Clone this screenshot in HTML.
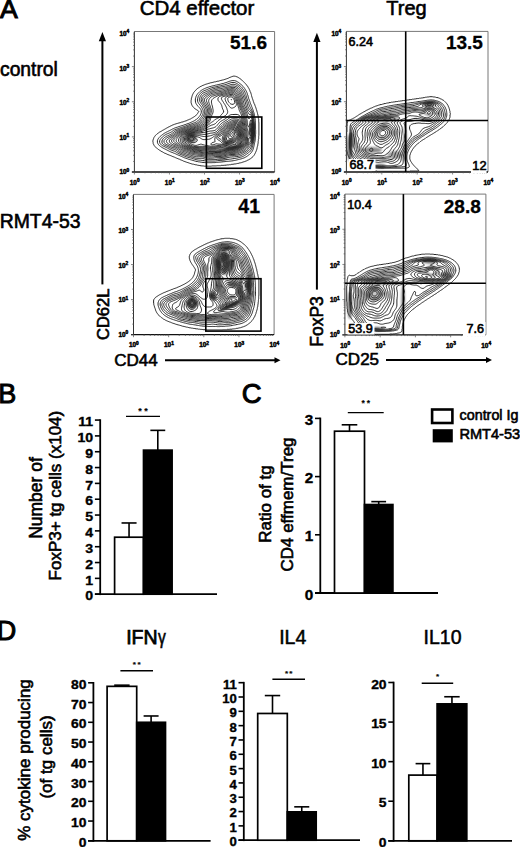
<!DOCTYPE html>
<html><head><meta charset="utf-8"><style>
html,body{margin:0;padding:0;background:#fff;}
svg{display:block;}
text{font-family:"Liberation Sans", sans-serif;fill:#000;stroke:#000;stroke-width:0.6px;}
text[font-weight=bold]{stroke-width:0.3px;}
</style></head><body>
<svg width="520" height="847" viewBox="0 0 520 847">
<rect width="520" height="847" fill="#fff"/>
<text x="0" y="18.1" font-size="26.6" font-weight="normal" text-anchor="start" style="stroke-width:1.0px">A</text>
<text x="197" y="15" font-size="20.5" font-weight="normal" text-anchor="middle" >CD4 effector</text>
<text x="406.5" y="15.4" font-size="20" font-weight="normal" text-anchor="middle" >Treg</text>
<text x="0" y="76.4" font-size="19.3" font-weight="normal" text-anchor="start" >control</text>
<text x="-0.3" y="227.7" font-size="19.4" font-weight="normal" text-anchor="start" >RMT4-53</text>
<defs><filter id="sb" x="-5%" y="-5%" width="110%" height="110%"><feGaussianBlur stdDeviation="0.35"/></filter><filter id="sp" x="-50%" y="-50%" width="200%" height="200%"><feGaussianBlur stdDeviation="1.3"/></filter></defs>
<g filter="url(#sp)"><ellipse cx="191" cy="138" rx="4.5" ry="4" fill="#000" fill-opacity="0.52" transform="rotate(0,191,138)"/><ellipse cx="252" cy="132" rx="2.5" ry="11" fill="#000" fill-opacity="0.83" transform="rotate(0,252,132)"/><ellipse cx="223" cy="158" rx="5" ry="3" fill="#000" fill-opacity="0.3" transform="rotate(0,223,158)"/><ellipse cx="232" cy="146" rx="12" ry="2.2" fill="#000" fill-opacity="0.45" transform="rotate(-12,232,146)"/><ellipse cx="191" cy="138" rx="4.5" ry="4" fill="none" stroke="#000" stroke-width="2" stroke-opacity="0.6"/><ellipse cx="192" cy="303" rx="4" ry="4.5" fill="#000" fill-opacity="0.6" transform="rotate(0,192,303)"/><ellipse cx="213.5" cy="296" rx="3" ry="3" fill="#000" fill-opacity="0.68" transform="rotate(0,213.5,296)"/><ellipse cx="225" cy="262" rx="4" ry="13" fill="#000" fill-opacity="0.6" transform="rotate(0,225,262)"/><ellipse cx="247" cy="285" rx="2.5" ry="5" fill="#000" fill-opacity="0.68" transform="rotate(0,247,285)"/><ellipse cx="229" cy="306" rx="11" ry="2.2" fill="#000" fill-opacity="0.6" transform="rotate(-25,229,306)"/><ellipse cx="233" cy="284" rx="6" ry="3" fill="#000" fill-opacity="0.45" transform="rotate(0,233,284)"/><ellipse cx="192" cy="303.5" rx="4" ry="4.5" fill="none" stroke="#000" stroke-width="2" stroke-opacity="0.6"/><ellipse cx="350" cy="148" rx="2.5" ry="14" fill="#000" fill-opacity="0.6" transform="rotate(0,350,148)"/><ellipse cx="380" cy="119.5" rx="20" ry="2.2" fill="#000" fill-opacity="0.52" transform="rotate(0,380,119.5)"/><ellipse cx="429" cy="105" rx="6" ry="2.2" fill="#000" fill-opacity="0.6" transform="rotate(0,429,105)"/><ellipse cx="372" cy="150" rx="10" ry="3" fill="#000" fill-opacity="0.45" transform="rotate(0,372,150)"/><ellipse cx="380" cy="166" rx="6" ry="1.8" fill="#000" fill-opacity="0.75" transform="rotate(0,380,166)"/><ellipse cx="405" cy="145" rx="2" ry="18" fill="#000" fill-opacity="0.45" transform="rotate(0,405,145)"/><ellipse cx="352" cy="140" rx="3" ry="8" fill="#000" fill-opacity="0.5" transform="rotate(0,352,140)"/><ellipse cx="395" cy="155" rx="8" ry="4" fill="#000" fill-opacity="0.35" transform="rotate(0,395,155)"/><ellipse cx="383" cy="132" rx="7" ry="6" fill="none" stroke="#000" stroke-width="2" stroke-opacity="0.45"/><ellipse cx="429" cy="111" rx="5" ry="4" fill="none" stroke="#000" stroke-width="2" stroke-opacity="0.5"/><ellipse cx="430" cy="261" rx="8" ry="2.5" fill="#000" fill-opacity="0.6" transform="rotate(0,430,261)"/><ellipse cx="446" cy="275" rx="6" ry="3" fill="#000" fill-opacity="0.52" transform="rotate(0,446,275)"/><ellipse cx="380" cy="282.5" rx="20" ry="2.2" fill="#000" fill-opacity="0.52" transform="rotate(0,380,282.5)"/><ellipse cx="350" cy="305" rx="2.5" ry="14" fill="#000" fill-opacity="0.52" transform="rotate(0,350,305)"/><ellipse cx="377" cy="329" rx="6" ry="1.8" fill="#000" fill-opacity="0.75" transform="rotate(0,377,329)"/><ellipse cx="374" cy="293" rx="9" ry="8" fill="#000" fill-opacity="0.22" transform="rotate(0,374,293)"/><ellipse cx="403" cy="300" rx="2" ry="15" fill="#000" fill-opacity="0.38" transform="rotate(0,403,300)"/><ellipse cx="374" cy="293" rx="7" ry="6" fill="none" stroke="#000" stroke-width="2" stroke-opacity="0.45"/><ellipse cx="432" cy="271" rx="6" ry="4" fill="none" stroke="#000" stroke-width="2" stroke-opacity="0.5"/></g>
<g filter="url(#sb)">
<path d="M211.5,166.1 210.5,166.2 209.5,166.2 208.5,166.2 207.5,166.2 206.5,166.2 205.5,166.2 204.5,166.2 203.7,166.0 202.8,165.9 201.8,165.9 201.0,165.7 200.0,165.7 199.2,165.4 198.2,165.3 197.5,165.2 196.8,164.9 195.8,164.8 195.0,164.7 194.2,164.4 193.4,164.2 192.5,164.1 191.8,163.9 191.0,163.7 190.2,163.4 189.5,163.2 188.8,162.9 188.0,162.7 187.2,162.4 186.5,162.2 185.8,161.9 185.0,161.7 184.2,161.3 183.5,161.1 182.9,160.8 182.2,160.4 181.5,160.2 180.8,159.9 180.0,159.6 179.4,159.2 178.7,159.0 178.0,158.7 177.2,158.4 176.5,158.1 175.8,157.8 175.2,157.5 174.5,157.2 173.8,156.9 173.0,156.7 172.2,156.3 171.6,156.0 170.9,155.8 170.2,155.4 169.5,155.2 168.8,154.9 168.0,154.6 167.2,154.3 166.7,154.0 166.0,153.7 165.2,153.3 164.5,153.1 163.9,152.8 163.2,152.3 162.7,152.0 162.0,151.7 161.2,151.3 160.8,150.9 160.0,150.6 159.5,150.2 158.9,149.8 158.2,149.3 157.8,148.9 157.2,148.5 156.5,148.1 156.0,147.6 155.5,147.1 155.0,146.5 154.5,146.0 154.2,145.5 153.8,144.8 153.5,144.0 153.2,143.5 153.1,142.5 152.9,141.8 152.9,140.8 153.1,140.0 153.3,139.2 153.6,138.5 153.8,137.8 154.2,137.2 154.7,136.5 155.0,136.0 155.5,135.4 156.0,134.9 156.5,134.4 157.0,133.9 157.7,133.5 158.2,133.1 158.8,132.7 159.4,132.2 160.0,131.9 160.8,131.6 161.2,131.2 162.0,130.8 162.5,130.4 163.2,130.1 163.8,129.7 164.5,129.3 165.1,129.0 165.8,128.6 166.4,128.2 167.0,127.9 167.7,127.5 168.2,127.2 169.0,126.8 169.7,126.5 170.2,126.2 171.0,125.8 171.7,125.5 172.2,125.2 173.0,124.9 173.8,124.6 174.5,124.3 175.2,124.1 176.0,123.8 176.8,123.6 177.5,123.4 178.2,123.2 179.0,122.9 179.9,122.8 180.7,122.5 181.4,122.2 182.2,122.1 183.0,121.8 183.8,121.6 184.5,121.3 185.2,121.1 186.0,120.8 186.8,120.6 187.4,120.2 188.1,120.0 188.8,119.6 189.5,119.3 190.2,119.1 190.9,118.8 191.5,118.3 192.1,118.0 192.8,117.6 193.4,117.2 194.0,116.9 194.6,116.5 195.1,116.0 195.8,115.5 196.2,115.1 196.8,114.6 197.1,114.0 197.6,113.5 198.0,112.8 198.3,112.2 198.8,111.5 198.5,111.0 198.0,110.7 197.3,110.2 196.8,109.9 196.1,109.5 195.5,109.1 194.9,108.8 194.4,108.2 193.9,107.8 193.4,107.2 193.0,106.8 192.5,106.0 192.1,105.5 191.8,104.8 191.5,104.0 191.3,103.2 191.1,102.5 191.1,101.5 191.1,100.5 191.3,99.8 191.3,98.8 191.6,98.0 191.8,97.2 192.0,96.4 192.2,95.7 192.5,94.9 192.8,94.2 193.2,93.5 193.5,92.9 193.9,92.2 194.3,91.8 194.8,91.2 195.2,90.7 195.8,90.2 196.2,89.7 196.8,89.2 197.2,88.7 197.9,88.2 198.5,87.8 199.0,87.4 199.8,87.1 200.2,86.7 201.0,86.3 201.7,86.0 202.2,85.7 203.0,85.3 203.8,85.1 204.4,84.8 205.2,84.5 205.9,84.2 206.7,84.0 207.4,83.8 208.2,83.5 209.0,83.3 209.8,83.1 210.5,82.8 211.2,82.7 212.2,82.5 213.0,82.3 213.8,82.1 214.5,81.9 215.5,81.8 216.2,81.6 217.0,81.3 217.8,81.2 218.8,81.1 219.5,80.8 220.2,80.6 221.0,80.4 221.9,80.2 222.6,80.0 223.5,79.8 224.2,79.6 225.0,79.3 225.8,79.1 226.5,78.8 227.2,78.6 228.0,78.3 228.7,78.0 229.2,77.7 230.0,77.3 230.8,77.1 231.4,76.8 232.2,76.5 233.0,76.3 233.8,76.1 234.8,76.2 235.5,76.3 236.2,76.6 237.0,76.8 237.8,77.2 238.3,77.5 239.0,77.9 239.6,78.2 240.1,78.8 240.8,79.2 241.2,79.6 241.8,80.0 242.3,80.5 242.8,81.0 243.3,81.5 243.8,82.0 244.3,82.5 244.8,83.0 245.3,83.5 245.8,84.0 246.2,84.7 246.8,85.2 247.1,85.8 247.6,86.2 248.0,86.9 248.3,87.5 248.7,88.2 249.1,88.8 249.4,89.5 249.7,90.2 250.0,90.9 250.2,91.7 250.6,92.2 250.8,93.0 251.1,93.8 251.3,94.5 251.5,95.4 251.7,96.2 251.9,97.0 252.2,97.8 252.4,98.5 252.7,99.2 252.9,100.0 253.2,100.8 253.4,101.5 253.7,102.2 253.9,103.0 254.2,103.7 254.6,104.2 254.8,105.0 255.1,105.8 255.4,106.5 255.7,107.2 255.9,108.0 256.2,108.8 256.4,109.5 256.7,110.2 256.8,111.0 257.1,111.8 257.3,112.5 257.5,113.4 257.7,114.2 257.9,115.0 258.1,115.8 258.2,116.8 258.4,117.5 258.4,118.5 258.7,119.2 258.7,120.2 258.7,121.2 258.8,122.0 258.9,123.0 258.9,124.0 258.9,125.0 258.9,126.0 258.9,127.0 258.9,128.0 258.9,129.0 258.9,130.0 258.9,131.0 258.9,132.0 258.9,133.0 258.9,134.0 258.9,135.0 258.8,135.8 258.7,136.8 258.7,137.8 258.7,138.8 258.4,139.5 258.4,140.5 258.2,141.3 258.2,142.2 258.1,143.2 257.9,144.0 257.8,144.8 257.7,145.8 257.4,146.5 257.2,147.3 257.1,148.2 256.8,149.0 256.7,149.8 256.4,150.5 256.1,151.2 255.8,152.0 255.5,152.6 255.2,153.2 254.8,154.0 254.5,154.6 254.1,155.2 253.7,155.8 253.2,156.3 252.8,156.8 252.2,157.3 251.8,157.8 251.1,158.2 250.5,158.7 250.0,159.1 249.2,159.4 248.6,159.8 248.0,160.1 247.2,160.4 246.6,160.8 246.0,161.1 245.2,161.3 244.5,161.6 243.8,161.8 243.0,162.1 242.2,162.3 241.5,162.6 240.6,162.8 239.8,162.9 239.0,163.2 238.2,163.4 237.3,163.5 236.5,163.7 235.8,163.9 234.8,163.9 234.0,164.2 233.1,164.2 232.2,164.4 231.2,164.4 230.5,164.7 229.5,164.7 228.8,164.9 227.8,164.9 226.8,165.0 226.0,165.2 225.0,165.2 224.2,165.3 223.2,165.4 222.2,165.4 221.2,165.4 220.5,165.7 219.5,165.7 218.5,165.7 217.5,165.7 216.6,165.8 215.8,165.9 214.8,165.9 213.8,165.9 212.8,165.9 211.8,165.9ZM215.8,162.5 214.8,162.6 213.8,162.6 212.8,162.6 211.8,162.7 210.8,162.7 209.8,162.7 208.8,162.7 207.8,162.7 206.8,162.6 205.8,162.6 204.8,162.6 204.0,162.5 203.0,162.4 202.0,162.3 201.2,162.2 200.2,162.0 199.5,161.9 198.5,161.8 197.8,161.6 197.0,161.5 196.0,161.3 195.2,161.1 194.5,160.9 193.8,160.7 193.0,160.4 192.2,160.2 191.5,160.0 190.7,159.8 189.8,159.5 189.0,159.3 188.2,159.1 187.5,158.8 186.8,158.6 186.0,158.3 185.2,158.0 184.5,157.8 183.9,157.5 183.2,157.2 182.5,156.9 181.8,156.5 181.1,156.2 180.5,156.0 179.8,155.7 179.0,155.4 178.2,155.0 177.6,154.8 177.0,154.5 176.2,154.1 175.5,153.8 174.8,153.5 174.2,153.2 173.5,153.0 172.8,152.7 172.0,152.4 171.2,152.1 170.5,151.8 169.9,151.5 169.2,151.2 168.5,150.8 167.9,150.5 167.2,150.2 166.5,149.8 166.0,149.5 165.2,149.1 164.5,148.8 164.0,148.5 163.2,148.1 162.6,147.8 162.0,147.4 161.3,147.0 160.8,146.6 160.2,146.2 159.6,145.8 159.1,145.2 158.7,144.8 158.2,144.2 157.8,143.5 157.5,142.8 157.4,142.0 157.4,141.0 157.5,140.2 157.8,139.5 158.2,138.8 158.6,138.2 159.0,137.8 159.5,137.2 160.0,136.7 160.5,136.2 161.0,135.8 161.6,135.2 162.2,134.8 162.8,134.4 163.3,134.0 164.0,133.6 164.5,133.2 165.2,132.8 165.8,132.5 166.5,132.1 167.2,131.8 167.8,131.5 168.5,131.1 169.2,130.8 169.8,130.5 170.5,130.1 171.2,129.8 171.8,129.4 172.5,129.0 173.1,128.8 173.8,128.5 174.5,128.1 175.2,127.9 176.0,127.6 176.8,127.3 177.5,127.1 178.2,126.8 179.0,126.6 179.8,126.3 180.5,126.1 181.2,125.9 182.0,125.6 182.8,125.4 183.5,125.2 184.2,124.9 185.0,124.6 185.8,124.4 186.5,124.1 187.2,123.8 188.0,123.6 188.8,123.3 189.5,123.0 190.1,122.8 190.8,122.4 191.5,122.1 192.2,121.8 192.8,121.5 193.5,121.2 194.2,120.8 194.8,120.5 195.5,120.0 196.0,119.7 196.5,119.2 197.2,118.8 197.7,118.2 198.2,117.8 198.7,117.2 199.1,116.8 199.5,116.2 200.0,115.6 200.3,115.0 200.7,114.2 201.0,113.5 201.2,112.8 201.3,112.0 201.3,111.0 201.1,110.2 200.8,109.5 200.4,109.0 200.0,108.4 199.5,107.8 199.0,107.3 198.5,106.8 198.0,106.2 197.6,105.8 197.1,105.2 196.8,104.7 196.3,104.0 196.0,103.5 195.7,102.8 195.5,102.0 195.4,101.0 195.3,100.0 195.4,99.0 195.5,98.2 195.8,97.4 196.0,96.6 196.3,96.0 196.7,95.2 197.0,94.7 197.5,94.0 197.9,93.5 198.4,93.0 198.9,92.5 199.4,92.0 199.9,91.5 200.5,91.0 201.0,90.7 201.6,90.2 202.2,89.8 202.8,89.5 203.5,89.1 204.2,88.8 204.8,88.5 205.5,88.2 206.2,87.9 207.0,87.6 207.8,87.3 208.5,87.1 209.2,86.8 210.0,86.6 210.8,86.4 211.5,86.2 212.2,86.0 213.2,85.8 214.0,85.6 214.8,85.4 215.5,85.2 216.5,85.0 217.2,84.8 218.0,84.7 218.8,84.5 219.8,84.3 220.5,84.1 221.2,83.9 222.0,83.7 222.9,83.5 223.8,83.3 224.5,83.0 225.2,82.8 226.0,82.6 226.8,82.3 227.5,82.0 228.2,81.8 229.0,81.5 229.7,81.2 230.4,81.0 231.2,80.8 232.0,80.6 232.8,80.5 233.8,80.5 234.5,80.6 235.2,80.8 236.0,81.0 236.8,81.4 237.4,81.8 238.0,82.1 238.6,82.5 239.2,83.0 239.8,83.4 240.2,83.8 240.8,84.2 241.4,84.8 241.9,85.2 242.4,85.8 242.9,86.2 243.3,86.8 243.8,87.3 244.2,88.0 244.7,88.5 245.0,89.0 245.4,89.8 245.8,90.3 246.1,91.0 246.5,91.8 246.8,92.4 247.0,93.0 247.3,93.8 247.5,94.5 247.8,95.2 248.0,96.0 248.2,96.9 248.5,97.8 248.7,98.5 249.0,99.2 249.2,100.0 249.5,100.7 249.8,101.4 250.0,102.1 250.2,102.8 250.5,103.5 250.8,104.2 251.1,105.0 251.4,105.8 251.7,106.5 252.0,107.2 252.2,107.9 252.5,108.6 252.8,109.3 253.0,110.0 253.3,110.8 253.5,111.6 253.8,112.4 254.0,113.2 254.2,114.0 254.4,114.8 254.5,115.5 254.7,116.5 254.9,117.2 255.0,118.1 255.1,119.0 255.2,120.0 255.3,120.8 255.4,121.8 255.4,122.8 255.5,123.8 255.5,124.8 255.5,125.8 255.5,126.8 255.5,127.8 255.5,128.7 255.5,129.5 255.6,130.5 255.6,131.5 255.6,132.5 255.6,133.5 255.5,134.5 255.5,135.2 255.4,136.2 255.4,137.2 255.3,138.2 255.2,139.0 255.1,140.0 255.0,140.9 254.9,141.8 254.7,142.5 254.5,143.5 254.3,144.2 254.1,145.0 254.0,145.8 253.8,146.8 253.6,147.5 253.4,148.2 253.2,149.0 252.9,149.8 252.6,150.5 252.2,151.1 251.9,151.8 251.5,152.3 251.0,152.9 250.5,153.5 250.0,153.9 249.5,154.3 249.0,154.8 248.4,155.2 247.8,155.7 247.2,156.1 246.7,156.5 246.0,156.9 245.4,157.2 244.8,157.6 244.0,157.9 243.2,158.2 242.5,158.4 241.8,158.7 241.0,158.9 240.2,159.1 239.5,159.3 238.7,159.5 237.8,159.7 237.0,159.9 236.2,160.1 235.5,160.3 234.5,160.5 233.8,160.6 233.0,160.8 232.0,160.9 231.2,161.0 230.2,161.1 229.2,161.2 228.5,161.3 227.5,161.4 226.5,161.5 225.8,161.5 224.8,161.6 223.8,161.7 223.0,161.8 222.0,161.9 221.2,162.0 220.2,162.1 219.2,162.2 218.5,162.3 217.5,162.4 216.5,162.4 215.8,162.5ZM215.5,161.0 214.5,161.1 213.5,161.1 212.5,161.1 211.5,161.1 210.5,161.1 209.5,161.1 208.5,161.1 207.5,161.1 206.5,161.0 205.8,160.9 204.8,160.8 204.0,160.7 203.0,160.5 202.2,160.4 201.2,160.3 200.5,160.2 199.5,160.2 198.5,160.1 197.8,160.0 196.8,159.8 196.0,159.6 195.2,159.4 194.5,159.2 193.8,159.0 193.0,158.7 192.2,158.5 191.5,158.2 190.6,158.0 189.8,157.8 189.0,157.6 188.2,157.4 187.5,157.2 186.8,157.0 186.0,156.7 185.2,156.5 184.5,156.1 183.8,155.8 183.1,155.5 182.5,155.2 181.8,154.9 181.0,154.6 180.2,154.3 179.6,154.0 179.0,153.7 178.2,153.3 177.6,153.0 177.0,152.6 176.4,152.2 175.8,151.8 175.1,151.5 174.5,151.2 173.8,151.0 173.0,150.7 172.2,150.5 171.5,150.2 170.8,149.9 170.0,149.6 169.4,149.2 168.8,148.9 168.1,148.5 167.5,148.1 166.8,147.8 166.2,147.5 165.5,147.2 164.8,146.8 164.0,146.5 163.5,146.2 162.8,145.9 162.1,145.5 161.5,145.1 161.0,144.6 160.5,144.1 160.1,143.5 159.8,142.8 159.6,142.0 159.6,141.0 159.9,140.2 160.2,139.5 160.6,139.0 161.0,138.5 161.5,137.9 162.0,137.4 162.5,136.9 163.0,136.5 163.6,136.0 164.2,135.5 164.8,135.2 165.4,134.8 166.0,134.4 166.8,134.0 167.4,133.8 168.0,133.5 168.8,133.2 169.5,132.9 170.2,132.6 170.9,132.2 171.5,131.9 172.0,131.5 172.7,131.0 173.2,130.6 173.8,130.2 174.5,129.9 175.2,129.6 176.0,129.3 176.8,129.0 177.5,128.8 178.2,128.5 178.9,128.2 179.6,128.0 180.3,127.8 181.1,127.5 181.8,127.2 182.6,127.0 183.3,126.8 184.0,126.5 184.8,126.2 185.5,126.0 186.2,125.7 187.0,125.4 187.8,125.1 188.5,124.9 189.2,124.6 190.0,124.3 190.8,124.1 191.5,123.8 192.2,123.5 193.0,123.3 193.7,123.0 194.4,122.8 195.0,122.5 195.8,122.2 196.5,121.8 197.0,121.4 197.6,121.0 198.1,120.5 198.6,120.0 199.1,119.5 199.5,119.0 200.0,118.4 200.5,117.8 201.0,117.2 201.3,116.8 201.8,116.2 202.1,115.5 202.5,114.8 202.8,114.2 203.0,113.4 203.2,112.5 203.2,111.5 203.1,110.5 202.9,109.8 202.6,109.0 202.2,108.4 201.9,107.8 201.5,107.1 201.1,106.5 200.7,106.0 200.2,105.3 199.8,104.8 199.3,104.2 198.9,103.8 198.5,103.2 198.1,102.5 197.8,101.8 197.6,101.0 197.6,100.0 197.6,99.0 197.8,98.2 198.0,97.2 198.2,96.5 198.5,95.9 198.9,95.2 199.2,94.7 199.8,94.1 200.2,93.5 200.8,93.0 201.2,92.6 201.8,92.1 202.3,91.8 203.0,91.3 203.5,91.0 204.2,90.7 205.0,90.4 205.8,90.1 206.5,89.8 207.1,89.5 207.8,89.2 208.5,88.9 209.2,88.6 210.0,88.3 210.8,88.0 211.5,87.8 212.2,87.6 213.0,87.4 213.8,87.2 214.8,87.0 215.5,86.8 216.2,86.7 217.0,86.5 218.0,86.2 218.8,86.1 219.5,85.9 220.4,85.8 221.2,85.6 222.0,85.4 222.8,85.2 223.7,85.0 224.5,84.8 225.2,84.6 226.0,84.4 226.8,84.2 227.5,83.9 228.2,83.7 229.0,83.4 229.8,83.1 230.5,82.8 231.2,82.6 232.0,82.5 233.0,82.4 234.0,82.4 234.8,82.6 235.5,82.9 236.2,83.2 236.8,83.5 237.5,84.0 238.0,84.3 238.6,84.8 239.2,85.2 239.8,85.6 240.2,86.0 240.8,86.5 241.3,87.0 241.8,87.5 242.2,88.1 242.8,88.7 243.2,89.2 243.5,89.8 244.0,90.5 244.3,91.0 244.6,91.8 245.0,92.5 245.2,93.2 245.5,93.8 245.8,94.5 246.0,95.3 246.2,96.1 246.5,96.9 246.7,97.8 246.9,98.5 247.2,99.2 247.4,100.0 247.7,100.8 248.0,101.4 248.2,102.1 248.5,102.8 248.8,103.6 249.0,104.5 249.2,105.2 249.5,106.0 249.8,106.5 250.1,107.2 250.5,107.8 250.9,108.5 251.2,109.1 251.6,109.8 251.9,110.5 252.2,111.2 252.5,112.0 252.7,112.8 253.0,113.5 253.2,114.2 253.3,115.0 253.5,115.8 253.7,116.8 253.8,117.5 253.9,118.5 254.0,119.2 254.1,120.2 254.2,121.2 254.3,122.0 254.3,123.0 254.4,124.0 254.4,125.0 254.4,126.0 254.4,127.0 254.4,128.0 254.4,129.0 254.4,130.0 254.5,131.0 254.5,132.0 254.5,133.0 254.5,134.0 254.4,135.0 254.3,136.0 254.3,137.0 254.2,137.8 254.1,138.8 254.0,139.8 254.0,140.5 253.8,141.5 253.6,142.2 253.4,143.0 253.2,143.8 253.0,144.5 252.8,145.4 252.5,146.2 252.3,147.0 252.1,147.8 251.9,148.5 251.6,149.2 251.2,149.8 250.8,150.5 250.5,151.0 250.0,151.5 249.5,152.0 248.8,152.5 248.2,152.9 247.8,153.3 247.1,153.8 246.5,154.2 246.0,154.5 245.4,155.0 244.8,155.4 244.2,155.8 243.5,156.1 242.8,156.5 242.1,156.8 241.4,157.0 240.6,157.2 239.8,157.5 239.0,157.6 238.2,157.8 237.4,158.0 236.5,158.2 235.8,158.3 234.8,158.5 234.0,158.6 233.0,158.7 232.2,158.8 231.2,159.0 230.5,159.1 229.5,159.2 228.8,159.3 227.8,159.5 227.0,159.6 226.0,159.7 225.2,159.8 224.2,160.0 223.5,160.1 222.5,160.2 221.8,160.3 220.8,160.4 219.9,160.5 219.0,160.6 218.0,160.7 217.2,160.8 216.2,160.9 215.5,161.0ZM215.2,159.5 214.2,159.6 213.2,159.6 212.2,159.6 211.2,159.7 210.2,159.7 209.2,159.7 208.2,159.7 207.2,159.6 206.5,159.5 205.5,159.3 204.8,159.0 204.0,158.8 203.2,158.6 202.5,158.5 201.5,158.4 200.5,158.4 199.5,158.5 198.5,158.5 197.5,158.4 196.5,158.3 195.8,158.2 195.0,158.0 194.2,157.7 193.5,157.5 192.8,157.2 192.0,157.0 191.2,156.8 190.4,156.5 189.5,156.3 188.8,156.1 188.0,155.9 187.2,155.7 186.5,155.5 185.8,155.2 185.0,154.9 184.2,154.6 183.5,154.3 182.8,154.0 182.2,153.8 181.5,153.5 180.8,153.2 180.0,152.8 179.3,152.5 178.8,152.1 178.2,151.8 177.6,151.2 177.0,150.8 176.5,150.4 175.9,150.0 175.2,149.7 174.5,149.4 173.8,149.2 172.8,149.0 172.0,148.8 171.2,148.6 170.6,148.2 170.0,148.0 169.2,147.5 168.8,147.2 168.0,146.8 167.4,146.5 166.8,146.2 166.0,145.8 165.2,145.5 164.7,145.2 164.0,144.9 163.4,144.5 162.8,144.0 162.4,143.5 162.0,142.8 161.9,142.0 162.0,141.0 162.2,140.2 162.5,139.7 163.0,139.0 163.4,138.5 163.9,138.0 164.5,137.5 165.0,137.2 165.6,136.8 166.2,136.4 167.0,136.0 167.6,135.8 168.2,135.5 169.0,135.1 169.8,134.8 170.4,134.5 171.0,134.2 171.7,133.8 172.2,133.4 172.8,133.0 173.3,132.5 173.9,132.0 174.5,131.5 175.0,131.2 175.8,130.8 176.4,130.5 177.0,130.2 177.8,130.0 178.5,129.7 179.2,129.4 180.0,129.1 180.8,128.9 181.5,128.6 182.2,128.3 183.0,128.1 183.8,127.8 184.5,127.5 185.2,127.3 185.9,127.0 186.6,126.8 187.3,126.5 188.0,126.2 188.8,126.0 189.5,125.7 190.3,125.5 191.1,125.2 191.9,125.0 192.7,124.8 193.5,124.5 194.2,124.3 195.0,124.0 195.8,123.8 196.4,123.5 197.0,123.2 197.8,122.8 198.2,122.4 198.8,122.0 199.3,121.5 199.8,121.0 200.2,120.4 200.8,119.8 201.2,119.3 201.7,118.8 202.1,118.2 202.5,117.7 203.0,117.0 203.3,116.5 203.6,115.8 204.0,115.0 204.2,114.2 204.5,113.5 204.6,112.8 204.8,111.9 204.8,111.0 204.7,110.2 204.5,109.4 204.2,108.7 203.9,108.0 203.5,107.3 203.2,106.8 202.8,106.0 202.5,105.5 202.0,104.8 201.6,104.2 201.2,103.7 200.8,103.1 200.4,102.5 200.0,101.8 199.8,101.1 199.6,100.2 199.6,99.2 199.7,98.2 199.9,97.5 200.1,96.8 200.4,96.0 200.8,95.5 201.2,94.8 201.7,94.2 202.2,93.8 202.8,93.3 203.3,93.0 204.0,92.6 204.8,92.3 205.5,92.0 206.1,91.8 206.8,91.5 207.5,91.1 208.2,90.8 208.8,90.5 209.5,90.2 210.2,89.8 211.0,89.5 211.8,89.3 212.5,89.0 213.2,88.8 214.0,88.6 214.8,88.4 215.5,88.2 216.3,88.0 217.2,87.8 218.0,87.6 218.8,87.5 219.8,87.3 220.5,87.1 221.2,87.0 222.2,86.8 223.0,86.6 223.8,86.4 224.8,86.3 225.5,86.1 226.2,86.0 227.2,85.8 228.0,85.5 228.8,85.3 229.5,85.1 230.2,84.8 231.0,84.6 231.8,84.4 232.8,84.3 233.8,84.3 234.8,84.5 235.5,84.7 236.1,85.0 236.8,85.3 237.5,85.8 238.0,86.1 238.6,86.5 239.2,87.0 239.8,87.5 240.2,88.0 240.7,88.5 241.2,89.0 241.6,89.5 242.0,90.1 242.4,90.8 242.8,91.4 243.0,92.0 243.4,92.8 243.7,93.5 244.0,94.2 244.2,94.8 244.5,95.5 244.8,96.2 245.1,97.0 245.3,97.8 245.5,98.5 245.8,99.3 246.0,100.0 246.3,100.8 246.5,101.5 246.8,102.2 247.0,103.0 247.2,103.8 247.5,104.8 247.6,105.5 247.8,106.2 248.1,107.0 248.5,107.8 248.8,108.2 249.2,108.9 249.8,109.5 250.2,110.0 250.6,110.5 251.0,111.1 251.4,111.8 251.7,112.5 252.0,113.1 252.2,113.8 252.5,114.7 252.7,115.5 252.9,116.2 253.0,117.0 253.2,118.0 253.3,118.8 253.4,119.8 253.5,120.5 253.6,121.5 253.6,122.5 253.7,123.5 253.7,124.5 253.8,125.2 253.8,126.2 253.8,127.2 253.8,128.2 253.8,129.2 253.8,130.2 253.8,131.2 253.9,132.2 253.8,133.2 253.8,134.2 253.7,135.0 253.6,136.0 253.6,137.0 253.5,137.8 253.4,138.8 253.3,139.8 253.2,140.5 253.0,141.5 252.8,142.2 252.6,143.0 252.3,143.8 252.1,144.5 251.8,145.2 251.5,146.0 251.3,146.8 251.0,147.4 250.7,148.0 250.3,148.8 249.9,149.2 249.5,149.8 249.0,150.3 248.5,150.8 248.0,151.2 247.3,151.8 246.8,152.2 246.2,152.5 245.5,153.0 245.0,153.3 244.3,153.8 243.8,154.1 243.1,154.5 242.5,154.8 241.8,155.2 241.1,155.5 240.3,155.8 239.5,156.0 238.8,156.2 238.0,156.3 237.0,156.5 236.2,156.6 235.2,156.7 234.5,156.8 233.5,156.9 232.5,156.9 231.5,157.0 230.8,157.0 229.8,157.2 229.0,157.3 228.2,157.5 227.2,157.7 226.5,157.9 225.8,158.1 225.0,158.3 224.1,158.5 223.2,158.7 222.5,158.8 221.5,158.9 220.8,159.0 219.8,159.1 218.8,159.2 217.8,159.2 217.0,159.3 216.0,159.4 215.2,159.5ZM211.5,158.3 210.5,158.3 209.5,158.4 208.5,158.3 207.6,158.2 206.8,158.1 206.0,157.9 205.2,157.6 204.5,157.4 203.8,157.2 203.0,157.0 202.0,156.8 201.0,156.8 200.0,156.8 199.0,156.9 198.0,156.9 197.0,156.8 196.2,156.8 195.2,156.6 194.5,156.4 193.8,156.2 193.0,155.9 192.2,155.7 191.5,155.5 190.7,155.2 189.8,155.0 189.0,154.8 188.2,154.6 187.5,154.4 186.8,154.1 186.0,153.8 185.2,153.6 184.5,153.3 183.8,153.0 183.0,152.8 182.3,152.5 181.6,152.2 181.0,152.0 180.2,151.6 179.7,151.2 179.1,150.8 178.5,150.3 178.0,149.9 177.5,149.5 176.8,149.0 176.2,148.7 175.5,148.3 174.8,148.0 174.0,147.8 173.2,147.7 172.5,147.5 171.8,147.2 171.0,146.9 170.2,146.6 169.6,146.2 169.0,145.9 168.3,145.5 167.8,145.2 167.0,144.8 166.4,144.5 165.8,144.2 165.1,143.8 164.6,143.2 164.2,142.7 164.0,142.0 164.0,141.2 164.2,140.4 164.7,139.8 165.1,139.2 165.6,138.8 166.2,138.3 166.8,138.0 167.5,137.5 168.0,137.2 168.8,136.9 169.5,136.5 170.0,136.2 170.8,135.8 171.4,135.5 172.0,135.1 172.5,134.8 173.2,134.2 173.8,133.8 174.2,133.4 174.8,133.0 175.3,132.5 176.0,132.1 176.5,131.8 177.2,131.4 178.0,131.0 178.7,130.8 179.3,130.5 180.0,130.2 180.8,130.0 181.5,129.7 182.2,129.4 183.0,129.1 183.8,128.8 184.5,128.5 185.2,128.3 185.9,128.0 186.6,127.8 187.3,127.5 188.0,127.2 188.8,127.0 189.6,126.8 190.5,126.5 191.2,126.3 192.0,126.1 192.8,126.0 193.5,125.8 194.4,125.5 195.2,125.2 195.9,125.0 196.5,124.8 197.2,124.4 198.0,124.0 198.5,123.7 199.2,123.2 199.8,122.8 200.2,122.3 200.8,121.8 201.2,121.3 201.8,120.8 202.2,120.3 202.7,119.8 203.2,119.2 203.6,118.8 204.0,118.0 204.3,117.5 204.6,116.8 204.9,116.0 205.2,115.2 205.4,114.5 205.7,113.8 205.9,113.0 206.1,112.2 206.2,111.2 206.2,110.2 206.0,109.4 205.8,108.7 205.5,108.0 205.1,107.2 204.8,106.7 204.3,106.0 204.0,105.4 203.6,104.8 203.2,104.2 202.8,103.5 202.4,103.0 202.0,102.3 201.7,101.8 201.4,101.0 201.3,100.0 201.2,99.5 201.3,98.5 201.5,97.8 201.8,97.0 202.2,96.2 202.6,95.8 203.1,95.2 203.7,94.8 204.2,94.4 205.0,94.1 205.7,93.8 206.2,93.5 207.0,93.1 207.6,92.8 208.2,92.3 208.8,92.0 209.5,91.7 210.2,91.3 211.0,91.0 211.7,90.8 212.5,90.5 213.2,90.3 214.0,90.0 214.8,89.8 215.5,89.6 216.2,89.4 217.0,89.2 218.0,89.0 218.8,88.9 219.8,88.8 220.5,88.6 221.2,88.5 222.2,88.3 223.0,88.1 223.8,87.9 224.6,87.8 225.5,87.6 226.2,87.4 227.0,87.2 227.9,87.0 228.8,86.8 229.5,86.6 230.2,86.4 231.0,86.2 232.0,86.0 232.8,86.0 233.8,86.0 234.5,86.1 235.2,86.3 236.0,86.6 236.8,87.0 237.2,87.3 237.9,87.8 238.5,88.2 239.0,88.7 239.5,89.2 240.0,89.8 240.4,90.2 240.8,90.8 241.2,91.5 241.5,92.2 241.8,92.8 242.1,93.5 242.5,94.2 242.8,94.8 243.1,95.5 243.4,96.2 243.7,97.0 243.9,97.8 244.1,98.5 244.4,99.2 244.6,100.0 244.8,100.8 245.0,101.5 245.3,102.2 245.5,103.1 245.7,104.0 245.9,104.8 246.1,105.5 246.3,106.2 246.6,107.0 246.9,107.8 247.2,108.4 247.6,109.0 248.0,109.7 248.4,110.2 248.8,110.8 249.2,111.3 249.8,111.8 250.4,112.2 250.8,112.8 251.2,113.5 251.5,114.0 251.8,114.8 252.1,115.5 252.3,116.2 252.5,117.2 252.6,118.0 252.8,118.8 252.9,119.8 253.0,120.5 253.1,121.5 253.2,122.5 253.3,123.2 253.3,124.2 253.3,125.2 253.3,126.2 253.4,127.2 253.4,128.2 253.4,129.2 253.4,130.2 253.4,131.2 253.4,132.2 253.4,133.2 253.3,134.2 253.2,135.1 253.2,136.0 253.1,137.0 253.0,137.8 252.8,138.8 252.7,139.5 252.6,140.5 252.5,141.2 252.2,142.0 252.0,142.8 251.7,143.5 251.3,144.2 251.0,144.8 250.6,145.5 250.2,146.0 249.8,146.7 249.4,147.2 249.0,147.9 248.6,148.5 248.2,149.0 247.8,149.6 247.2,150.1 246.8,150.5 246.1,151.0 245.5,151.5 245.0,151.8 244.2,152.2 243.8,152.5 243.0,152.9 242.3,153.2 241.8,153.6 241.0,153.9 240.2,154.2 239.5,154.5 238.8,154.7 238.0,154.9 237.2,155.1 236.3,155.2 235.5,155.4 234.5,155.5 233.8,155.5 232.8,155.6 231.8,155.6 230.8,155.6 229.8,155.7 229.0,155.9 228.2,156.0 227.2,156.2 226.5,156.4 225.8,156.6 225.0,156.8 224.2,157.0 223.2,157.2 222.5,157.4 221.8,157.5 220.8,157.6 219.8,157.7 218.8,157.7 217.8,157.7 216.8,157.7 216.0,157.8 215.0,157.9 214.2,158.0 213.2,158.1 212.2,158.2 211.5,158.3ZM210.8,157.0 209.8,157.1 208.8,157.1 207.9,157.0 207.0,156.8 206.2,156.6 205.5,156.4 204.8,156.2 204.0,156.0 203.0,155.8 202.2,155.6 201.2,155.5 200.5,155.5 199.5,155.4 198.5,155.4 197.5,155.3 196.5,155.2 195.8,155.1 195.0,155.0 194.0,154.8 193.2,154.6 192.5,154.4 191.7,154.2 190.8,154.0 190.0,153.8 189.2,153.5 188.5,153.3 187.8,153.0 187.1,152.8 186.4,152.5 185.7,152.2 184.9,152.0 184.0,151.8 183.2,151.5 182.5,151.2 181.9,151.0 181.2,150.7 180.5,150.2 180.0,149.9 179.5,149.5 178.8,149.0 178.2,148.6 177.8,148.2 177.0,147.8 176.5,147.5 175.8,147.1 175.0,146.8 174.2,146.5 173.5,146.3 172.8,146.1 172.0,145.8 171.2,145.5 170.7,145.2 170.0,144.8 169.4,144.5 168.8,144.1 168.2,143.7 167.6,143.2 167.0,142.8 166.6,142.2 166.4,141.5 166.5,140.8 167.0,140.0 167.5,139.5 168.0,139.1 168.5,138.7 169.2,138.2 169.8,137.9 170.3,137.5 171.0,137.1 171.5,136.8 172.2,136.3 172.8,135.9 173.3,135.5 174.0,135.0 174.5,134.6 175.0,134.2 175.5,133.8 176.2,133.2 176.8,132.9 177.4,132.5 178.0,132.2 178.8,131.8 179.5,131.5 180.1,131.2 180.8,131.0 181.5,130.7 182.2,130.4 183.0,130.1 183.8,129.8 184.5,129.5 185.2,129.3 186.0,129.0 186.7,128.8 187.4,128.5 188.2,128.2 189.0,128.0 189.8,127.8 190.5,127.6 191.2,127.4 192.0,127.2 192.9,127.0 193.8,126.8 194.5,126.6 195.2,126.4 196.0,126.1 196.8,125.8 197.5,125.5 198.1,125.2 198.8,124.9 199.4,124.5 200.0,124.1 200.5,123.7 201.0,123.2 201.6,122.8 202.2,122.2 202.8,121.8 203.2,121.3 203.8,120.9 204.2,120.3 204.7,119.8 205.0,119.2 205.4,118.5 205.7,117.8 205.9,117.0 206.1,116.2 206.4,115.5 206.6,114.8 206.9,114.0 207.1,113.2 207.3,112.5 207.5,111.7 207.6,110.8 207.5,110.0 207.2,109.0 207.0,108.3 206.7,107.8 206.4,107.0 206.0,106.3 205.7,105.8 205.2,105.0 204.9,104.5 204.5,103.9 204.1,103.2 203.8,102.7 203.4,102.0 203.0,101.2 202.8,100.5 202.7,99.8 202.8,99.0 203.0,98.2 203.3,97.5 203.8,96.9 204.2,96.5 204.9,96.0 205.5,95.7 206.2,95.2 206.8,95.0 207.4,94.5 208.0,94.1 208.5,93.8 209.2,93.3 209.8,93.0 210.5,92.6 211.2,92.3 212.0,92.0 212.8,91.8 213.5,91.6 214.2,91.3 215.0,91.1 215.8,90.9 216.6,90.8 217.5,90.6 218.2,90.5 219.2,90.3 220.0,90.2 221.0,90.0 221.8,89.9 222.5,89.7 223.2,89.5 224.2,89.2 225.0,89.0 225.8,88.8 226.5,88.6 227.2,88.4 228.0,88.2 228.8,88.0 229.8,87.8 230.5,87.6 231.2,87.5 232.2,87.4 233.2,87.4 234.0,87.5 235.0,87.7 235.7,88.0 236.2,88.3 237.0,88.7 237.5,89.1 238.0,89.5 238.5,90.0 239.0,90.6 239.5,91.2 239.8,91.8 240.2,92.5 240.5,93.0 240.9,93.8 241.2,94.5 241.5,95.1 241.8,95.8 242.1,96.5 242.4,97.2 242.6,98.0 242.8,98.8 243.0,99.5 243.2,100.5 243.4,101.2 243.6,102.0 243.8,102.8 244.0,103.6 244.2,104.5 244.5,105.2 244.7,106.0 245.0,106.6 245.3,107.2 245.7,108.0 246.0,108.6 246.3,109.2 246.7,110.0 247.0,110.5 247.4,111.2 247.8,111.9 248.0,112.5 248.4,113.2 248.8,113.8 249.2,114.3 250.0,114.5 250.8,114.8 251.2,115.3 251.5,116.0 251.8,116.8 252.0,117.5 252.2,118.5 252.4,119.2 252.5,120.0 252.6,121.0 252.7,122.0 252.8,122.8 252.9,123.8 253.0,124.8 253.0,125.8 253.0,126.6 253.0,127.5 253.0,128.5 253.0,129.5 253.1,130.5 253.1,131.5 253.0,132.5 253.0,133.5 253.0,134.2 252.8,135.2 252.8,136.0 252.6,137.0 252.5,137.8 252.3,138.8 252.2,139.5 252.0,140.5 251.9,141.2 251.6,142.0 251.3,142.8 250.9,143.2 250.4,143.8 249.9,144.2 249.5,144.8 249.0,145.4 248.6,146.0 248.2,146.6 247.9,147.2 247.5,147.8 247.0,148.5 246.5,149.0 246.0,149.5 245.5,149.9 245.0,150.3 244.3,150.8 243.8,151.1 243.0,151.5 242.4,151.8 241.8,152.1 241.0,152.4 240.2,152.7 239.6,153.0 239.0,153.2 238.2,153.5 237.5,153.8 236.6,154.0 235.8,154.2 235.0,154.3 234.0,154.4 233.0,154.4 232.0,154.4 231.0,154.5 230.2,154.5 229.2,154.6 228.5,154.8 227.5,155.0 226.8,155.1 226.0,155.3 225.1,155.5 224.2,155.7 223.5,155.9 222.8,156.1 221.8,156.2 221.0,156.3 220.0,156.4 219.0,156.4 218.0,156.3 217.0,156.4 216.0,156.4 215.2,156.5 214.2,156.7 213.5,156.8 212.5,156.9 211.5,157.0 210.8,157.0ZM211.2,155.8 210.2,155.9 209.2,155.9 208.2,155.9 207.5,155.7 206.5,155.5 205.8,155.3 205.0,155.1 204.2,154.9 203.4,154.8 202.5,154.6 201.7,154.5 200.8,154.4 199.8,154.3 199.0,154.2 198.0,154.1 197.2,154.0 196.2,153.9 195.3,153.8 194.5,153.6 193.7,153.5 192.8,153.3 192.0,153.1 191.2,153.0 190.5,152.7 189.8,152.5 189.0,152.2 188.2,151.9 187.5,151.6 186.8,151.3 186.0,151.0 185.2,150.8 184.5,150.6 183.8,150.4 183.0,150.1 182.2,149.8 181.6,149.5 181.0,149.1 180.4,148.8 179.8,148.3 179.2,147.9 178.6,147.5 178.0,147.1 177.5,146.8 176.8,146.3 176.1,146.0 175.5,145.8 174.8,145.4 174.0,145.2 173.2,144.9 172.5,144.5 172.0,144.2 171.2,143.8 170.8,143.5 170.2,143.0 169.8,142.5 169.4,141.8 169.3,140.8 169.7,140.0 170.1,139.5 170.5,139.0 171.1,138.5 171.7,138.0 172.2,137.6 172.8,137.2 173.4,136.8 174.0,136.3 174.5,135.9 175.0,135.5 175.6,135.0 176.2,134.5 176.8,134.1 177.3,133.8 178.0,133.3 178.6,133.0 179.2,132.6 180.0,132.3 180.6,132.0 181.2,131.7 182.0,131.4 182.8,131.1 183.5,130.8 184.2,130.5 184.9,130.2 185.6,130.0 186.3,129.8 187.1,129.5 187.9,129.2 188.7,129.0 189.5,128.8 190.2,128.6 191.0,128.4 191.8,128.2 192.6,128.0 193.5,127.8 194.2,127.6 195.0,127.4 195.8,127.2 196.5,127.0 197.2,126.7 198.0,126.5 198.8,126.1 199.4,125.8 200.0,125.4 200.7,125.0 201.2,124.6 201.8,124.2 202.4,123.8 203.0,123.3 203.5,122.9 204.0,122.5 204.6,122.0 205.2,121.5 205.6,121.0 206.0,120.5 206.4,119.8 206.6,119.0 206.9,118.2 207.1,117.5 207.3,116.8 207.5,115.9 207.8,115.2 208.0,114.5 208.3,113.8 208.5,113.0 208.8,112.1 208.8,111.2 208.8,110.2 208.7,109.5 208.4,108.8 208.2,108.0 207.9,107.2 207.5,106.5 207.2,106.0 206.9,105.2 206.5,104.6 206.2,104.0 205.8,103.3 205.4,102.8 205.0,102.1 204.7,101.5 204.5,100.8 204.3,99.8 204.5,99.0 204.9,98.2 205.4,97.8 206.0,97.3 206.5,96.9 207.1,96.5 207.8,96.0 208.2,95.6 208.8,95.2 209.3,94.8 210.0,94.3 210.5,94.0 211.2,93.6 212.0,93.4 212.8,93.1 213.5,92.9 214.3,92.8 215.2,92.5 216.0,92.3 216.8,92.1 217.5,92.0 218.5,91.8 219.2,91.7 220.2,91.5 221.0,91.4 221.8,91.2 222.6,91.0 223.5,90.8 224.2,90.5 225.0,90.3 225.8,90.1 226.5,89.9 227.2,89.6 228.0,89.4 228.8,89.2 229.5,89.0 230.5,88.8 231.2,88.7 232.2,88.6 233.2,88.7 234.0,88.8 234.8,89.1 235.5,89.4 236.1,89.8 236.8,90.2 237.2,90.6 237.8,91.1 238.2,91.7 238.6,92.2 239.0,92.8 239.4,93.5 239.8,94.2 240.0,94.8 240.4,95.5 240.7,96.2 241.0,97.0 241.2,97.7 241.5,98.5 241.7,99.2 241.8,100.0 242.0,101.0 242.2,101.8 242.3,102.5 242.5,103.3 242.8,104.2 243.0,105.0 243.2,105.7 243.5,106.3 243.8,107.0 244.2,107.8 244.5,108.3 244.9,109.0 245.2,109.7 245.6,110.2 245.9,111.0 246.2,111.6 246.5,112.2 246.8,113.0 247.1,113.8 247.3,114.5 247.5,115.2 247.8,116.1 248.0,117.0 248.2,117.8 248.5,118.5 249.0,119.0 249.5,118.5 250.0,117.8 250.5,117.4 251.2,117.6 251.6,118.2 251.9,119.0 252.0,119.8 252.2,120.8 252.3,121.5 252.4,122.5 252.5,123.2 252.6,124.2 252.7,125.2 252.7,126.2 252.7,127.2 252.7,128.2 252.7,129.2 252.7,130.2 252.8,131.0 252.7,131.8 252.7,132.8 252.7,133.8 252.6,134.8 252.4,135.5 252.3,136.5 252.2,137.2 252.0,138.0 251.8,139.0 251.5,139.8 251.2,140.4 251.0,141.0 250.5,141.7 250.1,142.2 249.7,142.8 249.2,143.4 248.8,144.0 248.5,144.5 248.0,145.2 247.6,145.8 247.2,146.3 246.8,147.0 246.3,147.5 245.9,148.0 245.4,148.5 244.8,149.0 244.2,149.4 243.7,149.8 243.0,150.1 242.2,150.5 241.7,150.8 241.0,151.1 240.2,151.4 239.5,151.8 239.0,152.0 238.2,152.3 237.5,152.6 236.8,152.8 236.0,153.0 235.0,153.2 234.2,153.4 233.2,153.4 232.2,153.4 231.2,153.4 230.2,153.5 229.5,153.5 228.5,153.7 227.8,153.9 227.0,154.0 226.0,154.2 225.2,154.4 224.5,154.5 223.5,154.7 222.8,154.9 222.0,155.0 221.0,155.2 220.0,155.2 219.0,155.2 218.0,155.2 217.0,155.2 216.0,155.2 215.2,155.3 214.2,155.4 213.5,155.5 212.5,155.6 211.5,155.7ZM210.0,154.8 209.0,154.8 208.2,154.7 207.2,154.6 206.5,154.4 205.8,154.2 204.8,154.0 204.0,153.9 203.2,153.7 202.2,153.6 201.5,153.5 200.5,153.4 199.8,153.2 198.8,153.1 198.0,153.0 197.0,152.9 196.0,152.8 195.2,152.7 194.2,152.5 193.5,152.4 192.8,152.2 191.8,152.0 191.0,151.8 190.2,151.5 189.6,151.2 189.0,151.0 188.2,150.7 187.5,150.4 186.8,150.1 186.0,149.9 185.2,149.7 184.5,149.4 183.8,149.2 183.0,148.9 182.2,148.6 181.7,148.2 181.0,147.9 180.4,147.5 179.8,147.0 179.2,146.7 178.6,146.2 178.0,145.9 177.4,145.5 176.8,145.1 176.0,144.8 175.5,144.5 174.8,144.1 174.0,143.8 173.5,143.5 172.8,143.0 172.3,142.5 171.9,142.0 171.6,141.2 171.7,140.2 172.0,139.7 172.5,139.1 173.0,138.6 173.5,138.1 174.0,137.7 174.5,137.2 175.1,136.8 175.7,136.2 176.2,135.8 176.8,135.4 177.3,135.0 178.0,134.5 178.5,134.2 179.2,133.8 179.8,133.4 180.5,133.0 181.1,132.8 181.8,132.4 182.5,132.1 183.2,131.8 183.8,131.5 184.5,131.2 185.2,130.9 186.0,130.6 186.8,130.4 187.5,130.2 188.2,129.9 189.0,129.7 189.8,129.5 190.8,129.3 191.5,129.1 192.2,128.9 193.1,128.8 194.0,128.6 194.8,128.4 195.5,128.2 196.4,128.0 197.2,127.8 198.0,127.5 198.7,127.2 199.2,127.0 200.0,126.6 200.7,126.2 201.2,125.9 201.9,125.5 202.5,125.1 203.0,124.8 203.8,124.3 204.2,123.9 204.8,123.5 205.4,123.0 206.0,122.5 206.5,122.0 206.9,121.5 207.2,120.9 207.6,120.2 207.8,119.5 208.0,118.8 208.2,117.8 208.4,117.0 208.7,116.2 208.9,115.5 209.2,114.8 209.5,114.0 209.7,113.2 209.9,112.5 210.1,111.8 210.1,110.8 210.0,110.0 209.8,109.0 209.6,108.2 209.3,107.5 209.0,106.8 208.8,106.2 208.5,105.5 208.1,104.8 207.8,104.0 207.5,103.5 207.2,102.8 206.8,102.0 206.6,101.2 206.4,100.5 206.5,99.8 206.9,99.0 207.3,98.5 207.8,98.0 208.3,97.5 208.8,97.0 209.3,96.5 209.9,96.0 210.5,95.6 211.0,95.2 211.8,94.9 212.5,94.7 213.2,94.4 214.1,94.2 215.0,94.0 215.8,93.8 216.5,93.6 217.2,93.4 218.0,93.2 219.0,93.0 219.8,92.9 220.5,92.7 221.3,92.5 222.2,92.3 223.0,92.1 223.8,91.9 224.5,91.7 225.2,91.4 226.0,91.2 226.8,91.0 227.5,90.7 228.2,90.5 229.0,90.2 229.9,90.0 230.8,89.8 231.7,89.8 232.2,89.8 233.2,89.9 234.0,90.1 234.8,90.4 235.4,90.8 236.0,91.2 236.5,91.6 237.0,92.2 237.5,92.8 237.8,93.2 238.2,93.9 238.6,94.5 239.0,95.2 239.2,95.8 239.6,96.5 239.8,97.2 240.1,98.0 240.3,98.8 240.5,99.5 240.7,100.5 240.9,101.2 241.0,102.0 241.2,103.0 241.5,103.8 241.7,104.5 241.9,105.2 242.2,106.0 242.5,106.8 242.8,107.3 243.1,108.0 243.5,108.8 243.8,109.2 244.2,110.0 244.5,110.6 244.8,111.2 245.1,112.0 245.4,112.8 245.7,113.5 245.9,114.2 246.1,115.0 246.3,115.8 246.5,116.8 246.6,117.5 246.8,118.2 246.9,119.2 247.0,120.0 247.1,121.0 247.2,122.0 247.3,122.8 247.4,123.8 247.5,124.5 247.7,125.5 248.0,126.2 248.3,126.8 249.0,126.5 249.2,125.8 249.4,125.0 249.6,124.2 249.8,123.5 250.0,122.5 250.1,121.8 250.3,121.0 250.7,120.2 251.3,120.2 251.7,121.0 251.9,121.8 252.0,122.5 252.2,123.5 252.3,124.2 252.3,125.2 252.4,126.2 252.4,127.2 252.4,128.2 252.5,129.2 252.5,130.2 252.5,131.2 252.4,132.2 252.4,133.2 252.3,134.2 252.2,135.0 252.0,136.0 251.8,136.8 251.5,137.3 251.0,137.9 250.3,138.0 249.5,137.8 248.8,138.2 248.5,139.0 248.4,139.8 248.5,140.5 248.7,141.5 248.6,142.5 248.3,143.2 248.0,143.8 247.5,144.5 247.2,145.0 246.8,145.5 246.2,146.1 245.8,146.6 245.2,147.1 244.8,147.6 244.2,148.0 243.6,148.5 243.0,148.8 242.3,149.2 241.8,149.5 241.0,149.9 240.3,150.2 239.7,150.5 239.0,150.9 238.2,151.2 237.5,151.5 236.9,151.8 236.1,152.0 235.2,152.2 234.5,152.4 233.5,152.4 232.5,152.5 231.5,152.5 230.5,152.5 229.8,152.5 228.8,152.7 228.0,152.8 227.2,153.0 226.2,153.2 225.5,153.3 224.6,153.5 223.8,153.7 223.0,153.8 222.0,154.0 221.2,154.1 220.2,154.1 219.2,154.2 218.2,154.2 217.2,154.2 216.2,154.2 215.5,154.3 214.5,154.4 213.5,154.5 212.8,154.5 211.8,154.6 210.8,154.7 210.0,154.8ZM213.0,153.5 212.0,153.6 211.0,153.6 210.0,153.7 209.0,153.7 208.0,153.6 207.2,153.5 206.2,153.3 205.5,153.1 204.8,153.0 203.8,152.8 203.0,152.8 202.0,152.6 201.1,152.5 200.2,152.4 199.5,152.2 198.5,152.1 197.8,152.0 196.8,151.9 195.8,151.8 195.0,151.7 194.0,151.5 193.2,151.4 192.5,151.2 191.7,151.0 191.0,150.8 190.2,150.5 189.5,150.2 188.8,149.9 188.0,149.6 187.2,149.3 186.5,149.0 185.8,148.8 185.0,148.6 184.2,148.3 183.5,148.0 182.9,147.8 182.2,147.4 181.5,147.0 181.0,146.7 180.3,146.2 179.8,145.9 179.2,145.5 178.5,145.0 178.0,144.6 177.4,144.2 176.8,143.8 176.2,143.5 175.5,143.0 175.0,142.7 174.5,142.2 174.0,141.6 173.8,140.9 173.8,140.2 174.1,139.5 174.5,139.0 175.0,138.4 175.5,137.9 176.0,137.4 176.5,137.0 177.1,136.5 177.7,136.0 178.2,135.6 178.8,135.2 179.4,134.8 180.0,134.3 180.6,134.0 181.2,133.6 181.9,133.2 182.5,132.9 183.2,132.5 183.8,132.2 184.5,131.9 185.2,131.6 186.0,131.4 186.8,131.1 187.5,130.9 188.2,130.7 189.0,130.5 189.8,130.2 190.8,130.0 191.5,129.8 192.2,129.7 193.2,129.5 194.0,129.4 194.8,129.2 195.8,129.1 196.5,128.9 197.2,128.7 198.0,128.5 198.8,128.2 199.5,127.9 200.2,127.6 201.0,127.3 201.5,127.0 202.2,126.6 202.8,126.2 203.5,125.8 204.0,125.5 204.7,125.0 205.2,124.6 205.8,124.2 206.3,123.8 206.8,123.2 207.3,122.8 207.8,122.2 208.2,121.5 208.5,121.0 208.8,120.2 209.1,119.5 209.3,118.8 209.5,117.8 209.7,117.0 209.9,116.2 210.2,115.5 210.5,114.8 210.8,114.1 211.0,113.4 211.2,112.5 211.3,111.8 211.3,110.8 211.2,110.0 211.1,109.0 210.9,108.2 210.6,107.5 210.4,106.8 210.1,106.0 209.9,105.2 209.6,104.5 209.3,103.8 209.0,103.0 208.8,102.2 208.7,101.5 208.7,100.5 208.9,99.8 209.2,99.1 209.7,98.5 210.0,98.0 210.5,97.5 211.1,97.0 211.8,96.6 212.4,96.2 213.1,96.0 214.0,95.8 214.8,95.5 215.5,95.3 216.2,95.0 217.0,94.8 217.8,94.6 218.5,94.3 219.2,94.1 220.0,93.9 220.8,93.8 221.8,93.5 222.5,93.3 223.2,93.2 224.0,93.0 224.8,92.8 225.6,92.5 226.4,92.2 227.1,92.0 227.8,91.8 228.6,91.5 229.3,91.2 230.2,91.0 231.0,90.9 232.0,90.9 232.9,91.0 233.7,91.2 234.3,91.5 235.0,92.0 235.5,92.3 236.0,92.8 236.5,93.4 237.0,94.0 237.3,94.5 237.7,95.2 238.0,95.8 238.3,96.5 238.6,97.2 238.9,98.0 239.2,98.8 239.4,99.5 239.6,100.2 239.8,101.1 240.0,102.0 240.2,102.8 240.4,103.5 240.6,104.2 240.8,105.0 241.1,105.8 241.3,106.5 241.7,107.2 242.0,108.0 242.2,108.6 242.6,109.2 243.0,110.0 243.2,110.5 243.6,111.2 243.9,112.0 244.2,112.8 244.5,113.5 244.7,114.2 244.9,115.0 245.0,115.8 245.2,116.7 245.4,117.5 245.6,118.2 245.8,119.2 245.9,120.0 246.0,120.8 246.1,121.8 246.2,122.8 246.3,123.5 246.4,124.5 246.5,125.2 246.7,126.2 246.8,127.0 247.0,127.8 247.2,128.7 247.5,129.5 247.7,130.2 247.8,131.0 248.0,131.9 248.1,132.8 248.1,133.8 248.0,134.8 247.9,135.5 247.8,136.5 247.6,137.2 247.5,138.0 247.4,139.0 247.4,140.0 247.5,140.9 247.7,141.8 247.6,142.8 247.3,143.5 247.0,144.1 246.5,144.7 246.0,145.2 245.5,145.8 245.0,146.2 244.5,146.6 244.0,147.0 243.3,147.5 242.8,147.9 242.1,148.2 241.5,148.6 240.8,149.0 240.2,149.2 239.5,149.6 238.8,150.0 238.1,150.2 237.5,150.5 236.8,150.8 236.0,151.1 235.2,151.3 234.2,151.5 233.5,151.5 232.5,151.6 231.5,151.6 230.5,151.6 229.5,151.7 228.8,151.8 227.8,152.0 227.0,152.1 226.2,152.3 225.2,152.5 224.5,152.6 223.5,152.8 222.8,152.9 221.9,153.0 221.0,153.1 220.0,153.2 219.0,153.2 218.2,153.2 217.2,153.3 216.2,153.3 215.2,153.4 214.2,153.4 213.2,153.5ZM251.0,135.8 250.3,135.5 250.0,134.9 249.7,134.2 249.5,133.2 249.4,132.5 249.4,131.5 249.5,130.6 249.6,129.8 249.7,128.8 249.8,128.0 250.0,127.0 250.1,126.2 250.3,125.5 250.5,124.5 250.8,123.8 251.2,123.3 251.6,124.0 251.8,124.8 251.9,125.8 252.0,126.5 252.1,127.5 252.1,128.5 252.1,129.5 252.1,130.5 252.1,131.5 252.0,132.5 251.9,133.2 251.8,134.2 251.5,135.0 251.2,135.5ZM214.8,152.5 213.8,152.5 212.8,152.6 211.8,152.6 210.8,152.6 209.8,152.6 208.8,152.6 208.0,152.5 207.0,152.3 206.2,152.2 205.2,152.1 204.5,152.0 203.5,151.9 202.5,151.8 201.8,151.7 200.8,151.5 200.0,151.4 199.0,151.3 198.2,151.2 197.2,151.1 196.2,151.0 195.5,150.9 194.5,150.8 193.8,150.6 193.0,150.5 192.2,150.2 191.4,150.0 190.7,149.8 190.0,149.5 189.2,149.2 188.5,148.9 187.8,148.6 187.0,148.3 186.2,148.1 185.5,147.8 184.8,147.5 184.1,147.2 183.5,147.0 182.8,146.6 182.0,146.2 181.5,145.9 180.9,145.5 180.2,145.0 179.8,144.7 179.2,144.2 178.7,143.8 178.1,143.2 177.5,142.8 177.0,142.2 176.6,141.8 176.2,141.2 176.1,140.2 176.3,139.5 176.7,138.8 177.1,138.2 177.5,137.8 178.0,137.2 178.5,136.8 179.1,136.2 179.7,135.8 180.2,135.3 180.8,134.9 181.4,134.5 182.0,134.1 182.6,133.8 183.2,133.3 183.9,133.0 184.5,132.7 185.2,132.4 186.0,132.1 186.8,131.8 187.5,131.6 188.2,131.4 189.0,131.2 189.8,131.0 190.6,130.8 191.5,130.5 192.2,130.4 193.2,130.2 194.0,130.1 194.9,130.0 195.8,129.9 196.5,129.8 197.5,129.5 198.2,129.3 199.0,129.1 199.8,128.9 200.5,128.6 201.2,128.3 201.8,128.0 202.5,127.7 203.2,127.2 203.8,126.9 204.4,126.5 205.0,126.1 205.5,125.7 206.1,125.2 206.7,124.8 207.2,124.3 207.8,123.8 208.2,123.3 208.8,122.8 209.1,122.2 209.5,121.7 209.9,121.0 210.2,120.2 210.5,119.5 210.6,118.8 210.8,118.0 211.0,117.2 211.3,116.5 211.6,115.8 211.9,115.0 212.2,114.3 212.5,113.8 212.8,113.0 213.0,112.2 213.1,111.2 213.1,110.2 213.0,109.5 212.8,108.5 212.7,107.8 212.5,106.9 212.3,106.0 212.1,105.2 211.8,104.5 211.7,103.8 211.5,102.9 211.4,102.0 211.5,101.1 211.7,100.2 212.0,99.7 212.5,99.0 213.0,98.5 213.5,98.2 214.2,97.8 214.8,97.4 215.5,97.0 216.0,96.7 216.8,96.3 217.4,96.0 218.0,95.7 218.8,95.5 219.5,95.2 220.2,95.0 221.1,94.8 222.0,94.5 222.8,94.4 223.5,94.2 224.4,94.0 225.2,93.8 226.0,93.5 226.8,93.3 227.5,93.0 228.2,92.8 229.0,92.5 229.8,92.3 230.5,92.1 231.2,92.0 232.0,92.0 233.0,92.2 233.7,92.5 234.2,92.8 234.8,93.2 235.3,93.8 235.8,94.2 236.2,94.9 236.6,95.5 237.0,96.2 237.3,96.8 237.6,97.5 237.9,98.2 238.1,99.0 238.4,99.8 238.6,100.5 238.8,101.2 239.0,102.1 239.2,103.0 239.5,103.8 239.7,104.5 239.9,105.2 240.2,106.0 240.5,106.8 240.8,107.5 241.0,108.1 241.3,108.8 241.6,109.5 242.0,110.2 242.2,110.8 242.6,111.5 242.9,112.2 243.2,113.0 243.4,113.8 243.6,114.5 243.8,115.2 244.0,116.2 244.2,117.0 244.3,117.8 244.5,118.5 244.7,119.5 244.9,120.2 245.0,121.0 245.2,122.0 245.2,122.9 245.3,123.8 245.5,124.8 245.6,125.5 245.7,126.5 245.9,127.2 246.0,128.0 246.2,129.0 246.4,129.8 246.5,130.5 246.7,131.5 246.8,132.2 246.9,133.2 246.9,134.2 246.8,135.2 246.8,136.1 246.6,137.0 246.5,138.0 246.5,138.8 246.4,139.8 246.5,140.5 246.7,141.5 246.8,142.2 246.7,143.0 246.4,143.8 246.0,144.3 245.5,144.9 245.0,145.3 244.5,145.8 243.8,146.2 243.2,146.6 242.7,147.0 242.0,147.4 241.4,147.8 240.8,148.1 240.0,148.5 239.5,148.8 238.8,149.1 238.0,149.4 237.2,149.7 236.6,150.0 235.8,150.2 235.0,150.5 234.2,150.6 233.2,150.7 232.2,150.7 231.5,150.8 230.5,150.8 229.5,150.9 228.8,151.0 227.8,151.2 227.0,151.3 226.2,151.5 225.2,151.7 224.5,151.8 223.5,151.9 222.8,152.0 221.8,152.2 221.0,152.3 220.0,152.4 219.0,152.4 218.0,152.4 217.0,152.5 216.0,152.5 215.0,152.5ZM251.0,132.2 250.8,131.8 250.7,131.5 250.7,131.0 250.6,130.5 250.7,130.0 250.7,129.5 250.7,129.0 250.8,128.8 250.9,128.2 251.0,128.0 251.2,128.1 251.3,128.5 251.4,129.0 251.4,129.5 251.4,130.0 251.4,130.5 251.4,131.0 251.3,131.5 251.2,131.9 251.0,132.2ZM221.0,151.5 220.0,151.6 219.0,151.7 218.0,151.7 217.0,151.7 216.0,151.6 215.0,151.6 214.0,151.6 213.0,151.6 212.0,151.6 211.0,151.6 210.0,151.6 209.0,151.5 208.2,151.4 207.2,151.3 206.5,151.2 205.5,151.1 204.7,151.0 203.8,150.9 202.8,150.8 202.0,150.8 201.0,150.6 200.0,150.5 199.2,150.4 198.2,150.4 197.2,150.3 196.5,150.2 195.5,150.2 194.5,150.0 193.8,149.9 193.0,149.7 192.2,149.4 191.5,149.2 190.8,148.9 190.0,148.6 189.2,148.4 188.5,148.1 187.8,147.8 187.0,147.5 186.3,147.2 185.7,147.0 185.0,146.7 184.2,146.4 183.5,146.0 182.9,145.8 182.2,145.3 181.8,145.0 181.1,144.5 180.6,144.0 180.1,143.5 179.7,143.0 179.2,142.4 178.9,141.8 178.7,141.0 178.6,140.0 178.8,139.0 179.0,138.4 179.4,137.8 179.8,137.2 180.2,136.7 180.8,136.2 181.2,135.7 181.8,135.2 182.4,134.8 183.0,134.4 183.6,134.0 184.2,133.6 184.9,133.2 185.5,133.0 186.2,132.7 187.0,132.4 187.8,132.2 188.5,131.9 189.3,131.8 190.2,131.5 191.0,131.3 191.8,131.2 192.8,131.0 193.5,130.9 194.5,130.8 195.2,130.7 196.2,130.6 197.0,130.5 198.0,130.3 198.8,130.1 199.5,129.9 200.2,129.7 201.0,129.4 201.8,129.1 202.5,128.8 203.1,128.5 203.8,128.2 204.5,127.8 205.0,127.4 205.6,127.0 206.2,126.6 206.8,126.2 207.3,125.8 207.9,125.2 208.5,124.8 209.0,124.3 209.5,123.9 210.0,123.5 210.6,123.0 211.2,122.5 211.8,122.2 212.4,121.8 213.0,121.4 213.5,121.0 214.1,120.5 214.7,120.0 215.2,119.5 215.8,119.2 216.5,118.8 217.1,118.5 217.8,118.2 218.5,117.8 219.0,117.4 219.5,116.9 220.0,116.4 220.5,115.8 220.9,115.2 221.3,114.8 221.8,114.2 222.3,113.8 222.8,113.2 223.2,112.7 223.6,112.0 223.6,111.0 223.3,110.2 223.0,109.6 222.7,109.0 222.4,108.2 222.2,107.5 222.0,106.7 221.8,105.8 221.5,105.1 221.2,104.5 220.8,103.8 220.5,103.2 220.0,102.7 219.5,102.1 219.0,101.5 218.6,101.0 218.2,100.5 218.0,99.8 217.9,98.8 218.1,98.0 218.5,97.4 219.0,96.9 219.6,96.5 220.2,96.2 221.0,95.9 221.8,95.7 222.6,95.5 223.5,95.3 224.2,95.2 225.0,95.0 225.9,94.8 226.6,94.5 227.3,94.2 228.0,94.0 228.8,93.7 229.5,93.5 230.4,93.2 231.2,93.1 232.2,93.2 233.0,93.5 233.5,93.8 234.2,94.2 234.7,94.8 235.2,95.2 235.5,95.8 236.0,96.5 236.2,97.1 236.6,97.8 236.9,98.5 237.1,99.2 237.4,100.0 237.6,100.8 237.9,101.5 238.1,102.2 238.3,103.0 238.5,103.8 238.8,104.6 239.0,105.4 239.2,106.1 239.5,106.8 239.8,107.5 240.0,108.2 240.3,109.0 240.6,109.8 241.0,110.5 241.2,111.2 241.5,111.8 241.8,112.5 242.1,113.2 242.3,114.0 242.5,114.8 242.8,115.6 243.0,116.5 243.2,117.2 243.3,118.0 243.5,118.8 243.8,119.6 243.9,120.5 244.1,121.2 244.2,122.2 244.3,123.0 244.4,124.0 244.5,125.0 244.6,125.8 244.8,126.6 244.9,127.5 245.1,128.2 245.2,129.1 245.4,130.0 245.6,130.8 245.8,131.6 245.9,132.5 245.9,133.5 245.9,134.5 245.9,135.5 245.8,136.5 245.7,137.2 245.6,138.2 245.6,139.2 245.6,140.2 245.8,141.2 245.9,142.0 245.9,143.0 245.6,143.8 245.2,144.2 244.7,144.8 244.1,145.2 243.5,145.7 243.0,146.1 242.3,146.5 241.8,146.8 241.0,147.2 240.5,147.5 239.8,147.9 239.0,148.2 238.5,148.5 237.8,148.8 237.0,149.1 236.2,149.4 235.5,149.6 234.8,149.8 233.8,149.9 233.0,150.0 232.0,150.1 231.0,150.1 230.0,150.2 229.2,150.3 228.2,150.5 227.5,150.6 226.6,150.8 225.8,150.9 225.0,151.0 224.0,151.1 223.2,151.2 222.2,151.4 221.2,151.5ZM221.2,150.8 220.2,150.8 219.2,150.9 218.2,150.9 217.2,150.8 216.3,150.8 215.5,150.7 214.5,150.6 213.5,150.6 212.5,150.6 211.5,150.6 210.5,150.5 209.5,150.5 208.8,150.4 207.8,150.3 206.9,150.2 206.0,150.1 205.0,150.1 204.2,150.0 203.2,149.9 202.2,149.9 201.2,149.8 200.5,149.7 199.5,149.6 198.5,149.6 197.5,149.6 196.5,149.5 195.8,149.4 194.8,149.3 194.0,149.2 193.2,149.0 192.4,148.8 191.7,148.5 191.0,148.2 190.2,148.0 189.5,147.7 188.8,147.4 188.0,147.2 187.2,146.9 186.5,146.5 185.8,146.2 185.2,146.0 184.5,145.6 183.8,145.2 183.2,144.9 182.7,144.5 182.1,144.0 181.6,143.5 181.2,143.0 180.9,142.2 180.7,141.5 180.5,140.5 180.5,139.5 180.7,138.5 180.9,137.8 181.2,137.2 181.7,136.5 182.2,136.0 182.7,135.5 183.2,135.1 183.8,134.7 184.5,134.2 185.0,134.0 185.8,133.6 186.5,133.3 187.2,133.0 188.0,132.8 188.8,132.5 189.5,132.3 190.2,132.2 191.1,132.0 192.0,131.8 192.8,131.7 193.8,131.6 194.8,131.6 195.5,131.5 196.5,131.4 197.5,131.3 198.2,131.1 199.0,131.0 199.9,130.8 200.8,130.5 201.5,130.3 202.2,130.0 202.9,129.8 203.5,129.5 204.2,129.2 205.0,128.8 205.5,128.5 206.2,128.1 206.8,127.8 207.5,127.3 208.1,127.0 208.8,126.6 209.4,126.2 210.0,125.9 210.8,125.5 211.4,125.2 212.0,125.0 212.8,124.8 213.7,124.5 214.3,124.2 215.0,123.9 215.5,123.5 216.0,123.0 216.5,122.5 217.0,121.9 217.5,121.3 218.0,120.8 218.5,120.4 219.0,120.0 219.7,119.5 220.2,119.1 220.8,118.7 221.4,118.2 222.0,117.8 222.5,117.4 223.1,117.0 223.8,116.6 224.4,116.2 225.0,115.9 225.5,115.5 226.0,115.0 226.5,114.5 227.0,113.9 227.4,113.2 227.6,112.5 227.7,111.5 227.5,110.6 227.2,109.8 227.0,109.1 226.8,108.4 226.5,107.7 226.2,107.0 225.8,106.2 225.5,105.7 225.1,105.0 224.8,104.4 224.3,103.8 224.0,103.2 223.5,102.5 223.2,102.0 222.8,101.3 222.4,100.8 222.0,100.1 221.7,99.5 221.4,98.8 221.5,97.8 221.9,97.2 222.5,96.9 223.2,96.7 224.0,96.4 224.8,96.2 225.6,96.0 226.4,95.8 227.1,95.5 227.8,95.2 228.5,95.0 229.2,94.7 230.0,94.5 231.0,94.3 232.0,94.4 232.8,94.7 233.3,95.0 233.9,95.5 234.4,96.0 234.8,96.5 235.2,97.2 235.5,97.9 235.8,98.5 236.1,99.2 236.4,100.0 236.6,100.8 236.9,101.5 237.1,102.2 237.3,103.0 237.5,103.8 237.7,104.8 237.9,105.5 238.1,106.2 238.3,107.0 238.5,107.8 238.8,108.5 239.0,109.4 239.2,110.1 239.5,110.8 239.8,111.5 240.2,112.2 240.5,112.9 240.8,113.5 241.1,114.2 241.4,115.0 241.6,115.8 241.9,116.5 242.1,117.2 242.3,118.0 242.5,118.8 242.8,119.5 243.0,120.5 243.1,121.2 243.2,122.2 243.3,123.0 243.4,124.0 243.5,124.8 243.6,125.8 243.8,126.5 244.0,127.5 244.1,128.2 244.3,129.0 244.5,130.0 244.7,130.8 244.8,131.5 245.0,132.5 245.0,133.2 245.1,134.2 245.0,135.2 245.0,136.0 244.9,137.0 244.8,138.0 244.8,138.8 244.7,139.8 244.7,140.8 244.9,141.5 245.1,142.2 245.0,143.2 244.7,143.8 244.2,144.3 243.8,144.8 243.2,145.2 242.5,145.7 242.0,146.0 241.2,146.5 240.8,146.8 240.0,147.2 239.3,147.5 238.8,147.8 238.0,148.1 237.2,148.4 236.5,148.7 235.8,148.9 235.0,149.1 234.1,149.2 233.2,149.4 232.2,149.5 231.5,149.5 230.5,149.6 229.5,149.7 228.8,149.8 227.8,150.0 227.0,150.1 226.0,150.2 225.2,150.4 224.2,150.5 223.5,150.6 222.5,150.6 221.5,150.7ZM232.5,108.0 231.5,108.1 230.8,107.8 230.2,107.4 229.8,106.9 229.2,106.3 228.8,105.8 228.4,105.2 228.0,104.8 227.5,104.1 227.0,103.5 226.7,103.0 226.3,102.2 226.0,101.7 225.7,101.0 225.4,100.2 225.2,99.5 225.1,98.5 225.4,97.8 226.0,97.3 226.5,97.0 227.2,96.7 228.0,96.3 228.8,96.0 229.5,95.8 230.2,95.6 231.2,95.6 232.1,95.8 232.8,96.1 233.3,96.5 233.8,97.0 234.2,97.7 234.5,98.2 234.9,99.0 235.2,99.8 235.5,100.5 235.8,101.2 236.0,102.0 236.2,102.8 236.3,103.5 236.4,104.5 236.2,105.4 235.9,106.0 235.5,106.5 234.8,107.0 234.2,107.3 233.5,107.7 232.8,108.0ZM221.0,150.0 220.0,150.0 219.0,150.0 218.2,150.0 217.2,149.9 216.4,149.8 215.5,149.6 214.5,149.6 213.5,149.6 212.5,149.6 211.5,149.6 210.5,149.6 209.5,149.5 208.8,149.5 207.8,149.4 206.8,149.3 206.0,149.2 205.0,149.1 204.0,149.1 203.1,149.0 202.2,149.0 201.2,148.9 200.2,148.9 199.2,148.8 198.2,148.8 197.2,148.8 196.2,148.8 195.5,148.7 194.5,148.6 193.8,148.4 193.0,148.2 192.2,148.0 191.5,147.7 190.8,147.5 190.0,147.2 189.2,146.9 188.5,146.6 187.8,146.3 187.0,146.0 186.4,145.8 185.8,145.4 185.0,145.0 184.5,144.7 183.9,144.2 183.4,143.8 183.0,143.2 182.5,142.5 182.3,141.8 182.1,141.0 182.0,140.2 181.9,139.2 182.0,138.5 182.2,137.7 182.6,137.0 183.0,136.4 183.5,135.9 184.0,135.5 184.6,135.0 185.2,134.6 185.9,134.2 186.5,134.0 187.2,133.7 188.0,133.4 188.8,133.2 189.5,133.0 190.5,132.8 191.2,132.6 192.2,132.5 193.0,132.4 194.0,132.4 195.0,132.3 195.8,132.2 196.8,132.2 197.8,132.1 198.5,132.0 199.5,131.8 200.2,131.7 201.0,131.5 202.0,131.3 202.8,131.1 203.5,130.8 204.2,130.6 205.0,130.3 205.8,130.0 206.5,129.8 207.2,129.5 207.9,129.2 208.7,129.0 209.5,128.8 210.2,128.6 211.0,128.4 211.8,128.2 212.7,128.0 213.5,127.8 214.2,127.5 214.9,127.2 215.5,126.9 216.0,126.5 216.5,126.0 217.0,125.5 217.5,124.9 218.0,124.2 218.4,123.8 218.8,123.2 219.2,122.7 219.8,122.2 220.3,121.8 220.9,121.2 221.5,120.9 222.2,120.5 222.8,120.2 223.5,119.8 224.0,119.5 224.8,119.1 225.3,118.8 226.0,118.2 226.5,117.8 227.0,117.4 227.5,116.9 228.0,116.5 228.6,116.0 229.2,115.5 229.8,115.2 230.5,114.8 231.2,114.6 232.2,114.5 233.0,114.5 234.0,114.5 235.0,114.4 236.0,114.4 237.0,114.5 237.8,114.6 238.5,114.9 239.0,115.2 239.6,115.8 240.2,116.2 240.5,116.8 241.0,117.5 241.2,118.0 241.5,118.8 241.8,119.5 242.0,120.3 242.2,121.2 242.3,122.0 242.4,123.0 242.5,124.0 242.6,124.8 242.7,125.8 242.9,126.5 243.0,127.2 243.2,128.2 243.4,129.0 243.6,129.8 243.8,130.6 243.9,131.5 244.1,132.2 244.2,133.2 244.2,134.2 244.2,135.2 244.2,136.2 244.1,137.2 244.0,138.1 243.9,139.0 243.8,140.0 243.7,140.8 243.8,141.5 244.0,142.2 244.0,143.2 243.8,143.8 243.2,144.4 242.8,144.9 242.2,145.3 241.5,145.8 241.0,146.1 240.3,146.5 239.8,146.8 239.0,147.1 238.2,147.5 237.6,147.8 236.9,148.0 236.2,148.2 235.2,148.5 234.5,148.7 233.8,148.8 232.8,148.9 231.9,149.0 231.0,149.1 230.0,149.2 229.2,149.2 228.2,149.4 227.4,149.5 226.5,149.6 225.5,149.7 224.8,149.8 223.8,149.9 222.8,149.9 221.8,150.0 221.0,150.0ZM233.0,104.3 232.0,104.3 231.2,104.1 230.5,103.8 230.0,103.4 229.5,102.9 229.0,102.3 228.6,101.8 228.2,101.0 228.0,100.4 227.8,99.5 227.7,98.8 228.0,98.1 228.5,97.6 229.1,97.2 229.8,97.0 230.8,96.9 231.5,97.0 232.2,97.3 232.8,97.8 233.2,98.3 233.7,99.0 234.0,99.6 234.3,100.2 234.5,101.0 234.7,102.0 234.8,102.8 234.5,103.4 234.0,103.9 233.2,104.2ZM226.8,149.0 225.8,149.1 224.8,149.1 223.8,149.1 222.8,149.1 221.8,149.0 221.0,149.0 220.0,149.0 219.0,148.9 218.0,148.8 217.2,148.7 216.2,148.7 215.2,148.6 214.2,148.6 213.2,148.6 212.2,148.7 211.2,148.7 210.2,148.7 209.2,148.6 208.2,148.5 207.5,148.5 206.5,148.4 205.5,148.3 204.8,148.2 203.8,148.2 202.8,148.1 201.8,148.1 200.8,148.0 199.8,148.0 198.8,148.1 197.8,148.1 196.8,148.1 195.8,148.0 195.0,148.0 194.0,147.8 193.2,147.6 192.5,147.4 191.8,147.1 191.0,146.9 190.2,146.6 189.5,146.3 188.8,146.0 188.1,145.8 187.5,145.5 186.8,145.0 186.2,144.7 185.6,144.2 185.0,143.8 184.5,143.2 184.2,142.8 183.8,142.0 183.5,141.2 183.3,140.5 183.2,139.8 183.2,138.8 183.3,138.0 183.6,137.2 184.0,136.6 184.5,136.1 185.0,135.7 185.6,135.2 186.2,134.9 187.0,134.5 187.6,134.2 188.3,134.0 189.1,133.8 190.0,133.5 190.8,133.4 191.8,133.3 192.5,133.2 193.5,133.1 194.5,133.1 195.5,133.1 196.5,133.0 197.2,133.0 198.2,132.9 199.2,132.9 200.2,132.8 201.0,132.7 202.0,132.6 203.0,132.5 203.8,132.4 204.8,132.3 205.5,132.2 206.2,132.0 207.0,131.8 207.9,131.5 208.8,131.3 209.5,131.2 210.5,131.0 211.2,131.0 212.2,130.9 213.2,130.8 214.0,130.6 214.8,130.4 215.5,130.0 216.0,129.6 216.5,129.2 217.0,128.7 217.5,128.1 218.0,127.5 218.4,127.0 218.8,126.5 219.2,125.9 219.8,125.3 220.2,124.8 220.7,124.2 221.2,123.8 221.7,123.2 222.2,122.8 222.8,122.5 223.5,122.0 224.0,121.7 224.7,121.2 225.2,120.9 226.0,120.5 226.5,120.2 227.1,119.8 227.7,119.2 228.2,118.8 228.8,118.4 229.3,118.0 230.0,117.6 230.7,117.2 231.5,117.0 232.2,116.9 233.2,116.9 234.1,117.0 235.0,117.1 236.0,117.2 236.8,117.3 237.8,117.4 238.5,117.6 239.2,117.9 239.8,118.2 240.3,118.8 240.8,119.5 241.0,120.1 241.2,121.0 241.4,121.8 241.5,122.8 241.6,123.5 241.7,124.5 241.8,125.2 241.9,126.2 242.1,127.0 242.3,127.8 242.5,128.8 242.7,129.5 242.8,130.2 243.0,131.0 243.2,132.0 243.3,132.8 243.4,133.8 243.5,134.8 243.4,135.8 243.4,136.8 243.2,137.6 243.1,138.5 243.0,139.2 242.8,140.2 242.6,141.0 242.8,141.9 243.0,142.8 242.8,143.8 242.5,144.2 242.0,144.8 241.3,145.2 240.8,145.7 240.2,146.0 239.5,146.4 238.8,146.8 238.2,147.0 237.5,147.3 236.8,147.6 236.0,147.8 235.2,148.0 234.2,148.2 233.5,148.4 232.5,148.5 231.8,148.6 230.8,148.6 229.8,148.7 229.0,148.8 228.0,148.9 227.0,149.0ZM231.5,100.1 231.4,100.0 231.2,99.8 231.2,99.8 231.2,99.5 231.2,99.5 231.4,99.5 231.5,99.5 231.7,99.8 231.7,100.0 231.5,100.1ZM229.0,148.3 228.0,148.3 227.0,148.3 226.0,148.3 225.2,148.2 224.2,148.0 223.5,147.8 222.8,147.6 221.8,147.6 220.8,147.6 219.8,147.6 218.8,147.7 217.8,147.7 216.8,147.7 215.8,147.7 214.8,147.7 213.8,147.7 213.0,147.8 212.0,147.9 211.0,147.9 210.0,147.8 209.0,147.8 208.2,147.7 207.2,147.6 206.5,147.5 205.5,147.4 204.5,147.3 203.5,147.3 202.5,147.3 201.8,147.2 200.8,147.2 199.8,147.2 199.0,147.3 198.0,147.3 197.0,147.4 196.0,147.3 195.0,147.3 194.2,147.1 193.5,147.0 192.7,146.8 191.9,146.5 191.2,146.2 190.5,146.0 189.8,145.7 189.0,145.3 188.3,145.0 187.8,144.6 187.2,144.2 186.6,143.8 186.1,143.2 185.7,142.8 185.2,142.0 185.0,141.5 184.7,140.8 184.4,140.0 184.3,139.0 184.5,138.0 184.8,137.3 185.1,136.8 185.6,136.2 186.2,135.8 186.8,135.4 187.5,135.1 188.2,134.8 188.9,134.5 189.8,134.3 190.5,134.1 191.2,134.0 192.2,133.9 193.2,133.9 194.2,133.9 195.2,134.0 196.2,134.0 197.2,134.0 198.2,134.0 199.0,134.0 200.0,134.1 201.0,134.2 201.8,134.2 202.8,134.3 203.8,134.4 204.8,134.4 205.8,134.3 206.5,134.2 207.2,134.0 208.2,133.8 209.0,133.5 209.8,133.4 210.6,133.2 211.5,133.1 212.5,133.0 213.2,132.9 214.0,132.7 214.8,132.5 215.5,132.1 216.1,131.8 216.8,131.3 217.2,130.8 217.8,130.3 218.2,129.8 218.6,129.2 219.0,128.7 219.5,128.0 219.9,127.5 220.3,127.0 220.8,126.5 221.2,126.0 221.8,125.5 222.3,125.0 222.8,124.5 223.5,124.0 224.0,123.6 224.5,123.2 225.2,122.8 225.8,122.5 226.5,122.0 227.0,121.7 227.8,121.3 228.2,120.9 228.9,120.5 229.5,120.1 230.0,119.7 230.8,119.3 231.5,119.0 232.2,118.9 233.2,118.8 234.2,118.8 235.2,118.9 236.2,118.9 237.0,119.0 238.0,119.2 238.8,119.4 239.5,119.8 239.9,120.2 240.2,120.9 240.5,121.8 240.6,122.5 240.7,123.5 240.8,124.2 240.9,125.2 241.1,126.0 241.2,126.8 241.5,127.8 241.6,128.5 241.8,129.2 242.0,130.1 242.2,131.0 242.4,131.8 242.5,132.5 242.7,133.5 242.7,134.5 242.7,135.5 242.6,136.5 242.5,137.5 242.3,138.2 242.2,139.0 241.9,139.8 241.7,140.5 241.5,141.2 241.5,142.0 241.8,143.0 241.8,143.6 241.5,144.2 241.0,144.8 240.5,145.2 239.8,145.7 239.2,146.0 238.5,146.4 237.8,146.8 237.2,147.0 236.5,147.3 235.7,147.5 234.8,147.7 234.0,147.9 233.0,148.0 232.2,148.1 231.2,148.1 230.2,148.2 229.2,148.2ZM233.2,147.5 232.2,147.6 231.2,147.6 230.2,147.6 229.2,147.6 228.2,147.5 227.5,147.4 226.8,147.2 226.0,146.9 225.2,146.6 224.5,146.4 223.6,146.2 222.8,146.2 221.8,146.2 221.0,146.3 220.0,146.5 219.2,146.6 218.2,146.6 217.2,146.7 216.2,146.7 215.5,146.8 214.5,146.8 213.5,146.9 212.8,147.0 211.8,147.1 210.8,147.1 209.9,147.0 209.0,146.9 208.0,146.8 207.2,146.7 206.2,146.6 205.2,146.5 204.5,146.5 203.5,146.4 202.5,146.3 201.5,146.3 200.5,146.3 199.5,146.4 198.5,146.4 197.7,146.5 196.8,146.6 195.8,146.5 195.0,146.5 194.0,146.3 193.2,146.1 192.5,145.9 191.8,145.6 191.0,145.3 190.3,145.0 189.8,144.7 189.0,144.2 188.5,143.9 188.0,143.4 187.5,142.9 187.0,142.3 186.6,141.8 186.2,141.2 185.9,140.5 185.7,139.8 185.6,138.8 185.8,138.0 186.1,137.2 186.5,136.8 187.1,136.2 187.8,135.8 188.3,135.5 189.0,135.2 189.8,135.0 190.8,134.8 191.5,134.7 192.5,134.7 193.5,134.7 194.2,134.8 195.2,135.0 196.0,135.1 197.0,135.2 197.8,135.3 198.8,135.4 199.5,135.6 200.3,135.8 201.2,136.0 202.0,136.2 202.8,136.3 203.8,136.5 204.5,136.5 205.5,136.5 206.2,136.4 207.2,136.3 208.0,136.2 209.0,136.0 209.8,135.9 210.5,135.7 211.2,135.5 212.0,135.2 212.8,135.0 213.5,134.7 214.2,134.4 215.0,134.0 215.6,133.8 216.2,133.4 216.8,133.0 217.5,132.5 218.0,132.1 218.5,131.5 218.9,131.0 219.3,130.5 219.8,129.8 220.2,129.2 220.6,128.8 221.0,128.2 221.5,127.6 222.0,127.1 222.5,126.6 223.0,126.1 223.5,125.7 224.1,125.2 224.7,124.8 225.2,124.4 225.8,124.0 226.5,123.6 227.1,123.2 227.8,122.9 228.4,122.5 229.0,122.1 229.7,121.8 230.2,121.4 231.0,121.0 231.6,120.8 232.4,120.5 233.2,120.3 234.2,120.2 235.0,120.2 236.0,120.2 236.8,120.3 237.8,120.4 238.5,120.7 239.0,121.0 239.5,121.7 239.7,122.5 239.9,123.2 240.0,124.2 240.1,125.0 240.2,125.9 240.4,126.8 240.6,127.5 240.8,128.2 241.0,129.1 241.2,130.0 241.4,130.8 241.6,131.5 241.8,132.2 242.0,133.2 242.0,134.0 242.1,135.0 242.0,136.0 241.9,136.8 241.8,137.5 241.5,138.4 241.2,139.1 241.0,139.8 240.7,140.5 240.4,141.2 240.3,142.2 240.5,143.0 240.5,144.0 240.2,144.6 239.8,145.1 239.2,145.5 238.5,145.9 237.9,146.2 237.2,146.5 236.5,146.8 235.8,147.0 234.9,147.2 234.0,147.4 233.2,147.5ZM233.5,147.0 232.5,147.1 231.5,147.0 230.8,146.9 229.9,146.8 229.2,146.5 228.5,146.1 227.8,145.8 227.0,145.7 226.0,145.5 225.2,145.4 224.2,145.3 223.5,145.2 222.5,145.2 221.6,145.2 220.8,145.3 219.8,145.5 219.0,145.6 218.0,145.7 217.0,145.7 216.2,145.8 215.2,145.9 214.2,146.0 213.5,146.1 212.5,146.2 211.5,146.2 210.5,146.2 209.5,146.0 208.8,145.9 207.9,145.8 207.0,145.6 206.2,145.4 205.2,145.3 204.5,145.1 203.8,144.9 203.0,144.7 202.2,144.5 201.4,144.2 200.5,144.2 199.8,144.4 199.0,144.6 198.2,144.9 197.5,145.1 196.8,145.3 195.8,145.4 194.8,145.3 194.0,145.1 193.2,144.9 192.5,144.6 191.8,144.3 191.1,144.0 190.5,143.7 189.9,143.2 189.2,142.8 188.8,142.3 188.2,141.8 187.8,141.2 187.5,140.8 187.1,140.0 187.0,139.2 187.0,138.5 187.3,137.8 187.8,137.1 188.2,136.6 188.8,136.2 189.5,135.8 190.2,135.6 191.0,135.4 192.0,135.4 192.8,135.5 193.8,135.7 194.5,136.0 195.2,136.2 196.0,136.5 196.8,136.7 197.5,136.8 198.2,137.0 199.0,137.3 199.8,137.7 200.3,138.0 201.0,138.4 201.5,138.8 202.2,139.2 202.9,139.5 203.8,139.6 204.8,139.6 205.8,139.5 206.5,139.5 207.5,139.4 208.5,139.3 209.2,139.2 210.0,138.9 210.8,138.6 211.4,138.2 212.0,137.9 212.5,137.5 213.2,137.0 213.8,136.6 214.2,136.2 214.8,135.8 215.5,135.2 216.0,134.9 216.6,134.5 217.2,134.1 217.8,133.8 218.5,133.2 219.0,132.8 219.5,132.2 219.9,131.8 220.2,131.2 220.7,130.5 221.1,130.0 221.5,129.4 222.0,128.8 222.5,128.2 223.0,127.8 223.5,127.2 224.0,126.8 224.5,126.4 225.0,126.0 225.7,125.5 226.2,125.1 226.8,124.8 227.5,124.3 228.0,124.0 228.8,123.6 229.4,123.2 230.0,122.9 230.8,122.6 231.4,122.2 232.0,122.0 232.8,121.8 233.8,121.6 234.5,121.5 235.5,121.4 236.5,121.4 237.2,121.5 238.0,121.8 238.6,122.2 239.0,123.0 239.1,123.8 239.2,124.5 239.4,125.5 239.6,126.2 239.8,127.1 240.0,128.0 240.2,128.8 240.4,129.5 240.6,130.2 240.8,131.0 241.0,131.8 241.2,132.8 241.4,133.5 241.5,134.5 241.4,135.5 241.3,136.5 241.1,137.2 240.9,138.0 240.6,138.8 240.2,139.4 240.0,140.0 239.6,140.8 239.2,141.5 239.1,142.2 239.2,143.1 239.4,144.0 239.1,144.8 238.6,145.2 238.0,145.6 237.3,146.0 236.7,146.2 236.0,146.5 235.1,146.8 234.2,146.9 233.5,147.0ZM234.8,146.3 233.8,146.4 232.8,146.3 232.0,146.2 231.3,145.8 230.8,145.2 230.2,144.9 229.4,144.8 228.5,144.7 227.5,144.7 226.5,144.7 225.5,144.7 224.5,144.6 223.8,144.5 222.8,144.4 221.8,144.3 221.0,144.2 220.0,144.2 219.0,144.1 218.0,144.1 217.2,143.9 216.2,143.8 215.5,144.0 214.8,144.3 214.0,144.6 213.2,144.8 212.2,144.9 211.3,144.8 210.8,144.2 211.2,143.5 211.7,143.0 212.2,142.7 213.0,142.4 213.8,142.2 214.7,142.0 215.0,141.5 214.9,140.8 214.8,139.8 214.8,138.8 215.0,138.0 215.3,137.2 215.8,136.6 216.2,136.1 216.8,135.6 217.3,135.2 218.0,134.8 218.5,134.5 219.2,134.0 219.8,133.7 220.2,133.2 220.8,132.6 221.1,132.0 221.5,131.4 221.9,130.8 222.2,130.2 222.8,129.5 223.2,129.0 223.7,128.5 224.2,128.0 224.8,127.5 225.2,127.1 225.8,126.7 226.3,126.2 227.0,125.8 227.5,125.5 228.2,125.0 228.8,124.7 229.5,124.3 230.2,124.0 230.8,123.7 231.5,123.4 232.2,123.1 233.0,122.9 233.8,122.7 234.8,122.5 235.5,122.5 236.2,122.5 237.2,122.7 237.8,123.0 238.2,123.7 238.5,124.5 238.6,125.2 238.8,126.0 239.0,127.0 239.1,127.8 239.3,128.5 239.5,129.2 239.8,130.0 240.0,130.8 240.3,131.5 240.5,132.2 240.8,133.2 240.9,134.0 240.9,135.0 240.8,136.0 240.6,136.8 240.4,137.5 240.0,138.2 239.8,138.8 239.4,139.5 239.0,140.1 238.6,140.8 238.2,141.4 238.0,142.0 237.8,143.0 238.0,143.8 238.0,144.5 237.5,145.1 237.0,145.5 236.2,145.8 235.5,146.1 234.8,146.3ZM194.8,142.5 193.8,142.7 192.8,142.6 192.0,142.5 191.2,142.2 190.5,141.9 189.8,141.5 189.3,141.0 188.9,140.5 188.5,139.8 188.3,139.0 188.5,138.0 188.8,137.5 189.3,137.0 190.0,136.5 190.8,136.3 191.5,136.2 192.2,136.3 193.0,136.5 193.8,136.9 194.3,137.2 195.0,137.8 195.5,138.2 196.0,138.5 196.6,139.0 197.0,139.5 197.3,140.2 197.0,141.0 196.6,141.5 196.0,142.0 195.5,142.2 194.8,142.5ZM235.2,144.9 234.2,144.8 233.8,144.4 233.0,144.1 232.2,143.9 231.2,143.8 230.2,143.8 229.2,143.9 228.2,144.0 227.5,144.0 226.5,144.1 225.5,144.0 224.8,144.0 223.8,143.8 223.0,143.5 222.4,143.2 221.8,142.8 221.3,142.2 220.9,141.8 220.4,141.2 219.8,140.8 219.2,140.5 218.5,140.1 217.9,139.8 217.3,139.2 217.0,138.8 216.8,137.8 217.0,137.0 217.5,136.3 218.0,135.9 218.7,135.5 219.2,135.2 220.0,134.8 220.6,134.5 221.2,134.0 221.6,133.5 222.0,132.8 222.3,132.2 222.7,131.5 223.0,131.0 223.5,130.3 223.9,129.8 224.3,129.2 224.8,128.8 225.4,128.2 225.9,127.8 226.5,127.3 227.0,126.9 227.6,126.5 228.2,126.1 228.8,125.8 229.5,125.4 230.2,125.0 230.8,124.8 231.5,124.5 232.2,124.2 233.0,124.0 233.8,123.8 234.8,123.6 235.8,123.5 236.8,123.7 237.3,124.0 237.7,124.8 237.9,125.5 238.0,126.2 238.2,127.2 238.4,128.0 238.7,128.8 238.9,129.5 239.1,130.2 239.4,131.0 239.7,131.8 240.0,132.5 240.2,133.2 240.3,134.0 240.4,135.0 240.2,135.9 240.0,136.8 239.8,137.4 239.4,138.0 239.0,138.7 238.7,139.2 238.2,139.9 237.8,140.5 237.4,141.0 237.0,141.6 236.5,142.2 236.2,142.8 235.8,143.5 235.7,144.2 235.2,144.9ZM192.0,140.8 191.6,140.8 191.2,140.7 190.8,140.5 190.5,140.3 190.2,140.1 190.0,139.9 189.8,139.5 189.7,139.2 189.6,138.8 189.7,138.2 189.8,138.0 190.0,137.8 190.3,137.5 190.7,137.2 191.0,137.2 191.5,137.1 192.0,137.2 192.3,137.2 192.7,137.5 193.0,137.7 193.2,138.0 193.5,138.2 193.6,138.5 193.7,139.0 193.7,139.5 193.5,140.0 193.3,140.2 193.0,140.5 192.8,140.6 192.2,140.7 192.0,140.8ZM227.0,143.5 226.0,143.5 225.2,143.4 224.5,143.2 223.8,142.9 223.2,142.5 222.8,141.9 222.3,141.2 222.0,140.7 221.5,140.0 221.0,139.5 220.5,139.2 219.8,138.9 219.0,138.5 218.6,138.0 218.5,137.4 219.0,136.8 219.5,136.4 220.2,136.1 221.0,135.8 221.5,135.4 222.0,135.0 222.5,134.3 222.8,133.8 223.2,133.0 223.5,132.3 223.8,131.8 224.2,131.0 224.6,130.5 225.0,130.0 225.5,129.4 226.0,128.9 226.5,128.5 227.0,128.0 227.7,127.5 228.2,127.1 228.8,126.8 229.5,126.3 230.2,126.0 230.8,125.7 231.5,125.4 232.2,125.2 233.0,124.9 233.8,124.8 234.8,124.6 235.8,124.6 236.5,124.8 237.0,125.4 237.2,126.2 237.4,127.0 237.6,127.8 237.8,128.5 238.1,129.2 238.3,130.0 238.6,130.8 239.0,131.5 239.2,132.1 239.5,132.8 239.8,133.6 239.9,134.5 239.8,135.5 239.6,136.2 239.3,137.0 239.0,137.5 238.5,138.2 238.2,138.8 237.8,139.3 237.2,139.9 236.8,140.5 236.3,141.0 235.8,141.5 235.2,141.9 234.6,142.2 234.0,142.5 233.0,142.7 232.2,142.8 231.2,142.9 230.4,143.0 229.5,143.1 228.8,143.3 227.8,143.4 227.0,143.5ZM228.2,142.8 227.2,143.0 226.2,143.0 225.2,142.8 224.5,142.5 224.0,142.1 223.6,141.5 223.2,140.9 223.0,140.2 222.7,139.5 222.4,138.8 222.3,137.8 222.5,136.8 222.8,136.2 223.2,135.5 223.5,134.9 223.8,134.2 224.1,133.5 224.5,132.8 224.8,132.2 225.1,131.5 225.5,130.9 226.0,130.3 226.5,129.8 227.0,129.2 227.5,128.8 228.0,128.3 228.5,128.0 229.2,127.5 229.8,127.2 230.5,126.8 231.2,126.5 231.8,126.2 232.6,126.0 233.5,125.8 234.2,125.6 235.2,125.6 236.0,125.8 236.5,126.5 236.7,127.2 236.9,128.0 237.1,128.8 237.4,129.5 237.7,130.2 238.0,130.9 238.3,131.5 238.7,132.2 239.0,132.9 239.2,133.8 239.3,134.5 239.2,135.5 239.0,136.2 238.8,136.8 238.3,137.5 237.9,138.0 237.5,138.5 237.0,139.1 236.5,139.6 236.0,140.2 235.5,140.6 235.0,141.0 234.2,141.4 233.5,141.7 232.8,141.9 232.0,142.0 231.0,142.2 230.2,142.3 229.5,142.5 228.5,142.7ZM228.0,142.3 227.0,142.4 226.0,142.4 225.2,142.2 224.7,141.8 224.2,141.2 223.9,140.5 223.7,139.8 223.6,138.8 223.6,137.8 223.8,137.0 224.1,136.2 224.4,135.5 224.7,134.8 225.0,134.1 225.2,133.5 225.6,132.8 226.0,132.0 226.3,131.5 226.8,130.8 227.2,130.2 227.7,129.8 228.2,129.3 228.8,128.9 229.2,128.5 230.0,128.0 230.5,127.8 231.2,127.4 232.0,127.1 232.8,126.9 233.5,126.7 234.5,126.6 235.5,126.8 235.8,127.2 236.1,128.0 236.4,128.8 236.6,129.5 236.9,130.2 237.2,130.9 237.6,131.5 238.0,132.2 238.3,132.8 238.6,133.5 238.8,134.2 238.8,135.1 238.5,136.0 238.2,136.5 237.8,137.2 237.2,137.7 236.8,138.2 236.3,138.8 235.8,139.2 235.3,139.8 234.8,140.2 234.2,140.5 233.5,140.8 232.8,141.1 232.0,141.3 231.1,141.5 230.2,141.7 229.5,141.9 228.8,142.1 228.0,142.3ZM227.8,141.8 226.8,141.9 226.0,141.8 225.2,141.3 224.9,140.8 224.6,140.0 224.4,139.2 224.4,138.2 224.6,137.5 224.9,136.8 225.2,136.0 225.5,135.4 225.8,134.8 226.1,134.0 226.4,133.2 226.8,132.6 227.1,132.0 227.5,131.4 228.0,130.8 228.5,130.2 229.0,129.8 229.5,129.4 230.0,129.0 230.8,128.6 231.5,128.2 232.1,128.0 232.9,127.8 233.8,127.6 234.8,127.6 235.2,128.0 235.6,128.8 235.8,129.5 236.1,130.2 236.5,131.0 236.8,131.5 237.2,132.2 237.6,132.8 238.0,133.5 238.2,134.2 238.1,135.2 237.8,136.0 237.4,136.5 237.0,137.0 236.5,137.5 235.9,138.0 235.4,138.5 234.9,139.0 234.3,139.5 233.8,139.8 233.0,140.2 232.2,140.5 231.5,140.7 230.8,140.9 230.0,141.1 229.2,141.4 228.5,141.6 227.8,141.8ZM228.2,141.0 227.2,141.2 226.2,141.0 225.8,140.6 225.4,140.0 225.2,139.2 225.3,138.5 225.5,137.6 225.8,137.0 226.1,136.2 226.5,135.5 226.8,135.0 227.1,134.2 227.4,133.5 227.8,132.8 228.1,132.2 228.5,131.6 229.0,131.0 229.5,130.5 230.0,130.1 230.5,129.8 231.2,129.3 231.9,129.0 232.6,128.8 233.5,128.5 234.0,128.5 234.8,129.0 235.0,129.5 235.3,130.2 235.6,131.0 236.0,131.7 236.4,132.2 236.8,132.8 237.2,133.5 237.4,134.2 237.3,135.2 237.0,135.8 236.5,136.4 236.0,136.8 235.5,137.3 235.0,137.8 234.5,138.2 233.9,138.8 233.2,139.2 232.7,139.5 232.0,139.8 231.2,140.0 230.5,140.3 229.8,140.5 229.0,140.8 228.2,141.0ZM228.0,140.3 227.1,140.2 226.5,139.8 226.3,139.0 226.5,138.0 226.8,137.4 227.1,136.8 227.5,136.0 227.8,135.4 228.0,134.8 228.3,134.0 228.7,133.2 229.0,132.7 229.5,132.0 229.9,131.5 230.4,131.0 231.0,130.5 231.5,130.2 232.2,129.8 233.0,129.6 234.0,129.7 234.4,130.2 234.7,131.0 235.0,131.6 235.3,132.2 235.7,133.0 236.0,133.5 236.3,134.2 236.2,135.0 235.8,135.6 235.2,136.2 234.8,136.7 234.2,137.2 233.8,137.7 233.2,138.1 232.7,138.5 232.0,138.9 231.2,139.2 230.5,139.5 229.8,139.8 229.0,140.0 228.2,140.2ZM230.5,138.5 229.5,138.6 228.8,138.3 228.6,137.5 228.8,136.8 229.0,135.8 229.2,135.0 229.5,134.3 229.8,133.7 230.1,133.0 230.5,132.4 231.0,131.9 231.5,131.4 232.2,131.0 232.8,130.7 233.5,130.8 234.0,131.5 234.2,132.2 234.4,133.0 234.6,133.8 234.5,134.8 234.2,135.3 233.8,136.0 233.5,136.5 233.0,137.0 232.5,137.5 231.8,138.0 231.2,138.3 230.5,138.5ZM231.8,136.6 231.2,136.7 230.8,136.5 230.7,136.2 230.6,135.8 230.7,135.2 230.8,135.0 230.9,134.5 231.0,134.2 231.2,133.8 231.3,133.5 231.5,133.2 231.8,132.9 232.0,132.7 232.2,132.5 232.8,132.3 233.0,132.5 233.2,133.0 233.2,133.5 233.2,133.5 233.2,134.0 233.1,134.5 233.0,134.9 232.9,135.2 232.7,135.5 232.5,135.8 232.2,136.2 232.0,136.4 231.8,136.6Z" fill="none" stroke="#262626" stroke-width="1.0"/>
<path d="M222.8,329.8 221.8,329.9 220.8,329.9 219.8,329.9 218.8,329.9 217.8,329.9 216.8,329.9 215.8,329.9 214.8,329.9 213.8,329.9 212.8,329.9 211.8,329.9 210.8,329.9 209.8,329.9 208.8,329.9 207.8,329.9 206.8,329.9 206.0,329.7 205.0,329.7 204.0,329.7 203.0,329.7 202.2,329.4 201.2,329.4 200.2,329.3 199.5,329.2 198.5,329.2 197.8,328.9 196.8,328.9 196.0,328.7 195.0,328.7 194.2,328.4 193.2,328.4 192.5,328.2 191.5,328.1 190.8,327.9 189.9,327.8 189.0,327.7 188.2,327.4 187.4,327.2 186.5,327.1 185.8,326.9 185.0,326.7 184.2,326.5 183.2,326.3 182.5,326.2 181.8,325.9 181.0,325.7 180.2,325.4 179.4,325.2 178.7,325.0 177.9,324.8 177.0,324.6 176.2,324.3 175.5,324.1 174.8,323.8 174.0,323.6 173.2,323.3 172.5,323.1 171.8,322.8 171.2,322.5 170.4,322.2 169.7,322.0 169.0,321.7 168.2,321.4 167.5,321.1 166.8,320.8 166.2,320.5 165.5,320.2 164.9,319.8 164.2,319.4 163.5,319.1 163.0,318.7 162.4,318.2 161.8,317.8 161.2,317.4 160.7,317.0 160.2,316.5 159.5,316.1 159.0,315.6 158.5,315.1 158.2,314.5 157.7,314.0 157.2,313.3 156.8,312.8 156.5,312.1 156.2,311.5 155.8,310.8 155.6,310.0 155.3,309.2 155.1,308.5 154.8,307.8 154.6,307.0 154.3,306.2 154.1,305.5 153.8,304.8 153.8,303.8 153.6,303.0 153.6,302.0 153.6,301.0 153.7,300.0 154.0,299.2 154.4,298.8 154.8,298.2 155.2,297.7 155.8,297.2 156.4,296.8 157.0,296.3 157.7,296.0 158.2,295.6 158.9,295.2 159.5,294.8 160.2,294.5 160.8,294.2 161.5,293.8 162.2,293.5 162.8,293.2 163.5,292.8 164.2,292.6 164.9,292.2 165.7,292.0 166.2,291.7 167.0,291.4 167.8,291.1 168.5,290.8 169.2,290.6 169.9,290.2 170.7,290.0 171.2,289.7 172.0,289.4 172.8,289.2 173.5,288.8 174.2,288.6 175.0,288.3 175.8,288.1 176.5,287.8 177.1,287.5 177.9,287.2 178.5,286.9 179.2,286.6 180.0,286.3 180.6,286.0 181.2,285.7 182.0,285.3 182.6,285.0 183.2,284.7 184.0,284.4 184.6,284.0 185.2,283.6 186.0,283.3 186.5,282.9 187.1,282.5 187.8,282.1 188.4,281.8 188.9,281.2 189.5,280.9 190.0,280.4 190.5,279.9 191.0,279.4 191.5,278.9 192.0,278.4 192.5,277.9 192.9,277.2 193.2,276.6 193.6,276.0 193.9,275.2 194.2,274.6 194.4,273.8 194.6,273.0 194.8,272.2 195.0,271.5 195.3,270.8 195.5,270.0 195.3,269.2 195.0,268.7 194.6,268.0 194.2,267.4 193.8,266.8 193.4,266.2 193.0,265.6 192.5,265.1 192.2,264.5 191.8,263.8 191.3,263.2 191.0,262.6 190.7,262.0 190.3,261.2 190.0,260.6 189.8,259.8 189.6,259.0 189.3,258.2 189.3,257.2 189.3,256.2 189.6,255.5 189.8,254.8 190.2,254.0 190.5,253.5 191.0,252.8 191.5,252.2 192.0,251.8 192.5,251.2 193.0,250.9 193.7,250.5 194.2,250.1 194.8,249.7 195.5,249.3 196.2,249.0 196.8,248.6 197.4,248.2 198.0,247.9 198.7,247.5 199.2,247.2 200.0,246.8 200.7,246.5 201.2,246.2 202.0,245.8 202.7,245.5 203.2,245.2 204.0,244.8 204.7,244.5 205.2,244.2 206.0,243.9 206.8,243.6 207.4,243.2 208.2,243.0 208.8,242.7 209.5,242.4 210.2,242.1 211.0,241.8 211.8,241.6 212.5,241.3 213.2,241.1 214.0,240.8 214.8,240.6 215.5,240.3 216.2,240.1 217.0,239.8 217.8,239.7 218.7,239.5 219.5,239.3 220.2,239.1 221.0,238.8 222.0,238.8 222.8,238.6 223.8,238.6 224.5,238.4 225.5,238.3 226.5,238.3 227.5,238.3 228.5,238.3 229.5,238.3 230.2,238.6 231.2,238.6 232.2,238.7 233.0,238.8 233.8,239.0 234.8,239.2 235.5,239.3 236.2,239.6 237.0,239.8 237.8,240.2 238.3,240.5 239.0,240.8 239.8,241.2 240.3,241.5 241.0,241.9 241.5,242.3 242.1,242.8 242.8,243.2 243.2,243.7 243.8,244.0 244.3,244.5 244.8,245.0 245.3,245.5 245.8,246.0 246.3,246.5 246.8,247.0 247.2,247.7 247.8,248.2 248.1,248.8 248.5,249.4 249.0,249.9 249.3,250.5 249.8,251.2 250.1,251.8 250.5,252.4 250.8,253.0 251.2,253.8 251.5,254.4 251.8,255.0 252.2,255.8 252.5,256.4 252.8,257.2 253.1,257.8 253.3,258.5 253.7,259.2 253.9,260.0 254.2,260.8 254.4,261.5 254.7,262.2 254.9,263.0 255.2,263.8 255.4,264.5 255.6,265.2 255.8,266.2 256.0,266.9 256.2,267.8 256.4,268.5 256.7,269.2 256.8,270.2 256.9,271.0 257.2,271.8 257.3,272.5 257.4,273.5 257.7,274.2 257.9,275.0 258.0,275.9 258.2,276.8 258.4,277.5 258.7,278.2 258.9,279.0 258.9,280.0 258.9,281.0 258.9,282.0 258.9,283.0 258.9,284.0 258.9,285.0 258.9,286.0 258.9,287.0 258.9,288.0 258.9,289.0 258.9,290.0 258.9,291.0 258.9,292.0 258.9,293.0 258.9,294.0 258.9,295.0 258.8,296.0 258.7,296.8 258.7,297.8 258.7,298.8 258.5,299.6 258.4,300.5 258.4,301.5 258.2,302.2 258.2,303.2 258.0,304.1 257.9,305.0 257.8,305.8 257.7,306.8 257.4,307.5 257.3,308.5 257.2,309.2 256.9,310.0 256.7,310.8 256.5,311.6 256.2,312.3 256.1,313.2 255.8,313.8 255.5,314.6 255.2,315.2 254.9,316.0 254.6,316.8 254.2,317.3 253.8,318.0 253.5,318.6 253.1,319.2 252.7,319.8 252.2,320.3 251.8,320.8 251.3,321.5 250.8,322.0 250.3,322.5 249.8,323.0 249.2,323.4 248.8,323.8 248.1,324.2 247.5,324.7 247.0,325.1 246.2,325.4 245.6,325.8 245.0,326.1 244.2,326.4 243.5,326.7 242.8,326.9 242.0,327.2 241.2,327.4 240.5,327.7 239.8,327.8 238.8,328.0 238.0,328.2 237.2,328.4 236.2,328.4 235.5,328.7 234.6,328.8 233.8,328.9 232.8,328.9 232.0,329.2 231.0,329.2 230.0,329.2 229.2,329.4 228.2,329.4 227.2,329.4 226.5,329.7 225.5,329.7 224.5,329.7 223.5,329.7 222.8,329.8ZM221.5,326.5 220.5,326.5 219.5,326.6 218.5,326.6 217.5,326.6 216.5,326.5 215.5,326.5 214.8,326.5 213.8,326.5 212.8,326.4 211.8,326.5 210.8,326.5 209.8,326.5 208.8,326.5 207.8,326.4 206.8,326.3 205.8,326.3 205.0,326.2 204.0,326.1 203.0,326.1 202.0,326.0 201.2,325.9 200.2,325.8 199.5,325.7 198.5,325.5 197.8,325.4 197.0,325.2 196.0,325.1 195.2,324.9 194.2,324.8 193.5,324.7 192.5,324.5 191.8,324.4 190.8,324.3 190.0,324.2 189.1,324.0 188.2,323.8 187.5,323.7 186.8,323.5 185.8,323.2 185.0,323.0 184.2,322.9 183.5,322.7 182.8,322.5 182.0,322.2 181.1,322.0 180.2,321.8 179.5,321.5 178.8,321.3 178.0,321.1 177.2,320.9 176.5,320.6 175.8,320.4 175.0,320.1 174.2,319.9 173.5,319.7 172.8,319.4 172.0,319.1 171.2,318.9 170.5,318.6 169.8,318.3 169.1,318.0 168.5,317.7 167.8,317.3 167.1,317.0 166.5,316.6 165.9,316.2 165.2,315.8 164.8,315.5 164.1,315.0 163.5,314.5 163.0,314.1 162.5,313.6 162.0,313.1 161.5,312.5 161.1,312.0 160.8,311.5 160.3,310.8 160.0,310.2 159.6,309.5 159.3,308.8 159.0,308.1 158.8,307.5 158.5,306.7 158.2,305.8 158.1,305.0 158.0,304.0 158.1,303.0 158.2,302.2 158.5,301.5 158.8,300.8 159.2,300.0 159.7,299.5 160.1,299.0 160.7,298.5 161.2,298.1 161.8,297.8 162.5,297.4 163.2,297.0 163.8,296.7 164.5,296.4 165.2,296.0 165.9,295.8 166.5,295.5 167.2,295.1 168.0,294.8 168.8,294.5 169.4,294.2 170.0,294.0 170.8,293.7 171.5,293.4 172.2,293.0 173.0,292.8 173.6,292.5 174.3,292.2 175.0,292.0 175.8,291.7 176.5,291.5 177.2,291.2 178.0,290.9 178.8,290.6 179.5,290.3 180.2,290.0 180.8,289.8 181.5,289.4 182.2,289.1 182.9,288.8 183.5,288.4 184.2,288.1 184.8,287.8 185.5,287.4 186.2,287.0 186.8,286.7 187.5,286.3 188.0,286.0 188.8,285.5 189.2,285.2 189.9,284.8 190.5,284.3 191.0,283.9 191.5,283.5 192.0,283.0 192.6,282.5 193.1,282.0 193.6,281.5 194.1,281.0 194.5,280.5 195.0,279.9 195.5,279.2 195.8,278.8 196.2,278.0 196.5,277.5 196.9,276.8 197.2,276.0 197.5,275.2 197.7,274.5 198.0,273.8 198.1,273.0 198.3,272.2 198.4,271.2 198.4,270.2 198.3,269.2 198.2,268.5 198.0,267.8 197.7,267.0 197.4,266.2 197.0,265.5 196.7,265.0 196.3,264.2 196.0,263.8 195.5,263.0 195.2,262.5 194.9,261.8 194.5,261.0 194.2,260.3 194.0,259.5 193.9,258.8 193.8,257.8 193.8,256.8 194.0,256.0 194.3,255.2 194.8,254.6 195.2,254.0 195.8,253.6 196.2,253.2 196.9,252.8 197.5,252.4 198.1,252.0 198.8,251.6 199.5,251.2 200.0,250.9 200.8,250.5 201.3,250.2 202.0,249.8 202.6,249.5 203.2,249.1 204.0,248.8 204.5,248.5 205.2,248.1 206.0,247.8 206.5,247.5 207.2,247.1 208.0,246.8 208.7,246.5 209.3,246.2 210.0,246.0 210.8,245.7 211.5,245.4 212.2,245.1 213.0,244.9 213.8,244.6 214.5,244.4 215.2,244.1 216.0,243.9 216.8,243.7 217.5,243.4 218.2,243.2 219.0,242.9 219.8,242.7 220.7,242.5 221.5,242.3 222.2,242.2 223.2,242.1 224.2,242.0 225.0,241.9 226.0,241.9 227.0,241.8 228.0,241.8 229.0,241.9 230.0,242.0 230.8,242.1 231.8,242.2 232.5,242.4 233.2,242.6 234.0,242.8 234.8,243.0 235.5,243.3 236.2,243.6 237.0,244.0 237.6,244.2 238.2,244.6 238.9,245.0 239.5,245.3 240.1,245.8 240.8,246.2 241.2,246.6 241.8,247.0 242.2,247.5 242.8,248.0 243.2,248.6 243.7,249.2 244.1,249.8 244.5,250.3 245.0,251.0 245.4,251.5 245.8,252.0 246.2,252.8 246.6,253.2 247.0,254.0 247.3,254.5 247.7,255.2 248.0,255.8 248.4,256.5 248.8,257.1 249.1,257.8 249.4,258.5 249.7,259.2 250.0,259.9 250.2,260.5 250.5,261.2 250.8,262.0 251.0,262.8 251.3,263.5 251.5,264.2 251.8,265.0 252.0,265.8 252.2,266.7 252.5,267.5 252.7,268.2 252.9,269.0 253.1,269.8 253.3,270.5 253.5,271.4 253.7,272.2 253.9,273.0 254.0,273.8 254.2,274.7 254.4,275.5 254.6,276.2 254.7,277.2 254.8,278.0 255.0,279.0 255.0,279.8 255.1,280.8 255.2,281.8 255.3,282.5 255.4,283.5 255.4,284.5 255.5,285.5 255.5,286.5 255.5,287.2 255.5,288.2 255.5,289.2 255.5,290.2 255.5,291.2 255.5,292.0 255.5,293.0 255.4,294.0 255.4,295.0 255.3,296.0 255.2,296.8 255.2,297.8 255.1,298.8 255.0,299.8 254.9,300.5 254.8,301.5 254.7,302.2 254.6,303.2 254.5,304.0 254.3,305.0 254.2,305.8 254.0,306.6 253.8,307.5 253.6,308.2 253.3,309.0 253.1,309.8 252.9,310.5 252.7,311.2 252.5,312.0 252.2,312.8 252.0,313.5 251.7,314.2 251.3,315.0 251.0,315.7 250.7,316.2 250.2,316.9 249.8,317.5 249.5,318.0 249.0,318.6 248.5,319.2 248.0,319.7 247.5,320.2 247.0,320.6 246.4,321.0 245.8,321.4 245.2,321.8 244.5,322.1 243.8,322.5 243.2,322.8 242.5,323.1 241.8,323.4 241.0,323.6 240.2,323.8 239.5,324.0 238.5,324.2 237.8,324.4 237.0,324.5 236.0,324.7 235.2,324.9 234.5,325.0 233.5,325.2 232.8,325.4 232.0,325.5 231.0,325.7 230.2,325.8 229.2,325.9 228.5,326.0 227.5,326.1 226.5,326.1 225.5,326.2 224.8,326.3 223.8,326.3 222.8,326.4 221.8,326.5ZM221.8,324.8 220.8,324.8 219.8,324.9 218.8,324.8 217.8,324.8 217.0,324.7 216.0,324.5 215.2,324.4 214.2,324.3 213.5,324.2 212.5,324.1 211.5,324.2 210.8,324.3 209.8,324.4 208.8,324.4 207.8,324.4 206.8,324.3 206.0,324.2 205.0,324.2 204.0,324.2 203.0,324.2 202.0,324.1 201.0,324.0 200.2,323.9 199.5,323.8 198.5,323.5 197.8,323.3 197.0,323.2 196.1,323.0 195.2,322.9 194.5,322.7 193.5,322.6 192.7,322.5 191.8,322.4 190.8,322.3 190.0,322.2 189.0,322.1 188.2,322.0 187.2,321.8 186.5,321.6 185.8,321.4 185.0,321.2 184.0,321.0 183.2,320.8 182.5,320.6 181.8,320.5 181.0,320.2 180.1,320.0 179.4,319.8 178.7,319.5 178.0,319.2 177.2,318.9 176.5,318.6 175.8,318.2 175.1,318.0 174.5,317.8 173.7,317.5 172.9,317.2 172.1,317.0 171.4,316.8 170.8,316.5 170.0,316.2 169.2,315.9 168.5,315.5 168.0,315.2 167.2,314.8 166.8,314.5 166.0,314.0 165.5,313.6 165.0,313.2 164.5,312.8 164.0,312.2 163.5,311.7 163.0,311.1 162.6,310.5 162.2,310.0 161.8,309.2 161.5,308.7 161.1,308.0 160.8,307.2 160.5,306.5 160.3,305.8 160.2,305.0 160.1,304.0 160.2,303.1 160.5,302.3 160.8,301.7 161.2,301.0 161.6,300.5 162.1,300.0 162.8,299.5 163.2,299.2 164.0,298.8 164.5,298.5 165.2,298.2 166.0,297.8 166.6,297.5 167.2,297.2 168.0,296.8 168.7,296.5 169.2,296.2 170.0,295.9 170.8,295.5 171.3,295.2 172.0,294.9 172.8,294.6 173.5,294.3 174.2,294.1 175.0,293.8 175.8,293.6 176.5,293.4 177.2,293.2 178.0,293.0 178.8,292.7 179.5,292.4 180.2,292.0 180.8,291.8 181.5,291.4 182.1,291.0 182.8,290.7 183.5,290.2 184.0,289.9 184.8,289.5 185.3,289.2 186.0,288.9 186.7,288.5 187.2,288.2 188.0,287.9 188.7,287.5 189.2,287.2 190.0,286.8 190.5,286.5 191.2,286.0 191.8,285.6 192.2,285.2 192.8,284.7 193.3,284.2 193.8,283.8 194.4,283.2 194.9,282.8 195.5,282.2 196.0,281.8 196.4,281.2 196.8,280.8 197.2,280.2 197.7,279.5 198.0,278.9 198.3,278.2 198.7,277.5 198.9,276.8 199.2,276.0 199.4,275.2 199.5,274.5 199.8,273.7 200.0,272.8 200.2,272.0 200.3,271.2 200.5,270.2 200.5,269.5 200.5,268.8 200.3,267.8 200.1,267.0 199.8,266.2 199.5,265.7 199.1,265.0 198.8,264.4 198.3,263.8 198.0,263.2 197.5,262.5 197.2,262.0 196.8,261.2 196.5,260.7 196.2,260.0 196.0,259.2 195.8,258.3 195.7,257.5 195.8,256.8 196.1,256.0 196.5,255.5 197.0,255.0 197.6,254.5 198.2,254.1 198.8,253.7 199.5,253.3 200.1,253.0 200.8,252.6 201.4,252.2 202.0,251.9 202.8,251.5 203.2,251.2 204.0,250.8 204.6,250.5 205.2,250.2 206.0,249.8 206.7,249.5 207.2,249.2 208.0,248.8 208.6,248.5 209.2,248.2 210.0,247.8 210.8,247.5 211.4,247.2 212.0,247.0 212.8,246.7 213.5,246.4 214.2,246.2 215.0,245.9 215.8,245.7 216.5,245.4 217.2,245.2 218.0,244.8 218.8,244.5 219.4,244.2 220.1,244.0 220.9,243.8 221.8,243.6 222.5,243.5 223.5,243.4 224.5,243.4 225.5,243.3 226.5,243.3 227.5,243.3 228.5,243.3 229.5,243.5 230.2,243.6 231.1,243.8 232.0,244.0 232.8,244.2 233.4,244.5 234.0,244.8 234.8,245.1 235.5,245.4 236.2,245.7 237.0,246.0 237.6,246.2 238.2,246.6 239.0,246.9 239.5,247.2 240.2,247.8 240.8,248.2 241.2,248.8 241.6,249.2 242.0,249.8 242.5,250.5 242.8,251.0 243.2,251.7 243.7,252.2 244.1,252.8 244.5,253.3 245.0,254.0 245.3,254.5 245.8,255.2 246.1,255.8 246.5,256.5 246.8,257.0 247.1,257.8 247.5,258.5 247.8,259.2 248.0,259.8 248.3,260.5 248.5,261.2 248.8,262.0 249.0,262.8 249.3,263.5 249.6,264.2 249.8,265.0 250.1,265.8 250.4,266.5 250.7,267.2 250.9,268.0 251.2,268.8 251.4,269.5 251.6,270.2 251.8,271.0 252.0,271.8 252.2,272.8 252.4,273.5 252.6,274.2 252.8,275.2 252.9,276.0 253.0,277.0 253.1,277.8 253.2,278.8 253.2,279.8 253.3,280.5 253.4,281.5 253.5,282.5 253.5,283.2 253.6,284.2 253.6,285.2 253.7,286.2 253.7,287.2 253.7,288.2 253.7,289.2 253.7,290.2 253.8,291.0 253.8,292.0 253.8,293.0 253.8,293.9 253.7,294.8 253.6,295.8 253.5,296.5 253.4,297.5 253.3,298.5 253.2,299.3 253.2,300.2 253.0,301.2 252.9,302.0 252.8,303.0 252.6,303.8 252.5,304.5 252.2,305.2 252.0,306.1 251.8,306.8 251.5,307.7 251.3,308.5 251.1,309.2 250.9,310.0 250.8,310.8 250.5,311.8 250.3,312.5 250.1,313.2 249.8,314.0 249.5,314.6 249.1,315.2 248.8,315.9 248.3,316.5 248.0,317.0 247.5,317.6 247.0,318.2 246.5,318.7 246.0,319.1 245.5,319.5 244.8,319.9 244.2,320.2 243.5,320.6 242.8,320.9 242.0,321.2 241.2,321.5 240.5,321.7 239.8,321.9 239.0,322.0 238.0,322.2 237.2,322.4 236.5,322.6 235.7,322.8 234.8,323.0 234.0,323.2 233.2,323.4 232.5,323.6 231.7,323.8 230.8,324.0 230.0,324.1 229.0,324.2 228.2,324.4 227.2,324.4 226.2,324.4 225.2,324.5 224.2,324.5 223.5,324.6 222.5,324.7 221.8,324.8ZM221.2,323.0 220.2,323.1 219.2,323.1 218.5,323.0 217.5,322.8 216.8,322.7 215.8,322.5 215.0,322.4 214.0,322.3 213.2,322.2 212.2,322.2 211.2,322.2 210.2,322.2 209.2,322.2 208.2,322.2 207.2,322.2 206.2,322.2 205.2,322.2 204.2,322.2 203.2,322.2 202.2,322.2 201.2,322.2 200.2,322.1 199.5,322.0 198.5,321.8 197.8,321.7 196.8,321.6 196.0,321.5 195.0,321.3 194.2,321.2 193.2,321.1 192.5,321.0 191.5,320.9 190.5,320.8 189.8,320.7 188.8,320.6 188.0,320.4 187.2,320.2 186.2,320.0 185.5,319.8 184.8,319.6 184.0,319.5 183.0,319.3 182.2,319.1 181.5,319.0 180.7,318.8 180.0,318.5 179.2,318.2 178.5,317.8 177.9,317.5 177.2,317.1 176.6,316.8 176.0,316.4 175.2,316.1 174.5,315.8 173.8,315.5 173.1,315.2 172.4,315.0 171.8,314.7 171.0,314.5 170.2,314.1 169.5,313.8 168.8,313.5 168.2,313.2 167.5,312.8 167.0,312.4 166.4,312.0 165.8,311.5 165.3,311.0 164.8,310.5 164.4,310.0 164.0,309.5 163.5,308.8 163.1,308.2 162.8,307.6 162.5,307.0 162.2,306.2 161.9,305.5 161.8,304.5 162.0,303.5 162.2,302.8 162.5,302.2 163.0,301.6 163.5,301.1 164.0,300.7 164.7,300.2 165.2,299.9 165.9,299.5 166.5,299.2 167.2,298.8 167.9,298.5 168.5,298.2 169.2,297.9 170.0,297.5 170.5,297.2 171.2,296.9 172.0,296.5 172.5,296.2 173.2,295.9 174.0,295.7 174.8,295.5 175.8,295.3 176.5,295.1 177.2,294.9 178.0,294.7 178.8,294.4 179.5,294.1 180.1,293.8 180.8,293.4 181.3,293.0 182.0,292.6 182.5,292.2 183.2,291.8 183.8,291.5 184.5,291.0 185.0,290.7 185.8,290.3 186.4,290.0 187.0,289.7 187.8,289.3 188.4,289.0 189.0,288.7 189.8,288.4 190.5,288.1 191.1,287.8 191.8,287.4 192.4,287.0 193.0,286.6 193.5,286.2 194.1,285.8 194.6,285.2 195.2,284.8 195.7,284.2 196.2,283.8 196.8,283.3 197.2,282.8 197.7,282.2 198.1,281.8 198.5,281.2 198.9,280.5 199.2,279.9 199.6,279.2 200.0,278.5 200.2,278.0 200.5,277.2 200.8,276.3 200.9,275.5 201.0,274.8 201.2,273.8 201.4,273.0 201.6,272.2 201.8,271.5 202.0,270.7 202.2,269.8 202.2,268.8 202.2,267.8 202.0,266.9 201.8,266.2 201.4,265.5 201.0,264.8 200.7,264.2 200.2,263.7 199.8,263.0 199.4,262.5 199.0,261.9 198.6,261.2 198.2,260.5 198.0,259.8 197.8,259.0 197.7,258.2 197.8,257.5 198.1,256.8 198.5,256.2 199.0,255.7 199.5,255.2 200.2,254.8 200.8,254.4 201.3,254.0 202.0,253.6 202.6,253.2 203.2,252.9 204.0,252.5 204.5,252.2 205.2,251.9 206.0,251.6 206.8,251.3 207.5,251.1 208.2,250.8 208.9,250.5 209.5,250.2 210.2,249.8 210.8,249.4 211.4,249.0 212.0,248.6 212.7,248.2 213.3,248.0 214.0,247.7 214.8,247.4 215.5,247.1 216.2,246.8 217.0,246.5 217.6,246.2 218.2,245.9 219.0,245.5 219.6,245.2 220.2,245.0 221.0,244.7 222.0,244.5 222.8,244.4 223.8,244.4 224.8,244.4 225.8,244.4 226.8,244.4 227.8,244.4 228.5,244.5 229.5,244.7 230.2,244.8 231.0,245.0 231.8,245.3 232.5,245.6 233.2,245.9 234.0,246.2 234.7,246.5 235.3,246.8 236.0,247.0 236.8,247.3 237.5,247.6 238.2,248.0 238.8,248.3 239.3,248.8 239.9,249.2 240.3,249.8 240.7,250.5 241.0,251.0 241.4,251.8 241.8,252.2 242.2,252.9 242.7,253.5 243.2,254.0 243.6,254.5 244.0,255.0 244.5,255.7 244.8,256.2 245.2,257.0 245.5,257.6 245.8,258.2 246.1,259.0 246.4,259.8 246.7,260.5 246.9,261.2 247.1,262.0 247.4,262.8 247.7,263.5 248.0,264.2 248.2,264.9 248.5,265.5 248.9,266.2 249.2,267.0 249.5,267.8 249.8,268.4 250.0,269.2 250.2,270.0 250.5,270.8 250.7,271.5 250.9,272.2 251.1,273.0 251.2,273.8 251.4,274.8 251.5,275.5 251.7,276.5 251.8,277.5 251.8,278.2 251.9,279.2 252.0,280.0 252.1,281.0 252.2,282.0 252.3,282.8 252.3,283.8 252.3,284.8 252.3,285.8 252.3,286.8 252.2,287.5 252.2,288.5 252.2,289.5 252.2,290.5 252.3,291.2 252.4,292.2 252.4,293.2 252.4,294.2 252.3,295.2 252.2,296.0 252.0,297.0 251.9,297.8 251.8,298.8 251.7,299.5 251.6,300.5 251.5,301.2 251.3,302.2 251.1,303.0 250.9,303.8 250.7,304.5 250.5,305.2 250.2,306.0 250.0,306.8 249.8,307.8 249.6,308.5 249.5,309.2 249.3,310.2 249.1,311.0 248.9,311.8 248.7,312.5 248.4,313.2 248.0,314.0 247.7,314.5 247.2,315.2 246.9,315.8 246.5,316.2 246.0,316.8 245.5,317.3 245.0,317.8 244.4,318.2 243.8,318.7 243.1,319.0 242.5,319.3 241.8,319.6 241.0,319.8 240.2,320.0 239.3,320.2 238.5,320.4 237.8,320.6 237.0,320.9 236.2,321.1 235.5,321.3 234.8,321.5 233.8,321.8 233.0,322.0 232.2,322.1 231.5,322.3 230.5,322.5 229.8,322.6 228.8,322.8 228.0,322.8 227.0,322.8 226.0,322.8 225.2,322.7 224.2,322.7 223.3,322.8 222.5,322.9 221.5,323.0ZM220.8,321.5 219.8,321.5 219.0,321.5 218.0,321.4 217.2,321.2 216.2,321.1 215.5,321.0 214.5,320.9 213.5,320.8 212.5,320.8 211.8,320.7 210.8,320.7 209.8,320.7 208.8,320.7 207.8,320.7 206.8,320.7 205.8,320.7 204.8,320.7 203.8,320.6 202.8,320.6 201.8,320.5 200.8,320.5 200.0,320.5 199.0,320.4 198.0,320.4 197.0,320.3 196.2,320.2 195.2,320.1 194.3,320.0 193.5,319.9 192.5,319.8 191.8,319.7 190.8,319.6 190.0,319.5 189.0,319.3 188.2,319.1 187.5,318.9 186.8,318.7 186.0,318.5 185.2,318.2 184.2,318.0 183.5,317.9 182.8,317.7 181.8,317.5 181.0,317.3 180.2,317.1 179.5,316.8 179.0,316.5 178.2,316.1 177.6,315.8 177.0,315.4 176.2,315.0 175.6,314.8 174.9,314.5 174.2,314.2 173.5,314.0 172.8,313.7 172.0,313.4 171.2,313.1 170.6,312.8 170.0,312.4 169.3,312.0 168.8,311.6 168.2,311.2 167.7,310.8 167.1,310.2 166.7,309.8 166.2,309.2 165.8,308.7 165.2,308.1 164.8,307.5 164.5,307.0 164.1,306.2 163.8,305.5 163.7,304.8 163.8,304.0 164.0,303.2 164.5,302.5 165.0,302.0 165.5,301.5 166.0,301.1 166.5,300.8 167.2,300.3 167.8,300.0 168.5,299.7 169.2,299.3 170.0,299.0 170.6,298.8 171.2,298.5 172.0,298.1 172.8,297.8 173.4,297.5 174.1,297.2 175.0,297.0 175.8,296.8 176.5,296.6 177.2,296.4 178.0,296.1 178.8,295.8 179.4,295.5 180.0,295.2 180.8,294.8 181.2,294.5 182.0,294.0 182.5,293.7 183.1,293.2 183.8,292.8 184.2,292.5 185.0,292.0 185.5,291.7 186.2,291.2 186.8,291.0 187.5,290.6 188.2,290.3 188.9,290.0 189.5,289.8 190.2,289.5 191.0,289.2 191.8,288.9 192.5,288.6 193.1,288.2 193.8,287.9 194.4,287.5 195.0,287.0 195.5,286.6 196.0,286.2 196.5,285.7 197.0,285.2 197.5,284.7 198.0,284.2 198.5,283.6 198.9,283.0 199.2,282.4 199.7,281.8 200.0,281.2 200.4,280.5 200.8,280.0 201.2,279.3 201.6,278.8 202.0,278.0 202.2,277.4 202.5,276.6 202.6,275.8 202.7,274.8 202.8,274.0 202.9,273.0 203.1,272.2 203.2,271.5 203.5,270.5 203.6,269.8 203.7,268.8 203.6,267.8 203.5,267.0 203.2,266.2 203.0,265.5 202.7,264.8 202.2,264.0 201.9,263.5 201.5,263.0 201.0,262.3 200.7,261.8 200.2,261.0 200.0,260.5 199.8,259.6 199.7,258.8 199.8,258.0 200.2,257.2 200.5,256.8 201.0,256.2 201.5,255.7 202.1,255.2 202.8,254.8 203.2,254.4 204.0,254.0 204.5,253.7 205.2,253.4 206.0,253.1 206.8,252.9 207.5,252.7 208.2,252.4 209.0,252.2 209.8,251.9 210.5,251.5 211.0,251.2 211.7,250.8 212.2,250.4 212.8,250.0 213.5,249.5 214.0,249.2 214.8,248.8 215.3,248.5 216.0,248.2 216.8,247.8 217.3,247.5 218.0,247.1 218.5,246.8 219.2,246.3 219.9,246.0 220.5,245.7 221.2,245.5 222.2,245.3 223.0,245.2 224.0,245.2 225.0,245.2 226.0,245.2 226.8,245.3 227.8,245.4 228.6,245.5 229.5,245.7 230.2,245.9 231.0,246.1 231.8,246.3 232.5,246.6 233.2,246.9 234.0,247.2 234.5,247.5 235.2,247.8 236.0,248.2 236.6,248.5 237.2,248.9 237.8,249.2 238.4,249.8 238.8,250.2 239.2,251.0 239.5,251.5 239.9,252.2 240.2,252.8 240.7,253.5 241.1,254.0 241.6,254.5 242.1,255.0 242.5,255.5 243.0,256.1 243.5,256.8 243.8,257.2 244.2,258.0 244.5,258.8 244.8,259.4 245.0,260.1 245.2,260.9 245.5,261.7 245.7,262.5 246.0,263.2 246.2,263.9 246.5,264.5 246.9,265.2 247.2,266.0 247.5,266.5 247.9,267.2 248.2,268.0 248.5,268.7 248.8,269.4 249.0,270.1 249.2,270.8 249.5,271.6 249.8,272.5 250.0,273.2 250.1,274.0 250.3,274.8 250.5,275.8 250.6,276.5 250.7,277.5 250.8,278.2 251.0,279.2 251.1,280.0 251.2,281.0 251.3,281.8 251.4,282.8 251.4,283.8 251.4,284.8 251.4,285.8 251.3,286.8 251.3,287.8 251.2,288.5 251.2,289.5 251.1,290.5 251.2,291.5 251.2,292.5 251.3,293.2 251.3,294.2 251.2,295.0 251.0,296.0 250.9,296.8 250.7,297.5 250.5,298.5 250.4,299.2 250.3,300.2 250.2,301.0 250.0,302.0 249.8,302.8 249.6,303.5 249.3,304.2 249.1,305.0 248.8,305.8 248.6,306.5 248.5,307.2 248.3,308.2 248.2,309.0 248.0,309.8 247.8,310.8 247.6,311.5 247.3,312.2 247.0,312.8 246.6,313.5 246.2,314.1 245.8,314.8 245.4,315.2 245.0,315.8 244.5,316.3 244.0,316.8 243.3,317.2 242.8,317.6 242.0,318.0 241.3,318.2 240.6,318.5 239.8,318.7 239.0,318.9 238.2,319.1 237.5,319.3 236.8,319.5 235.9,319.8 235.0,320.0 234.2,320.2 233.5,320.3 232.7,320.5 231.8,320.7 231.0,320.8 230.0,321.0 229.2,321.1 228.2,321.2 227.5,321.3 226.8,321.2 225.8,321.2 224.8,321.1 223.8,321.2 222.9,321.2 222.0,321.4 221.0,321.5ZM222.0,320.0 221.0,320.1 220.0,320.2 219.0,320.2 218.0,320.1 217.2,320.0 216.2,319.8 215.5,319.7 214.5,319.6 213.5,319.6 212.5,319.6 211.5,319.6 210.5,319.6 209.5,319.6 208.5,319.5 207.5,319.5 206.8,319.5 205.8,319.4 204.8,319.4 203.8,319.3 203.0,319.2 202.0,319.2 201.0,319.1 200.0,319.1 199.0,319.1 198.0,319.1 197.0,319.1 196.0,319.0 195.2,318.9 194.2,318.8 193.5,318.7 192.5,318.6 191.6,318.5 190.8,318.4 189.8,318.2 189.0,318.1 188.2,317.9 187.5,317.7 186.8,317.4 186.0,317.2 185.2,316.9 184.5,316.7 183.5,316.5 182.8,316.4 182.0,316.2 181.2,316.0 180.5,315.7 179.8,315.4 179.0,315.0 178.5,314.8 177.8,314.4 177.0,314.1 176.2,313.8 175.5,313.5 174.8,313.3 174.0,313.0 173.4,312.8 172.8,312.5 172.0,312.1 171.4,311.8 170.8,311.3 170.2,310.9 169.8,310.5 169.2,310.0 168.8,309.4 168.2,308.8 167.8,308.2 167.4,307.8 167.0,307.1 166.6,306.5 166.2,305.8 166.0,305.0 166.0,304.2 166.2,303.5 166.5,302.9 167.0,302.3 167.5,301.9 168.0,301.5 168.8,301.0 169.3,300.8 170.0,300.4 170.8,300.1 171.5,299.8 172.2,299.5 173.0,299.2 173.6,299.0 174.3,298.8 175.1,298.5 175.9,298.2 176.6,298.0 177.3,297.8 178.0,297.4 178.8,297.1 179.5,296.8 180.0,296.5 180.8,296.1 181.3,295.8 182.0,295.3 182.5,295.0 183.2,294.5 183.8,294.2 184.4,293.8 185.0,293.3 185.5,293.0 186.2,292.5 186.8,292.2 187.5,291.8 188.2,291.5 188.8,291.2 189.5,291.0 190.2,290.7 191.0,290.4 191.8,290.2 192.5,289.9 193.2,289.6 194.0,289.3 194.5,289.0 195.2,288.5 195.8,288.2 196.3,287.8 196.9,287.2 197.4,286.8 198.0,286.2 198.5,285.8 198.9,285.2 199.3,284.8 199.8,284.1 200.1,283.5 200.5,282.8 200.8,282.2 201.2,281.5 201.6,281.0 202.0,280.4 202.5,279.8 202.8,279.2 203.2,278.6 203.6,278.0 203.9,277.2 204.2,276.5 204.3,275.8 204.4,274.8 204.4,273.8 204.5,272.8 204.6,272.0 204.7,271.0 204.9,270.2 205.0,269.2 205.0,268.2 204.9,267.2 204.7,266.5 204.5,265.7 204.2,265.0 203.9,264.2 203.5,263.5 203.2,263.0 202.8,262.3 202.4,261.8 202.0,261.1 201.8,260.5 201.5,259.5 201.6,258.5 201.9,257.8 202.2,257.2 202.8,256.6 203.2,256.2 203.8,255.8 204.5,255.3 205.0,255.0 205.8,254.7 206.5,254.4 207.2,254.2 208.0,253.9 208.8,253.7 209.5,253.5 210.2,253.2 211.0,252.8 211.6,252.5 212.2,252.1 212.8,251.8 213.5,251.2 214.0,250.9 214.5,250.5 215.2,250.0 215.8,249.6 216.3,249.2 217.0,248.8 217.5,248.4 218.1,248.0 218.8,247.6 219.3,247.2 220.0,246.8 220.7,246.5 221.5,246.2 222.2,246.1 223.2,246.1 224.2,246.1 225.2,246.1 226.2,246.1 227.2,246.2 228.0,246.3 229.0,246.4 229.8,246.6 230.5,246.8 231.3,247.0 232.0,247.3 232.8,247.6 233.5,247.9 234.2,248.2 234.8,248.5 235.5,249.0 236.0,249.4 236.5,249.8 237.0,250.3 237.5,251.0 237.8,251.5 238.2,252.2 238.5,252.9 238.9,253.5 239.2,254.1 239.8,254.7 240.2,255.2 240.6,255.8 241.1,256.2 241.5,256.8 242.0,257.3 242.5,258.0 242.8,258.5 243.1,259.2 243.4,260.0 243.7,260.8 243.9,261.5 244.1,262.2 244.3,263.0 244.6,263.8 244.9,264.5 245.2,265.2 245.5,265.8 245.9,266.5 246.2,267.2 246.6,267.8 246.9,268.5 247.2,269.2 247.5,269.8 247.8,270.5 248.1,271.2 248.3,272.0 248.6,272.8 248.9,273.5 249.1,274.2 249.3,275.0 249.5,275.9 249.7,276.8 249.9,277.5 250.0,278.2 250.2,279.2 250.4,280.0 250.5,280.8 250.6,281.8 250.7,282.8 250.8,283.5 250.8,284.5 250.7,285.2 250.7,286.2 250.6,287.2 250.6,288.2 250.5,289.0 250.4,290.0 250.4,291.0 250.3,292.0 250.4,293.0 250.4,294.0 250.3,295.0 250.1,295.8 249.9,296.5 249.7,297.2 249.5,298.2 249.4,299.0 249.2,299.8 249.1,300.8 248.9,301.5 248.7,302.2 248.5,303.0 248.2,303.8 247.9,304.5 247.7,305.2 247.4,306.0 247.2,306.8 247.1,307.8 246.9,308.5 246.8,309.5 246.6,310.2 246.4,311.0 246.1,311.8 245.8,312.4 245.4,313.0 245.0,313.7 244.6,314.2 244.1,314.8 243.7,315.2 243.1,315.8 242.5,316.2 242.0,316.5 241.2,316.9 240.5,317.2 239.8,317.5 239.0,317.7 238.2,317.8 237.5,318.0 236.5,318.2 235.8,318.4 235.0,318.5 234.0,318.7 233.2,318.8 232.2,319.0 231.5,319.1 230.8,319.3 229.8,319.5 229.0,319.7 228.2,319.8 227.2,319.8 226.2,319.8 225.2,319.8 224.2,319.8 223.2,319.9 222.2,320.0ZM222.0,318.8 221.0,318.9 220.0,319.0 219.0,318.9 218.0,318.9 217.0,318.8 216.2,318.7 215.2,318.6 214.2,318.5 213.5,318.5 212.5,318.5 211.8,318.5 210.8,318.5 209.8,318.5 209.0,318.5 208.0,318.5 207.0,318.4 206.0,318.3 205.2,318.2 204.2,318.1 203.2,318.0 202.5,318.0 201.5,317.9 200.5,317.9 199.5,317.9 198.5,318.0 197.5,318.0 196.5,317.9 195.5,317.8 194.6,317.8 193.8,317.7 192.8,317.5 192.0,317.4 191.0,317.3 190.2,317.2 189.2,317.0 188.5,316.8 187.8,316.6 187.0,316.4 186.2,316.1 185.5,315.9 184.8,315.6 184.0,315.4 183.2,315.2 182.3,315.0 181.5,314.8 180.8,314.5 180.2,314.2 179.5,313.9 178.8,313.6 178.0,313.3 177.2,313.0 176.5,312.8 175.8,312.5 175.0,312.3 174.3,312.0 173.7,311.8 173.0,311.4 172.4,311.0 171.8,310.5 171.3,310.0 170.9,309.5 170.5,309.0 170.0,308.2 169.7,307.8 169.3,307.0 169.0,306.3 168.8,305.7 168.5,304.8 168.7,303.8 169.0,303.2 169.5,302.7 170.0,302.2 170.8,301.8 171.5,301.5 172.0,301.2 172.8,301.0 173.5,300.7 174.2,300.4 175.0,300.1 175.8,299.8 176.5,299.5 177.1,299.2 177.8,298.9 178.5,298.5 179.0,298.2 179.8,297.8 180.3,297.5 181.0,297.1 181.6,296.8 182.2,296.4 182.9,296.0 183.5,295.6 184.0,295.2 184.7,294.8 185.2,294.4 185.9,294.0 186.5,293.6 187.1,293.2 187.8,292.9 188.5,292.6 189.2,292.3 189.9,292.0 190.6,291.8 191.4,291.5 192.1,291.2 192.8,291.0 193.5,290.8 194.2,290.5 195.0,290.1 195.6,289.8 196.2,289.4 196.8,289.0 197.4,288.5 198.0,288.0 198.5,287.6 199.0,287.2 199.5,286.7 200.0,286.1 200.5,285.5 200.8,285.0 201.2,284.2 201.5,283.7 201.9,283.0 202.2,282.3 202.6,281.8 203.0,281.1 203.5,280.5 203.8,280.0 204.2,279.4 204.7,278.8 205.0,278.2 205.3,277.5 205.6,276.8 205.8,276.0 205.9,275.0 205.9,274.0 205.9,273.0 206.0,272.0 206.1,271.2 206.2,270.2 206.3,269.5 206.3,268.5 206.2,267.8 206.1,266.8 206.0,266.0 205.8,265.1 205.5,264.3 205.2,263.7 204.9,263.0 204.5,262.2 204.2,261.7 203.9,261.0 203.6,260.2 203.5,259.5 203.6,258.8 203.9,258.0 204.3,257.5 204.8,257.0 205.5,256.5 206.0,256.2 206.8,255.9 207.5,255.6 208.2,255.4 209.0,255.1 209.8,254.8 210.4,254.5 211.0,254.2 211.8,253.9 212.5,253.5 213.0,253.2 213.7,252.8 214.2,252.3 214.8,252.0 215.3,251.5 215.9,251.0 216.4,250.5 217.0,250.0 217.5,249.5 218.0,249.1 218.5,248.7 219.1,248.2 219.8,247.8 220.3,247.5 221.0,247.2 221.8,247.0 222.8,246.9 223.8,246.9 224.8,246.8 225.8,246.8 226.8,246.8 227.8,246.9 228.5,247.0 229.5,247.2 230.2,247.4 231.0,247.6 231.8,247.9 232.5,248.2 233.1,248.5 233.8,248.9 234.3,249.2 234.9,249.8 235.4,250.2 235.8,250.8 236.2,251.5 236.5,252.1 236.8,252.8 237.2,253.5 237.5,254.0 238.0,254.7 238.4,255.2 238.8,255.8 239.2,256.3 239.8,256.9 240.2,257.5 240.6,258.0 241.0,258.5 241.5,259.2 241.8,259.8 242.1,260.5 242.4,261.2 242.6,262.0 242.8,262.8 243.0,263.5 243.3,264.2 243.5,265.0 243.8,265.8 244.2,266.5 244.5,267.1 244.8,267.8 245.2,268.5 245.5,269.0 245.9,269.8 246.2,270.5 246.5,271.1 246.8,271.8 247.2,272.5 247.5,273.1 247.8,273.8 248.1,274.5 248.4,275.2 248.6,276.0 248.9,276.8 249.1,277.5 249.3,278.2 249.5,279.0 249.8,279.9 249.9,280.8 250.0,281.5 250.2,282.5 250.2,283.5 250.2,284.5 250.2,285.5 250.2,286.5 250.1,287.5 250.0,288.5 249.9,289.2 249.8,290.2 249.8,291.0 249.7,292.0 249.6,293.0 249.6,294.0 249.5,294.8 249.3,295.8 249.1,296.5 248.9,297.2 248.6,298.0 248.4,298.8 248.2,299.5 248.0,300.5 247.8,301.2 247.6,302.0 247.4,302.8 247.1,303.5 246.8,304.2 246.5,305.0 246.3,305.8 246.1,306.5 245.9,307.2 245.8,308.2 245.6,309.0 245.5,309.8 245.2,310.5 245.0,311.2 244.6,312.0 244.2,312.6 243.8,313.2 243.3,313.8 242.9,314.2 242.3,314.8 241.8,315.2 241.2,315.5 240.5,315.9 239.8,316.2 239.0,316.4 238.2,316.6 237.4,316.8 236.5,316.9 235.6,317.0 234.8,317.1 233.8,317.2 233.0,317.3 232.0,317.4 231.2,317.6 230.5,317.8 229.8,318.0 228.9,318.2 228.0,318.4 227.2,318.5 226.2,318.5 225.2,318.5 224.2,318.5 223.2,318.6 222.2,318.7ZM220.0,317.8 219.0,317.8 218.2,317.7 217.2,317.6 216.2,317.6 215.5,317.5 214.5,317.4 213.5,317.4 212.5,317.4 211.5,317.5 210.8,317.5 209.8,317.5 208.9,317.5 208.0,317.4 207.0,317.4 206.0,317.3 205.2,317.2 204.2,317.0 203.5,316.9 202.5,316.8 201.5,316.8 200.5,316.8 199.5,316.8 198.5,316.9 197.5,316.9 196.5,316.8 195.5,316.8 194.8,316.7 193.8,316.6 193.0,316.5 192.0,316.4 191.0,316.3 190.2,316.2 189.4,316.0 188.5,315.8 187.8,315.5 187.0,315.3 186.2,315.0 185.5,314.8 184.8,314.6 184.0,314.3 183.2,314.1 182.5,313.9 181.8,313.6 181.0,313.3 180.2,313.0 179.6,312.8 179.0,312.5 178.2,312.2 177.5,311.9 176.8,311.7 176.0,311.5 175.2,311.2 174.5,310.9 173.9,310.5 173.3,310.0 172.9,309.5 172.5,308.8 172.3,308.0 172.2,307.2 172.3,306.5 172.5,305.5 172.7,304.8 173.0,304.2 173.5,303.7 174.1,303.2 174.8,302.9 175.5,302.6 176.2,302.2 176.8,301.9 177.3,301.5 177.8,301.0 178.3,300.5 178.8,300.0 179.4,299.5 180.0,299.1 180.5,298.7 181.2,298.2 181.8,297.9 182.4,297.5 183.0,297.1 183.6,296.8 184.2,296.3 184.8,295.9 185.4,295.5 186.0,295.1 186.5,294.8 187.2,294.3 187.9,294.0 188.5,293.7 189.2,293.4 190.0,293.1 190.8,292.8 191.5,292.6 192.2,292.4 193.0,292.2 193.8,291.9 194.5,291.7 195.3,291.5 196.0,291.2 196.8,291.0 197.5,290.7 198.2,290.4 199.0,290.2 199.8,290.2 200.5,290.7 200.9,291.2 201.4,291.8 202.0,292.1 202.8,291.9 203.3,291.5 203.8,290.8 203.9,290.0 203.8,289.0 203.5,288.3 203.2,287.7 203.0,287.0 202.8,286.0 202.9,285.0 203.1,284.2 203.4,283.5 203.7,282.8 204.0,282.2 204.5,281.6 204.9,281.0 205.3,280.5 205.8,279.9 206.2,279.2 206.6,278.8 207.0,278.0 207.2,277.4 207.5,276.6 207.7,275.8 207.7,274.8 207.7,273.8 207.7,272.8 207.7,271.8 207.8,271.0 207.9,270.0 207.9,269.0 207.9,268.0 207.8,267.0 207.8,266.0 207.8,265.0 207.9,264.0 208.1,263.2 208.4,262.5 208.7,261.8 208.9,261.0 208.9,260.0 208.9,259.0 209.0,258.1 209.3,257.5 209.8,256.9 210.2,256.4 210.8,256.0 211.5,255.5 212.0,255.2 212.7,254.8 213.2,254.4 214.0,254.0 214.5,253.6 215.0,253.2 215.7,252.8 216.2,252.2 216.7,251.8 217.1,251.2 217.5,250.8 218.0,250.2 218.5,249.7 219.0,249.2 219.5,248.8 220.2,248.3 220.8,248.0 221.6,247.8 222.5,247.6 223.5,247.5 224.3,247.5 225.2,247.5 226.2,247.4 227.2,247.5 228.0,247.5 229.0,247.7 229.8,247.8 230.5,248.0 231.2,248.3 232.0,248.6 232.7,249.0 233.2,249.4 233.8,249.9 234.2,250.4 234.6,251.0 234.9,251.8 235.2,252.5 235.5,253.0 236.0,253.8 236.3,254.2 236.8,254.9 237.2,255.5 237.5,256.0 238.0,256.7 238.4,257.2 238.8,257.8 239.2,258.4 239.7,259.0 240.1,259.5 240.5,260.2 240.8,260.8 241.1,261.5 241.4,262.2 241.6,263.0 241.8,263.8 242.0,264.5 242.2,265.3 242.5,266.1 242.8,266.8 243.1,267.5 243.4,268.2 243.8,269.0 244.0,269.5 244.4,270.2 244.8,271.0 245.0,271.5 245.5,272.2 245.8,272.8 246.2,273.5 246.5,274.0 247.0,274.7 247.3,275.2 247.7,276.0 248.0,276.5 248.3,277.2 248.6,278.0 248.9,278.8 249.1,279.5 249.3,280.2 249.5,281.2 249.6,282.0 249.7,283.0 249.8,283.8 249.8,284.8 249.8,285.7 249.7,286.5 249.6,287.5 249.5,288.5 249.4,289.2 249.3,290.2 249.2,291.0 249.1,292.0 249.0,292.8 248.9,293.8 248.8,294.6 248.6,295.5 248.4,296.2 248.1,297.0 247.9,297.8 247.6,298.5 247.3,299.2 247.1,300.0 246.9,300.8 246.6,301.5 246.4,302.2 246.1,303.0 245.8,303.8 245.5,304.5 245.3,305.2 245.1,306.0 244.9,306.8 244.7,307.5 244.6,308.5 244.4,309.2 244.2,310.0 243.9,310.8 243.5,311.5 243.2,312.0 242.8,312.5 242.2,313.1 241.8,313.5 241.2,314.0 240.5,314.4 239.8,314.8 239.2,315.0 238.5,315.2 237.5,315.5 236.8,315.6 235.8,315.7 235.0,315.8 234.0,315.8 233.0,315.9 232.2,316.1 231.4,316.2 230.5,316.5 229.8,316.7 229.0,316.9 228.2,317.1 227.2,317.2 226.5,317.3 225.5,317.3 224.5,317.3 223.5,317.4 222.5,317.5 221.8,317.6 220.8,317.7 220.0,317.8ZM220.8,316.5 219.8,316.6 218.8,316.6 217.8,316.6 216.8,316.5 216.0,316.5 215.0,316.4 214.0,316.4 213.0,316.4 212.0,316.5 211.2,316.5 210.2,316.6 209.2,316.5 208.5,316.5 207.5,316.4 206.5,316.3 205.8,316.1 204.9,316.0 204.0,315.9 203.1,315.8 202.2,315.7 201.2,315.7 200.3,315.8 199.5,315.8 198.5,315.8 197.5,315.8 196.5,315.8 195.8,315.7 194.8,315.6 193.8,315.5 193.0,315.5 192.0,315.4 191.0,315.3 190.2,315.2 189.4,315.0 188.5,314.8 187.8,314.5 187.0,314.3 186.2,314.0 185.5,313.8 184.8,313.5 184.0,313.3 183.2,313.0 182.5,312.8 181.9,312.5 181.2,312.2 180.5,311.9 179.8,311.5 179.2,311.2 178.5,310.8 177.8,310.5 177.2,310.2 176.5,309.9 175.9,309.5 175.6,308.8 176.0,308.0 176.5,307.6 177.2,307.3 177.8,307.0 178.5,306.5 179.0,306.0 179.3,305.5 179.7,304.8 179.9,304.0 180.2,303.2 180.4,302.5 180.6,301.8 180.9,301.0 181.2,300.4 181.8,299.8 182.2,299.3 182.8,298.9 183.2,298.5 183.8,298.0 184.4,297.5 185.0,297.0 185.5,296.7 186.1,296.2 186.8,295.8 187.2,295.5 188.0,295.1 188.7,294.8 189.3,294.5 190.0,294.2 190.8,294.0 191.7,293.8 192.5,293.6 193.4,293.5 194.2,293.5 195.0,293.6 195.8,293.8 196.5,294.2 197.0,294.5 197.7,295.0 198.2,295.4 198.8,295.9 199.2,296.3 199.8,296.8 200.3,297.2 200.9,297.8 201.5,298.2 202.0,298.6 202.8,299.0 203.5,299.2 204.5,299.2 205.3,299.0 206.0,298.7 206.7,298.2 207.1,297.8 207.3,297.0 207.4,296.0 207.5,295.0 207.5,294.2 207.7,293.2 207.8,292.5 207.9,291.5 208.0,290.5 207.9,289.5 207.8,288.6 207.6,287.8 207.4,287.0 207.2,286.2 207.1,285.2 207.2,284.2 207.5,283.5 207.8,282.9 208.1,282.2 208.5,281.6 208.8,281.0 209.2,280.3 209.5,279.8 209.9,279.0 210.2,278.2 210.5,277.7 210.8,277.0 211.0,276.1 211.1,275.2 211.2,274.2 211.1,273.2 211.0,272.5 210.8,271.5 210.7,270.8 210.6,269.8 210.5,269.0 210.4,268.0 210.5,267.0 210.6,266.2 210.8,265.5 211.0,264.7 211.2,264.0 211.5,263.0 211.6,262.2 211.7,261.2 211.7,260.2 211.8,259.3 211.8,258.5 212.0,257.7 212.3,257.0 212.8,256.4 213.2,255.9 213.8,255.5 214.4,255.0 215.0,254.6 215.5,254.2 216.1,253.8 216.6,253.2 217.1,252.8 217.5,252.2 218.0,251.5 218.3,251.0 218.8,250.5 219.2,249.9 219.8,249.4 220.3,249.0 221.0,248.6 221.8,248.4 222.5,248.2 223.5,248.2 224.5,248.1 225.5,248.0 226.3,248.0 227.0,248.0 228.0,248.1 229.0,248.2 229.8,248.4 230.5,248.6 231.2,249.0 231.8,249.2 232.5,249.8 232.9,250.2 233.3,250.8 233.6,251.5 233.8,252.2 234.1,253.0 234.5,253.6 235.0,254.2 235.3,254.8 235.8,255.3 236.2,256.0 236.6,256.5 237.0,257.1 237.4,257.8 237.8,258.2 238.2,259.0 238.6,259.5 239.0,260.1 239.4,260.8 239.8,261.4 240.0,262.0 240.3,262.8 240.5,263.5 240.8,264.5 241.0,265.2 241.2,266.0 241.4,266.8 241.7,267.5 241.9,268.2 242.2,268.9 242.5,269.5 242.9,270.2 243.2,271.0 243.5,271.5 243.9,272.2 244.2,273.0 244.5,273.5 244.9,274.2 245.3,274.8 245.8,275.3 246.2,275.8 246.8,276.3 247.2,276.9 247.6,277.5 248.0,278.1 248.3,278.8 248.6,279.5 248.8,280.2 249.0,281.0 249.2,282.0 249.3,282.8 249.3,283.8 249.4,284.8 249.3,285.8 249.3,286.8 249.2,287.5 249.1,288.5 249.0,289.3 248.8,290.2 248.7,291.0 248.5,292.0 248.3,292.8 248.2,293.5 248.0,294.5 247.9,295.2 247.7,296.0 247.4,296.8 247.1,297.5 246.8,298.2 246.5,299.0 246.2,299.6 246.0,300.2 245.7,301.0 245.4,301.8 245.2,302.5 244.9,303.2 244.6,304.0 244.3,304.8 244.1,305.5 243.9,306.2 243.7,307.0 243.5,308.0 243.3,308.8 243.1,309.5 242.8,310.2 242.5,310.8 242.0,311.5 241.6,312.0 241.0,312.5 240.5,312.9 239.9,313.2 239.2,313.6 238.5,313.9 237.8,314.1 237.0,314.3 236.0,314.5 235.2,314.6 234.2,314.7 233.4,314.8 232.5,314.9 231.8,315.0 230.8,315.2 230.0,315.4 229.2,315.6 228.5,315.8 227.5,316.0 226.8,316.1 225.8,316.1 224.8,316.1 223.8,316.2 222.8,316.2 222.0,316.4 221.0,316.5ZM211.8,315.5 210.8,315.6 209.8,315.6 208.8,315.5 208.0,315.4 207.1,315.2 206.2,315.1 205.5,314.9 204.8,314.7 203.8,314.5 202.8,314.5 201.8,314.6 200.8,314.6 199.8,314.7 199.0,314.8 198.0,314.8 197.0,314.8 196.2,314.7 195.2,314.6 194.2,314.6 193.3,314.5 192.5,314.5 191.5,314.4 190.5,314.3 189.8,314.1 189.0,313.9 188.2,313.7 187.5,313.5 186.8,313.2 186.0,312.9 185.2,312.6 184.5,312.3 183.8,312.0 183.2,311.7 182.5,311.2 182.0,310.8 181.7,310.2 181.5,309.4 181.5,308.7 181.6,307.8 181.8,307.0 182.0,306.0 182.1,305.2 182.3,304.5 182.5,303.6 182.7,302.8 183.0,302.0 183.2,301.4 183.6,300.8 184.0,300.1 184.5,299.5 184.9,299.0 185.3,298.5 185.8,298.0 186.4,297.5 187.0,297.0 187.5,296.7 188.2,296.3 188.8,296.0 189.5,295.7 190.2,295.5 191.1,295.2 192.0,295.1 193.0,295.1 193.8,295.2 194.7,295.5 195.3,295.8 196.0,296.1 196.7,296.5 197.2,296.9 197.8,297.3 198.2,297.8 198.8,298.2 199.2,298.8 199.8,299.4 200.2,300.0 200.6,300.5 201.0,301.1 201.3,301.8 201.7,302.5 202.0,303.2 202.3,303.8 202.7,304.5 203.0,305.0 203.5,305.6 204.0,306.0 204.7,306.5 205.3,306.8 206.2,307.0 207.2,307.0 208.2,307.0 209.2,307.0 209.8,307.0 210.8,306.9 211.5,306.7 212.2,306.3 212.7,305.8 213.0,305.0 213.1,304.2 213.0,303.2 212.8,302.5 212.5,302.0 212.0,301.4 211.5,300.8 211.1,300.2 210.7,299.8 210.3,299.0 210.0,298.3 209.8,297.5 209.6,296.8 209.5,295.9 209.5,295.0 209.5,294.2 209.7,293.2 209.9,292.5 210.1,291.8 210.3,291.0 210.5,290.2 210.8,289.4 210.9,288.5 211.1,287.8 211.2,286.8 211.3,286.0 211.4,285.0 211.4,284.0 211.5,283.2 211.7,282.2 211.8,281.5 212.0,280.7 212.2,279.9 212.5,279.1 212.8,278.3 212.9,277.5 213.1,276.8 213.1,275.8 213.1,274.8 213.1,273.8 213.0,272.8 212.9,272.0 212.8,271.0 212.8,270.1 212.7,269.2 212.7,268.2 212.7,267.2 212.8,266.5 212.9,265.5 213.0,264.5 213.0,263.8 213.1,262.8 213.1,261.8 213.1,260.8 213.1,259.8 213.2,258.8 213.4,258.0 213.7,257.2 214.0,256.8 214.5,256.2 215.1,255.8 215.7,255.2 216.2,254.8 216.8,254.4 217.2,253.8 217.7,253.2 218.1,252.8 218.5,252.1 218.9,251.5 219.2,251.0 219.8,250.3 220.2,249.8 220.8,249.5 221.5,249.1 222.2,249.0 223.2,248.8 224.0,248.7 225.0,248.6 226.0,248.6 227.0,248.6 228.0,248.6 228.8,248.8 229.7,249.0 230.4,249.2 231.0,249.6 231.5,250.0 232.0,250.6 232.3,251.2 232.5,252.2 232.8,253.0 233.0,253.5 233.5,254.1 234.0,254.7 234.4,255.2 234.8,255.8 235.2,256.3 235.7,257.0 236.0,257.5 236.5,258.2 236.8,258.8 237.2,259.5 237.5,260.0 237.9,260.8 238.2,261.3 238.6,262.0 238.9,262.8 239.1,263.5 239.3,264.2 239.5,265.0 239.7,266.0 239.9,266.8 240.2,267.5 240.5,268.2 240.8,268.8 241.1,269.5 241.5,270.2 241.8,270.8 242.1,271.5 242.5,272.2 242.8,272.8 243.0,273.5 243.3,274.2 243.7,275.0 244.0,275.7 244.3,276.2 244.9,276.8 245.5,277.1 246.2,277.4 246.8,277.8 247.2,278.3 247.7,279.0 248.0,279.5 248.3,280.2 248.5,281.0 248.8,282.0 248.9,282.8 249.0,283.8 249.0,284.8 249.0,285.8 248.9,286.8 248.8,287.8 248.7,288.5 248.5,289.5 248.4,290.2 248.2,291.0 248.0,291.8 247.7,292.5 247.5,293.2 247.2,294.0 247.0,295.0 246.9,295.8 246.7,296.5 246.4,297.2 246.1,298.0 245.8,298.7 245.5,299.2 245.1,300.0 244.8,300.8 244.5,301.4 244.2,302.0 244.0,302.8 243.7,303.5 243.4,304.2 243.2,305.0 243.0,305.8 242.8,306.6 242.5,307.5 242.3,308.2 242.0,309.0 241.8,309.7 241.4,310.2 241.0,310.8 240.5,311.3 239.9,311.8 239.2,312.2 238.7,312.5 238.0,312.8 237.2,313.0 236.4,313.2 235.5,313.4 234.8,313.5 233.8,313.7 233.0,313.8 232.0,314.0 231.2,314.1 230.5,314.3 229.5,314.5 228.8,314.6 228.0,314.8 227.0,314.9 226.0,315.0 225.1,315.0 224.2,315.0 223.2,315.1 222.2,315.2 221.5,315.3 220.5,315.4 219.5,315.4 218.5,315.5 217.5,315.5 216.5,315.4 215.5,315.4 214.5,315.4 213.5,315.4 212.5,315.5 211.8,315.5ZM211.2,314.5 210.2,314.5 209.5,314.4 208.6,314.2 208.0,314.0 207.5,313.2 207.9,312.5 208.4,312.0 209.0,311.5 209.5,311.2 210.2,310.8 210.9,310.5 211.5,310.2 212.2,309.9 213.0,309.5 213.5,309.2 214.2,308.8 214.8,308.4 215.4,308.0 216.0,307.5 216.5,307.0 216.8,306.5 217.0,305.8 216.8,305.0 216.5,304.4 216.1,303.8 215.8,303.2 215.3,302.5 215.0,302.0 214.4,301.5 213.8,301.0 213.2,300.7 212.7,300.2 212.1,299.8 211.6,299.2 211.2,298.7 210.9,298.0 210.6,297.2 210.4,296.5 210.4,295.5 210.5,294.5 210.6,293.8 210.9,293.0 211.2,292.2 211.5,291.7 211.9,291.0 212.3,290.5 212.7,289.8 213.0,289.2 213.3,288.5 213.5,287.7 213.6,286.8 213.7,285.8 213.7,284.8 213.7,283.8 213.7,282.8 213.7,281.8 213.9,281.0 214.0,280.2 214.2,279.2 214.3,278.5 214.5,277.5 214.5,276.8 214.5,275.8 214.5,275.0 214.4,274.0 214.3,273.0 214.3,272.0 214.2,271.2 214.2,270.2 214.1,269.2 214.1,268.2 214.1,267.2 214.1,266.2 214.2,265.2 214.2,264.2 214.2,263.2 214.1,262.2 214.1,261.2 214.1,260.2 214.2,259.2 214.3,258.5 214.6,257.8 215.0,257.1 215.5,256.6 216.0,256.1 216.5,255.7 217.0,255.2 217.5,254.7 218.0,254.1 218.4,253.5 218.8,253.0 219.2,252.2 219.6,251.8 220.0,251.1 220.5,250.6 221.0,250.2 221.8,249.8 222.5,249.7 223.5,249.5 224.2,249.4 225.2,249.3 226.0,249.2 227.0,249.2 228.0,249.2 228.8,249.4 229.5,249.7 230.1,250.0 230.6,250.5 231.0,251.2 231.0,252.0 231.2,253.0 231.5,253.5 232.0,254.1 232.5,254.6 233.0,255.1 233.5,255.7 234.0,256.2 234.3,256.8 234.8,257.4 235.1,258.0 235.4,258.8 235.7,259.5 236.0,260.2 236.2,260.9 236.5,261.7 236.7,262.5 236.8,263.2 236.9,264.2 237.0,265.2 237.1,266.0 237.3,266.8 237.5,267.5 237.8,268.2 238.2,269.0 238.5,269.5 239.0,270.1 239.5,270.5 240.0,271.0 240.5,271.5 241.0,272.2 241.3,272.8 241.7,273.5 242.0,274.1 242.3,274.8 242.5,275.5 242.8,276.2 243.1,277.0 243.4,277.8 243.9,278.2 244.5,278.5 245.5,278.6 246.3,278.8 247.0,279.2 247.4,279.8 247.8,280.3 248.0,281.0 248.3,281.8 248.5,282.8 248.5,283.5 248.6,284.5 248.6,285.5 248.5,286.5 248.4,287.2 248.3,288.2 248.2,289.0 248.0,289.8 247.8,290.6 247.5,291.2 247.1,292.0 246.8,292.6 246.3,293.2 246.0,294.0 245.9,294.8 245.9,295.8 245.8,296.7 245.5,297.5 245.2,298.1 244.9,298.8 244.5,299.5 244.2,300.0 243.8,300.8 243.5,301.4 243.2,302.0 242.9,302.8 242.6,303.5 242.4,304.2 242.1,305.0 241.9,305.8 241.6,306.5 241.4,307.2 241.1,308.0 240.8,308.8 240.5,309.2 240.0,309.9 239.5,310.4 239.0,310.8 238.3,311.2 237.8,311.5 237.0,311.8 236.2,312.1 235.5,312.3 234.5,312.5 233.8,312.6 233.0,312.8 232.0,312.9 231.2,313.1 230.4,313.2 229.5,313.4 228.8,313.6 227.8,313.7 227.0,313.8 226.0,313.8 225.0,313.8 224.0,313.9 223.0,313.9 222.0,314.0 221.2,314.0 220.2,314.1 219.2,314.2 218.5,314.3 217.5,314.3 216.5,314.3 215.5,314.3 214.5,314.3 213.5,314.4 212.5,314.4 211.5,314.5ZM198.2,313.5 197.2,313.5 196.5,313.5 195.5,313.4 194.5,313.4 193.5,313.4 192.5,313.4 191.5,313.3 190.7,313.2 189.8,313.1 189.0,312.8 188.2,312.5 187.6,312.2 187.0,311.9 186.4,311.5 185.8,311.0 185.3,310.5 184.9,310.0 184.5,309.3 184.3,308.5 184.1,307.8 184.1,306.8 184.2,305.8 184.3,305.0 184.4,304.0 184.6,303.2 184.8,302.5 185.0,301.8 185.4,301.0 185.8,300.4 186.2,299.8 186.6,299.2 187.1,298.8 187.6,298.2 188.2,297.8 188.8,297.5 189.5,297.1 190.2,296.8 191.0,296.7 192.0,296.5 193.0,296.6 194.0,296.8 194.7,297.0 195.2,297.3 196.0,297.7 196.5,298.1 197.0,298.5 197.5,299.0 198.0,299.6 198.5,300.2 198.8,300.8 199.1,301.5 199.4,302.2 199.6,303.0 199.8,303.9 199.9,304.8 200.1,305.5 200.4,306.2 200.7,307.0 201.0,307.7 201.2,308.3 201.5,309.2 201.5,310.0 201.4,310.8 201.2,311.5 200.9,312.2 200.5,312.8 199.8,313.2 199.0,313.4 198.2,313.5ZM217.2,312.5 216.2,312.7 215.2,312.7 214.2,312.6 213.6,312.2 213.8,311.4 214.2,310.8 214.8,310.3 215.2,309.9 215.8,309.4 216.3,309.0 216.9,308.5 217.5,308.0 218.0,307.5 218.4,307.0 218.8,306.5 219.2,305.8 219.3,305.0 219.1,304.2 218.8,303.7 218.3,303.0 217.9,302.5 217.5,301.9 217.0,301.2 216.5,300.8 216.0,300.5 215.2,300.2 214.3,300.0 213.6,299.8 213.0,299.4 212.4,299.0 211.9,298.5 211.5,297.8 211.2,297.2 211.0,296.2 211.0,295.2 211.2,294.2 211.5,293.5 211.8,293.0 212.2,292.2 212.7,291.8 213.2,291.2 213.7,290.8 214.1,290.2 214.5,289.6 214.8,289.0 215.0,288.1 215.2,287.2 215.2,286.3 215.3,285.5 215.3,284.5 215.3,283.5 215.3,282.5 215.4,281.5 215.5,280.5 215.6,279.8 215.6,278.8 215.7,277.8 215.7,276.8 215.7,275.8 215.6,274.8 215.5,273.8 215.4,273.0 215.4,272.0 215.3,271.0 215.2,270.2 215.2,269.2 215.2,268.2 215.1,267.2 215.1,266.2 215.1,265.2 215.1,264.2 215.0,263.2 215.0,262.5 214.9,261.5 214.9,260.5 215.0,259.7 215.2,258.8 215.5,258.0 215.8,257.5 216.2,257.0 216.8,256.5 217.2,256.0 217.8,255.4 218.2,254.8 218.7,254.2 219.0,253.8 219.5,253.1 219.9,252.5 220.3,252.0 220.8,251.5 221.4,251.0 222.0,250.7 223.0,250.5 223.8,250.5 224.8,250.3 225.5,250.1 226.4,250.0 227.2,250.0 228.0,250.1 228.8,250.5 229.2,251.0 229.2,252.0 229.2,253.0 229.6,253.5 230.1,254.0 230.7,254.5 231.2,254.9 231.8,255.3 232.3,255.8 232.8,256.3 233.2,256.9 233.6,257.5 234.0,258.2 234.2,259.0 234.5,259.8 234.6,260.5 234.7,261.5 234.8,262.2 234.8,263.2 234.9,264.2 234.9,265.2 235.0,266.0 235.2,267.0 235.4,267.8 235.6,268.5 235.8,269.2 236.1,270.0 236.4,270.8 236.8,271.3 237.2,271.9 237.8,272.4 238.2,272.8 239.0,273.2 239.6,273.5 240.2,274.0 240.7,274.5 241.0,275.0 241.4,275.8 241.6,276.5 241.9,277.2 242.2,278.0 242.5,278.8 242.8,279.3 243.2,280.0 243.8,280.4 244.7,280.2 245.4,280.0 246.2,279.9 246.8,280.2 247.3,280.8 247.6,281.5 247.9,282.2 248.0,283.0 248.1,284.0 248.2,285.0 248.1,286.0 248.0,287.0 247.9,287.8 247.8,288.7 247.5,289.5 247.2,290.2 246.9,290.8 246.5,291.3 245.9,291.8 245.2,292.2 244.8,292.6 244.5,293.2 244.5,294.2 244.6,295.0 244.8,295.8 244.9,296.8 244.7,297.5 244.5,298.2 244.1,299.0 243.8,299.5 243.3,300.2 243.0,300.8 242.6,301.5 242.2,302.1 241.9,302.8 241.6,303.5 241.3,304.2 241.0,304.9 240.7,305.5 240.4,306.2 240.0,307.0 239.8,307.5 239.2,308.2 238.8,308.8 238.3,309.2 237.8,309.6 237.2,310.0 236.5,310.4 235.8,310.7 235.0,311.0 234.2,311.2 233.5,311.4 232.8,311.5 231.8,311.7 231.0,311.8 230.0,312.0 229.2,312.1 228.2,312.2 227.2,312.2 226.2,312.1 225.4,312.0 224.5,311.8 223.8,311.6 222.8,311.6 221.8,311.6 220.9,311.8 220.0,311.9 219.2,312.1 218.5,312.3 217.5,312.5ZM192.0,311.5 191.0,311.6 190.2,311.4 189.5,311.1 189.0,310.7 188.4,310.2 187.9,309.8 187.5,309.2 187.1,308.5 186.8,307.8 186.5,307.1 186.3,306.2 186.2,305.5 186.1,304.5 186.1,303.5 186.3,302.8 186.5,301.9 186.8,301.2 187.2,300.5 187.6,300.0 188.0,299.5 188.6,299.0 189.2,298.5 189.8,298.2 190.5,298.0 191.3,297.8 192.2,297.7 193.2,297.7 194.0,297.9 194.7,298.2 195.2,298.6 195.8,299.0 196.3,299.5 196.8,300.0 197.2,300.8 197.5,301.3 197.8,302.1 197.9,303.0 198.0,304.0 197.9,305.0 197.8,306.0 197.7,306.8 197.5,307.5 197.2,308.2 196.8,309.0 196.3,309.5 195.8,309.9 195.2,310.2 194.5,310.6 193.8,311.0 193.1,311.2 192.2,311.5ZM220.8,310.3 219.8,310.4 218.8,310.4 218.0,310.2 217.9,309.2 218.3,308.8 218.8,308.2 219.2,307.6 219.7,307.0 220.1,306.5 220.5,305.9 220.8,305.2 221.0,304.2 220.7,303.5 220.2,302.9 219.8,302.2 219.5,301.8 219.0,301.0 218.7,300.5 218.2,299.9 217.8,299.4 217.1,299.0 216.2,299.0 215.5,299.1 214.5,299.1 213.8,299.0 213.0,298.6 212.5,298.2 212.0,297.5 211.8,296.9 211.6,296.0 211.6,295.0 211.8,294.2 212.2,293.5 212.6,293.0 213.1,292.5 213.8,292.0 214.2,291.7 214.9,291.2 215.3,290.8 215.7,290.0 216.0,289.2 216.2,288.5 216.3,287.8 216.4,286.8 216.5,286.0 216.6,285.0 216.6,284.0 216.6,283.0 216.7,282.0 216.7,281.0 216.8,280.2 216.8,279.2 216.8,278.2 216.8,277.2 216.7,276.5 216.7,275.5 216.6,274.5 216.5,273.8 216.4,272.8 216.3,271.8 216.2,271.0 216.1,270.0 216.0,269.0 216.0,268.2 215.9,267.2 215.9,266.2 215.8,265.2 215.8,264.2 215.8,263.3 215.7,262.5 215.7,261.5 215.7,260.5 215.8,259.7 216.0,258.8 216.2,258.2 216.8,257.5 217.2,257.0 217.6,256.5 218.1,256.0 218.5,255.4 219.0,254.8 219.4,254.2 219.8,253.8 220.2,253.2 220.8,252.7 221.5,252.3 222.2,252.1 223.1,252.2 223.8,252.5 224.5,252.9 225.2,253.2 226.0,253.5 226.8,253.7 227.5,254.0 228.1,254.2 228.8,254.6 229.5,255.0 230.0,255.3 230.8,255.7 231.2,256.1 231.8,256.6 232.2,257.1 232.7,257.8 233.0,258.5 233.2,259.2 233.3,260.0 233.5,261.0 233.5,262.0 233.5,262.8 233.5,263.8 233.6,264.8 233.6,265.8 233.7,266.8 233.8,267.5 234.0,268.5 234.2,269.2 234.3,270.0 234.6,270.8 234.8,271.5 235.1,272.2 235.5,273.0 235.9,273.5 236.3,274.0 236.9,274.5 237.5,274.8 238.2,275.2 238.9,275.5 239.5,275.9 240.0,276.3 240.5,276.9 240.8,277.5 241.1,278.2 241.4,279.0 241.7,279.8 242.0,280.5 242.2,281.2 242.5,281.9 242.8,282.6 243.1,283.2 243.5,283.8 244.0,283.5 244.5,282.8 244.8,282.2 245.2,281.7 246.0,281.3 246.8,281.5 247.2,282.2 247.5,283.0 247.6,283.8 247.7,284.8 247.7,285.8 247.6,286.8 247.4,287.5 247.2,288.2 246.9,289.0 246.5,289.7 246.0,290.0 245.0,290.1 244.2,290.4 243.8,291.0 243.5,291.8 243.4,292.5 243.4,293.5 243.5,294.4 243.7,295.2 244.0,296.0 244.1,296.8 244.0,297.6 243.8,298.3 243.4,299.0 243.0,299.6 242.6,300.2 242.2,300.8 241.8,301.5 241.4,302.0 241.0,302.7 240.7,303.2 240.2,303.9 239.9,304.5 239.5,305.1 239.0,305.7 238.5,306.2 238.0,306.7 237.5,307.2 237.0,307.6 236.4,308.0 235.8,308.4 235.2,308.8 234.5,309.0 233.8,309.3 232.8,309.5 232.0,309.6 231.0,309.6 230.0,309.5 229.2,309.4 228.2,309.3 227.2,309.3 226.2,309.4 225.3,309.5 224.5,309.6 223.8,309.8 222.8,309.9 222.0,310.1 221.0,310.2ZM192.2,309.3 191.2,309.4 190.5,309.2 189.8,308.8 189.2,308.3 188.8,307.8 188.5,307.2 188.1,306.5 187.8,305.8 187.6,305.0 187.5,304.2 187.5,303.2 187.6,302.5 187.8,301.8 188.2,301.0 188.5,300.5 189.0,300.0 189.6,299.5 190.2,299.1 191.0,298.8 191.8,298.6 192.8,298.7 193.5,298.8 194.2,299.1 194.8,299.5 195.4,300.0 195.8,300.5 196.2,301.2 196.5,302.0 196.6,302.8 196.6,303.8 196.5,304.6 196.2,305.4 196.0,306.1 195.6,306.8 195.2,307.3 194.8,307.9 194.2,308.3 193.6,308.8 193.0,309.1 192.2,309.3ZM223.0,309.0 222.0,309.1 221.0,309.1 220.2,308.9 220.2,308.0 220.5,307.4 221.0,306.8 221.3,306.2 221.8,305.7 222.2,305.0 222.5,304.3 222.5,303.5 222.2,302.9 221.8,302.3 221.3,301.8 220.9,301.2 220.5,300.6 220.1,300.0 219.8,299.5 219.3,298.8 218.9,298.2 218.4,297.8 217.8,297.3 217.2,297.2 216.5,297.5 215.8,297.9 215.0,298.2 214.2,298.3 213.5,298.1 212.9,297.8 212.5,297.2 212.2,296.5 212.1,295.5 212.2,294.7 212.6,294.0 213.1,293.5 213.8,293.0 214.4,292.8 215.2,292.5 215.8,292.2 216.2,291.7 216.6,291.0 216.9,290.2 217.0,289.5 217.2,288.5 217.3,287.8 217.5,286.8 217.6,286.0 217.7,285.0 217.8,284.0 217.8,283.2 217.8,282.2 217.9,281.2 217.9,280.2 217.9,279.2 217.8,278.2 217.8,277.2 217.7,276.5 217.6,275.5 217.5,274.8 217.3,273.8 217.2,273.0 217.1,272.0 217.0,271.2 216.9,270.2 216.8,269.2 216.7,268.5 216.6,267.5 216.5,266.5 216.5,265.6 216.5,264.8 216.4,263.8 216.3,262.8 216.3,261.8 216.3,260.8 216.4,259.8 216.6,259.0 217.0,258.3 217.4,257.8 217.8,257.2 218.2,256.7 218.8,256.0 219.1,255.5 219.5,255.0 220.0,254.5 220.5,254.0 221.2,253.5 222.0,253.4 222.8,253.6 223.5,253.9 224.2,254.2 224.9,254.5 225.8,254.7 226.5,254.9 227.2,255.1 228.0,255.4 228.8,255.7 229.4,256.0 230.0,256.3 230.6,256.8 231.1,257.2 231.6,257.8 232.0,258.5 232.2,259.2 232.4,260.0 232.5,261.0 232.5,262.0 232.5,262.8 232.5,263.8 232.5,264.8 232.6,265.8 232.6,266.8 232.7,267.8 232.7,268.8 232.8,269.5 233.0,270.4 233.2,271.2 233.4,272.0 233.6,272.8 233.9,273.5 234.2,274.2 234.6,274.8 235.0,275.2 235.6,275.8 236.2,276.2 236.8,276.5 237.5,276.9 238.2,277.2 238.8,277.5 239.5,278.0 239.9,278.5 240.3,279.0 240.6,279.8 240.9,280.5 241.2,281.2 241.4,282.0 241.6,282.8 241.8,283.6 241.9,284.5 242.1,285.2 242.3,286.0 242.5,286.8 242.7,287.8 242.8,288.5 242.8,289.5 242.8,290.5 242.6,291.2 242.5,292.2 242.5,293.2 242.7,294.2 242.9,295.0 243.1,295.8 243.3,296.5 243.3,297.5 243.1,298.2 242.8,299.0 242.4,299.5 242.0,300.2 241.6,300.8 241.2,301.2 240.8,301.9 240.3,302.5 239.9,303.0 239.4,303.5 238.9,304.0 238.4,304.5 237.8,305.0 237.2,305.4 236.7,305.8 236.0,306.2 235.4,306.5 234.8,306.8 234.0,307.1 233.2,307.3 232.2,307.5 231.5,307.6 230.5,307.7 229.8,307.8 228.8,308.0 228.0,308.1 227.0,308.2 226.2,308.4 225.5,308.6 224.6,308.8 223.8,308.9 223.0,309.0ZM246.2,287.4 245.8,287.2 245.7,287.0 245.5,286.5 245.5,286.2 245.4,285.8 245.5,285.2 245.5,284.8 245.5,284.5 245.7,284.0 245.8,283.8 246.0,283.4 246.5,283.4 246.8,283.7 246.8,284.0 246.9,284.5 247.0,285.0 246.9,285.5 246.9,286.0 246.8,286.5 246.7,286.8 246.5,287.2 246.2,287.4ZM192.0,307.8 191.2,307.7 190.5,307.4 190.0,307.0 189.5,306.5 189.1,305.8 188.8,305.0 188.6,304.2 188.5,303.2 188.7,302.2 189.0,301.5 189.3,301.0 189.8,300.5 190.4,300.0 191.0,299.7 192.0,299.5 193.0,299.6 193.8,299.9 194.3,300.2 194.8,300.8 195.2,301.5 195.5,302.2 195.6,303.0 195.5,304.0 195.3,304.8 195.0,305.5 194.7,306.0 194.2,306.5 193.8,307.0 193.0,307.5 192.2,307.7ZM224.8,308.0 223.8,308.2 222.8,308.2 221.9,308.0 221.8,307.5 222.0,306.8 222.5,306.0 222.9,305.5 223.3,305.0 223.8,304.3 224.0,303.8 224.1,302.8 223.8,302.2 223.2,301.7 222.8,301.2 222.2,300.7 221.8,300.1 221.3,299.5 221.0,299.0 220.5,298.3 220.1,297.8 219.7,297.2 219.2,296.6 218.8,296.0 218.3,295.5 217.8,295.0 217.5,294.5 217.4,293.5 217.5,292.6 217.7,291.8 217.8,291.0 217.9,290.0 218.1,289.2 218.2,288.2 218.3,287.5 218.5,286.5 218.6,285.8 218.7,284.8 218.8,284.0 218.8,283.0 218.9,282.0 218.9,281.0 218.9,280.0 218.9,279.0 218.8,278.0 218.7,277.2 218.5,276.2 218.4,275.5 218.2,274.6 218.1,273.8 218.0,273.0 217.8,272.0 217.7,271.2 217.5,270.2 217.4,269.5 217.3,268.5 217.2,267.8 217.1,266.8 217.1,265.8 217.0,264.9 216.9,264.0 216.9,263.0 216.8,262.0 216.8,261.0 217.0,260.0 217.2,259.2 217.5,258.6 217.9,258.0 218.3,257.5 218.8,256.9 219.2,256.2 219.6,255.8 220.1,255.2 220.7,254.8 221.2,254.5 222.2,254.4 223.0,254.7 223.7,255.0 224.3,255.2 225.0,255.5 226.0,255.7 226.8,255.9 227.5,256.1 228.2,256.4 229.0,256.8 229.5,257.1 230.1,257.5 230.6,258.0 231.0,258.5 231.3,259.2 231.5,260.1 231.6,261.0 231.6,262.0 231.6,263.0 231.6,264.0 231.6,265.0 231.6,266.0 231.6,267.0 231.6,268.0 231.7,269.0 231.7,270.0 231.8,270.8 232.0,271.8 232.1,272.5 232.3,273.2 232.5,274.1 232.8,274.8 233.2,275.5 233.6,276.0 234.1,276.5 234.7,277.0 235.2,277.4 235.9,277.8 236.5,278.1 237.2,278.5 237.9,278.8 238.5,279.1 239.0,279.5 239.5,280.0 239.9,280.8 240.2,281.5 240.5,282.2 240.6,283.0 240.8,283.8 241.0,284.6 241.2,285.5 241.4,286.2 241.6,287.0 241.8,287.8 241.9,288.8 242.0,289.8 241.9,290.8 241.9,291.8 241.8,292.8 241.9,293.8 242.1,294.5 242.3,295.2 242.5,296.0 242.7,297.0 242.6,298.0 242.3,298.8 242.0,299.2 241.5,300.0 241.1,300.5 240.7,301.0 240.2,301.6 239.8,302.2 239.2,302.7 238.8,303.1 238.2,303.5 237.6,304.0 237.0,304.4 236.4,304.8 235.8,305.1 235.0,305.4 234.3,305.8 233.6,306.0 232.8,306.2 232.0,306.5 231.2,306.7 230.5,306.9 229.8,307.0 228.8,307.2 228.0,307.4 227.2,307.5 226.3,307.8 225.5,307.9 224.8,308.0ZM214.8,297.4 214.2,297.5 213.8,297.4 213.4,297.2 213.1,297.0 212.9,296.8 212.8,296.3 212.7,296.0 212.7,295.5 212.8,295.2 212.9,294.8 213.1,294.5 213.3,294.2 213.7,294.0 214.0,293.8 214.4,293.8 214.8,293.7 215.0,293.8 215.5,293.9 215.8,294.0 216.2,294.2 216.4,294.5 216.5,295.0 216.3,295.5 216.2,295.8 216.0,296.2 215.8,296.5 215.6,296.8 215.3,297.0 215.0,297.2 214.8,297.4ZM192.8,306.3 191.8,306.4 191.0,306.2 190.4,305.8 190.0,305.2 189.7,304.5 189.5,303.8 189.5,303.0 189.8,302.1 190.1,301.5 190.6,301.0 191.2,300.6 192.0,300.4 192.8,300.5 193.5,300.8 194.0,301.3 194.4,302.0 194.6,302.8 194.6,303.8 194.4,304.5 194.0,305.2 193.5,305.8 193.0,306.1ZM225.8,307.3 224.8,307.4 223.8,307.3 223.3,306.8 223.6,306.0 224.0,305.4 224.5,304.8 224.9,304.2 225.2,303.7 225.6,303.0 225.5,302.0 225.1,301.5 224.5,301.0 224.0,300.6 223.5,300.1 223.0,299.6 222.5,299.0 222.1,298.5 221.7,298.0 221.2,297.4 220.8,296.8 220.4,296.2 220.0,295.6 219.6,295.0 219.2,294.3 219.0,293.6 218.8,292.8 218.8,291.8 218.8,290.8 218.9,289.8 219.0,289.0 219.2,288.0 219.3,287.2 219.4,286.2 219.5,285.5 219.6,284.5 219.7,283.5 219.8,282.8 219.9,281.8 219.9,280.8 219.9,279.8 219.8,278.8 219.7,278.0 219.5,277.0 219.4,276.2 219.2,275.5 219.0,274.6 218.8,273.8 218.6,273.0 218.5,272.2 218.3,271.2 218.1,270.5 218.0,269.8 217.8,268.8 217.7,268.0 217.6,267.0 217.6,266.0 217.5,265.2 217.4,264.2 217.4,263.2 217.3,262.2 217.3,261.2 217.4,260.2 217.7,259.5 218.0,258.8 218.4,258.2 218.8,257.7 219.2,257.1 219.7,256.5 220.2,256.0 220.8,255.6 221.5,255.3 222.5,255.4 223.2,255.7 224.0,256.0 224.7,256.2 225.5,256.5 226.2,256.7 227.0,256.9 227.8,257.1 228.5,257.5 229.0,257.8 229.7,258.2 230.1,258.8 230.5,259.4 230.7,260.2 230.8,261.0 230.9,262.0 230.9,263.0 230.9,264.0 230.8,265.0 230.8,266.0 230.7,266.8 230.7,267.8 230.7,268.8 230.7,269.8 230.7,270.8 230.7,271.8 230.8,272.5 230.9,273.5 231.0,274.2 231.3,275.0 231.6,275.8 232.0,276.4 232.5,277.0 233.0,277.4 233.5,277.8 234.1,278.2 234.8,278.7 235.4,279.0 236.0,279.3 236.8,279.7 237.3,280.0 238.0,280.4 238.5,280.8 239.0,281.4 239.4,282.0 239.6,282.8 239.8,283.5 240.0,284.2 240.2,285.1 240.5,286.0 240.7,286.8 240.9,287.5 241.1,288.2 241.2,289.2 241.3,290.0 241.2,290.8 241.2,291.8 241.2,292.8 241.3,293.5 241.5,294.5 241.7,295.2 241.9,296.0 242.0,296.9 242.0,297.5 241.8,298.5 241.5,299.0 241.1,299.8 240.7,300.2 240.2,300.8 239.8,301.4 239.2,302.0 238.8,302.4 238.2,302.8 237.6,303.2 237.0,303.6 236.3,304.0 235.8,304.3 235.0,304.7 234.2,305.0 233.6,305.2 232.9,305.5 232.2,305.8 231.4,306.0 230.5,306.2 229.8,306.5 229.0,306.6 228.2,306.8 227.3,307.0 226.5,307.1 225.8,307.3ZM214.5,296.0 214.2,296.2 214.0,296.2 213.8,296.0 213.7,296.0 213.7,295.8 213.7,295.5 213.8,295.4 213.9,295.2 214.0,295.2 214.2,295.1 214.5,295.2 214.5,295.2 214.6,295.5 214.6,295.8 214.5,296.0 214.5,296.0ZM192.5,305.0 192.0,305.1 191.5,305.0 191.2,304.9 191.0,304.6 190.8,304.3 190.6,304.0 190.5,303.5 190.6,303.0 190.7,302.5 190.9,302.2 191.1,302.0 191.4,301.8 191.8,301.6 192.2,301.5 192.8,301.7 193.0,301.8 193.2,302.1 193.5,302.5 193.5,302.8 193.6,303.2 193.5,303.8 193.4,304.0 193.2,304.3 193.0,304.7 192.8,304.9 192.5,305.0ZM227.0,306.5 226.0,306.6 225.2,306.5 224.9,305.8 225.2,305.0 225.6,304.5 226.0,304.0 226.5,303.3 226.8,302.8 226.9,301.8 226.5,301.1 226.0,300.7 225.4,300.2 224.8,299.8 224.2,299.3 223.8,298.8 223.3,298.2 222.9,297.8 222.5,297.2 222.0,296.6 221.5,296.0 221.2,295.5 220.8,294.8 220.5,294.2 220.2,293.5 220.0,292.8 219.9,291.8 219.9,290.8 219.9,289.8 220.0,288.9 220.1,288.0 220.2,287.1 220.4,286.2 220.5,285.3 220.6,284.5 220.7,283.5 220.8,282.8 221.0,281.8 221.1,281.0 221.1,280.0 221.1,279.0 220.9,278.2 220.7,277.5 220.5,276.8 220.2,276.0 220.0,275.2 219.7,274.5 219.5,273.8 219.2,272.9 219.0,272.0 218.8,271.2 218.6,270.5 218.5,269.8 218.3,268.8 218.2,268.0 218.1,267.0 218.0,266.1 217.9,265.2 217.9,264.2 217.8,263.2 217.8,262.2 217.8,261.2 217.9,260.2 218.2,259.5 218.5,259.0 219.0,258.2 219.4,257.8 219.8,257.2 220.2,256.7 221.0,256.2 221.8,256.1 222.7,256.2 223.3,256.5 224.0,256.8 224.8,257.1 225.5,257.3 226.2,257.5 227.0,257.8 227.8,258.0 228.5,258.4 229.0,258.8 229.5,259.3 229.9,260.0 230.1,260.8 230.1,261.8 230.1,262.8 230.1,263.8 230.1,264.8 230.0,265.8 230.0,266.5 229.9,267.5 229.8,268.5 229.7,269.2 229.6,270.2 229.5,271.2 229.4,272.0 229.3,273.0 229.3,274.0 229.4,275.0 229.6,275.8 230.0,276.5 230.3,277.0 230.8,277.5 231.3,278.0 231.9,278.5 232.5,278.9 233.1,279.2 233.8,279.6 234.5,280.0 235.0,280.3 235.8,280.7 236.4,281.0 237.0,281.3 237.7,281.8 238.2,282.2 238.6,282.8 238.9,283.5 239.1,284.2 239.4,285.0 239.6,285.8 239.8,286.5 240.1,287.2 240.3,288.0 240.5,288.9 240.6,289.8 240.6,290.8 240.6,291.8 240.6,292.8 240.7,293.8 240.9,294.5 241.0,295.2 241.2,296.2 241.3,297.0 241.2,297.9 241.0,298.7 240.7,299.2 240.3,300.0 239.9,300.5 239.5,301.0 239.0,301.6 238.5,302.0 237.8,302.5 237.2,302.9 236.6,303.2 236.0,303.6 235.2,304.0 234.7,304.2 234.0,304.5 233.2,304.8 232.5,305.1 231.8,305.4 231.0,305.6 230.2,305.8 229.5,306.0 228.5,306.2 227.8,306.4 227.0,306.5ZM228.5,305.8 227.5,305.8 226.6,305.8 226.3,305.0 226.7,304.2 227.1,303.8 227.5,303.2 227.9,302.5 228.2,301.8 228.2,301.2 227.8,300.6 227.2,300.2 226.5,299.8 226.0,299.4 225.5,299.0 225.0,298.5 224.5,298.0 224.0,297.5 223.5,296.9 223.0,296.3 222.6,295.8 222.2,295.2 221.8,294.5 221.5,293.8 221.2,293.2 221.0,292.2 220.9,291.5 220.9,290.5 220.9,289.5 221.0,288.8 221.2,287.8 221.3,287.0 221.4,286.0 221.6,285.2 221.7,284.2 221.9,283.5 222.1,282.8 222.3,282.0 222.5,281.2 222.8,280.5 223.1,279.8 223.2,278.8 223.0,277.8 222.6,277.2 222.1,276.8 221.7,276.2 221.2,275.6 220.9,275.0 220.5,274.3 220.2,273.7 220.0,273.0 219.7,272.2 219.4,271.5 219.2,270.8 219.0,269.8 218.8,269.0 218.7,268.2 218.5,267.2 218.5,266.5 218.4,265.5 218.3,264.5 218.2,263.8 218.2,262.8 218.2,261.8 218.3,261.0 218.5,260.1 218.8,259.5 219.2,258.8 219.6,258.2 220.0,257.8 220.6,257.2 221.2,256.9 222.2,256.9 223.0,257.2 223.7,257.5 224.3,257.8 225.0,258.0 225.9,258.2 226.7,258.5 227.4,258.8 228.0,259.1 228.6,259.5 229.0,260.0 229.3,260.8 229.4,261.8 229.4,262.8 229.4,263.8 229.3,264.8 229.3,265.8 229.2,266.5 229.1,267.5 229.0,268.2 228.8,269.2 228.6,270.0 228.4,270.8 228.2,271.5 227.9,272.2 227.6,273.0 227.2,273.7 227.0,274.3 226.8,275.1 226.7,276.0 226.9,276.8 227.2,277.3 227.8,277.9 228.2,278.3 229.0,278.8 229.5,279.0 230.2,279.4 230.9,279.8 231.5,280.0 232.2,280.4 233.0,280.7 233.5,281.0 234.2,281.4 235.0,281.7 235.6,282.0 236.2,282.4 236.9,282.8 237.5,283.2 237.9,283.8 238.2,284.5 238.5,285.1 238.8,285.8 239.0,286.5 239.3,287.2 239.6,288.0 239.8,288.8 239.9,289.8 240.0,290.8 239.9,291.8 239.9,292.8 240.0,293.5 240.2,294.5 240.4,295.2 240.5,296.0 240.6,297.0 240.5,297.8 240.3,298.8 240.0,299.4 239.7,300.0 239.2,300.6 238.8,301.2 238.2,301.6 237.8,302.0 237.0,302.5 236.5,302.8 235.8,303.2 235.2,303.5 234.5,303.8 233.8,304.1 233.0,304.4 232.2,304.7 231.5,305.0 230.8,305.2 230.0,305.4 229.2,305.6 228.5,305.8ZM223.2,274.1 222.2,274.2 221.5,273.8 221.0,273.2 220.7,272.8 220.3,272.0 220.0,271.3 219.8,270.7 219.5,269.9 219.3,269.0 219.1,268.2 219.0,267.5 218.9,266.5 218.8,265.5 218.7,264.8 218.6,263.8 218.6,262.8 218.6,261.8 218.8,260.8 219.0,260.1 219.3,259.5 219.8,258.9 220.2,258.3 220.8,257.9 221.5,257.6 222.5,257.8 223.1,258.0 223.8,258.3 224.5,258.6 225.2,258.9 226.0,259.1 226.8,259.4 227.5,259.8 228.0,260.1 228.5,260.8 228.7,261.5 228.7,262.5 228.7,263.5 228.6,264.5 228.5,265.5 228.5,266.2 228.3,267.2 228.2,268.0 228.0,268.8 227.8,269.5 227.4,270.2 227.0,271.0 226.6,271.5 226.2,272.0 225.6,272.5 225.0,273.0 224.5,273.3 223.9,273.8 223.2,274.1ZM229.5,305.0 228.5,305.1 227.8,304.8 227.8,304.2 228.2,303.5 228.6,303.0 229.0,302.5 229.5,301.8 229.8,301.2 229.7,300.5 229.1,300.0 228.5,299.7 227.8,299.3 227.2,299.0 226.5,298.5 226.0,298.1 225.5,297.6 225.0,297.1 224.5,296.5 224.1,296.0 223.7,295.5 223.2,294.8 222.9,294.2 222.6,293.5 222.3,292.8 222.1,292.0 222.0,291.0 222.0,290.2 222.0,289.5 222.1,288.5 222.3,287.8 222.5,286.8 222.7,286.0 222.9,285.2 223.1,284.5 223.3,283.8 223.7,283.0 224.0,282.5 224.5,281.9 225.0,281.4 225.7,281.0 226.3,280.8 227.2,280.6 228.2,280.7 229.0,280.8 229.8,281.0 230.5,281.2 231.3,281.5 232.0,281.8 232.8,282.1 233.5,282.4 234.2,282.8 234.8,283.0 235.5,283.4 236.2,283.8 236.8,284.2 237.2,284.7 237.6,285.2 238.0,286.0 238.2,286.6 238.5,287.2 238.8,288.0 239.1,288.8 239.2,289.6 239.3,290.5 239.3,291.5 239.3,292.5 239.4,293.5 239.5,294.3 239.7,295.2 239.7,296.2 239.7,297.2 239.5,298.2 239.4,299.0 239.1,299.8 238.8,300.4 238.2,301.0 237.8,301.4 237.2,301.8 236.6,302.2 236.0,302.6 235.2,303.0 234.7,303.2 234.0,303.6 233.2,303.9 232.5,304.2 231.8,304.4 231.0,304.7 230.2,304.9 229.5,305.0ZM223.0,272.3 222.0,272.4 221.3,272.0 220.9,271.5 220.5,270.9 220.2,270.2 219.9,269.5 219.7,268.8 219.5,268.0 219.3,267.0 219.2,266.2 219.1,265.2 219.0,264.2 219.0,263.5 219.0,262.5 219.0,261.8 219.2,260.8 219.5,260.1 219.9,259.5 220.4,259.0 221.0,258.6 221.8,258.4 222.5,258.5 223.2,258.9 224.0,259.2 224.6,259.5 225.3,259.8 226.0,260.0 226.8,260.3 227.4,260.8 227.8,261.3 228.0,262.2 228.0,263.0 228.0,263.8 227.9,264.8 227.8,265.6 227.6,266.5 227.5,267.2 227.2,268.1 227.0,268.8 226.6,269.5 226.2,270.0 225.8,270.6 225.2,271.0 224.6,271.5 224.0,271.8 223.2,272.2ZM230.0,304.3 229.2,304.0 229.3,303.5 229.8,302.9 230.2,302.3 230.8,301.8 231.2,301.3 231.8,300.8 232.1,300.2 232.0,299.5 231.2,299.2 230.2,299.0 229.5,298.9 228.8,298.6 228.0,298.3 227.5,298.0 226.8,297.5 226.3,297.0 225.8,296.5 225.4,296.0 225.0,295.5 224.5,294.8 224.2,294.2 223.8,293.5 223.5,292.8 223.3,292.0 223.2,291.2 223.1,290.2 223.2,289.2 223.4,288.5 223.6,287.8 223.8,287.0 224.1,286.2 224.4,285.5 224.8,284.9 225.2,284.2 225.6,283.8 226.1,283.2 226.8,282.9 227.5,282.6 228.2,282.5 229.2,282.5 230.0,282.6 230.8,282.8 231.5,283.0 232.2,283.3 233.0,283.6 233.8,283.9 234.5,284.2 235.0,284.5 235.8,284.9 236.3,285.2 236.8,285.8 237.2,286.5 237.5,287.0 237.9,287.8 238.2,288.5 238.5,289.2 238.6,290.0 238.6,291.0 238.6,292.0 238.6,293.0 238.7,294.0 238.8,294.8 238.8,295.8 238.7,296.5 238.5,297.4 238.4,298.2 238.4,299.2 238.2,300.0 237.8,300.7 237.2,301.2 236.8,301.5 236.0,302.0 235.5,302.3 234.8,302.7 234.1,303.0 233.5,303.3 232.8,303.6 232.0,303.8 231.2,304.0 230.2,304.2ZM222.8,271.0 221.8,271.0 221.2,270.6 220.8,270.0 220.5,269.5 220.2,268.8 220.0,268.0 219.8,267.0 219.6,266.2 219.5,265.2 219.4,264.5 219.4,263.5 219.4,262.5 219.5,261.5 219.7,260.8 220.0,260.2 220.5,259.7 221.2,259.2 222.0,259.2 222.8,259.4 223.4,259.8 224.0,260.1 224.8,260.4 225.5,260.7 226.0,261.0 226.7,261.5 227.0,262.0 227.2,263.0 227.1,264.0 227.0,265.0 226.9,265.8 226.7,266.5 226.5,267.3 226.2,268.0 225.8,268.8 225.4,269.2 224.9,269.8 224.3,270.2 223.8,270.6 223.0,271.0ZM235.8,298.0 235.0,298.0 234.0,297.9 233.0,297.9 232.0,297.9 231.0,297.9 230.0,297.8 229.2,297.6 228.5,297.3 228.0,297.0 227.3,296.5 226.8,296.0 226.4,295.5 226.0,295.0 225.5,294.3 225.2,293.8 224.8,293.0 224.6,292.2 224.4,291.5 224.3,290.5 224.4,289.5 224.6,288.8 224.9,288.0 225.2,287.2 225.5,286.8 226.0,286.1 226.5,285.5 227.0,285.0 227.5,284.6 228.2,284.3 229.0,284.1 230.0,284.1 230.9,284.2 231.8,284.5 232.5,284.7 233.2,285.0 233.8,285.2 234.5,285.5 235.2,285.9 235.8,286.2 236.4,286.8 236.8,287.3 237.2,288.0 237.5,288.8 237.7,289.5 237.8,290.2 237.9,291.2 237.8,292.2 237.8,293.2 237.8,294.2 237.8,295.2 237.7,296.0 237.3,296.8 236.9,297.2 236.4,297.8 235.8,298.0ZM232.8,302.8 232.2,302.9 231.8,302.8 231.7,302.5 231.9,302.2 232.2,302.0 232.4,301.8 232.7,301.5 233.0,301.3 233.2,301.1 233.5,300.9 233.8,300.7 234.1,300.5 234.5,300.2 234.8,300.1 235.0,299.9 235.3,299.8 235.8,299.5 236.0,299.4 236.5,299.4 236.8,299.6 236.9,300.0 236.8,300.4 236.5,300.7 236.2,300.9 236.0,301.2 235.8,301.3 235.5,301.5 235.1,301.8 234.8,302.0 234.5,302.1 234.2,302.2 233.8,302.4 233.5,302.5 233.0,302.7 232.8,302.8ZM222.8,269.8 221.9,269.8 221.2,269.3 220.9,268.8 220.5,268.0 220.3,267.2 220.1,266.5 220.0,265.8 219.9,264.8 219.8,263.8 219.8,262.8 219.9,261.8 220.2,261.0 220.6,260.5 221.2,260.0 222.0,260.0 222.8,260.2 223.2,260.5 224.0,261.0 224.5,261.2 225.2,261.7 225.8,262.0 226.2,262.8 226.2,263.8 226.1,264.8 225.9,265.5 225.7,266.2 225.5,267.0 225.1,267.8 224.8,268.3 224.2,268.8 223.7,269.2 223.0,269.7ZM235.0,296.5 234.0,296.6 233.0,296.6 232.0,296.6 231.0,296.6 230.1,296.5 229.3,296.2 228.8,296.0 228.1,295.5 227.6,295.0 227.2,294.5 226.8,293.9 226.4,293.2 226.0,292.5 225.8,291.8 225.6,291.0 225.7,290.0 225.8,289.2 226.2,288.5 226.5,288.0 227.0,287.3 227.5,286.8 228.0,286.4 228.7,286.0 229.4,285.8 230.2,285.7 231.2,285.8 232.0,285.9 232.8,286.2 233.5,286.4 234.2,286.7 235.0,287.0 235.5,287.3 236.0,287.9 236.4,288.5 236.7,289.2 236.9,290.0 237.0,291.0 236.9,292.0 236.8,293.0 236.7,293.8 236.6,294.8 236.4,295.5 236.0,296.1 235.2,296.5ZM223.0,268.3 222.0,268.5 221.4,268.0 221.0,267.4 220.8,266.7 220.5,265.8 220.4,265.0 220.3,264.0 220.2,263.2 220.3,262.5 220.5,261.7 221.0,261.1 221.8,260.8 222.5,261.0 223.2,261.4 223.8,261.8 224.4,262.2 224.8,262.8 225.0,263.5 225.0,264.3 224.8,265.2 224.6,266.0 224.3,266.8 224.0,267.2 223.5,267.8 223.0,268.3ZM233.8,295.0 232.8,295.0 232.0,295.0 231.0,294.9 230.2,294.7 229.5,294.3 229.0,294.0 228.5,293.4 228.0,292.8 227.7,292.2 227.4,291.5 227.3,290.5 227.5,289.7 227.8,289.0 228.2,288.5 228.8,288.0 229.5,287.6 230.2,287.4 231.2,287.4 232.0,287.5 233.0,287.7 233.8,287.9 234.5,288.2 235.0,288.5 235.5,289.1 235.8,289.8 235.9,290.8 235.9,291.8 235.7,292.5 235.5,293.5 235.2,294.2 234.8,294.8 234.0,295.0ZM222.5,266.7 222.0,266.7 221.7,266.5 221.5,266.2 221.3,265.8 221.2,265.5 221.0,265.0 221.0,264.8 220.9,264.2 220.9,263.8 220.9,263.2 220.9,262.8 221.0,262.4 221.2,262.1 221.5,261.9 222.0,261.9 222.4,262.0 222.8,262.2 223.0,262.4 223.2,262.6 223.5,262.9 223.6,263.2 223.7,263.8 223.7,264.2 223.6,264.8 223.5,265.1 223.4,265.5 223.2,265.8 223.0,266.2 222.8,266.5 222.5,266.7Z" fill="none" stroke="#262626" stroke-width="1.0"/>
<path d="M409.5,171.3 408.5,171.3 407.5,171.3 406.5,171.3 405.5,171.3 404.5,171.3 403.5,171.3 402.5,171.3 401.5,171.3 400.5,171.3 399.5,171.3 398.5,171.3 397.5,171.3 396.5,171.3 395.5,171.3 394.5,171.3 393.5,171.3 392.5,171.3 391.5,171.3 390.5,171.3 389.5,171.3 388.5,171.3 387.5,171.3 386.5,171.3 385.5,171.3 384.5,171.3 383.5,171.3 382.5,171.3 381.5,171.3 380.5,171.3 379.5,171.3 378.5,171.3 377.5,171.3 376.8,171.0 375.8,171.0 374.8,171.0 374.0,170.8 373.0,170.8 372.2,170.8 371.2,170.5 370.5,170.5 369.5,170.3 368.8,170.0 368.0,169.8 367.0,169.8 366.2,169.5 365.5,169.3 364.8,169.0 364.0,169.0 363.2,168.8 362.5,168.3 361.8,168.0 361.0,167.8 360.2,167.5 359.5,167.3 359.0,167.0 358.2,166.5 357.5,166.3 357.0,165.8 356.5,165.5 355.8,165.0 355.2,164.5 354.7,164.2 354.0,163.8 353.5,163.5 353.0,162.8 352.5,162.3 352.0,161.8 351.7,161.2 351.2,160.8 350.7,160.2 350.2,159.8 350.0,159.0 349.5,158.3 349.2,157.8 349.0,157.0 348.5,156.3 348.2,155.8 348.0,155.0 347.7,154.2 347.5,153.5 347.5,152.5 347.2,151.8 347.0,151.0 346.8,150.0 346.7,149.2 346.7,148.2 346.7,147.2 346.7,146.2 346.7,145.2 346.7,144.2 346.7,143.2 346.7,142.2 346.7,141.2 346.7,140.2 346.7,139.2 346.7,138.2 346.7,137.2 346.7,136.2 346.7,135.2 346.7,134.2 346.7,133.2 346.7,132.2 347.0,131.5 347.0,130.5 347.0,129.5 347.0,128.5 347.0,127.5 347.0,126.5 347.2,125.8 347.2,124.8 347.2,123.8 347.2,123.0 347.5,122.0 347.7,121.2 348.0,120.7 348.8,120.5 349.5,120.2 350.2,120.0 351.0,119.5 351.5,119.2 352.2,119.0 352.8,118.5 353.5,118.2 354.2,117.8 354.8,117.5 355.5,117.0 356.0,116.7 356.7,116.2 357.2,116.0 357.8,115.5 358.5,115.0 359.0,114.7 359.7,114.2 360.2,114.0 361.0,113.5 361.5,113.2 362.2,112.8 362.8,112.5 363.5,112.0 364.0,111.7 364.8,111.5 365.2,111.0 366.0,110.7 366.7,110.2 367.2,110.0 368.0,109.7 368.7,109.2 369.2,109.0 370.0,108.7 370.7,108.2 371.5,108.0 372.0,107.7 372.8,107.5 373.5,107.0 374.2,106.8 374.8,106.5 375.5,106.2 376.2,106.0 377.0,105.7 377.8,105.5 378.5,105.2 379.2,105.0 380.0,104.7 381.0,104.5 381.8,104.5 382.5,104.2 383.2,104.0 384.0,103.7 385.0,103.5 385.8,103.5 386.5,103.2 387.5,103.0 388.2,103.0 389.0,102.7 390.0,102.5 390.8,102.5 391.5,102.2 392.5,102.2 393.2,102.0 394.2,102.0 395.0,101.7 396.0,101.7 396.8,101.5 397.8,101.5 398.5,101.2 399.5,101.2 400.2,101.0 401.2,101.0 402.0,100.7 403.0,100.7 403.8,100.5 404.8,100.5 405.5,100.2 406.5,100.2 407.2,100.0 408.2,100.0 409.0,99.7 410.0,99.7 410.8,99.5 411.8,99.5 412.5,99.2 413.5,99.2 414.2,99.0 415.2,99.0 416.0,98.7 417.0,98.7 417.8,98.5 418.8,98.5 419.5,98.2 420.5,98.2 421.2,98.0 422.2,98.0 423.0,97.7 424.0,97.7 424.8,97.5 425.7,97.2 426.5,97.2 427.2,97.0 428.2,97.0 429.2,96.8 430.0,96.7 431.0,96.7 432.0,96.7 432.8,96.8 433.8,97.0 434.8,97.0 435.5,97.2 436.2,97.5 437.0,97.5 438.0,97.7 438.8,98.0 439.3,98.2 440.0,98.5 440.8,99.0 441.5,99.2 442.0,99.5 442.8,100.0 443.3,100.2 444.0,100.7 444.5,101.2 445.0,101.7 445.5,102.2 446.0,102.7 446.5,103.2 446.8,103.8 447.3,104.2 447.5,105.0 448.0,105.5 448.3,106.2 448.5,107.0 449.0,107.7 449.2,108.5 449.5,109.2 449.5,110.0 449.8,110.8 450.0,111.5 450.0,112.5 450.3,113.2 450.3,114.2 450.0,115.0 450.0,116.0 450.0,116.8 449.8,117.8 449.5,118.5 449.2,119.0 449.0,119.8 448.5,120.5 448.2,121.0 447.8,121.8 447.3,122.2 447.0,122.8 446.5,123.3 446.0,123.8 445.5,124.3 445.0,125.0 444.5,125.3 444.0,125.8 443.5,126.3 443.0,126.8 442.3,127.2 441.8,127.8 441.2,128.0 440.8,128.5 440.0,129.0 439.5,129.3 439.0,129.8 438.3,130.2 437.8,130.5 437.2,131.0 436.5,131.3 436.0,131.8 435.3,132.2 434.8,132.5 434.0,133.0 433.5,133.3 432.8,133.8 432.2,134.0 431.5,134.5 431.0,134.8 430.3,135.2 429.8,135.5 429.0,136.0 428.5,136.3 427.8,136.8 427.2,137.0 426.5,137.5 426.0,137.8 425.5,138.3 424.8,138.8 424.2,139.0 423.5,139.5 423.0,139.8 422.3,140.2 421.8,140.5 421.2,141.0 420.5,141.5 420.0,141.8 419.5,142.3 419.0,142.8 418.3,143.2 417.8,143.8 417.2,144.0 416.8,144.5 416.2,145.0 415.8,145.5 415.2,146.0 414.8,146.5 414.3,147.2 413.8,147.8 413.3,148.2 413.0,148.8 412.5,149.5 412.2,150.0 411.8,150.8 411.5,151.3 411.0,152.0 410.8,152.8 410.5,153.5 410.3,154.2 410.0,155.0 409.8,155.8 409.8,156.8 409.8,157.8 409.8,158.8 410.0,159.5 410.3,160.2 410.5,161.0 411.0,161.7 411.3,162.2 411.8,162.8 412.2,163.5 412.5,164.0 413.0,164.5 413.5,165.0 414.0,165.7 414.5,166.2 415.0,166.7 415.5,167.2 416.0,167.7 416.5,168.2 417.0,168.7 417.5,169.2 418.0,169.5 418.5,170.0 418.8,170.7 418.0,170.8 417.2,171.0 416.2,171.0 415.2,171.0 414.2,171.0 413.2,171.0 412.2,171.0 411.2,171.0 410.2,171.0 409.5,171.3ZM401.5,168.3 400.5,168.3 399.5,168.3 398.5,168.3 397.5,168.3 396.5,168.3 395.5,168.3 394.5,168.3 393.5,168.3 392.5,168.3 391.5,168.3 390.5,168.3 389.5,168.3 388.5,168.3 387.5,168.3 386.5,168.3 385.5,168.3 384.5,168.3 383.5,168.4 382.5,168.4 381.5,168.4 380.5,168.3 379.5,168.3 378.5,168.3 377.8,168.2 376.8,168.1 375.8,168.1 375.0,167.9 374.0,167.9 373.0,167.8 372.2,167.6 371.3,167.5 370.5,167.3 369.8,167.2 369.0,167.0 368.0,166.8 367.2,166.6 366.5,166.4 365.8,166.2 365.0,166.0 364.2,165.7 363.5,165.4 362.8,165.1 362.0,164.8 361.3,164.5 360.8,164.2 360.0,163.9 359.4,163.5 358.8,163.1 358.2,162.8 357.5,162.3 357.0,161.9 356.5,161.5 355.9,161.0 355.4,160.5 354.9,160.0 354.4,159.5 353.9,159.0 353.5,158.5 353.0,157.9 352.6,157.2 352.2,156.7 351.8,156.0 351.5,155.3 351.2,154.8 350.9,154.0 350.7,153.2 350.4,152.5 350.2,151.6 350.1,150.8 349.9,150.0 349.8,149.2 349.7,148.2 349.6,147.2 349.6,146.2 349.6,145.2 349.6,144.2 349.6,143.2 349.6,142.2 349.6,141.2 349.6,140.2 349.6,139.2 349.6,138.2 349.7,137.2 349.7,136.2 349.7,135.2 349.7,134.2 349.7,133.2 349.8,132.5 349.9,131.5 349.9,130.5 349.9,129.5 350.0,128.5 350.0,127.8 350.1,126.8 350.2,126.0 350.4,125.0 350.7,124.2 351.0,123.7 351.5,123.2 352.1,122.8 352.8,122.3 353.2,122.0 354.0,121.5 354.5,121.1 355.2,120.8 355.8,120.4 356.4,120.0 357.0,119.6 357.6,119.2 358.2,118.8 358.8,118.5 359.5,118.0 360.0,117.7 360.7,117.2 361.2,116.9 362.0,116.5 362.5,116.2 363.2,115.8 363.8,115.5 364.5,115.1 365.0,114.8 365.8,114.4 366.4,114.0 367.0,113.7 367.8,113.3 368.3,113.0 369.0,112.7 369.8,112.3 370.4,112.0 371.0,111.7 371.8,111.4 372.5,111.0 373.1,110.8 373.8,110.5 374.5,110.1 375.2,109.8 375.9,109.5 376.5,109.2 377.2,109.0 378.0,108.7 378.8,108.4 379.5,108.2 380.2,108.0 381.2,107.8 382.0,107.5 382.8,107.4 383.5,107.2 384.2,107.0 385.2,106.8 386.0,106.6 386.8,106.4 387.6,106.2 388.5,106.1 389.2,105.9 390.2,105.8 391.0,105.6 391.8,105.5 392.8,105.3 393.5,105.2 394.5,105.0 395.2,104.9 396.2,104.8 397.0,104.7 398.0,104.5 398.8,104.4 399.8,104.3 400.5,104.2 401.5,104.0 402.2,103.9 403.2,103.8 404.0,103.7 405.0,103.6 405.8,103.5 406.8,103.3 407.5,103.2 408.5,103.1 409.2,103.0 410.2,102.8 411.0,102.7 412.0,102.6 412.8,102.5 413.8,102.3 414.5,102.2 415.5,102.1 416.2,102.0 417.2,101.8 418.0,101.7 419.0,101.5 419.8,101.4 420.8,101.3 421.5,101.2 422.5,101.0 423.2,100.9 424.2,100.8 425.0,100.6 425.8,100.5 426.8,100.3 427.5,100.2 428.5,100.1 429.4,100.0 430.2,99.9 431.2,99.9 432.2,100.0 433.0,100.0 434.0,100.2 434.8,100.3 435.5,100.5 436.5,100.8 437.2,101.0 438.0,101.2 438.7,101.5 439.3,101.8 440.0,102.1 440.7,102.5 441.2,102.9 441.8,103.2 442.4,103.8 442.9,104.2 443.4,104.8 443.8,105.2 444.2,105.8 444.7,106.5 445.0,107.0 445.4,107.8 445.7,108.5 446.0,109.2 446.2,110.0 446.4,110.8 446.6,111.5 446.7,112.5 446.8,113.2 446.8,114.2 446.8,115.2 446.7,116.0 446.5,116.8 446.2,117.6 446.0,118.2 445.6,119.0 445.2,119.6 444.8,120.2 444.4,120.8 444.0,121.2 443.5,121.8 443.0,122.3 442.5,122.8 442.0,123.3 441.5,123.8 440.9,124.2 440.3,124.8 439.8,125.2 439.2,125.6 438.7,126.0 438.0,126.5 437.5,126.9 437.0,127.2 436.3,127.8 435.8,128.1 435.2,128.5 434.5,128.9 434.0,129.2 433.2,129.7 432.8,130.0 432.0,130.5 431.5,130.8 430.8,131.2 430.2,131.5 429.5,132.0 429.0,132.3 428.2,132.7 427.8,133.1 427.0,133.5 426.5,133.8 425.8,134.2 425.2,134.6 424.7,135.0 424.0,135.4 423.5,135.8 422.8,136.2 422.2,136.6 421.6,137.0 421.0,137.4 420.5,137.8 419.8,138.2 419.2,138.6 418.7,139.0 418.0,139.5 417.5,139.9 417.0,140.3 416.4,140.8 415.8,141.2 415.2,141.7 414.8,142.2 414.2,142.6 413.8,143.1 413.2,143.6 412.8,144.2 412.2,144.7 411.8,145.2 411.4,145.8 411.0,146.3 410.5,147.0 410.1,147.5 409.8,148.1 409.3,148.8 409.0,149.3 408.6,150.0 408.3,150.8 408.0,151.4 407.8,152.0 407.5,152.8 407.2,153.6 407.0,154.5 406.9,155.2 406.8,156.2 406.8,157.2 406.8,158.2 406.9,159.2 407.1,160.0 407.2,160.8 407.5,161.6 407.8,162.2 408.1,163.0 408.4,163.8 408.8,164.5 409.0,165.1 409.2,165.8 409.3,166.8 408.9,167.2 408.2,167.6 407.5,167.8 406.7,168.0 405.8,168.1 404.8,168.2 403.8,168.2 402.8,168.2 401.8,168.2ZM391.2,167.5 390.2,167.5 389.2,167.5 388.2,167.6 387.2,167.6 386.2,167.6 385.2,167.6 384.2,167.6 383.2,167.6 382.2,167.6 381.2,167.6 380.2,167.6 379.2,167.6 378.2,167.5 377.5,167.4 376.5,167.4 375.5,167.3 374.8,167.2 373.8,167.1 373.0,167.0 372.0,166.8 371.2,166.7 370.4,166.5 369.5,166.2 368.8,166.0 368.0,165.8 367.2,165.5 366.6,165.2 365.9,165.0 365.2,164.7 364.5,164.4 363.8,164.0 363.2,163.8 362.5,163.4 361.8,163.0 361.2,162.8 360.5,162.4 359.9,162.0 359.2,161.6 358.8,161.2 358.1,160.8 357.5,160.3 357.0,159.9 356.5,159.4 356.0,159.0 355.5,158.5 355.0,158.0 354.5,157.4 354.0,156.8 353.6,156.2 353.2,155.8 352.8,155.1 352.3,154.5 352.0,154.0 351.6,153.2 351.3,152.5 351.1,151.8 350.9,151.0 350.7,150.2 350.5,149.4 350.4,148.5 350.3,147.5 350.3,146.5 350.3,145.5 350.3,144.5 350.3,143.5 350.3,142.5 350.4,141.5 350.4,140.5 350.4,139.5 350.4,138.5 350.4,137.5 350.4,136.5 350.5,135.5 350.5,134.5 350.5,133.8 350.6,132.8 350.7,131.8 350.8,131.0 350.8,130.0 350.9,129.0 351.0,128.2 351.2,127.2 351.4,126.5 351.7,125.8 352.0,125.2 352.6,124.8 353.2,124.2 353.8,123.9 354.2,123.5 354.8,123.0 355.4,122.5 355.9,122.0 356.4,121.5 356.9,121.0 357.5,120.5 358.0,120.1 358.5,119.7 359.1,119.2 359.8,118.8 360.3,118.5 361.0,118.1 361.5,117.8 362.2,117.4 363.0,117.0 363.5,116.7 364.2,116.4 365.0,116.0 365.6,115.8 366.2,115.5 367.0,115.1 367.8,114.8 368.4,114.5 369.0,114.2 369.8,113.9 370.5,113.6 371.2,113.3 371.9,113.0 372.5,112.8 373.2,112.4 374.0,112.1 374.8,111.8 375.3,111.5 376.0,111.1 376.8,110.8 377.3,110.5 378.0,110.2 378.8,109.9 379.5,109.6 380.2,109.4 381.0,109.2 381.8,109.0 382.8,108.8 383.5,108.7 384.3,108.5 385.2,108.3 386.0,108.1 386.8,108.0 387.7,107.8 388.5,107.6 389.2,107.4 390.2,107.3 391.0,107.1 391.9,107.0 392.8,106.9 393.5,106.8 394.5,106.6 395.2,106.4 396.2,106.2 397.0,106.1 397.8,106.0 398.8,105.8 399.5,105.7 400.5,105.6 401.2,105.5 402.2,105.3 403.0,105.2 404.0,105.1 405.0,105.0 405.8,104.9 406.8,104.9 407.8,104.8 408.5,104.7 409.5,104.6 410.2,104.5 411.2,104.4 412.1,104.2 413.0,104.1 413.8,104.0 414.8,103.8 415.5,103.6 416.2,103.4 417.0,103.2 418.0,103.0 418.8,102.9 419.5,102.7 420.5,102.5 421.2,102.4 422.1,102.2 423.0,102.1 423.8,102.0 424.8,101.8 425.5,101.6 426.5,101.5 427.2,101.4 428.1,101.2 429.0,101.1 430.0,101.1 431.0,101.0 432.0,101.1 433.0,101.2 433.8,101.3 434.7,101.5 435.5,101.7 436.2,101.9 437.0,102.2 437.8,102.5 438.4,102.8 439.0,103.0 439.8,103.5 440.2,103.8 440.8,104.2 441.4,104.8 441.8,105.2 442.2,105.8 442.7,106.5 443.1,107.0 443.5,107.8 443.8,108.4 444.0,109.0 444.3,109.8 444.5,110.5 444.8,111.5 444.9,112.2 445.1,113.0 445.2,114.0 445.2,115.0 445.1,116.0 445.0,116.8 444.7,117.5 444.4,118.2 444.0,118.9 443.6,119.5 443.2,120.0 442.7,120.5 442.2,121.0 441.6,121.5 441.1,122.0 440.5,122.5 440.0,122.9 439.5,123.3 438.9,123.8 438.2,124.2 437.8,124.6 437.2,125.0 436.6,125.5 436.0,126.0 435.5,126.4 435.0,126.8 434.3,127.2 433.8,127.6 433.2,128.0 432.5,128.5 432.0,128.8 431.2,129.2 430.8,129.5 430.0,129.9 429.4,130.2 428.8,130.6 428.1,131.0 427.5,131.3 426.8,131.8 426.2,132.1 425.6,132.5 425.0,133.0 424.5,133.3 423.9,133.8 423.3,134.2 422.8,134.6 422.2,135.0 421.5,135.5 421.0,135.8 420.4,136.2 419.8,136.7 419.2,137.0 418.5,137.5 418.0,137.8 417.3,138.2 416.8,138.6 416.1,139.0 415.5,139.4 415.0,139.8 414.3,140.2 413.8,140.7 413.2,141.2 412.8,141.8 412.3,142.2 411.9,142.8 411.5,143.2 411.0,143.8 410.5,144.4 410.0,145.0 409.6,145.5 409.2,146.0 408.8,146.8 408.4,147.2 408.0,147.9 407.7,148.5 407.3,149.2 407.0,149.8 406.7,150.5 406.4,151.2 406.1,152.0 405.9,152.8 405.7,153.5 405.5,154.3 405.3,155.2 405.2,156.0 405.1,157.0 405.0,158.0 405.1,159.0 405.2,160.0 405.3,160.8 405.5,161.8 405.6,162.5 405.8,163.2 406.0,164.2 406.1,165.0 406.0,165.8 405.3,166.2 404.6,166.5 403.8,166.7 403.0,166.8 402.0,166.9 401.2,167.0 400.2,167.1 399.2,167.2 398.5,167.3 397.5,167.3 396.5,167.4 395.5,167.4 394.5,167.4 393.5,167.4 392.5,167.5 391.5,167.5ZM381.2,167.0 380.4,167.0 379.5,167.0 378.5,166.9 377.5,166.8 376.8,166.7 375.8,166.6 375.0,166.5 374.0,166.4 373.2,166.2 372.2,166.0 371.5,165.8 370.8,165.6 370.0,165.3 369.5,165.0 368.8,164.6 368.0,164.2 367.5,164.0 366.8,163.6 366.2,163.2 365.5,162.9 364.8,162.5 364.2,162.2 363.5,161.9 362.8,161.6 362.1,161.2 361.5,160.9 360.8,160.5 360.2,160.2 359.5,159.8 359.0,159.5 358.4,159.0 357.8,158.5 357.2,158.1 356.8,157.6 356.2,157.1 355.8,156.5 355.3,156.0 355.0,155.5 354.6,154.8 354.2,154.1 353.9,153.5 353.5,152.8 353.1,152.2 352.6,151.8 352.2,151.2 351.8,150.5 351.5,149.9 351.2,149.1 351.1,148.2 351.0,147.4 351.0,146.5 351.0,145.5 351.0,144.5 351.0,143.8 351.1,142.8 351.2,141.8 351.2,140.8 351.3,140.0 351.3,139.0 351.3,138.0 351.4,137.0 351.4,136.0 351.4,135.0 351.4,134.0 351.5,133.1 351.7,132.2 351.8,131.5 351.9,130.5 352.1,129.8 352.3,129.0 352.5,128.2 352.9,127.5 353.2,126.9 353.7,126.2 354.2,125.8 354.7,125.2 355.2,124.8 355.8,124.4 356.2,123.9 356.8,123.5 357.3,123.0 357.8,122.5 358.2,121.8 358.6,121.2 359.0,120.7 359.5,120.1 360.0,119.7 360.5,119.2 361.2,118.8 361.8,118.4 362.5,118.1 363.1,117.8 363.8,117.4 364.5,117.1 365.2,116.8 366.0,116.5 366.7,116.2 367.5,116.0 368.1,115.8 368.8,115.5 369.5,115.2 370.2,115.0 371.0,114.7 371.8,114.4 372.5,114.2 373.2,113.9 374.0,113.6 374.8,113.3 375.5,113.0 376.1,112.8 376.8,112.4 377.5,112.1 378.1,111.8 378.8,111.4 379.5,111.1 380.2,110.8 381.0,110.6 381.8,110.4 382.5,110.2 383.5,110.1 384.3,110.0 385.2,109.8 386.0,109.7 386.9,109.5 387.8,109.3 388.5,109.1 389.2,109.0 390.2,108.8 391.0,108.7 392.0,108.5 392.8,108.4 393.8,108.3 394.5,108.1 395.2,108.0 396.2,107.8 397.0,107.6 397.8,107.4 398.8,107.3 399.5,107.1 400.3,107.0 401.2,106.8 402.0,106.7 403.0,106.6 403.8,106.5 404.8,106.4 405.8,106.3 406.5,106.2 407.5,106.2 408.5,106.1 409.5,106.0 410.2,106.0 411.2,105.9 412.2,105.8 413.0,105.7 414.0,105.5 414.8,105.4 415.5,105.1 416.2,104.9 417.0,104.6 417.8,104.3 418.5,104.1 419.2,103.8 420.0,103.6 420.8,103.4 421.5,103.2 422.3,103.0 423.2,102.8 424.0,102.6 424.8,102.5 425.8,102.3 426.5,102.2 427.5,102.0 428.2,101.9 429.2,101.8 430.2,101.8 430.9,101.8 431.8,101.8 432.8,101.9 433.5,102.1 434.3,102.2 435.1,102.5 435.9,102.8 436.5,103.0 437.2,103.3 438.0,103.8 438.5,104.1 439.0,104.5 439.5,105.1 440.0,105.7 440.4,106.2 440.8,106.8 441.2,107.5 441.5,108.0 442.0,108.8 442.2,109.4 442.5,110.1 442.8,110.9 443.0,111.8 443.2,112.5 443.3,113.2 443.5,114.2 443.5,115.0 443.5,115.8 443.3,116.8 443.0,117.5 442.7,118.0 442.2,118.7 441.8,119.2 441.2,119.7 440.8,120.1 440.2,120.5 439.5,121.0 439.0,121.4 438.5,121.8 437.9,122.2 437.3,122.8 436.8,123.2 436.2,123.6 435.7,124.0 435.1,124.5 434.5,125.0 434.0,125.4 433.5,125.8 432.9,126.2 432.2,126.7 431.8,127.0 431.1,127.5 430.5,127.8 429.8,128.2 429.2,128.5 428.5,128.8 427.8,129.2 427.0,129.5 426.3,129.8 425.8,130.0 425.0,130.5 424.5,130.8 424.0,131.3 423.5,131.8 423.0,132.2 422.5,132.8 422.0,133.2 421.4,133.8 420.8,134.2 420.2,134.7 419.8,135.1 419.1,135.5 418.5,135.9 418.0,136.2 417.2,136.7 416.7,137.0 416.0,137.4 415.3,137.8 414.8,138.0 414.0,138.5 413.5,138.9 413.0,139.3 412.5,139.8 412.0,140.3 411.5,140.9 411.1,141.5 410.7,142.0 410.2,142.5 409.8,143.1 409.3,143.8 408.8,144.2 408.4,144.8 408.0,145.4 407.6,146.0 407.2,146.5 406.8,147.2 406.5,147.8 406.1,148.5 405.8,149.2 405.5,149.8 405.2,150.5 404.8,151.2 404.6,152.0 404.3,152.8 404.1,153.5 403.9,154.2 403.7,155.0 403.5,155.8 403.3,156.8 403.2,157.5 403.2,158.5 403.2,159.5 403.2,160.5 403.2,161.5 403.1,162.5 403.0,163.2 402.7,164.0 402.2,164.7 401.8,165.1 401.0,165.5 400.3,165.8 399.5,166.0 398.8,166.1 397.9,166.2 397.0,166.4 396.0,166.4 395.0,166.5 394.2,166.5 393.2,166.6 392.2,166.7 391.2,166.7 390.3,166.8 389.5,166.8 388.5,166.8 387.5,166.8 386.5,166.8 385.5,166.9 384.5,166.9 383.5,166.9 382.5,167.0 381.5,167.0ZM381.8,166.3 380.8,166.3 379.8,166.3 379.0,166.2 378.0,166.0 377.2,165.9 376.2,165.8 375.5,165.6 374.8,165.4 373.9,165.2 373.2,165.0 372.5,164.6 371.8,164.2 371.2,163.9 370.6,163.5 370.0,163.1 369.3,162.8 368.7,162.5 368.0,162.2 367.2,161.9 366.5,161.5 366.0,161.2 365.2,160.8 364.7,160.5 364.0,160.1 363.4,159.8 362.8,159.4 362.0,159.1 361.3,158.8 360.8,158.5 360.0,158.1 359.4,157.8 358.8,157.3 358.2,156.9 357.8,156.4 357.2,155.9 356.8,155.3 356.4,154.8 356.0,154.0 355.8,153.3 355.5,152.5 355.3,151.8 355.1,151.0 354.9,150.2 354.6,149.5 354.4,148.8 354.2,148.0 354.0,147.2 353.9,146.2 354.0,145.4 354.2,144.5 354.3,143.8 354.5,142.8 354.6,142.0 354.6,141.0 354.6,140.0 354.5,139.1 354.3,138.2 354.1,137.5 353.9,136.8 353.6,136.0 353.4,135.2 353.3,134.2 353.2,133.5 353.3,132.8 353.5,131.8 353.6,131.0 353.8,130.2 354.1,129.5 354.3,128.8 354.7,128.0 355.0,127.4 355.4,126.8 355.9,126.2 356.4,125.8 357.0,125.3 357.5,124.9 358.0,124.5 358.7,124.0 359.2,123.5 359.7,123.0 360.0,122.5 360.3,121.8 360.5,121.0 360.9,120.2 361.3,119.8 361.9,119.2 362.5,118.8 363.1,118.5 363.8,118.1 364.5,117.8 365.2,117.5 365.9,117.2 366.6,117.0 367.5,116.8 368.2,116.5 369.0,116.3 369.8,116.0 370.5,115.8 371.2,115.6 372.0,115.4 372.8,115.2 373.5,115.0 374.2,114.7 375.0,114.5 375.8,114.2 376.5,114.0 377.2,113.7 378.0,113.4 378.8,113.1 379.4,112.8 380.0,112.5 380.8,112.1 381.5,111.9 382.2,111.7 383.2,111.6 384.0,111.5 385.0,111.4 386.0,111.3 386.8,111.1 387.5,111.0 388.5,110.8 389.2,110.6 390.0,110.4 391.0,110.3 391.8,110.1 392.7,110.0 393.5,109.9 394.3,109.8 395.2,109.6 396.0,109.4 396.8,109.2 397.8,109.0 398.5,108.9 399.2,108.7 400.2,108.5 401.0,108.3 401.8,108.1 402.5,108.0 403.5,107.8 404.2,107.7 405.2,107.6 406.2,107.6 407.2,107.6 408.2,107.5 409.0,107.5 410.0,107.4 411.0,107.3 411.8,107.2 412.8,107.1 413.8,107.0 414.5,107.0 415.5,106.8 416.2,106.7 417.2,106.5 418.0,106.2 418.5,106.0 419.2,105.5 419.8,105.1 420.2,104.7 421.0,104.3 421.7,104.0 422.3,103.8 423.1,103.5 424.0,103.3 424.8,103.1 425.5,102.9 426.4,102.8 427.2,102.6 428.0,102.5 429.0,102.4 430.0,102.3 431.0,102.3 432.0,102.4 432.8,102.6 433.7,102.8 434.5,103.0 435.1,103.2 435.8,103.5 436.5,104.0 437.0,104.4 437.5,105.0 437.8,105.5 438.2,106.2 438.6,106.8 439.0,107.2 439.5,107.8 440.0,108.5 440.3,109.0 440.7,109.8 441.0,110.5 441.2,111.2 441.4,112.0 441.5,112.8 441.7,113.8 441.7,114.8 441.6,115.8 441.4,116.5 441.0,117.2 440.7,117.8 440.2,118.2 439.8,118.8 439.2,119.2 438.6,119.8 438.1,120.2 437.5,120.7 437.0,121.1 436.5,121.5 435.9,122.0 435.3,122.5 434.8,122.9 434.2,123.2 433.5,123.7 433.0,124.1 432.4,124.5 431.8,124.9 431.2,125.2 430.5,125.7 430.0,126.0 429.2,126.4 428.5,126.7 427.8,126.9 427.0,127.2 426.2,127.3 425.5,127.5 424.8,127.8 424.0,128.1 423.2,128.5 422.8,128.9 422.2,129.3 421.8,129.9 421.3,130.5 421.0,131.0 420.5,131.7 420.1,132.2 419.7,132.8 419.2,133.2 418.7,133.8 418.0,134.2 417.5,134.6 416.9,135.0 416.2,135.3 415.5,135.7 415.0,136.0 414.2,136.4 413.8,136.8 413.1,137.2 412.5,137.7 412.0,138.2 411.5,138.7 411.1,139.2 410.6,139.8 410.2,140.3 409.8,140.9 409.3,141.5 408.9,142.0 408.5,142.5 408.0,143.1 407.5,143.7 407.1,144.2 406.7,144.8 406.3,145.5 406.0,146.0 405.6,146.8 405.2,147.4 404.9,148.0 404.6,148.8 404.2,149.3 403.9,150.0 403.5,150.8 403.2,151.3 403.0,152.0 402.6,152.8 402.4,153.5 402.1,154.2 401.9,155.0 401.7,155.8 401.5,156.6 401.4,157.5 401.3,158.5 401.2,159.2 401.0,160.2 400.8,161.0 400.5,161.7 400.2,162.2 399.8,162.8 399.2,163.3 398.7,163.8 398.1,164.2 397.5,164.6 396.8,164.9 396.0,165.1 395.1,165.2 394.2,165.4 393.4,165.5 392.5,165.6 391.5,165.7 390.8,165.8 389.8,165.8 388.8,165.8 387.8,165.8 386.8,165.8 385.8,165.9 384.8,166.0 384.0,166.1 383.0,166.2 382.0,166.2ZM392.5,163.3 391.5,163.4 390.5,163.3 389.8,163.1 389.0,162.8 388.3,162.5 387.5,162.3 386.8,162.1 386.0,161.9 385.0,161.9 384.0,161.8 383.0,161.9 382.0,161.9 381.2,162.0 380.2,162.1 379.4,162.2 378.5,162.4 377.5,162.3 376.7,162.2 375.8,162.1 375.0,161.9 374.2,161.8 373.2,161.6 372.2,161.6 371.5,161.5 370.5,161.3 369.8,161.2 369.0,160.9 368.2,160.7 367.5,160.3 366.9,160.0 366.2,159.6 365.7,159.2 365.0,158.8 364.5,158.5 363.8,158.0 363.2,157.8 362.5,157.4 361.8,157.1 361.0,156.8 360.5,156.5 359.8,156.1 359.2,155.7 358.8,155.2 358.2,154.7 357.8,154.0 357.5,153.5 357.2,152.8 357.0,152.0 356.8,151.1 356.6,150.2 356.4,149.5 356.2,148.7 356.1,147.8 356.0,146.8 356.0,146.0 356.0,145.2 356.1,144.2 356.2,143.2 356.2,142.3 356.3,141.5 356.3,140.5 356.2,139.6 356.1,138.8 356.0,138.0 355.8,137.2 355.5,136.2 355.3,135.5 355.2,134.8 355.2,133.8 355.2,132.8 355.3,132.0 355.5,131.0 355.7,130.2 355.9,129.5 356.2,128.8 356.5,128.2 357.0,127.5 357.5,127.0 358.0,126.6 358.5,126.2 359.1,125.8 359.8,125.3 360.2,124.9 360.9,124.5 361.5,124.1 362.0,123.7 362.5,123.2 362.9,122.5 362.8,121.6 362.3,121.0 362.3,120.5 362.7,119.8 363.2,119.2 363.8,118.9 364.4,118.5 365.0,118.2 365.8,117.9 366.5,117.6 367.2,117.4 368.0,117.2 368.8,117.0 369.8,116.8 370.5,116.6 371.2,116.4 372.0,116.2 373.0,116.0 373.8,115.8 374.5,115.7 375.2,115.5 376.2,115.2 377.0,115.1 377.8,114.8 378.5,114.6 379.2,114.3 380.0,114.0 380.7,113.8 381.4,113.5 382.2,113.3 383.0,113.1 384.0,113.0 384.8,112.9 385.8,112.8 386.5,112.7 387.5,112.5 388.2,112.3 389.0,112.2 389.8,112.0 390.8,111.8 391.5,111.7 392.5,111.5 393.2,111.4 394.2,111.3 395.0,111.2 396.0,111.1 396.8,110.9 397.5,110.7 398.5,110.5 399.2,110.3 400.0,110.2 400.8,110.0 401.5,109.7 402.4,109.5 403.2,109.3 404.0,109.2 405.0,109.1 406.0,109.0 407.0,109.0 408.0,109.0 408.8,109.0 409.8,108.8 410.5,108.7 411.5,108.5 412.2,108.4 413.2,108.3 414.2,108.3 415.1,108.2 416.0,108.2 417.0,108.1 418.0,108.0 418.8,107.9 419.8,107.8 420.5,107.7 421.5,107.5 422.2,107.3 422.8,107.0 423.1,106.2 422.8,105.7 422.5,104.8 423.2,104.3 423.8,104.0 424.5,103.7 425.3,103.5 426.2,103.3 427.0,103.1 427.8,103.0 428.8,102.9 429.8,102.8 430.8,102.8 431.8,102.9 432.5,103.0 433.3,103.2 434.0,103.5 434.8,103.9 435.2,104.3 435.5,105.0 435.6,106.0 436.0,106.7 436.5,107.2 437.0,107.5 437.6,108.0 438.1,108.5 438.6,109.0 439.0,109.7 439.3,110.2 439.6,111.0 439.8,111.8 439.9,112.8 440.0,113.5 440.0,114.5 439.9,115.2 439.7,116.0 439.3,116.8 439.0,117.3 438.5,117.9 438.0,118.5 437.5,119.0 437.0,119.4 436.5,119.9 436.0,120.3 435.4,120.8 434.8,121.2 434.2,121.6 433.5,122.0 433.0,122.3 432.2,122.7 431.5,123.0 430.8,123.2 430.0,123.4 429.2,123.6 428.2,123.7 427.2,123.6 426.2,123.5 425.5,123.5 424.5,123.4 423.5,123.4 422.5,123.4 421.5,123.4 420.8,123.2 419.8,123.1 418.8,123.0 417.8,123.1 416.8,123.2 416.0,123.3 415.0,123.5 414.2,123.6 413.2,123.7 412.5,124.0 411.8,124.2 411.2,124.6 410.6,125.0 410.1,125.5 409.8,126.2 409.6,127.0 409.5,128.0 409.7,129.0 409.9,129.8 410.2,130.5 410.5,131.2 410.8,131.8 411.0,132.5 411.3,133.2 411.5,134.2 411.3,135.2 411.0,136.0 410.7,136.5 410.2,137.1 409.8,137.8 409.4,138.2 409.0,138.9 408.6,139.5 408.2,140.0 407.8,140.7 407.4,141.2 407.0,141.8 406.5,142.5 406.1,143.0 405.7,143.5 405.2,144.1 404.8,144.8 404.5,145.3 404.2,146.0 403.8,146.8 403.5,147.5 403.2,148.0 402.9,148.8 402.5,149.4 402.1,150.0 401.8,150.7 401.5,151.2 401.1,152.0 400.8,152.8 400.5,153.5 400.3,154.2 400.1,155.0 399.9,155.8 399.7,156.5 399.5,157.3 399.2,158.1 399.0,158.8 398.6,159.5 398.2,160.1 397.8,160.7 397.2,161.1 396.6,161.5 396.0,161.9 395.3,162.2 394.7,162.5 394.0,162.8 393.2,163.1 392.5,163.3ZM392.5,161.3 391.5,161.4 390.5,161.3 389.8,161.1 389.0,160.9 388.2,160.7 387.5,160.5 386.5,160.3 385.8,160.2 384.8,160.1 383.8,160.1 382.8,160.1 381.8,160.1 380.8,160.1 379.8,160.2 379.0,160.3 378.0,160.3 377.0,160.3 376.1,160.2 375.2,160.2 374.2,160.1 373.2,160.0 372.5,160.0 371.5,159.9 370.5,159.8 369.8,159.7 369.0,159.4 368.2,159.1 367.5,158.8 367.0,158.4 366.4,158.0 365.8,157.6 365.2,157.2 364.5,156.8 363.9,156.5 363.2,156.2 362.5,155.8 361.8,155.5 361.2,155.2 360.5,154.8 360.0,154.3 359.5,153.8 359.1,153.2 358.8,152.5 358.5,151.9 358.3,151.0 358.1,150.2 358.0,149.5 357.8,148.5 357.7,147.8 357.6,146.8 357.6,145.8 357.7,144.8 357.8,144.0 357.9,143.0 358.1,142.2 358.3,141.5 358.6,140.8 358.8,140.0 359.0,139.2 359.0,138.5 358.6,137.8 358.2,137.2 357.8,136.6 357.5,136.0 357.2,135.2 357.0,134.2 357.0,133.5 357.1,132.8 357.2,131.8 357.5,131.1 357.8,130.5 358.2,129.9 358.8,129.3 359.2,128.8 359.8,128.3 360.2,127.8 360.6,127.2 361.1,126.8 361.7,126.2 362.2,125.8 362.8,125.4 363.3,125.0 364.0,124.5 364.5,124.1 365.0,123.7 365.5,123.1 365.8,122.5 365.6,121.8 365.2,121.2 364.7,120.8 364.2,120.1 364.3,119.5 364.9,119.0 365.5,118.7 366.2,118.3 367.0,118.1 367.8,117.9 368.5,117.7 369.5,117.5 370.2,117.4 371.0,117.2 371.8,117.0 372.8,116.8 373.5,116.7 374.3,116.5 375.2,116.3 376.0,116.2 376.9,116.0 377.8,115.8 378.5,115.6 379.2,115.5 380.1,115.2 381.0,115.0 381.8,114.9 382.5,114.7 383.5,114.6 384.2,114.5 385.2,114.4 386.2,114.2 387.0,114.1 387.8,113.9 388.5,113.7 389.3,113.5 390.2,113.3 391.0,113.2 392.0,113.1 392.9,113.0 393.8,113.0 394.8,112.9 395.7,112.8 396.5,112.6 397.2,112.4 398.0,112.2 399.0,112.0 399.8,111.8 400.5,111.6 401.2,111.4 402.0,111.1 402.8,111.0 403.8,110.8 404.5,110.7 405.5,110.6 406.5,110.6 407.5,110.5 408.2,110.5 409.2,110.3 410.0,110.2 410.8,110.0 411.6,109.8 412.5,109.6 413.5,109.5 414.2,109.5 415.2,109.5 416.2,109.5 417.2,109.5 418.2,109.4 419.2,109.3 420.1,109.2 421.0,109.2 422.0,109.0 422.8,108.9 423.5,108.7 424.2,108.5 425.0,108.2 425.7,107.8 426.2,107.4 426.6,106.8 426.2,106.2 425.6,105.8 425.0,105.2 424.7,104.8 425.1,104.2 425.8,104.0 426.5,103.7 427.4,103.5 428.2,103.4 429.2,103.3 430.0,103.2 431.0,103.2 431.8,103.4 432.5,103.6 433.2,104.0 433.6,104.5 433.4,105.2 433.0,105.8 432.5,106.5 432.5,107.0 433.0,107.5 433.8,107.9 434.5,108.2 435.2,108.5 435.9,108.8 436.5,109.1 437.0,109.5 437.5,110.1 437.9,110.8 438.2,111.5 438.4,112.2 438.5,113.0 438.5,114.0 438.4,114.8 438.2,115.5 437.9,116.2 437.5,116.9 437.1,117.5 436.6,118.0 436.1,118.5 435.6,119.0 435.0,119.4 434.5,119.8 433.8,120.2 433.2,120.5 432.5,120.9 431.8,121.2 431.0,121.4 430.1,121.5 429.2,121.5 428.2,121.5 427.5,121.5 426.5,121.4 425.6,121.2 424.8,121.2 423.8,121.1 423.0,121.0 422.0,120.9 421.2,120.8 420.2,120.6 419.2,120.5 418.5,120.5 417.5,120.4 416.5,120.4 415.5,120.5 414.8,120.5 413.8,120.7 413.0,120.8 412.2,121.0 411.2,121.2 410.5,121.3 409.5,121.4 408.5,121.5 407.7,121.5 406.8,121.6 405.9,121.8 405.1,122.0 404.5,122.4 404.0,123.0 404.2,124.0 404.5,124.8 404.7,125.5 404.9,126.2 405.1,127.0 405.2,128.0 405.4,128.8 405.5,129.5 405.7,130.5 405.7,131.5 405.6,132.5 405.4,133.2 405.1,134.0 404.9,134.8 404.7,135.5 404.5,136.5 404.6,137.5 404.8,138.3 404.9,139.2 404.8,140.2 404.6,141.0 404.2,141.6 403.8,142.2 403.4,142.8 403.0,143.4 402.7,144.0 402.4,144.8 402.2,145.5 402.0,146.2 401.7,147.0 401.4,147.8 401.0,148.4 400.7,149.0 400.2,149.7 400.0,150.2 399.6,151.0 399.2,151.6 398.9,152.2 398.6,153.0 398.3,153.8 398.0,154.5 397.8,155.2 397.5,156.0 397.3,156.8 397.0,157.4 396.7,158.0 396.2,158.6 395.8,159.2 395.3,159.8 394.8,160.2 394.2,160.6 393.5,160.9 392.8,161.2ZM430.5,105.3 430.0,105.4 429.5,105.5 429.0,105.5 428.5,105.4 428.0,105.2 427.8,105.1 427.5,105.0 427.2,104.8 427.2,104.4 427.5,104.2 427.8,104.0 428.2,103.9 428.8,103.8 429.2,103.8 429.5,103.7 429.8,103.8 430.2,103.8 430.8,103.9 431.0,104.1 431.3,104.2 431.3,104.8 431.1,105.0 430.8,105.2 430.5,105.3ZM392.0,159.3 391.0,159.5 390.0,159.4 389.2,159.2 388.2,159.0 387.5,158.9 386.5,158.8 385.8,158.7 384.8,158.7 383.8,158.7 382.8,158.7 381.8,158.6 380.8,158.6 379.8,158.6 378.8,158.6 377.8,158.6 376.8,158.6 375.8,158.6 374.8,158.6 373.8,158.6 372.8,158.5 371.8,158.5 371.0,158.4 370.0,158.2 369.2,158.0 368.6,157.8 368.0,157.5 367.2,157.0 366.8,156.7 366.0,156.3 365.5,156.0 364.8,155.5 364.2,155.2 363.5,154.9 362.8,154.5 362.2,154.2 361.6,153.8 361.0,153.2 360.6,152.8 360.2,152.2 360.0,151.5 359.7,150.8 359.5,149.9 359.3,149.0 359.2,148.2 359.2,147.2 359.2,146.2 359.4,145.5 359.6,144.8 359.9,144.0 360.2,143.5 360.8,142.8 361.2,142.2 361.6,141.8 362.0,141.1 362.3,140.5 362.6,139.8 362.7,138.8 362.8,138.0 362.8,137.2 362.7,136.2 362.5,135.2 362.4,134.5 362.3,133.5 362.2,132.8 362.3,132.0 362.4,131.0 362.6,130.2 362.8,129.4 363.0,128.6 363.3,128.0 363.8,127.3 364.2,126.8 364.7,126.2 365.2,125.8 365.8,125.4 366.2,125.0 366.9,124.5 367.5,124.0 368.0,123.6 368.5,123.2 369.0,122.5 369.0,121.8 368.5,121.2 368.0,120.8 367.5,120.4 367.0,119.8 367.5,119.1 368.2,118.8 369.0,118.5 369.8,118.3 370.5,118.1 371.2,117.9 372.0,117.7 372.8,117.5 373.8,117.3 374.5,117.2 375.3,117.0 376.2,116.8 377.0,116.7 378.0,116.5 378.8,116.4 379.7,116.2 380.5,116.1 381.2,116.0 382.2,115.9 383.2,115.8 384.0,115.7 385.0,115.6 385.9,115.5 386.8,115.4 387.5,115.2 388.4,115.0 389.2,114.8 390.0,114.7 391.0,114.5 391.8,114.5 392.8,114.5 393.8,114.5 394.8,114.4 395.8,114.3 396.5,114.1 397.2,114.0 398.0,113.8 398.9,113.5 399.7,113.2 400.5,113.0 401.2,112.8 402.0,112.6 402.8,112.4 403.8,112.3 404.5,112.2 405.5,112.1 406.5,112.1 407.5,112.0 408.2,111.9 409.2,111.8 410.0,111.5 410.8,111.3 411.5,111.1 412.2,110.9 413.0,110.8 414.0,110.7 415.0,110.7 416.0,110.7 416.8,110.8 417.8,110.8 418.8,110.8 419.7,110.8 420.5,110.7 421.5,110.6 422.2,110.4 423.1,110.2 423.9,110.0 424.5,109.7 425.2,109.4 426.0,109.0 426.5,108.8 427.2,108.5 428.0,108.2 429.0,108.0 430.0,108.1 430.8,108.2 431.5,108.5 432.2,108.8 433.0,109.1 433.8,109.4 434.4,109.8 435.0,110.0 435.7,110.5 436.2,111.0 436.5,111.5 436.9,112.2 437.0,113.0 437.1,114.0 436.9,114.8 436.6,115.5 436.2,116.2 435.8,116.8 435.4,117.2 434.8,117.8 434.2,118.2 433.8,118.5 433.0,119.0 432.5,119.2 431.8,119.6 431.0,119.8 430.2,120.0 429.2,120.1 428.2,120.2 427.2,120.1 426.3,120.0 425.5,119.9 424.5,119.8 423.8,119.6 423.0,119.5 422.0,119.3 421.2,119.2 420.4,119.0 419.5,118.8 418.8,118.7 417.8,118.5 417.0,118.4 416.0,118.4 415.0,118.4 414.0,118.5 413.2,118.6 412.5,118.8 411.8,119.0 411.0,119.3 410.1,119.5 409.2,119.6 408.4,119.8 407.5,119.9 406.5,120.0 405.8,120.1 404.8,120.2 404.0,120.4 403.2,120.6 402.5,120.8 401.8,121.1 401.0,121.5 400.5,122.0 400.1,122.5 400.2,123.5 400.5,124.2 400.9,124.8 401.2,125.3 401.6,126.0 401.9,126.8 402.1,127.5 402.2,128.5 402.3,129.2 402.3,130.2 402.2,131.0 402.1,132.0 402.0,133.0 401.9,133.8 401.8,134.6 401.6,135.5 401.5,136.5 401.4,137.2 401.4,138.2 401.3,139.2 401.2,140.0 401.0,140.8 400.8,141.5 400.5,142.4 400.3,143.2 400.2,144.0 400.0,144.9 399.8,145.8 399.6,146.5 399.2,147.2 399.0,147.8 398.5,148.5 398.2,149.0 397.8,149.6 397.3,150.2 396.9,150.8 396.5,151.3 396.1,152.0 395.8,152.6 395.5,153.2 395.2,154.0 395.0,154.8 394.8,155.5 394.5,156.3 394.2,157.0 393.9,157.8 393.5,158.3 393.0,158.8 392.2,159.2ZM384.0,157.3 383.0,157.3 382.0,157.3 381.2,157.2 380.2,157.2 379.2,157.1 378.2,157.1 377.2,157.1 376.2,157.1 375.2,157.1 374.2,157.1 373.2,157.2 372.2,157.1 371.2,157.0 370.5,156.9 369.8,156.7 369.0,156.4 368.2,156.1 367.6,155.8 367.0,155.4 366.2,155.0 365.8,154.7 365.0,154.3 364.5,154.0 363.8,153.6 363.2,153.2 362.6,152.8 362.1,152.2 361.8,151.7 361.4,151.0 361.1,150.2 361.0,149.5 360.9,148.5 361.0,147.5 361.1,146.8 361.5,146.0 361.8,145.5 362.2,144.9 362.8,144.3 363.2,143.8 363.6,143.2 364.0,142.7 364.4,142.0 364.7,141.2 365.0,140.5 365.1,139.8 365.2,138.8 365.2,137.8 365.1,136.8 365.0,135.8 365.0,134.8 365.0,133.8 365.1,132.8 365.2,131.8 365.3,131.0 365.4,130.0 365.6,129.2 365.8,128.5 366.2,127.8 366.6,127.2 367.1,126.8 367.7,126.2 368.2,125.8 368.8,125.4 369.3,125.0 370.0,124.6 370.5,124.2 371.2,123.8 371.8,123.3 372.2,122.8 372.4,122.0 372.0,121.3 371.5,120.8 371.0,120.3 370.6,119.8 371.0,119.1 371.6,118.8 372.2,118.5 373.0,118.2 373.9,118.0 374.8,117.8 375.5,117.7 376.3,117.5 377.2,117.3 378.0,117.2 379.0,117.1 379.8,117.0 380.8,116.8 381.7,116.8 382.5,116.7 383.5,116.6 384.5,116.5 385.2,116.5 386.2,116.3 387.0,116.2 388.0,116.1 388.8,116.0 389.8,115.8 390.5,115.7 391.5,115.7 392.5,115.7 393.5,115.7 394.5,115.7 395.5,115.6 396.4,115.5 397.2,115.3 398.0,115.2 398.8,115.0 399.5,114.8 400.4,114.5 401.2,114.3 402.0,114.1 402.8,113.9 403.8,113.8 404.5,113.7 405.5,113.7 406.5,113.7 407.5,113.7 408.5,113.6 409.2,113.4 410.0,113.2 410.8,112.9 411.5,112.6 412.2,112.3 413.0,112.1 414.0,112.0 414.8,112.0 415.5,112.0 416.5,112.1 417.5,112.2 418.2,112.3 419.2,112.3 420.2,112.3 421.0,112.2 422.0,112.1 422.8,111.9 423.5,111.6 424.2,111.3 424.8,111.0 425.5,110.5 426.0,110.2 426.7,109.8 427.2,109.5 428.0,109.2 429.0,109.1 430.0,109.1 430.8,109.3 431.5,109.6 432.2,110.0 432.8,110.3 433.3,110.8 434.0,111.2 434.5,111.8 434.8,112.2 435.2,113.0 435.2,114.0 435.0,114.8 434.5,115.5 434.1,116.0 433.6,116.5 433.0,116.9 432.5,117.3 431.8,117.7 431.2,118.0 430.5,118.4 429.8,118.7 429.0,118.9 428.1,119.0 427.5,119.0 426.5,118.9 425.5,118.8 424.8,118.6 424.0,118.5 423.1,118.2 422.2,118.0 421.5,117.8 420.8,117.5 420.1,117.2 419.4,117.0 418.7,116.8 417.8,116.5 417.0,116.3 416.2,116.2 415.2,116.1 414.4,116.0 413.5,115.9 412.5,115.8 411.5,115.8 410.8,115.7 409.8,115.7 409.0,115.9 408.3,116.2 407.8,116.6 407.2,117.1 406.8,117.5 406.0,118.0 405.5,118.2 404.8,118.5 404.0,118.8 403.2,119.0 402.5,119.2 401.8,119.5 401.0,119.8 400.2,120.2 399.6,120.5 399.0,120.9 398.4,121.2 397.8,121.8 397.4,122.2 397.2,123.0 397.4,123.8 397.8,124.5 398.1,125.0 398.5,125.8 398.8,126.2 399.1,127.0 399.4,127.8 399.6,128.5 399.7,129.5 399.8,130.2 399.8,131.2 399.7,132.0 399.7,133.0 399.6,134.0 399.5,134.9 399.4,135.8 399.3,136.8 399.2,137.5 399.0,138.5 398.8,139.2 398.7,140.0 398.5,140.8 398.3,141.8 398.1,142.5 398.0,143.2 397.8,144.1 397.5,144.9 397.2,145.5 396.8,146.2 396.4,146.8 396.0,147.2 395.5,147.8 395.0,148.2 394.5,148.8 394.0,149.5 393.7,150.0 393.3,150.8 393.0,151.4 392.8,152.0 392.5,152.8 392.2,153.5 392.0,154.4 391.8,155.2 391.5,155.8 391.0,156.4 390.4,156.8 389.5,156.9 388.5,157.0 387.5,157.0 386.8,157.0 385.8,157.1 384.8,157.2 384.0,157.3ZM427.8,117.8 426.8,117.8 426.0,117.8 425.0,117.6 424.2,117.4 423.5,117.1 422.8,116.9 422.0,116.5 421.4,116.2 420.8,115.9 420.0,115.5 419.5,115.1 419.0,114.8 419.2,114.2 420.1,114.0 421.0,113.9 421.8,113.7 422.8,113.6 423.5,113.4 424.2,113.1 424.9,112.8 425.5,112.3 426.0,111.8 426.4,111.2 427.0,110.8 427.5,110.4 428.2,110.1 429.0,110.0 429.8,110.0 430.5,110.3 431.2,110.7 431.8,111.1 432.2,111.8 432.5,112.2 432.8,113.0 432.7,113.8 432.4,114.5 432.0,115.1 431.5,115.6 431.0,116.0 430.3,116.5 429.8,116.9 429.1,117.2 428.5,117.5 427.8,117.8ZM383.8,155.5 382.8,155.7 381.8,155.7 380.8,155.7 379.8,155.6 378.8,155.5 378.0,155.5 377.0,155.5 376.2,155.5 375.2,155.6 374.2,155.7 373.2,155.7 372.2,155.7 371.2,155.6 370.5,155.5 369.7,155.2 369.0,155.0 368.2,154.7 367.5,154.3 366.9,154.0 366.2,153.6 365.6,153.2 365.0,152.9 364.5,152.5 363.9,152.0 363.5,151.5 363.1,150.8 362.8,150.0 362.8,149.0 363.0,148.2 363.3,147.5 363.8,146.8 364.1,146.2 364.5,145.8 365.0,145.2 365.5,144.7 366.0,144.2 366.5,143.5 366.8,143.0 367.2,142.2 367.5,141.5 367.6,140.8 367.7,139.8 367.6,138.8 367.5,138.0 367.3,137.0 367.2,136.2 367.1,135.2 367.1,134.2 367.1,133.2 367.2,132.3 367.4,131.5 367.5,130.8 367.8,130.0 368.0,129.2 368.5,128.5 368.8,128.0 369.3,127.5 369.8,127.0 370.4,126.5 371.0,126.0 371.5,125.7 372.1,125.2 372.7,124.8 373.2,124.3 373.8,123.9 374.2,123.5 374.8,122.9 375.1,122.2 375.0,121.5 374.5,120.9 374.0,120.4 373.6,119.8 374.0,119.1 374.7,118.8 375.4,118.5 376.2,118.3 377.0,118.1 377.8,118.0 378.8,117.8 379.5,117.7 380.5,117.6 381.4,117.5 382.2,117.4 383.2,117.4 384.2,117.3 385.0,117.2 386.0,117.1 387.0,117.0 387.8,116.9 388.8,116.8 389.5,116.7 390.5,116.6 391.5,116.6 392.5,116.7 393.5,116.7 394.3,116.8 395.2,116.8 396.2,116.8 397.2,116.8 398.2,116.9 399.0,117.1 399.5,117.6 399.5,118.3 399.0,119.0 398.5,119.4 398.0,119.8 397.2,120.2 396.7,120.5 396.0,120.9 395.3,121.2 394.8,121.7 394.4,122.2 394.5,123.2 394.8,123.8 395.2,124.4 395.6,125.0 396.0,125.5 396.4,126.2 396.8,126.8 397.1,127.5 397.3,128.2 397.5,129.0 397.7,130.0 397.8,130.8 397.8,131.8 397.8,132.6 397.7,133.5 397.7,134.5 397.6,135.5 397.5,136.3 397.3,137.2 397.2,138.0 397.0,138.8 396.8,139.6 396.5,140.5 396.3,141.2 396.1,142.0 395.9,142.8 395.5,143.5 395.2,144.0 394.8,144.6 394.2,145.1 393.8,145.6 393.2,146.0 392.8,146.5 392.2,147.1 391.8,147.8 391.5,148.3 391.1,149.0 390.8,149.5 390.3,150.2 390.0,150.8 389.5,151.4 389.0,152.0 388.5,152.5 388.0,153.0 387.5,153.4 387.0,153.8 386.4,154.2 385.8,154.7 385.2,155.0 384.5,155.3 383.8,155.5ZM429.2,114.1 428.8,114.2 428.2,114.2 427.8,114.0 427.7,113.8 427.6,113.2 427.6,112.8 427.7,112.2 427.9,112.0 428.1,111.8 428.4,111.5 428.8,111.3 429.2,111.3 429.8,111.5 430.0,111.6 430.2,111.9 430.4,112.2 430.4,112.8 430.2,113.2 430.0,113.5 429.8,113.8 429.5,113.9 429.2,114.1ZM374.2,154.0 373.2,154.2 372.2,154.2 371.2,154.1 370.5,153.9 369.8,153.7 369.0,153.4 368.2,153.1 367.5,152.8 367.0,152.4 366.3,152.0 365.8,151.5 365.4,151.0 365.1,150.2 365.2,149.2 365.4,148.5 365.8,147.9 366.2,147.3 366.7,146.8 367.2,146.2 367.8,145.8 368.2,145.3 368.8,144.9 369.2,144.5 369.8,143.9 370.2,143.2 370.3,142.5 370.4,141.5 370.2,140.6 370.1,139.8 369.9,139.0 369.8,138.2 369.5,137.3 369.3,136.5 369.1,135.8 369.0,135.0 368.9,134.0 369.0,133.0 369.1,132.2 369.3,131.5 369.6,130.8 369.9,130.0 370.2,129.5 370.8,128.8 371.2,128.3 371.8,127.8 372.2,127.4 372.8,126.9 373.2,126.5 373.8,126.0 374.4,125.5 375.0,125.0 375.5,124.6 376.0,124.2 376.6,123.8 377.2,123.3 377.8,122.9 378.2,122.4 378.3,121.5 377.9,121.0 377.3,120.5 376.8,120.0 377.1,119.2 377.8,119.0 378.5,118.7 379.5,118.5 380.2,118.4 381.2,118.3 382.0,118.2 383.0,118.2 384.0,118.1 384.8,118.0 385.8,117.9 386.8,117.8 387.5,117.7 388.5,117.6 389.5,117.5 390.2,117.5 391.2,117.5 392.0,117.6 393.0,117.7 393.8,117.9 394.5,118.2 395.0,118.5 395.0,119.3 394.5,119.8 393.8,120.2 393.2,120.6 392.6,121.0 392.0,121.5 391.5,122.0 391.5,122.7 391.8,123.2 392.2,123.8 392.8,124.4 393.2,124.9 393.8,125.5 394.2,126.0 394.5,126.5 395.0,127.2 395.3,127.8 395.6,128.5 395.8,129.2 396.0,130.2 396.1,131.0 396.1,132.0 396.1,133.0 396.1,134.0 396.0,135.0 395.9,135.8 395.8,136.7 395.5,137.5 395.3,138.2 395.1,139.0 394.8,139.8 394.5,140.5 394.2,141.1 393.9,141.8 393.5,142.4 393.0,143.0 392.5,143.4 392.0,143.9 391.5,144.3 391.0,144.8 390.5,145.3 390.0,145.8 389.5,146.3 389.0,146.8 388.3,147.2 387.8,147.6 387.0,148.0 386.5,148.3 385.9,148.8 385.4,149.2 384.9,149.8 384.5,150.3 384.0,151.0 383.6,151.5 383.2,152.0 382.7,152.5 382.0,152.9 381.2,153.1 380.2,153.1 379.2,153.1 378.2,153.1 377.2,153.2 376.5,153.4 375.8,153.6 375.0,153.8 374.2,154.0ZM388.2,120.8 387.2,120.9 386.2,120.8 385.5,120.7 384.8,120.5 384.0,120.1 383.8,119.7 384.5,119.2 385.2,119.1 386.0,118.9 387.0,118.8 387.8,118.7 388.8,118.6 389.8,118.5 390.8,118.7 391.3,119.0 391.0,119.8 390.5,120.1 389.8,120.4 389.0,120.6 388.2,120.8ZM381.8,147.8 380.8,147.8 380.0,147.6 379.3,147.2 378.8,146.9 378.0,146.5 377.5,146.2 376.8,145.9 376.0,145.5 375.5,145.2 375.0,144.7 374.5,144.0 374.2,143.5 373.8,142.8 373.5,142.2 373.1,141.5 372.8,140.8 372.5,140.1 372.2,139.5 371.9,138.8 371.7,138.0 371.4,137.2 371.1,136.5 370.9,135.8 370.8,134.9 370.7,134.0 370.7,133.0 370.9,132.2 371.2,131.5 371.5,130.9 372.0,130.2 372.4,129.8 372.9,129.2 373.4,128.8 373.9,128.2 374.4,127.8 374.9,127.2 375.5,126.8 376.0,126.3 376.5,125.8 377.0,125.5 377.7,125.0 378.2,124.7 379.0,124.3 379.7,124.0 380.5,123.8 381.2,123.6 382.0,123.5 383.0,123.3 383.9,123.2 384.8,123.2 385.8,123.1 386.8,123.2 387.5,123.3 388.2,123.6 389.0,123.9 389.7,124.2 390.2,124.6 390.8,125.0 391.4,125.5 391.9,126.0 392.4,126.5 392.9,127.0 393.2,127.5 393.7,128.2 394.0,128.9 394.2,129.6 394.5,130.5 394.6,131.2 394.7,132.2 394.7,133.2 394.6,134.2 394.5,135.1 394.3,136.0 394.0,136.8 393.8,137.3 393.4,138.0 393.0,138.8 392.7,139.2 392.2,140.0 391.9,140.5 391.4,141.0 390.9,141.5 390.4,142.0 389.8,142.5 389.2,143.0 388.8,143.4 388.2,143.8 387.5,144.2 386.9,144.5 386.2,144.9 385.6,145.2 385.0,145.7 384.5,146.1 383.9,146.5 383.3,147.0 382.8,147.4 382.0,147.7ZM372.0,151.3 371.5,151.4 371.0,151.4 370.6,151.2 370.2,151.1 370.0,150.9 369.8,150.7 369.5,150.2 369.5,150.0 369.5,149.8 369.7,149.2 369.9,149.0 370.2,148.8 370.5,148.6 370.8,148.4 371.2,148.3 371.5,148.2 372.0,148.2 372.2,148.4 372.5,148.6 372.7,149.0 372.8,149.2 372.8,149.8 372.8,150.1 372.7,150.5 372.5,150.9 372.2,151.2 372.0,151.3ZM382.2,144.3 381.2,144.4 380.2,144.3 379.5,144.0 379.0,143.7 378.2,143.3 377.6,143.0 377.0,142.6 376.5,142.2 375.9,141.8 375.4,141.2 375.0,140.7 374.5,140.0 374.2,139.5 373.8,138.8 373.5,138.2 373.2,137.5 372.9,136.8 372.6,136.0 372.5,135.2 372.4,134.2 372.5,133.2 372.7,132.5 373.0,131.9 373.5,131.2 373.9,130.8 374.3,130.2 374.8,129.8 375.3,129.2 375.8,128.8 376.3,128.2 376.8,127.8 377.4,127.2 378.0,126.8 378.5,126.4 379.2,126.0 379.8,125.7 380.5,125.5 381.2,125.2 382.2,125.1 383.0,125.0 384.0,124.9 385.0,124.9 386.0,125.0 386.8,125.1 387.6,125.2 388.3,125.5 389.0,125.8 389.7,126.2 390.2,126.7 390.8,127.1 391.2,127.6 391.8,128.2 392.1,128.8 392.5,129.4 392.8,130.0 393.0,130.8 393.2,131.8 393.2,132.6 393.2,133.2 393.1,134.2 392.9,135.0 392.6,135.8 392.2,136.4 391.9,137.0 391.5,137.5 391.0,138.2 390.6,138.8 390.1,139.2 389.7,139.8 389.2,140.2 388.6,140.8 388.0,141.2 387.5,141.6 386.8,142.0 386.2,142.2 385.5,142.6 384.8,143.0 384.2,143.2 383.5,143.6 382.8,144.0 382.2,144.3ZM382.2,141.5 381.2,141.7 380.2,141.6 379.5,141.4 378.8,141.2 378.0,140.8 377.5,140.5 376.8,140.0 376.3,139.5 375.8,139.0 375.4,138.5 375.0,137.8 374.7,137.2 374.4,136.5 374.1,135.8 374.0,134.8 374.0,134.2 374.2,133.2 374.5,132.7 374.9,132.0 375.3,131.5 375.8,130.9 376.2,130.4 376.8,129.9 377.2,129.4 377.8,128.9 378.3,128.5 379.0,128.0 379.5,127.7 380.2,127.3 380.9,127.0 381.7,126.8 382.5,126.6 383.2,126.5 384.2,126.4 385.2,126.4 386.0,126.5 387.0,126.7 387.7,127.0 388.2,127.3 389.0,127.8 389.5,128.2 390.0,128.7 390.5,129.2 390.8,129.8 391.2,130.5 391.5,131.2 391.7,132.0 391.7,133.0 391.6,134.0 391.3,134.8 391.0,135.3 390.5,136.0 390.1,136.5 389.7,137.0 389.2,137.5 388.8,138.1 388.2,138.6 387.8,139.1 387.2,139.5 386.5,139.9 385.9,140.2 385.2,140.5 384.5,140.8 383.8,141.1 383.0,141.3 382.2,141.5ZM382.5,139.5 381.5,139.6 380.5,139.6 379.8,139.5 379.0,139.2 378.2,138.9 377.7,138.5 377.1,138.0 376.6,137.5 376.2,137.0 375.9,136.2 375.7,135.5 375.6,134.5 375.8,133.7 376.0,133.0 376.5,132.2 376.8,131.8 377.3,131.2 377.8,130.7 378.3,130.2 378.9,129.8 379.5,129.3 380.0,129.0 380.8,128.6 381.5,128.3 382.2,128.1 383.0,127.9 384.0,127.8 385.0,127.9 385.8,128.0 386.6,128.2 387.2,128.6 387.9,129.0 388.4,129.5 388.8,130.0 389.2,130.6 389.6,131.2 389.8,132.0 389.8,133.0 389.7,133.8 389.3,134.5 389.0,135.0 388.5,135.6 388.0,136.2 387.5,136.8 387.0,137.2 386.5,137.7 386.0,138.1 385.4,138.5 384.8,138.8 384.0,139.1 383.2,139.3 382.5,139.5ZM382.0,137.8 381.0,137.8 380.2,137.6 379.5,137.3 378.9,137.0 378.3,136.5 377.9,136.0 377.5,135.2 377.4,134.5 377.6,133.8 377.8,133.0 378.2,132.3 378.7,131.8 379.1,131.2 379.6,130.8 380.2,130.3 380.8,130.0 381.5,129.6 382.2,129.3 383.0,129.2 384.0,129.1 384.8,129.2 385.6,129.5 386.2,129.9 386.8,130.3 387.2,131.0 387.5,131.6 387.6,132.5 387.5,133.4 387.2,134.0 386.8,134.8 386.4,135.2 386.0,135.8 385.5,136.2 384.8,136.8 384.2,137.1 383.5,137.4 382.8,137.7 382.0,137.8ZM382.8,135.8 381.8,135.8 381.0,135.5 380.5,135.2 380.0,134.6 379.8,133.8 379.8,133.2 380.0,132.5 380.5,131.8 381.0,131.3 381.5,131.0 382.2,130.6 383.0,130.5 383.9,130.5 384.6,130.8 385.2,131.2 385.5,131.8 385.7,132.8 385.5,133.5 385.1,134.2 384.6,134.8 384.0,135.2 383.5,135.5 382.8,135.8Z" fill="none" stroke="#262626" stroke-width="1.0"/>
<path d="M389.2,334.3 388.2,334.3 387.2,334.3 386.2,334.3 385.2,334.3 384.2,334.3 383.2,334.3 382.2,334.3 381.2,334.3 380.2,334.3 379.2,334.3 378.2,334.3 377.2,334.3 376.2,334.3 375.2,334.3 374.5,334.0 373.5,334.0 372.5,334.0 371.5,334.0 370.8,333.8 369.8,333.8 369.0,333.8 368.0,333.5 367.2,333.5 366.2,333.3 365.5,333.0 364.7,333.0 364.0,332.8 363.0,332.5 362.5,332.2 361.8,331.8 361.0,331.5 360.5,331.2 360.0,330.8 359.5,330.0 359.2,329.5 358.8,328.8 358.5,328.2 358.0,327.8 357.7,327.0 357.2,326.5 356.8,325.8 356.5,325.2 356.0,324.8 355.5,324.0 355.2,323.5 354.7,323.0 354.2,322.3 354.0,321.8 353.5,321.2 353.0,320.5 352.7,320.0 352.2,319.5 351.8,318.8 351.2,318.3 351.0,317.8 350.5,317.2 350.0,316.5 349.7,316.0 349.2,315.5 348.8,314.8 348.5,314.2 348.2,313.5 348.0,312.8 347.7,312.0 347.7,311.0 347.5,310.2 347.5,309.2 347.2,308.5 347.2,307.5 347.2,306.5 347.0,305.8 347.0,304.8 347.0,303.8 347.0,302.8 346.8,301.8 346.7,301.0 346.7,300.0 346.7,299.0 346.7,298.0 346.7,297.0 346.7,296.0 346.7,295.0 346.7,294.0 346.7,293.0 346.7,292.0 346.7,291.0 346.7,290.0 346.7,289.0 346.7,288.0 346.7,287.0 346.7,286.0 347.0,285.2 347.0,284.2 347.0,283.2 347.0,282.2 347.2,281.5 347.2,280.5 347.2,279.7 347.5,278.8 347.7,278.0 347.8,277.2 348.0,276.5 348.5,275.8 349.0,275.2 349.5,275.2 350.3,275.5 351.2,275.7 352.2,275.7 353.2,275.7 354.0,275.5 354.8,275.2 355.5,274.8 356.0,274.5 356.5,274.0 357.2,273.5 357.8,273.2 358.5,272.8 359.0,272.5 359.5,272.0 360.2,271.7 360.8,271.2 361.5,270.8 362.0,270.5 362.7,270.0 363.2,269.7 364.0,269.5 364.5,269.0 365.2,268.7 366.0,268.5 366.7,268.0 367.5,267.8 368.0,267.5 368.8,267.2 369.5,267.0 370.2,266.7 371.2,266.5 372.0,266.2 372.8,266.2 373.5,266.0 374.2,265.7 375.2,265.5 376.0,265.5 376.8,265.2 377.7,265.0 378.5,265.0 379.2,264.7 380.2,264.7 381.0,264.5 382.0,264.5 383.0,264.2 383.8,264.2 384.7,264.0 385.5,264.0 386.2,263.7 387.2,263.7 388.0,263.5 389.0,263.5 389.8,263.2 390.7,263.0 391.5,263.0 392.2,262.7 393.2,262.5 394.0,262.5 394.8,262.2 395.5,262.0 396.2,261.7 397.2,261.5 398.0,261.2 398.5,261.0 399.2,260.7 400.0,260.5 400.7,260.0 401.2,259.7 402.0,259.5 402.8,259.2 403.5,259.0 404.2,258.7 405.0,258.2 405.7,258.0 406.5,257.8 407.2,257.7 408.0,257.5 408.8,257.2 409.5,257.0 410.2,256.7 411.0,256.5 411.8,256.2 412.7,256.0 413.5,256.0 414.2,255.7 415.0,255.5 416.0,255.2 416.8,255.2 417.5,255.0 418.5,254.8 419.2,254.7 420.0,254.5 421.0,254.5 421.8,254.2 422.8,254.2 423.8,254.2 424.8,254.2 425.5,254.0 426.5,254.0 427.5,254.0 428.5,254.0 429.5,254.0 430.2,254.2 431.2,254.2 432.2,254.2 433.2,254.2 434.0,254.5 435.0,254.5 436.0,254.5 436.8,254.7 437.8,254.7 438.5,255.0 439.3,255.0 440.2,255.2 441.0,255.5 441.8,255.5 442.8,255.7 443.5,256.0 444.2,256.2 445.0,256.5 445.8,256.5 446.5,256.8 447.3,257.0 448.0,257.2 448.8,257.7 449.5,258.0 450.2,258.2 450.8,258.5 451.5,259.0 452.0,259.2 452.8,259.7 453.3,260.0 454.0,260.5 454.5,261.0 455.0,261.2 455.5,261.8 456.0,262.2 456.5,262.8 457.0,263.5 457.5,264.0 457.8,264.5 458.2,265.2 458.5,265.8 458.8,266.5 459.0,267.2 459.3,268.0 459.3,269.0 459.5,269.8 459.3,270.5 459.3,271.5 459.0,272.2 458.8,273.0 458.5,273.8 458.3,274.5 458.0,275.0 457.5,275.8 457.2,276.3 456.8,276.8 456.3,277.5 455.8,278.0 455.5,278.5 455.0,279.0 454.5,279.5 454.0,280.0 453.5,280.5 453.0,281.0 452.5,281.5 451.8,282.0 451.3,282.5 450.8,283.0 450.2,283.3 449.8,283.8 449.0,284.2 448.5,284.8 448.0,285.0 447.5,285.5 446.8,286.0 446.2,286.3 445.8,286.8 445.0,287.2 444.5,287.8 444.0,288.0 443.5,288.5 442.8,289.0 442.2,289.3 441.8,289.8 441.0,290.2 440.5,290.5 439.8,291.0 439.2,291.3 438.8,291.8 438.0,292.2 437.5,292.5 437.0,293.0 436.3,293.5 435.8,293.8 435.0,294.2 434.5,294.5 434.0,295.0 433.2,295.3 432.8,295.8 432.0,296.2 431.5,296.5 430.8,297.0 430.2,297.3 429.5,297.8 429.0,298.0 428.5,298.5 427.8,298.8 427.2,299.3 426.5,299.8 426.0,300.0 425.3,300.5 424.8,300.8 424.2,301.3 423.5,301.8 423.0,302.0 422.3,302.5 421.8,302.8 421.2,303.3 420.5,303.8 420.0,304.0 419.5,304.5 418.8,305.0 418.2,305.3 417.5,305.8 417.0,306.2 416.5,306.5 416.0,307.0 415.3,307.5 414.8,308.0 414.2,308.3 413.8,308.8 413.0,309.2 412.5,309.8 412.0,310.2 411.5,310.5 411.0,311.0 410.5,311.5 410.0,312.0 409.5,312.5 409.0,313.0 408.5,313.5 408.0,314.0 407.5,314.5 407.0,315.2 406.5,315.8 406.2,316.3 405.8,317.0 405.5,317.5 405.0,318.2 404.8,318.8 404.3,319.5 404.0,320.2 403.8,321.0 403.5,321.8 403.3,322.5 403.0,323.2 403.0,324.0 402.8,325.0 402.5,325.8 402.3,326.5 402.3,327.5 402.3,328.5 402.0,329.2 402.0,330.2 402.0,331.0 401.5,331.8 401.0,332.0 400.3,332.5 399.5,332.8 398.8,333.0 398.0,333.0 397.2,333.3 396.5,333.5 395.5,333.5 394.8,333.8 393.8,333.8 392.8,334.0 392.0,334.0 391.0,334.0 390.0,334.0 389.2,334.3ZM388.2,331.3 387.2,331.3 386.2,331.3 385.2,331.4 384.2,331.4 383.2,331.4 382.2,331.4 381.2,331.4 380.2,331.4 379.2,331.4 378.2,331.4 377.2,331.3 376.2,331.3 375.5,331.2 374.5,331.1 373.5,331.1 372.5,331.1 371.8,330.9 370.8,330.8 369.9,330.8 369.0,330.6 368.2,330.5 367.2,330.3 366.5,330.1 365.8,330.0 365.0,329.7 364.2,329.5 363.5,329.1 363.0,328.8 362.4,328.2 362.0,327.8 361.5,327.1 361.1,326.5 360.7,326.0 360.2,325.3 359.9,324.8 359.5,324.2 359.0,323.5 358.7,323.0 358.2,322.4 357.8,321.8 357.4,321.2 357.0,320.7 356.5,320.0 356.1,319.5 355.8,318.9 355.3,318.2 354.9,317.8 354.5,317.2 354.0,316.5 353.7,316.0 353.2,315.5 352.8,314.8 352.3,314.2 352.0,313.8 351.5,313.0 351.2,312.5 351.0,311.8 350.7,311.0 350.5,310.0 350.4,309.2 350.3,308.2 350.2,307.5 350.1,306.5 350.0,305.5 349.9,304.8 349.9,303.8 349.9,302.8 349.8,301.8 349.7,301.0 349.7,300.0 349.7,299.0 349.6,298.0 349.6,297.0 349.6,296.0 349.6,295.0 349.6,294.0 349.6,293.0 349.7,292.0 349.7,291.0 349.7,290.0 349.7,289.0 349.7,288.0 349.7,287.0 349.8,286.2 349.9,285.2 349.9,284.2 350.0,283.2 350.1,282.5 350.2,281.6 350.4,280.8 350.7,280.0 351.0,279.5 351.8,279.1 352.5,278.9 353.3,278.8 354.2,278.5 355.0,278.2 355.6,278.0 356.2,277.7 357.0,277.3 357.6,277.0 358.2,276.6 358.9,276.2 359.5,275.9 360.1,275.5 360.8,275.1 361.4,274.8 362.0,274.3 362.6,274.0 363.2,273.6 363.8,273.2 364.5,272.8 365.1,272.5 365.8,272.1 366.4,271.8 367.0,271.5 367.8,271.1 368.5,270.8 369.2,270.5 370.0,270.3 370.8,270.0 371.5,269.8 372.2,269.6 373.0,269.4 373.8,269.2 374.5,269.0 375.5,268.8 376.2,268.6 377.0,268.5 378.0,268.3 378.8,268.2 379.8,268.0 380.5,267.9 381.5,267.8 382.2,267.6 383.1,267.5 384.0,267.4 384.8,267.2 385.8,267.1 386.5,267.0 387.5,266.8 388.2,266.7 389.2,266.5 390.0,266.4 390.8,266.2 391.8,266.1 392.5,265.9 393.3,265.8 394.2,265.5 395.0,265.4 395.8,265.2 396.5,265.0 397.4,264.8 398.2,264.5 399.0,264.2 399.7,264.0 400.3,263.8 401.0,263.5 401.8,263.2 402.5,262.8 403.2,262.5 403.8,262.2 404.5,261.9 405.2,261.6 406.0,261.4 406.8,261.1 407.5,260.8 408.2,260.6 409.0,260.3 409.8,260.1 410.5,259.9 411.2,259.7 412.0,259.5 412.8,259.2 413.8,259.0 414.5,258.8 415.2,258.7 416.0,258.5 417.0,258.3 417.8,258.1 418.5,258.0 419.5,257.8 420.2,257.7 421.2,257.6 422.0,257.5 423.0,257.4 424.0,257.3 424.8,257.2 425.8,257.1 426.8,257.1 427.8,257.1 428.8,257.1 429.8,257.2 430.8,257.2 431.6,257.2 432.5,257.3 433.5,257.4 434.3,257.5 435.2,257.6 436.2,257.8 437.0,257.9 437.8,258.0 438.8,258.2 439.5,258.3 440.4,258.5 441.2,258.7 442.0,258.8 442.8,259.0 443.7,259.2 444.5,259.5 445.2,259.7 446.0,260.0 446.8,260.2 447.4,260.5 448.0,260.8 448.8,261.1 449.5,261.5 450.0,261.8 450.8,262.2 451.2,262.6 451.8,263.0 452.4,263.5 453.0,264.0 453.5,264.5 453.9,265.0 454.3,265.5 454.7,266.2 455.0,266.8 455.3,267.5 455.5,268.2 455.7,269.2 455.8,270.0 455.8,271.0 455.6,271.8 455.4,272.5 455.1,273.2 454.8,273.9 454.4,274.5 454.0,275.2 453.6,275.8 453.2,276.2 452.8,276.9 452.2,277.5 451.8,278.0 451.2,278.5 450.8,279.0 450.2,279.3 449.8,279.8 449.2,280.2 448.5,280.7 448.0,281.1 447.5,281.5 446.9,282.0 446.2,282.5 445.8,282.8 445.2,283.2 444.5,283.8 444.0,284.1 443.5,284.5 442.8,285.0 442.2,285.4 441.8,285.8 441.1,286.2 440.5,286.7 440.0,287.0 439.3,287.5 438.8,287.9 438.2,288.3 437.5,288.8 437.0,289.1 436.5,289.5 435.8,290.0 435.2,290.3 434.6,290.8 434.0,291.2 433.5,291.5 432.8,292.0 432.2,292.3 431.5,292.8 431.0,293.1 430.4,293.5 429.8,293.9 429.1,294.2 428.5,294.7 427.9,295.0 427.2,295.4 426.7,295.8 426.0,296.2 425.5,296.5 424.8,297.0 424.2,297.4 423.7,297.8 423.0,298.2 422.5,298.5 421.8,299.0 421.2,299.4 420.7,299.8 420.0,300.2 419.5,300.5 418.8,301.0 418.2,301.4 417.8,301.8 417.1,302.2 416.5,302.7 416.0,303.0 415.4,303.5 414.8,304.0 414.2,304.3 413.7,304.8 413.1,305.2 412.5,305.7 412.0,306.1 411.5,306.5 410.9,307.0 410.3,307.5 409.8,308.0 409.2,308.5 408.8,308.9 408.2,309.4 407.8,309.9 407.2,310.4 406.8,310.9 406.2,311.4 405.8,311.9 405.2,312.5 404.8,313.0 404.4,313.5 404.0,314.1 403.5,314.8 403.2,315.2 402.8,316.0 402.5,316.5 402.1,317.2 401.8,317.9 401.5,318.5 401.2,319.2 400.9,320.0 400.6,320.8 400.4,321.5 400.2,322.2 400.0,323.0 399.8,324.0 399.6,324.8 399.4,325.5 399.2,326.3 399.1,327.2 398.8,328.0 398.6,328.8 398.2,329.3 397.6,329.8 397.0,330.0 396.2,330.2 395.3,330.5 394.5,330.6 393.8,330.8 392.8,330.9 391.9,331.0 391.0,331.1 390.0,331.1 389.0,331.2 388.2,331.3ZM388.2,330.5 387.2,330.6 386.2,330.6 385.2,330.7 384.2,330.7 383.2,330.7 382.2,330.7 381.2,330.7 380.2,330.7 379.2,330.7 378.2,330.7 377.2,330.6 376.2,330.6 375.5,330.5 374.5,330.4 373.5,330.3 372.5,330.3 371.8,330.1 370.8,330.0 370.0,329.9 369.2,329.7 368.2,329.6 367.5,329.4 366.8,329.2 365.9,329.0 365.2,328.7 364.5,328.4 364.0,328.0 363.5,327.5 363.0,326.8 362.6,326.2 362.2,325.7 361.8,325.0 361.5,324.5 361.0,323.8 360.7,323.2 360.2,322.5 359.9,322.0 359.5,321.5 359.0,320.9 358.5,320.3 358.1,319.8 357.7,319.2 357.2,318.6 356.9,318.0 356.5,317.4 356.1,316.8 355.8,316.0 355.4,315.5 355.0,314.8 354.6,314.2 354.2,313.8 353.7,313.2 353.2,312.7 352.7,312.2 352.2,311.7 351.9,311.0 351.6,310.2 351.3,309.5 351.2,308.8 351.0,307.8 350.9,307.0 350.8,306.0 350.7,305.2 350.6,304.2 350.6,303.2 350.5,302.2 350.5,301.5 350.4,300.5 350.3,299.5 350.3,298.5 350.3,297.5 350.3,296.5 350.4,295.5 350.4,294.5 350.4,293.5 350.4,292.5 350.5,291.5 350.5,290.7 350.5,289.8 350.6,288.8 350.6,287.8 350.7,286.8 350.8,286.0 350.9,285.0 350.9,284.0 350.9,283.0 351.0,282.2 351.2,281.2 351.5,280.6 352.0,280.1 352.8,280.0 353.8,279.8 354.5,279.6 355.2,279.3 356.0,279.1 356.8,278.8 357.4,278.5 358.0,278.2 358.8,277.9 359.5,277.5 360.0,277.2 360.8,276.9 361.5,276.5 362.1,276.2 362.8,275.9 363.4,275.5 364.0,275.1 364.6,274.8 365.2,274.3 365.8,273.9 366.4,273.5 367.0,273.1 367.7,272.8 368.2,272.5 369.0,272.2 369.8,271.9 370.5,271.7 371.2,271.4 372.0,271.2 372.9,271.0 373.8,270.8 374.5,270.6 375.2,270.4 376.0,270.2 377.0,270.1 377.8,270.0 378.8,269.9 379.8,269.8 380.5,269.7 381.5,269.6 382.2,269.4 383.2,269.2 384.0,269.1 384.8,268.9 385.5,268.7 386.4,268.5 387.2,268.3 388.0,268.2 389.0,268.0 389.8,267.9 390.6,267.8 391.5,267.6 392.3,267.5 393.2,267.3 394.0,267.2 394.8,267.0 395.8,266.8 396.5,266.6 397.2,266.5 398.2,266.2 399.0,266.1 399.8,265.9 400.5,265.7 401.2,265.5 402.0,265.2 402.8,264.9 403.4,264.5 404.0,264.1 404.7,263.8 405.2,263.4 406.0,263.0 406.5,262.8 407.2,262.4 408.0,262.1 408.8,261.8 409.4,261.5 410.1,261.2 410.8,261.0 411.6,260.8 412.4,260.5 413.2,260.3 414.0,260.1 414.8,259.9 415.5,259.7 416.5,259.5 417.2,259.3 418.0,259.2 419.0,259.1 419.8,259.0 420.8,258.8 421.5,258.7 422.5,258.6 423.5,258.5 424.2,258.4 425.2,258.4 426.2,258.3 427.0,258.2 428.0,258.2 429.0,258.2 429.8,258.3 430.8,258.3 431.8,258.3 432.8,258.4 433.5,258.5 434.5,258.6 435.3,258.8 436.2,258.9 437.0,259.0 438.0,259.2 438.8,259.4 439.5,259.5 440.5,259.7 441.2,259.9 442.0,260.0 443.0,260.2 443.8,260.5 444.5,260.7 445.2,261.0 446.0,261.2 446.6,261.5 447.2,261.8 448.0,262.2 448.5,262.5 449.2,263.0 449.8,263.4 450.2,263.8 450.8,264.3 451.3,264.8 451.8,265.3 452.2,265.9 452.7,266.5 453.0,267.0 453.4,267.8 453.6,268.5 453.8,269.2 454.0,270.2 453.9,271.2 453.7,272.0 453.5,272.8 453.1,273.5 452.8,274.2 452.5,274.9 452.2,275.5 451.9,276.2 451.5,277.0 451.1,277.5 450.6,278.0 450.1,278.5 449.5,278.9 449.0,279.3 448.3,279.8 447.8,280.1 447.1,280.5 446.5,280.9 445.9,281.2 445.2,281.7 444.7,282.0 444.0,282.5 443.5,282.9 443.0,283.3 442.3,283.8 441.8,284.2 441.2,284.5 440.6,285.0 440.0,285.4 439.5,285.8 438.8,286.2 438.2,286.6 437.6,287.0 437.0,287.4 436.5,287.8 435.8,288.2 435.2,288.6 434.7,289.0 434.0,289.4 433.5,289.8 432.8,290.2 432.2,290.6 431.5,291.0 431.0,291.3 430.2,291.7 429.8,292.0 429.0,292.5 428.5,292.8 427.8,293.2 427.2,293.5 426.5,293.9 425.9,294.2 425.2,294.6 424.7,295.0 424.0,295.5 423.5,295.9 423.0,296.2 422.3,296.8 421.8,297.2 421.2,297.5 420.5,298.0 420.0,298.4 419.4,298.8 418.8,299.2 418.2,299.5 417.6,300.0 417.0,300.4 416.5,300.8 415.8,301.2 415.2,301.7 414.8,302.0 414.1,302.5 413.5,303.0 413.0,303.3 412.4,303.8 411.8,304.2 411.2,304.6 410.7,305.0 410.1,305.5 409.5,306.0 409.0,306.5 408.5,306.9 408.0,307.4 407.5,307.9 407.0,308.3 406.5,308.8 405.9,309.2 405.3,309.8 404.8,310.2 404.3,310.8 403.8,311.2 403.4,311.8 403.0,312.3 402.6,313.0 402.2,313.6 401.9,314.2 401.5,315.0 401.2,315.5 400.9,316.2 400.5,317.0 400.2,317.6 400.0,318.3 399.7,319.0 399.5,319.8 399.2,320.5 399.0,321.3 398.8,322.1 398.5,323.0 398.3,323.8 398.1,324.5 398.0,325.2 397.8,326.2 397.7,327.0 397.5,327.9 397.2,328.5 396.6,329.0 396.0,329.3 395.2,329.5 394.3,329.8 393.5,329.9 392.8,330.0 391.8,330.2 391.0,330.3 390.0,330.3 389.0,330.4 388.2,330.5ZM385.2,330.0 384.2,330.0 383.2,330.1 382.2,330.1 381.2,330.1 380.2,330.1 379.2,330.0 378.5,330.0 377.5,329.9 376.5,329.9 375.6,329.8 374.8,329.7 373.8,329.6 372.8,329.5 372.0,329.3 371.2,329.2 370.4,329.0 369.6,328.8 368.8,328.5 368.0,328.3 367.2,328.0 366.5,327.8 365.9,327.5 365.2,327.1 364.8,326.7 364.2,326.1 363.8,325.5 363.5,325.0 363.0,324.2 362.7,323.8 362.2,323.0 361.9,322.5 361.5,321.8 361.2,321.2 360.8,320.6 360.3,320.0 359.9,319.5 359.4,319.0 359.0,318.5 358.5,317.8 358.1,317.2 357.8,316.6 357.4,316.0 357.0,315.3 356.7,314.8 356.2,314.0 355.9,313.5 355.5,312.9 355.0,312.2 354.7,311.8 354.2,311.1 353.9,310.5 353.5,309.9 353.1,309.2 352.8,308.5 352.5,308.0 352.1,307.2 352.0,306.5 351.8,305.6 351.5,304.8 351.5,304.0 351.4,303.0 351.3,302.0 351.2,301.2 351.1,300.2 351.1,299.2 351.1,298.2 351.1,297.2 351.1,296.2 351.1,295.2 351.2,294.2 351.2,293.2 351.3,292.5 351.4,291.5 351.5,290.8 351.6,289.8 351.7,288.8 351.8,288.0 351.9,287.0 352.1,286.2 352.2,285.2 352.1,284.2 352.0,283.5 352.0,282.8 352.2,281.8 352.5,281.0 353.2,280.8 354.0,280.6 354.8,280.4 355.5,280.1 356.2,279.9 357.0,279.6 357.8,279.3 358.5,279.1 359.2,278.8 359.9,278.5 360.5,278.2 361.2,278.0 362.0,277.6 362.8,277.3 363.5,277.0 364.0,276.7 364.8,276.3 365.2,275.9 365.9,275.5 366.5,275.1 367.0,274.7 367.7,274.2 368.2,274.0 369.0,273.6 369.8,273.3 370.5,273.1 371.2,272.9 372.0,272.7 372.8,272.5 373.8,272.3 374.5,272.1 375.2,272.0 376.2,271.8 377.0,271.7 378.0,271.6 378.8,271.5 379.8,271.4 380.7,271.2 381.5,271.1 382.2,271.0 383.2,270.8 384.0,270.6 384.8,270.4 385.5,270.2 386.5,270.0 387.2,269.8 388.0,269.7 389.0,269.5 389.8,269.4 390.8,269.4 391.8,269.3 392.7,269.2 393.5,269.1 394.2,268.8 395.0,268.6 395.8,268.3 396.5,268.1 397.2,267.9 398.0,267.7 399.0,267.5 399.8,267.4 400.6,267.2 401.5,267.1 402.2,266.9 403.0,266.6 403.8,266.3 404.3,266.0 405.0,265.6 405.5,265.2 406.2,264.8 406.8,264.4 407.4,264.0 408.0,263.7 408.7,263.2 409.2,262.9 410.0,262.5 410.5,262.2 411.2,261.9 412.0,261.6 412.8,261.4 413.5,261.1 414.2,260.9 415.0,260.7 415.8,260.5 416.8,260.3 417.5,260.1 418.2,260.0 419.2,259.9 420.0,259.7 421.0,259.6 422.0,259.5 422.8,259.4 423.8,259.3 424.5,259.2 425.5,259.2 426.5,259.1 427.5,259.1 428.5,259.0 429.5,259.1 430.5,259.1 431.5,259.1 432.5,259.2 433.2,259.3 434.2,259.4 435.0,259.5 436.0,259.7 436.8,259.8 437.5,260.0 438.5,260.2 439.2,260.4 440.0,260.5 441.0,260.7 441.8,260.9 442.5,261.1 443.2,261.3 444.0,261.6 444.8,261.9 445.5,262.2 446.0,262.5 446.7,263.0 447.2,263.4 447.8,263.8 448.2,264.3 448.8,264.8 449.3,265.2 449.8,265.8 450.2,266.3 450.8,266.8 451.2,267.5 451.6,268.0 451.9,268.8 452.1,269.5 452.2,270.5 452.0,271.5 451.8,272.2 451.5,272.8 451.1,273.5 450.9,274.2 450.8,275.2 450.7,276.0 450.4,276.8 450.0,277.4 449.5,278.0 449.0,278.4 448.5,278.8 447.8,279.2 447.2,279.5 446.5,280.0 446.0,280.2 445.2,280.6 444.6,281.0 444.0,281.3 443.3,281.8 442.8,282.1 442.2,282.5 441.5,283.0 441.0,283.3 440.4,283.8 439.8,284.2 439.2,284.5 438.5,285.0 438.0,285.3 437.2,285.7 436.7,286.0 436.0,286.4 435.4,286.8 434.8,287.2 434.2,287.5 433.5,287.9 433.0,288.3 432.2,288.7 431.8,289.0 431.0,289.5 430.5,289.8 429.8,290.2 429.2,290.5 428.5,291.0 428.0,291.3 427.2,291.7 426.8,292.0 426.0,292.4 425.5,292.8 424.8,293.2 424.2,293.5 423.5,294.0 423.0,294.4 422.5,294.8 421.9,295.2 421.2,295.7 420.8,296.1 420.2,296.5 419.5,297.0 419.0,297.3 418.2,297.7 417.8,298.0 417.0,298.4 416.5,298.8 415.8,299.2 415.2,299.5 414.6,300.0 414.0,300.4 413.5,300.8 412.8,301.2 412.2,301.7 411.8,302.0 411.2,302.5 410.5,303.0 410.0,303.4 409.5,303.8 408.9,304.2 408.3,304.8 407.8,305.2 407.2,305.7 406.8,306.2 406.2,306.7 405.8,307.1 405.2,307.5 404.6,308.0 404.0,308.5 403.5,308.9 403.0,309.4 402.5,309.9 402.0,310.5 401.7,311.0 401.3,311.8 401.0,312.3 400.7,313.0 400.3,313.8 400.0,314.5 399.7,315.0 399.4,315.8 399.1,316.5 398.8,317.2 398.5,318.0 398.3,318.8 398.1,319.5 397.8,320.2 397.6,321.0 397.3,321.8 397.0,322.5 396.8,323.2 396.6,324.0 396.4,324.8 396.2,325.6 396.2,326.5 396.0,327.5 395.6,328.0 395.0,328.4 394.2,328.7 393.5,329.0 392.8,329.1 392.0,329.3 391.0,329.5 390.2,329.6 389.2,329.6 388.5,329.8 387.5,329.9 386.5,329.9 385.5,330.0ZM385.5,329.3 384.5,329.3 383.5,329.4 382.5,329.4 381.5,329.4 380.5,329.3 379.5,329.3 378.8,329.2 377.8,329.1 376.8,329.0 376.0,328.8 375.2,328.7 374.2,328.5 373.5,328.4 372.7,328.2 372.0,327.9 371.2,327.5 370.7,327.2 370.0,326.8 369.3,326.5 368.6,326.2 367.8,326.0 367.1,325.8 366.5,325.5 365.8,325.0 365.2,324.6 364.8,324.1 364.3,323.5 364.0,323.0 363.6,322.2 363.2,321.7 362.9,321.0 362.5,320.2 362.2,319.8 361.8,319.0 361.3,318.5 360.9,318.0 360.5,317.5 360.0,317.0 359.5,316.4 359.0,315.8 358.6,315.2 358.2,314.7 357.8,314.0 357.5,313.5 357.0,312.8 356.6,312.2 356.2,311.6 355.9,311.0 355.5,310.2 355.3,309.5 355.0,308.8 354.9,308.0 354.7,307.2 354.6,306.2 354.5,305.3 354.4,304.5 354.4,303.5 354.3,302.5 354.3,301.5 354.2,300.8 354.1,299.8 354.0,299.0 353.8,298.0 353.5,297.2 353.4,296.5 353.3,295.5 353.5,294.5 353.7,293.8 353.8,293.0 354.0,292.0 354.0,291.2 354.0,290.2 354.0,289.4 353.9,288.5 353.9,287.5 353.9,286.5 353.9,285.5 353.8,284.7 353.5,283.8 353.3,283.0 353.4,282.0 354.0,281.6 354.8,281.3 355.4,281.0 356.0,280.8 356.8,280.5 357.5,280.2 358.2,279.9 359.0,279.6 359.8,279.4 360.5,279.1 361.2,278.8 362.0,278.6 362.8,278.3 363.5,278.1 364.2,277.8 365.0,277.5 365.5,277.2 366.2,276.8 366.8,276.5 367.5,276.1 368.0,275.8 368.8,275.4 369.5,275.0 370.2,274.8 371.0,274.5 371.8,274.3 372.5,274.1 373.2,273.9 374.2,273.8 375.0,273.6 375.8,273.4 376.8,273.3 377.5,273.2 378.4,273.0 379.2,272.9 380.0,272.7 381.0,272.5 381.8,272.4 382.5,272.2 383.5,272.0 384.2,271.8 385.0,271.7 386.0,271.5 386.8,271.4 387.6,271.2 388.5,271.1 389.5,271.1 390.5,271.1 391.5,271.1 392.5,271.1 393.2,270.9 394.0,270.7 394.8,270.4 395.5,270.1 396.2,269.8 397.0,269.5 397.8,269.3 398.5,269.1 399.2,268.9 400.1,268.8 401.0,268.6 401.8,268.4 402.5,268.2 403.2,267.9 404.0,267.7 404.8,267.4 405.5,267.0 406.0,266.7 406.8,266.3 407.2,266.0 408.0,265.5 408.5,265.2 409.2,264.8 409.8,264.4 410.2,264.0 410.8,263.5 411.5,263.1 412.0,262.8 412.8,262.4 413.5,262.0 414.1,261.8 414.8,261.5 415.6,261.2 416.5,261.0 417.2,260.9 418.0,260.7 419.0,260.6 419.8,260.4 420.8,260.3 421.5,260.2 422.5,260.1 423.2,260.0 424.2,259.9 425.2,259.8 426.2,259.8 427.0,259.7 428.0,259.7 429.0,259.7 430.0,259.7 431.0,259.7 431.8,259.8 432.8,259.8 433.8,260.0 434.5,260.1 435.5,260.2 436.2,260.4 437.0,260.6 437.8,260.8 438.7,261.0 439.5,261.2 440.2,261.4 441.0,261.6 441.8,261.8 442.5,262.1 443.2,262.4 443.9,262.8 444.5,263.1 445.0,263.5 445.6,264.0 446.1,264.5 446.7,265.0 447.2,265.5 447.8,265.9 448.2,266.4 448.8,266.8 449.2,267.4 449.8,268.0 450.1,268.5 450.4,269.2 450.5,270.0 450.5,270.8 450.2,271.5 449.9,272.2 449.5,272.8 449.1,273.5 448.8,274.2 449.0,275.2 449.2,276.0 449.1,277.0 448.8,277.5 448.2,278.0 447.7,278.5 447.0,279.0 446.5,279.3 445.8,279.7 445.1,280.0 444.5,280.3 443.8,280.7 443.2,281.0 442.5,281.3 441.8,281.8 441.2,282.0 440.5,282.5 440.0,282.8 439.2,283.2 438.7,283.5 438.0,283.9 437.2,284.2 436.7,284.5 436.0,284.8 435.2,285.1 434.5,285.4 433.8,285.8 433.2,286.0 432.5,286.5 432.0,286.8 431.2,287.2 430.8,287.5 430.0,288.0 429.5,288.3 428.9,288.8 428.2,289.2 427.8,289.6 427.1,290.0 426.5,290.4 426.0,290.8 425.2,291.2 424.7,291.5 424.0,291.9 423.4,292.2 422.8,292.6 422.2,293.0 421.5,293.5 421.0,293.9 420.5,294.3 419.8,294.8 419.2,295.1 418.5,295.5 417.8,295.7 417.0,295.8 416.2,295.7 415.5,295.2 415.3,294.5 415.5,293.5 415.6,292.8 415.5,292.0 415.0,291.4 414.2,291.5 413.8,292.1 413.4,292.8 413.1,293.5 412.8,294.2 412.5,294.9 412.2,295.5 411.8,296.2 411.5,296.8 411.2,297.5 411.0,298.2 410.7,299.0 410.3,299.8 410.0,300.3 409.5,300.9 409.0,301.4 408.5,301.9 408.0,302.4 407.5,302.8 407.0,303.3 406.5,303.8 406.0,304.3 405.5,304.9 405.0,305.4 404.5,305.9 404.0,306.4 403.5,306.8 403.0,307.3 402.5,307.8 402.0,308.2 401.5,308.8 401.0,309.4 400.5,310.0 400.2,310.5 399.8,311.2 399.4,311.8 399.0,312.5 398.7,313.0 398.3,313.8 398.0,314.3 397.6,315.0 397.3,315.8 397.1,316.5 396.9,317.2 396.7,318.0 396.5,318.9 396.2,319.7 396.0,320.3 395.7,321.0 395.3,321.8 395.0,322.5 394.8,323.1 394.5,323.8 394.2,324.5 393.9,325.2 393.7,326.0 393.6,327.0 393.1,327.5 392.5,327.8 391.8,328.2 391.0,328.5 390.2,328.6 389.2,328.7 388.5,328.9 387.8,329.1 386.8,329.1 385.8,329.2ZM383.5,324.0 382.5,324.2 381.5,324.2 380.5,324.1 379.8,323.9 379.0,323.7 378.2,323.4 377.5,323.1 376.8,322.9 375.8,322.8 375.2,322.8 374.2,322.9 373.5,323.2 372.8,323.5 372.1,323.8 371.3,324.0 370.5,324.1 369.5,324.0 368.8,323.9 368.0,323.7 367.2,323.3 366.7,323.0 366.1,322.5 365.7,322.0 365.2,321.3 365.0,320.8 364.6,320.0 364.2,319.4 363.8,318.8 363.5,318.2 363.0,317.6 362.5,317.1 362.0,316.6 361.5,316.1 361.0,315.7 360.5,315.2 360.0,314.6 359.5,314.0 359.1,313.5 358.7,313.0 358.2,312.3 357.9,311.8 357.5,311.1 357.2,310.5 356.9,309.8 356.6,309.0 356.4,308.2 356.3,307.2 356.2,306.5 356.1,305.5 356.0,304.5 356.0,303.5 356.0,302.6 356.0,301.8 355.9,300.8 355.9,299.8 355.8,298.8 355.6,298.0 355.5,297.0 355.5,296.2 355.4,295.2 355.5,294.2 355.5,293.5 355.6,292.5 355.6,291.5 355.6,290.5 355.5,289.5 355.5,288.8 355.4,287.8 355.4,286.8 355.5,285.8 355.5,284.8 355.3,283.8 355.0,283.0 355.0,282.4 355.5,281.9 356.2,281.5 356.8,281.2 357.5,280.9 358.2,280.6 359.0,280.3 359.8,280.0 360.5,279.8 361.2,279.6 362.0,279.4 362.8,279.2 363.5,279.0 364.3,278.8 365.1,278.5 365.8,278.2 366.5,278.0 367.2,277.7 368.0,277.4 368.8,277.1 369.5,276.9 370.2,276.6 371.0,276.4 371.8,276.1 372.5,275.9 373.2,275.7 374.1,275.5 375.0,275.3 375.8,275.1 376.5,274.9 377.2,274.7 378.2,274.5 379.0,274.3 379.8,274.1 380.5,273.9 381.2,273.7 382.1,273.5 383.0,273.3 383.8,273.2 384.7,273.0 385.5,272.9 386.5,272.8 387.2,272.7 388.2,272.6 389.2,272.6 390.2,272.6 391.2,272.6 392.2,272.6 393.0,272.5 394.0,272.3 394.8,272.0 395.5,271.8 396.2,271.5 396.9,271.2 397.6,271.0 398.5,270.8 399.2,270.5 400.0,270.3 400.8,270.1 401.5,269.9 402.2,269.7 403.0,269.5 403.8,269.2 404.6,269.0 405.3,268.8 406.0,268.5 406.8,268.1 407.4,267.8 408.0,267.4 408.7,267.0 409.2,266.7 410.0,266.2 410.5,266.0 411.2,265.5 411.8,265.2 412.5,264.8 413.0,264.4 413.5,263.8 413.9,263.2 414.3,262.8 415.0,262.4 415.8,262.0 416.5,261.8 417.2,261.6 418.0,261.4 418.8,261.2 419.8,261.0 420.5,260.9 421.4,260.8 422.2,260.6 423.1,260.5 424.0,260.4 425.0,260.4 426.0,260.3 426.8,260.2 427.8,260.2 428.8,260.2 429.8,260.2 430.8,260.2 431.5,260.3 432.5,260.3 433.5,260.5 434.2,260.6 435.1,260.8 436.0,260.9 436.8,261.2 437.5,261.4 438.2,261.6 439.0,261.9 439.8,262.2 440.4,262.5 441.0,263.0 441.5,263.5 442.0,264.0 442.5,264.4 443.1,264.8 443.8,265.1 444.5,265.5 445.0,265.8 445.8,266.2 446.2,266.6 446.8,267.0 447.4,267.5 447.8,268.0 448.2,268.5 448.6,269.2 448.8,270.0 448.7,270.8 448.4,271.5 448.0,272.2 447.7,272.8 447.2,273.5 447.0,274.1 447.0,275.0 447.2,275.5 447.8,276.1 447.9,277.0 447.5,277.7 447.0,278.2 446.5,278.6 445.9,279.0 445.2,279.3 444.5,279.7 443.9,280.0 443.2,280.3 442.5,280.7 441.8,281.0 441.1,281.2 440.4,281.5 439.7,281.8 439.0,282.0 438.2,282.3 437.5,282.5 436.8,282.8 436.0,283.0 435.2,283.3 434.5,283.5 433.8,283.8 433.0,284.1 432.2,284.4 431.5,284.7 430.8,285.0 430.0,285.2 429.2,285.4 428.5,285.5 427.7,285.8 426.9,286.0 426.2,286.3 425.7,286.8 425.1,287.2 424.5,287.8 424.0,288.1 423.2,288.4 422.2,288.4 421.5,288.2 420.8,287.8 420.2,287.5 419.6,287.0 419.0,286.5 418.5,286.2 417.8,285.8 417.2,285.5 416.5,285.2 415.5,285.1 414.5,285.1 413.5,285.0 412.8,284.9 411.9,284.8 411.0,284.5 410.2,284.3 409.5,284.1 408.5,284.1 407.5,284.2 406.8,284.4 406.0,284.7 405.5,285.0 404.9,285.5 404.4,286.0 404.0,286.5 403.6,287.2 403.4,288.0 403.5,288.8 403.8,289.5 404.1,290.2 404.3,291.0 404.3,292.0 404.1,292.8 403.9,293.5 403.7,294.2 403.7,295.2 403.9,296.0 404.0,296.8 404.1,297.8 404.1,298.8 404.0,299.8 403.9,300.5 403.8,301.3 403.5,302.1 403.2,302.8 402.8,303.5 402.5,304.0 402.0,304.7 401.6,305.2 401.2,305.8 400.8,306.4 400.3,307.0 400.0,307.5 399.5,308.2 399.2,308.8 398.8,309.4 398.3,310.0 397.9,310.5 397.5,311.1 397.0,311.7 396.6,312.2 396.2,312.8 395.8,313.5 395.5,314.1 395.2,314.8 395.0,315.5 394.8,316.5 394.7,317.2 394.5,318.0 394.2,318.8 393.8,319.5 393.5,320.0 393.0,320.5 392.5,321.0 391.8,321.5 391.2,321.9 390.7,322.2 390.0,322.6 389.2,322.8 388.5,323.0 387.5,323.2 386.8,323.3 385.8,323.4 385.0,323.6 384.2,323.8 383.5,324.0ZM384.2,328.0 383.8,328.1 383.2,328.1 382.8,328.1 382.2,328.1 381.8,328.0 381.5,328.0 381.1,327.8 381.0,327.5 381.2,327.4 381.8,327.3 382.0,327.2 382.5,327.2 383.0,327.1 383.5,327.1 384.0,327.1 384.5,327.2 384.8,327.2 385.2,327.3 385.8,327.4 385.8,327.6 385.4,327.8 385.0,327.9 384.5,328.0 384.2,328.0ZM380.8,320.8 379.8,320.8 379.0,320.8 378.0,320.6 377.2,320.4 376.2,320.3 375.2,320.3 374.2,320.4 373.2,320.5 372.5,320.5 371.5,320.6 370.5,320.5 369.8,320.4 369.0,320.1 368.2,319.8 367.7,319.5 367.0,319.0 366.5,318.5 366.0,318.1 365.5,317.6 365.0,317.1 364.5,316.6 364.0,316.2 363.5,315.8 362.9,315.2 362.3,314.8 361.8,314.3 361.2,313.8 360.8,313.3 360.3,312.8 359.9,312.2 359.5,311.6 359.1,311.0 358.8,310.4 358.4,309.8 358.1,309.0 357.9,308.2 357.8,307.3 357.7,306.5 357.6,305.5 357.6,304.5 357.6,303.5 357.6,302.5 357.6,301.5 357.5,300.5 357.5,299.8 357.3,298.8 357.2,298.0 357.1,297.0 357.0,296.2 356.9,295.2 357.0,294.2 357.0,293.5 357.1,292.5 357.1,291.5 357.1,290.5 357.0,289.5 357.0,288.8 357.0,287.8 357.1,287.0 357.2,286.1 357.5,285.4 357.7,284.5 357.6,283.5 357.5,282.8 357.8,282.1 358.2,281.6 359.0,281.2 359.5,281.0 360.2,280.7 361.0,280.5 361.8,280.2 362.6,280.0 363.5,279.8 364.2,279.6 365.0,279.4 365.8,279.2 366.5,278.9 367.2,278.7 368.1,278.5 369.0,278.3 369.8,278.1 370.5,277.9 371.3,277.8 372.2,277.5 373.0,277.4 373.8,277.2 374.5,277.0 375.3,276.8 376.2,276.5 377.0,276.3 377.8,276.1 378.5,275.9 379.2,275.7 380.0,275.5 380.8,275.2 381.5,275.0 382.3,274.8 383.2,274.5 384.0,274.4 385.0,274.3 385.8,274.2 386.8,274.1 387.8,274.1 388.8,274.1 389.8,274.0 390.8,274.0 391.5,274.0 392.5,273.9 393.3,273.8 394.2,273.6 395.0,273.4 395.8,273.2 396.6,273.0 397.5,272.8 398.2,272.6 399.0,272.4 399.8,272.2 400.5,272.0 401.2,271.7 402.0,271.4 402.8,271.2 403.5,270.9 404.2,270.7 405.0,270.5 405.9,270.2 406.6,270.0 407.2,269.7 408.0,269.3 408.5,269.0 409.2,268.5 409.8,268.2 410.5,267.8 411.0,267.5 411.8,267.1 412.5,266.8 413.2,266.5 414.0,266.3 414.8,266.0 415.5,265.8 416.2,265.6 417.0,265.4 417.8,265.2 418.4,264.8 418.2,263.8 417.9,263.2 418.2,262.5 418.8,262.2 419.5,261.8 420.2,261.6 421.0,261.4 421.8,261.2 422.8,261.1 423.5,260.9 424.5,260.9 425.5,260.8 426.2,260.7 427.2,260.6 428.2,260.6 429.2,260.7 430.2,260.7 431.2,260.7 432.0,260.8 433.0,260.9 433.8,261.0 434.8,261.2 435.5,261.4 436.2,261.7 436.8,262.1 437.2,262.6 437.4,263.5 437.0,264.2 437.0,264.9 437.5,265.4 438.2,265.7 439.0,265.9 439.8,266.0 440.8,266.2 441.5,266.4 442.2,266.5 443.1,266.8 443.9,267.0 444.5,267.3 445.2,267.7 445.8,268.1 446.2,268.6 446.7,269.2 446.9,270.0 446.8,271.0 446.5,271.8 446.2,272.3 445.8,273.0 445.5,273.5 445.2,274.2 445.3,275.0 445.7,275.8 446.1,276.2 446.5,276.8 446.5,277.7 446.0,278.2 445.5,278.6 444.9,279.0 444.2,279.3 443.5,279.7 442.8,279.9 442.0,280.2 441.2,280.4 440.5,280.7 439.8,280.9 439.0,281.1 438.2,281.2 437.2,281.4 436.5,281.6 435.7,281.8 434.8,282.0 434.0,282.2 433.2,282.4 432.5,282.7 431.8,282.9 431.0,283.1 430.0,283.2 429.0,283.2 428.0,283.2 427.0,283.1 426.0,283.1 425.0,283.1 424.0,283.2 423.2,283.4 422.5,283.5 421.5,283.7 420.5,283.7 419.8,283.5 418.9,283.2 418.1,283.0 417.2,282.8 416.5,282.7 415.5,282.7 414.5,282.7 413.5,282.7 412.5,282.7 411.5,282.6 410.5,282.5 409.8,282.5 408.8,282.5 408.0,282.6 407.1,282.8 406.3,283.0 405.5,283.2 404.8,283.5 404.1,283.8 403.4,284.0 402.5,284.2 401.8,284.5 401.0,284.7 400.2,284.9 399.5,285.1 398.8,285.4 398.0,285.7 397.5,286.0 397.0,286.6 396.7,287.2 396.6,288.2 396.7,289.2 396.9,290.0 397.1,290.8 397.2,291.7 397.4,292.5 397.4,293.5 397.4,294.5 397.4,295.5 397.3,296.5 397.2,297.2 397.1,298.2 397.0,299.0 396.9,300.0 396.9,301.0 396.9,302.0 396.9,303.0 396.9,304.0 396.9,305.0 396.8,306.0 396.7,306.8 396.4,307.5 396.1,308.2 395.8,308.8 395.3,309.5 394.9,310.0 394.5,310.5 394.0,311.2 393.6,311.8 393.2,312.5 393.0,313.0 392.7,313.8 392.4,314.5 392.1,315.2 391.8,315.9 391.4,316.5 391.0,317.0 390.4,317.5 389.8,317.8 389.0,318.1 388.2,318.3 387.2,318.5 386.5,318.5 385.5,318.7 384.8,318.9 384.0,319.2 383.5,319.5 382.8,319.9 382.1,320.2 381.5,320.5 380.8,320.8ZM379.2,318.0 378.2,318.1 377.2,318.1 376.2,318.1 375.2,318.1 374.2,318.1 373.2,318.0 372.5,317.9 371.8,317.7 371.0,317.5 370.2,317.2 369.5,316.9 368.8,316.6 368.0,316.4 367.2,316.0 366.6,315.8 366.0,315.4 365.3,315.0 364.8,314.7 364.1,314.2 363.5,313.8 363.0,313.3 362.5,312.8 362.0,312.3 361.5,311.8 361.2,311.2 360.8,310.7 360.4,310.0 360.0,309.3 359.8,308.7 359.5,307.9 359.3,307.0 359.2,306.2 359.2,305.2 359.2,304.2 359.2,303.2 359.2,302.2 359.2,301.2 359.1,300.2 359.0,299.5 358.8,298.5 358.7,297.8 358.6,296.8 358.5,296.0 358.5,295.0 358.5,294.2 358.6,293.2 358.6,292.2 358.6,291.2 358.6,290.2 358.5,289.2 358.6,288.2 358.8,287.5 359.2,286.8 359.7,286.2 360.2,285.8 360.8,285.4 361.2,284.9 361.6,284.2 361.3,283.5 361.0,283.0 360.9,282.0 361.4,281.5 362.0,281.2 362.8,280.9 363.5,280.6 364.2,280.4 365.0,280.1 365.8,279.9 366.5,279.7 367.3,279.5 368.2,279.3 369.0,279.1 369.8,278.9 370.8,278.8 371.5,278.6 372.2,278.5 373.2,278.3 374.0,278.2 374.9,278.0 375.8,277.8 376.5,277.6 377.2,277.5 378.2,277.3 379.0,277.1 379.8,276.9 380.5,276.7 381.2,276.5 382.1,276.2 383.0,276.0 383.8,275.8 384.5,275.7 385.5,275.6 386.5,275.6 387.5,275.6 388.5,275.6 389.5,275.5 390.2,275.4 391.2,275.3 392.0,275.2 393.0,275.1 393.8,275.0 394.8,274.8 395.5,274.7 396.5,274.5 397.2,274.4 398.2,274.3 399.0,274.1 399.8,273.9 400.5,273.7 401.2,273.5 402.0,273.2 402.8,272.9 403.5,272.6 404.2,272.3 405.0,272.1 405.8,271.9 406.5,271.7 407.2,271.5 408.0,271.1 408.6,270.8 409.2,270.3 409.8,270.0 410.5,269.5 411.0,269.2 411.8,268.8 412.4,268.5 413.1,268.2 413.8,268.0 414.6,267.8 415.5,267.5 416.2,267.4 417.2,267.3 418.0,267.2 419.0,267.0 419.8,266.9 420.5,266.7 421.2,266.5 422.0,266.2 422.8,266.0 423.5,265.8 424.2,265.4 424.2,264.7 423.6,264.2 423.0,263.9 422.5,263.5 422.1,262.8 422.5,262.2 423.2,261.9 424.0,261.7 424.8,261.5 425.8,261.4 426.8,261.3 427.5,261.2 428.5,261.2 429.5,261.2 430.5,261.2 431.2,261.3 432.2,261.4 433.0,261.6 433.8,261.9 434.3,262.2 434.2,263.1 433.6,263.5 433.0,263.8 432.2,264.1 431.5,264.3 430.8,264.7 430.3,265.2 431.0,265.7 431.8,265.9 432.5,266.2 433.2,266.4 434.0,266.6 434.8,266.8 435.5,267.0 436.5,267.2 437.2,267.3 438.2,267.5 439.0,267.6 440.0,267.7 440.8,267.9 441.6,268.0 442.5,268.2 443.2,268.5 443.8,268.8 444.3,269.2 444.8,269.8 444.9,270.8 444.8,271.6 444.4,272.2 444.0,273.0 443.7,273.5 443.5,274.2 443.6,275.0 444.0,275.7 444.5,276.2 444.9,276.8 445.1,277.5 444.8,278.2 444.2,278.6 443.5,279.0 442.9,279.2 442.2,279.5 441.4,279.8 440.6,280.0 439.8,280.2 439.0,280.4 438.1,280.5 437.2,280.6 436.4,280.8 435.5,280.9 434.8,281.0 433.8,281.2 433.0,281.4 432.2,281.6 431.5,281.8 430.5,281.9 429.5,282.0 428.5,282.0 427.5,281.9 426.5,281.8 425.6,281.8 424.8,281.7 423.8,281.7 423.0,281.8 422.0,281.8 421.0,281.9 420.0,281.8 419.2,281.6 418.5,281.5 417.5,281.3 416.8,281.1 415.8,281.0 415.0,281.0 414.0,281.0 413.0,280.9 412.0,280.8 411.2,280.7 410.2,280.7 409.2,280.7 408.5,280.8 407.8,281.0 407.0,281.2 406.2,281.5 405.5,281.8 404.8,282.1 404.0,282.4 403.2,282.6 402.5,282.8 401.7,283.0 400.8,283.2 400.0,283.4 399.2,283.6 398.5,283.8 397.5,284.0 396.8,284.2 396.0,284.5 395.3,284.8 394.8,285.1 394.2,285.6 394.0,286.2 393.9,287.2 394.0,288.0 394.2,289.0 394.3,289.8 394.4,290.8 394.5,291.8 394.5,292.8 394.4,293.8 394.3,294.8 394.2,295.6 394.2,296.5 394.0,297.5 394.0,298.2 393.9,299.2 393.8,300.2 393.8,301.2 393.8,302.2 393.7,303.0 393.5,304.0 393.3,304.8 393.0,305.4 392.7,306.0 392.3,306.8 392.0,307.3 391.6,308.0 391.2,308.7 391.0,309.3 390.7,310.0 390.5,310.8 390.2,311.5 390.0,312.2 389.6,313.0 389.2,313.5 388.8,314.0 388.0,314.5 387.4,314.8 386.5,315.0 385.8,315.2 385.0,315.5 384.5,315.8 383.8,316.1 383.1,316.5 382.5,316.8 381.8,317.2 381.2,317.5 380.5,317.8 379.5,318.0ZM378.0,316.0 377.0,316.0 376.2,316.0 375.2,315.8 374.5,315.7 373.8,315.4 373.0,315.1 372.2,314.8 371.5,314.5 370.8,314.3 370.0,314.2 369.0,314.0 368.2,313.9 367.3,313.8 366.5,313.5 365.9,313.2 365.2,312.9 364.7,312.5 364.2,312.0 363.7,311.5 363.2,310.9 362.8,310.2 362.4,309.8 362.0,309.0 361.7,308.5 361.4,307.8 361.2,307.0 361.0,306.1 360.9,305.2 360.8,304.2 360.8,303.2 360.8,302.2 360.7,301.5 360.7,300.5 360.5,299.5 360.4,298.8 360.2,297.8 360.1,297.0 360.1,296.0 360.0,295.0 360.1,294.0 360.1,293.0 360.1,292.0 360.1,291.0 360.1,290.0 360.2,289.0 360.5,288.2 360.8,287.8 361.3,287.2 361.9,286.8 362.5,286.4 363.0,286.0 363.7,285.5 364.2,285.0 364.5,284.3 364.5,283.8 364.1,283.0 363.8,282.2 364.2,281.5 364.8,281.2 365.5,280.9 366.2,280.6 367.0,280.3 367.8,280.1 368.5,279.9 369.2,279.7 370.2,279.5 371.0,279.4 372.0,279.2 372.8,279.1 373.6,279.0 374.5,278.9 375.2,278.7 376.2,278.6 377.0,278.5 378.0,278.3 378.8,278.2 379.8,278.0 380.5,277.9 381.3,277.8 382.2,277.6 383.0,277.4 384.0,277.2 384.8,277.2 385.8,277.1 386.8,277.0 387.8,277.0 388.5,277.0 389.5,276.9 390.5,276.8 391.2,276.7 392.2,276.5 393.0,276.4 394.0,276.2 394.8,276.1 395.8,276.1 396.5,276.0 397.5,275.9 398.5,275.8 399.2,275.7 400.0,275.5 400.9,275.2 401.7,275.0 402.4,274.8 403.0,274.5 403.8,274.2 404.5,274.0 405.4,273.8 406.2,273.6 407.0,273.4 407.8,273.1 408.4,272.8 409.0,272.4 409.6,272.0 410.2,271.5 410.8,271.2 411.4,270.8 412.0,270.4 412.8,270.1 413.5,269.8 414.1,269.5 414.9,269.2 415.8,269.0 416.5,268.9 417.5,268.8 418.2,268.7 419.2,268.6 420.0,268.5 421.0,268.3 421.8,268.2 422.5,268.0 423.5,267.8 424.2,267.7 425.2,267.5 426.0,267.4 427.0,267.3 427.8,267.2 428.8,267.1 429.8,267.1 430.8,267.2 431.5,267.3 432.5,267.5 433.2,267.7 434.0,267.9 434.8,268.1 435.5,268.3 436.2,268.5 437.1,268.8 438.0,268.9 438.8,269.1 439.5,269.2 440.5,269.5 441.2,269.8 441.8,270.0 442.3,270.5 442.5,271.5 442.2,272.2 441.8,273.0 441.5,273.7 441.4,274.5 441.7,275.2 442.2,275.8 442.8,276.2 443.2,276.8 443.5,277.2 443.4,278.0 442.8,278.5 442.2,278.8 441.5,279.1 440.8,279.3 440.0,279.5 439.0,279.7 438.2,279.8 437.2,280.0 436.5,280.1 435.5,280.2 434.8,280.3 433.8,280.5 433.0,280.6 432.2,280.8 431.2,281.0 430.5,281.1 429.5,281.1 428.5,281.1 427.5,281.1 426.8,281.0 425.8,280.9 424.8,280.8 423.8,280.8 423.0,280.7 422.0,280.7 421.0,280.7 420.0,280.5 419.2,280.4 418.5,280.2 417.5,280.1 416.8,279.9 415.8,279.8 415.0,279.6 414.2,279.5 413.3,279.2 412.5,279.0 411.8,278.8 411.0,278.7 410.1,278.5 409.2,278.4 408.2,278.5 407.5,278.6 406.8,278.8 406.0,279.1 405.2,279.4 404.7,279.8 404.0,280.2 403.5,280.5 402.8,281.0 402.2,281.3 401.5,281.6 400.8,281.9 400.0,282.1 399.2,282.4 398.5,282.6 397.8,282.8 396.8,283.0 396.0,283.2 395.2,283.4 394.5,283.6 393.8,283.9 393.1,284.2 392.5,284.6 392.0,285.1 391.6,285.8 391.4,286.5 391.5,287.2 391.8,288.2 392.0,289.0 392.1,289.8 392.3,290.5 392.3,291.5 392.3,292.5 392.2,293.2 392.1,294.2 392.0,295.1 391.9,296.0 391.9,297.0 391.8,298.0 391.7,298.8 391.5,299.8 391.4,300.5 391.2,301.4 391.0,302.2 390.8,303.0 390.5,303.8 390.2,304.3 389.9,305.0 389.5,305.6 389.1,306.2 388.8,306.8 388.4,307.5 388.0,308.2 387.7,308.8 387.4,309.5 387.0,310.2 386.7,310.8 386.2,311.4 385.8,311.9 385.2,312.4 384.8,312.8 384.2,313.2 383.5,313.8 383.0,314.1 382.5,314.5 381.8,314.9 381.2,315.2 380.5,315.5 379.8,315.8 378.8,315.9 378.0,316.0ZM431.5,280.3 430.5,280.4 429.5,280.5 428.5,280.5 427.5,280.4 426.5,280.3 425.8,280.2 424.8,280.1 423.8,280.0 423.0,279.9 422.0,279.9 421.1,279.8 420.2,279.6 419.5,279.5 418.5,279.3 417.8,279.1 417.0,278.9 416.2,278.7 415.5,278.5 414.8,278.2 414.0,277.8 413.5,277.5 412.8,277.0 412.2,276.5 411.8,276.1 411.2,275.5 410.9,275.0 410.9,274.0 411.2,273.4 411.8,272.8 412.2,272.4 412.8,272.0 413.5,271.6 414.1,271.2 414.8,271.0 415.5,270.7 416.2,270.5 417.2,270.3 418.0,270.2 419.0,270.1 420.0,270.1 421.0,270.0 421.8,269.9 422.6,269.8 423.5,269.6 424.2,269.4 425.0,269.2 425.8,269.0 426.8,268.8 427.5,268.6 428.2,268.4 429.1,268.2 430.0,268.2 431.0,268.2 431.8,268.2 432.8,268.5 433.5,268.7 434.2,269.0 434.8,269.2 435.5,269.6 436.2,269.9 437.0,270.2 437.5,270.5 438.2,270.9 438.8,271.2 439.2,272.0 439.1,273.0 438.9,273.8 439.0,274.8 439.4,275.2 440.0,275.7 440.5,276.1 441.1,276.5 441.6,277.0 441.8,277.7 441.3,278.2 440.8,278.5 440.0,278.8 439.2,279.0 438.2,279.2 437.5,279.3 436.5,279.4 435.8,279.5 434.8,279.7 434.0,279.8 433.0,280.0 432.2,280.1 431.5,280.3ZM379.5,313.8 378.5,314.0 377.5,314.0 376.5,313.8 375.8,313.6 375.0,313.3 374.5,313.0 373.8,312.6 373.0,312.3 372.2,312.1 371.5,311.9 370.5,311.8 369.5,311.8 368.5,311.8 367.8,311.6 367.0,311.4 366.3,311.0 365.8,310.5 365.3,310.0 364.9,309.5 364.5,308.9 364.1,308.2 363.8,307.7 363.4,307.0 363.0,306.2 362.8,305.5 362.6,304.8 362.4,304.0 362.3,303.0 362.3,302.0 362.2,301.2 362.1,300.2 362.0,299.2 361.9,298.5 361.8,297.5 361.7,296.8 361.6,295.8 361.6,294.8 361.6,293.8 361.6,292.8 361.5,291.8 361.6,290.8 361.7,289.8 362.0,289.0 362.3,288.5 362.8,288.0 363.4,287.5 364.0,287.1 364.5,286.7 365.2,286.3 365.8,285.9 366.3,285.5 366.8,285.0 367.0,284.2 366.8,283.5 366.5,283.0 366.3,282.0 366.8,281.5 367.5,281.1 368.2,280.8 369.0,280.5 369.8,280.3 370.5,280.1 371.2,280.0 372.2,279.8 373.0,279.7 374.0,279.6 374.8,279.5 375.8,279.3 376.5,279.2 377.5,279.1 378.5,279.0 379.2,278.9 380.2,278.8 381.0,278.7 382.0,278.6 382.8,278.5 383.8,278.4 384.8,278.3 385.5,278.2 386.5,278.2 387.5,278.2 388.5,278.2 389.5,278.2 390.5,278.1 391.5,278.0 392.2,277.9 393.2,277.8 394.0,277.7 395.0,277.7 395.8,277.8 396.5,278.0 397.2,278.4 397.8,278.9 398.2,279.4 398.5,280.0 398.3,280.8 397.8,281.2 397.2,281.5 396.5,281.8 395.8,282.1 395.0,282.3 394.2,282.6 393.5,282.8 392.8,283.1 392.0,283.4 391.3,283.8 390.8,284.0 390.1,284.5 389.5,285.0 389.2,285.5 388.9,286.2 389.0,287.2 389.2,288.0 389.4,288.8 389.6,289.5 389.9,290.2 390.0,291.0 390.1,292.0 390.1,293.0 390.0,294.0 390.0,295.0 390.0,295.8 390.0,296.8 389.9,297.8 389.8,298.6 389.5,299.5 389.3,300.2 389.0,301.0 388.8,301.7 388.5,302.2 388.1,303.0 387.8,303.7 387.5,304.2 387.0,305.0 386.7,305.5 386.2,306.2 385.9,306.8 385.5,307.4 385.1,308.0 384.8,308.7 384.4,309.2 384.0,309.9 383.6,310.5 383.2,311.0 382.8,311.6 382.2,312.1 381.8,312.6 381.2,313.0 380.5,313.4 379.8,313.7ZM430.5,279.8 429.5,279.9 428.5,279.9 427.5,279.8 426.8,279.7 425.8,279.6 425.0,279.5 424.0,279.4 423.2,279.2 422.2,279.1 421.5,279.0 420.5,278.8 419.8,278.6 419.0,278.3 418.2,278.1 417.5,277.8 416.8,277.5 416.2,277.2 415.7,276.8 415.2,276.2 414.8,275.5 414.5,274.8 414.5,274.0 414.8,273.3 415.2,272.8 415.8,272.4 416.5,272.0 417.2,271.8 418.0,271.6 419.0,271.6 420.0,271.6 421.0,271.6 421.9,271.5 422.8,271.4 423.5,271.2 424.5,271.0 425.2,270.8 426.0,270.6 426.7,270.2 427.3,270.0 428.0,269.7 428.8,269.4 429.5,269.2 430.5,269.0 431.5,269.1 432.5,269.2 433.1,269.5 433.8,269.8 434.4,270.2 435.0,270.7 435.5,271.2 435.8,271.8 436.0,272.5 435.9,273.2 435.7,274.0 435.8,274.8 436.2,275.3 436.9,275.8 437.5,276.1 438.2,276.4 438.9,276.8 439.4,277.2 439.4,277.8 438.8,278.2 438.0,278.4 437.2,278.6 436.2,278.7 435.5,278.9 434.7,279.0 433.8,279.2 433.0,279.3 432.2,279.5 431.2,279.7 430.5,279.8ZM378.5,311.5 377.5,311.6 376.8,311.4 376.0,311.2 375.2,310.8 374.5,310.5 374.0,310.2 373.2,310.0 372.4,309.8 371.5,309.6 370.5,309.5 369.8,309.5 368.8,309.3 368.0,309.0 367.5,308.7 367.0,308.2 366.5,307.6 366.0,307.0 365.7,306.5 365.2,305.9 364.8,305.2 364.5,304.6 364.2,304.0 364.0,303.0 363.9,302.2 363.8,301.3 363.7,300.5 363.6,299.5 363.5,298.6 363.4,297.8 363.3,296.8 363.2,295.8 363.2,295.0 363.1,294.0 363.0,293.0 363.0,292.2 363.0,291.5 363.2,290.5 363.5,289.8 363.8,289.2 364.2,288.7 364.8,288.2 365.5,287.8 366.0,287.5 366.8,287.1 367.5,286.8 368.0,286.5 368.8,286.1 369.2,285.7 369.8,285.0 369.8,284.2 369.5,283.8 369.0,283.1 368.7,282.5 368.8,281.8 369.5,281.3 370.2,281.0 371.0,280.8 371.8,280.6 372.5,280.4 373.5,280.3 374.2,280.2 375.2,280.0 376.0,279.9 377.0,279.8 377.8,279.7 378.8,279.7 379.8,279.6 380.7,279.5 381.5,279.4 382.5,279.3 383.4,279.2 384.2,279.2 385.2,279.1 386.2,279.1 387.2,279.1 388.2,279.1 389.2,279.2 390.0,279.3 390.9,279.5 391.8,279.7 392.5,279.9 393.1,280.2 393.4,281.0 393.0,281.5 392.2,282.0 391.7,282.2 391.0,282.6 390.2,283.0 389.7,283.2 389.0,283.6 388.2,284.0 387.8,284.3 387.1,284.8 386.6,285.2 386.3,286.0 386.3,286.5 386.5,287.5 386.8,288.2 387.0,288.9 387.2,289.6 387.5,290.3 387.8,291.2 387.9,292.0 388.0,293.0 388.0,293.8 388.1,294.8 388.1,295.8 388.1,296.8 388.0,297.6 387.8,298.5 387.6,299.2 387.3,300.0 387.0,300.6 386.6,301.2 386.2,301.8 385.8,302.5 385.4,303.0 385.0,303.5 384.5,304.2 384.2,304.8 383.8,305.4 383.4,306.0 383.0,306.8 382.7,307.2 382.3,308.0 381.9,308.5 381.5,309.1 381.0,309.8 380.6,310.2 380.0,310.8 379.5,311.1 378.8,311.5ZM429.5,279.3 428.5,279.3 427.7,279.2 426.8,279.2 425.8,279.0 425.0,278.9 424.2,278.7 423.3,278.5 422.5,278.3 421.8,278.0 421.0,277.8 420.3,277.5 419.8,277.2 419.0,276.8 418.5,276.4 418.0,275.9 417.5,275.2 417.3,274.5 417.6,273.8 418.2,273.3 419.0,273.1 420.0,273.1 421.0,273.0 421.8,273.0 422.8,272.9 423.8,272.8 424.5,272.7 425.3,272.5 426.2,272.2 426.8,272.0 427.5,271.6 428.0,271.2 428.7,270.8 429.2,270.4 430.0,270.1 430.8,269.9 431.7,270.0 432.5,270.2 433.0,270.6 433.5,271.1 433.8,271.8 433.8,272.8 433.5,273.3 433.0,274.0 432.8,274.8 433.2,275.5 433.8,276.0 434.2,276.3 434.9,276.8 435.4,277.2 435.0,277.8 434.2,278.2 433.5,278.4 432.8,278.6 432.0,278.8 431.2,279.0 430.2,279.2 429.5,279.3ZM377.8,308.3 376.8,308.4 375.9,308.2 375.2,308.0 374.5,307.7 373.8,307.4 373.0,307.2 372.2,306.9 371.4,306.8 370.5,306.5 369.8,306.3 369.0,306.0 368.5,305.7 367.9,305.2 367.3,304.8 366.8,304.2 366.4,303.8 366.0,303.0 365.8,302.5 365.5,301.7 365.3,300.8 365.2,300.0 365.1,299.0 365.0,298.2 364.9,297.2 364.9,296.2 364.8,295.2 364.7,294.5 364.6,293.5 364.5,292.5 364.6,291.5 364.9,290.8 365.2,290.2 365.8,289.6 366.2,289.2 367.0,288.8 367.5,288.5 368.2,288.1 368.9,287.8 369.5,287.4 370.2,287.0 370.8,286.7 371.3,286.2 371.9,285.8 372.3,285.2 372.4,284.2 372.0,283.6 371.5,283.1 371.1,282.5 371.4,281.8 372.0,281.4 372.8,281.2 373.5,281.0 374.5,280.8 375.2,280.7 376.2,280.6 377.0,280.5 378.0,280.4 379.0,280.3 379.9,280.2 380.8,280.2 381.8,280.1 382.8,280.1 383.5,280.0 384.5,279.9 385.5,279.9 386.5,279.9 387.3,280.0 388.2,280.2 388.9,280.5 389.5,281.0 389.5,281.6 389.0,282.2 388.5,282.5 387.8,282.9 387.0,283.2 386.3,283.5 385.6,283.8 384.9,284.0 384.2,284.3 383.5,284.8 383.2,285.2 383.3,286.0 383.6,286.8 384.0,287.3 384.4,288.0 384.8,288.7 385.0,289.2 385.4,290.0 385.7,290.8 385.9,291.5 386.0,292.2 386.2,293.2 386.2,294.2 386.2,295.2 386.1,296.2 386.0,297.2 385.8,298.0 385.5,298.8 385.2,299.3 384.8,300.0 384.3,300.5 383.8,301.0 383.2,301.4 382.8,301.8 382.2,302.3 381.7,302.8 381.2,303.4 380.9,304.0 380.6,304.8 380.2,305.5 380.0,306.0 379.6,306.8 379.2,307.2 378.7,307.8 378.0,308.2ZM429.5,278.5 428.5,278.6 427.5,278.6 426.8,278.5 425.8,278.3 425.0,278.1 424.2,277.9 423.5,277.5 423.0,277.2 422.3,276.8 421.9,276.2 421.6,275.5 422.0,274.8 422.8,274.5 423.5,274.4 424.5,274.3 425.5,274.3 426.5,274.3 427.5,274.4 428.2,274.6 429.0,275.0 429.5,275.3 430.1,275.8 430.8,276.2 431.2,276.5 431.8,277.0 431.6,277.8 431.0,278.1 430.2,278.4 429.5,278.5ZM380.0,283.8 379.0,283.9 378.0,283.9 377.1,283.8 376.4,283.5 375.8,283.2 375.0,282.8 375.0,282.0 375.6,281.8 376.5,281.5 377.2,281.4 378.2,281.2 379.0,281.2 380.0,281.1 381.0,281.1 381.8,281.0 382.8,280.9 383.8,280.9 384.8,280.9 385.8,281.0 386.3,281.2 386.2,282.0 385.5,282.3 384.8,282.6 384.0,282.8 383.2,283.0 382.2,283.2 381.5,283.4 380.8,283.6 380.0,283.8ZM375.8,304.1 374.8,304.2 373.8,304.2 372.8,304.1 371.8,304.0 371.0,303.8 370.2,303.6 369.5,303.3 368.9,303.0 368.3,302.5 367.8,302.0 367.4,301.5 367.0,300.8 366.8,300.0 366.6,299.2 366.5,298.5 366.4,297.5 366.4,296.5 366.4,295.5 366.3,294.5 366.3,293.5 366.3,292.5 366.5,291.8 367.0,291.0 367.4,290.5 368.0,290.0 368.5,289.7 369.1,289.2 369.8,288.9 370.3,288.5 371.0,288.1 371.5,287.8 372.2,287.3 372.8,287.0 373.5,286.6 374.2,286.2 374.8,286.0 375.5,285.7 376.2,285.5 377.2,285.3 378.2,285.3 379.0,285.5 379.8,285.9 380.3,286.2 380.9,286.8 381.4,287.2 381.9,287.8 382.4,288.2 382.8,288.8 383.2,289.4 383.6,290.0 383.9,290.8 384.2,291.5 384.4,292.2 384.5,293.0 384.6,294.0 384.5,294.9 384.4,295.8 384.2,296.5 383.9,297.2 383.5,298.0 383.1,298.5 382.7,299.0 382.1,299.5 381.5,300.0 381.0,300.4 380.4,300.8 379.8,301.2 379.2,301.7 378.8,302.1 378.2,302.5 377.6,303.0 377.0,303.5 376.5,303.8 375.8,304.1ZM427.5,277.3 427.0,277.3 426.5,277.3 426.2,277.2 425.9,277.0 425.6,276.8 425.8,276.4 426.2,276.4 426.8,276.5 427.0,276.6 427.4,276.8 427.7,277.0 427.5,277.3ZM374.5,301.8 373.5,301.9 372.5,301.9 371.8,301.7 370.9,301.5 370.2,301.2 369.5,300.8 369.0,300.3 368.6,299.8 368.2,299.1 368.0,298.2 367.9,297.5 367.9,296.5 367.9,295.5 367.9,294.5 368.0,293.6 368.2,292.8 368.5,292.0 368.8,291.5 369.2,290.9 369.8,290.4 370.3,290.0 371.0,289.5 371.5,289.2 372.2,288.8 372.8,288.4 373.5,288.1 374.2,287.8 375.0,287.5 375.8,287.4 376.8,287.3 377.8,287.4 378.5,287.6 379.2,287.9 379.8,288.2 380.4,288.8 380.9,289.2 381.4,289.8 381.8,290.2 382.2,290.9 382.5,291.5 382.8,292.2 383.0,293.2 382.9,294.2 382.8,295.2 382.5,296.0 382.2,296.5 381.8,297.2 381.4,297.8 380.9,298.2 380.3,298.8 379.8,299.2 379.2,299.5 378.5,300.0 378.0,300.3 377.2,300.7 376.7,301.0 376.0,301.3 375.2,301.6 374.5,301.8ZM374.5,299.8 373.5,299.8 372.8,299.7 371.8,299.5 371.1,299.2 370.5,298.8 370.0,298.3 369.7,297.8 369.5,297.0 369.4,296.0 369.4,295.0 369.4,294.0 369.6,293.2 369.8,292.5 370.2,291.8 370.7,291.2 371.2,290.8 371.8,290.3 372.2,289.9 373.0,289.5 373.6,289.2 374.3,289.0 375.2,288.8 376.2,288.8 377.2,288.9 378.0,289.2 378.5,289.5 379.2,290.0 379.7,290.5 380.2,291.0 380.5,291.5 380.9,292.2 381.1,293.0 381.2,294.0 381.0,295.0 380.8,295.6 380.4,296.2 380.0,296.8 379.5,297.4 379.0,297.8 378.5,298.2 377.8,298.7 377.1,299.0 376.5,299.3 375.8,299.5 374.8,299.7ZM375.5,297.8 374.5,297.9 373.5,297.8 372.8,297.6 372.0,297.2 371.5,296.8 371.1,296.2 370.9,295.5 370.7,294.8 370.8,294.0 371.0,293.0 371.2,292.4 371.7,291.8 372.2,291.2 372.8,290.8 373.3,290.5 374.0,290.2 375.0,290.0 376.0,290.1 376.8,290.3 377.5,290.7 378.0,291.1 378.5,291.8 378.8,292.2 379.1,293.0 379.2,294.0 379.0,294.9 378.7,295.5 378.2,296.2 377.8,296.7 377.2,297.1 376.5,297.5 375.8,297.7ZM375.0,296.0 374.5,296.0 374.0,296.0 373.8,296.0 373.2,295.8 373.0,295.6 372.8,295.4 372.5,295.2 372.3,294.8 372.2,294.5 372.1,294.0 372.2,293.5 372.2,293.2 372.4,292.8 372.6,292.5 372.8,292.2 373.0,292.0 373.4,291.8 373.8,291.5 374.0,291.4 374.5,291.3 375.0,291.3 375.5,291.3 376.0,291.5 376.2,291.6 376.5,291.9 376.8,292.1 377.0,292.5 377.1,292.8 377.2,293.2 377.2,293.8 377.1,294.2 377.0,294.6 376.8,295.0 376.5,295.2 376.2,295.5 376.0,295.7 375.8,295.8 375.2,296.0 375.0,296.0Z" fill="none" stroke="#262626" stroke-width="1.0"/>
</g>
<path d="M134.4,31.5H274.6V172" fill="none" stroke="#777" stroke-width="1"/>
<path d="M134.4,31.5V172" fill="none" stroke="#333" stroke-width="1"/>
<path d="M131.9,172H274.6" fill="none" stroke="#111" stroke-width="1.3"/>
<path d="M131.90,172.00H134.70M134.40,171.70V174.50M133.10,161.43H134.70M144.95,171.70V173.30M133.10,155.24H134.70M151.12,171.70V173.30M133.10,150.85H134.70M155.50,171.70V173.30M133.10,147.45H134.70M158.90,171.70V173.30M133.10,144.67H134.70M161.67,171.70V173.30M133.10,142.32H134.70M164.02,171.70V173.30M133.10,140.28H134.70M166.05,171.70V173.30M133.10,138.48H134.70M167.85,171.70V173.30M131.90,136.88H134.70M169.45,171.70V174.50M133.10,126.30H134.70M180.00,171.70V173.30M133.10,120.12H134.70M186.17,171.70V173.30M133.10,115.73H134.70M190.55,171.70V173.30M133.10,112.32H134.70M193.95,171.70V173.30M133.10,109.54H134.70M196.72,171.70V173.30M133.10,107.19H134.70M199.07,171.70V173.30M133.10,105.15H134.70M201.10,171.70V173.30M133.10,103.36H134.70M202.90,171.70V173.30M131.90,101.75H134.70M204.50,171.70V174.50M133.10,91.18H134.70M215.05,171.70V173.30M133.10,84.99H134.70M221.22,171.70V173.30M133.10,80.60H134.70M225.60,171.70V173.30M133.10,77.20H134.70M229.00,171.70V173.30M133.10,74.42H134.70M231.77,171.70V173.30M133.10,72.07H134.70M234.12,171.70V173.30M133.10,70.03H134.70M236.15,171.70V173.30M133.10,68.23H134.70M237.95,171.70V173.30M131.90,66.62H134.70M239.55,171.70V174.50M133.10,56.05H134.70M250.10,171.70V173.30M133.10,49.87H134.70M256.27,171.70V173.30M133.10,45.48H134.70M260.65,171.70V173.30M133.10,42.07H134.70M264.05,171.70V173.30M133.10,39.29H134.70M266.82,171.70V173.30M133.10,36.94H134.70M269.17,171.70V173.30M133.10,34.90H134.70M271.20,171.70V173.30M133.10,33.11H134.70M273.00,171.70V173.30" stroke="#555" stroke-width="0.7" fill="none"/>
<text x="119.4" y="174.30" font-size="6.4" font-weight="bold" fill="#222" style="stroke-width:0.45px">10<tspan font-size="4.8" dy="-2.7">0</tspan></text>
<text x="129.80" y="184.70" font-size="6.4" font-weight="bold" fill="#222" style="stroke-width:0.45px">10<tspan font-size="4.8" dy="-2.7">0</tspan></text>
<text x="119.4" y="139.70" font-size="6.4" font-weight="bold" fill="#222" style="stroke-width:0.45px">10<tspan font-size="4.8" dy="-2.7">1</tspan></text>
<text x="164.85" y="184.70" font-size="6.4" font-weight="bold" fill="#222" style="stroke-width:0.45px">10<tspan font-size="4.8" dy="-2.7">1</tspan></text>
<text x="119.4" y="105.10" font-size="6.4" font-weight="bold" fill="#222" style="stroke-width:0.45px">10<tspan font-size="4.8" dy="-2.7">2</tspan></text>
<text x="199.90" y="184.70" font-size="6.4" font-weight="bold" fill="#222" style="stroke-width:0.45px">10<tspan font-size="4.8" dy="-2.7">2</tspan></text>
<text x="119.4" y="70.51" font-size="6.4" font-weight="bold" fill="#222" style="stroke-width:0.45px">10<tspan font-size="4.8" dy="-2.7">3</tspan></text>
<text x="234.95" y="184.70" font-size="6.4" font-weight="bold" fill="#222" style="stroke-width:0.45px">10<tspan font-size="4.8" dy="-2.7">3</tspan></text>
<text x="119.4" y="35.91" font-size="6.4" font-weight="bold" fill="#222" style="stroke-width:0.45px">10<tspan font-size="4.8" dy="-2.7">4</tspan></text>
<text x="270.00" y="184.70" font-size="6.4" font-weight="bold" fill="#222" style="stroke-width:0.45px">10<tspan font-size="4.8" dy="-2.7">4</tspan></text>
<path d="M133.5,194.4H274.1V334.7" fill="none" stroke="#777" stroke-width="1"/>
<path d="M133.5,194.4V334.7" fill="none" stroke="#333" stroke-width="1"/>
<path d="M131.0,334.7H274.1" fill="none" stroke="#111" stroke-width="1.3"/>
<path d="M131.00,334.70H133.80M133.50,334.40V337.20M132.20,324.14H133.80M144.08,334.40V336.00M132.20,317.96H133.80M150.27,334.40V336.00M132.20,313.58H133.80M154.66,334.40V336.00M132.20,310.18H133.80M158.07,334.40V336.00M132.20,307.41H133.80M160.85,334.40V336.00M132.20,305.06H133.80M163.21,334.40V336.00M132.20,303.02H133.80M165.24,334.40V336.00M132.20,301.23H133.80M167.04,334.40V336.00M131.00,299.62H133.80M168.65,334.40V337.20M132.20,289.07H133.80M179.23,334.40V336.00M132.20,282.89H133.80M185.42,334.40V336.00M132.20,278.51H133.80M189.81,334.40V336.00M132.20,275.11H133.80M193.22,334.40V336.00M132.20,272.33H133.80M196.00,334.40V336.00M132.20,269.98H133.80M198.36,334.40V336.00M132.20,267.95H133.80M200.39,334.40V336.00M132.20,266.15H133.80M202.19,334.40V336.00M131.00,264.55H133.80M203.80,334.40V337.20M132.20,253.99H133.80M214.38,334.40V336.00M132.20,247.81H133.80M220.57,334.40V336.00M132.20,243.43H133.80M224.96,334.40V336.00M132.20,240.03H133.80M228.37,334.40V336.00M132.20,237.26H133.80M231.15,334.40V336.00M132.20,234.91H133.80M233.51,334.40V336.00M132.20,232.87H133.80M235.54,334.40V336.00M132.20,231.08H133.80M237.34,334.40V336.00M131.00,229.47H133.80M238.95,334.40V337.20M132.20,218.92H133.80M249.53,334.40V336.00M132.20,212.74H133.80M255.72,334.40V336.00M132.20,208.36H133.80M260.11,334.40V336.00M132.20,204.96H133.80M263.52,334.40V336.00M132.20,202.18H133.80M266.30,334.40V336.00M132.20,199.83H133.80M268.66,334.40V336.00M132.20,197.80H133.80M270.69,334.40V336.00M132.20,196.00H133.80M272.49,334.40V336.00" stroke="#555" stroke-width="0.7" fill="none"/>
<text x="118.5" y="337.00" font-size="6.4" font-weight="bold" fill="#222" style="stroke-width:0.45px">10<tspan font-size="4.8" dy="-2.7">0</tspan></text>
<text x="128.90" y="347.40" font-size="6.4" font-weight="bold" fill="#222" style="stroke-width:0.45px">10<tspan font-size="4.8" dy="-2.7">0</tspan></text>
<text x="118.5" y="302.45" font-size="6.4" font-weight="bold" fill="#222" style="stroke-width:0.45px">10<tspan font-size="4.8" dy="-2.7">1</tspan></text>
<text x="164.05" y="347.40" font-size="6.4" font-weight="bold" fill="#222" style="stroke-width:0.45px">10<tspan font-size="4.8" dy="-2.7">1</tspan></text>
<text x="118.5" y="267.90" font-size="6.4" font-weight="bold" fill="#222" style="stroke-width:0.45px">10<tspan font-size="4.8" dy="-2.7">2</tspan></text>
<text x="199.20" y="347.40" font-size="6.4" font-weight="bold" fill="#222" style="stroke-width:0.45px">10<tspan font-size="4.8" dy="-2.7">2</tspan></text>
<text x="118.5" y="233.35" font-size="6.4" font-weight="bold" fill="#222" style="stroke-width:0.45px">10<tspan font-size="4.8" dy="-2.7">3</tspan></text>
<text x="234.35" y="347.40" font-size="6.4" font-weight="bold" fill="#222" style="stroke-width:0.45px">10<tspan font-size="4.8" dy="-2.7">3</tspan></text>
<text x="118.5" y="198.80" font-size="6.4" font-weight="bold" fill="#222" style="stroke-width:0.45px">10<tspan font-size="4.8" dy="-2.7">4</tspan></text>
<text x="269.50" y="347.40" font-size="6.4" font-weight="bold" fill="#222" style="stroke-width:0.45px">10<tspan font-size="4.8" dy="-2.7">4</tspan></text>
<path d="M346.4,31.4H488V172" fill="none" stroke="#777" stroke-width="1"/>
<path d="M346.4,31.4V172" fill="none" stroke="#333" stroke-width="1"/>
<path d="M343.9,172H488" fill="none" stroke="#111" stroke-width="1.3"/>
<path d="M343.90,172.00H346.70M346.40,171.70V174.50M345.10,161.42H346.70M357.06,171.70V173.30M345.10,155.23H346.70M363.29,171.70V173.30M345.10,150.84H346.70M367.71,171.70V173.30M345.10,147.43H346.70M371.14,171.70V173.30M345.10,144.65H346.70M373.95,171.70V173.30M345.10,142.29H346.70M376.32,171.70V173.30M345.10,140.26H346.70M378.37,171.70V173.30M345.10,138.46H346.70M380.18,171.70V173.30M343.90,136.85H346.70M381.80,171.70V174.50M345.10,126.27H346.70M392.46,171.70V173.30M345.10,120.08H346.70M398.69,171.70V173.30M345.10,115.69H346.70M403.11,171.70V173.30M345.10,112.28H346.70M406.54,171.70V173.30M345.10,109.50H346.70M409.35,171.70V173.30M345.10,107.14H346.70M411.72,171.70V173.30M345.10,105.11H346.70M413.77,171.70V173.30M345.10,103.31H346.70M415.58,171.70V173.30M343.90,101.70H346.70M417.20,171.70V174.50M345.10,91.12H346.70M427.86,171.70V173.30M345.10,84.93H346.70M434.09,171.70V173.30M345.10,80.54H346.70M438.51,171.70V173.30M345.10,77.13H346.70M441.94,171.70V173.30M345.10,74.35H346.70M444.75,171.70V173.30M345.10,71.99H346.70M447.12,171.70V173.30M345.10,69.96H346.70M449.17,171.70V173.30M345.10,68.16H346.70M450.98,171.70V173.30M343.90,66.55H346.70M452.60,171.70V174.50M345.10,55.97H346.70M463.26,171.70V173.30M345.10,49.78H346.70M469.49,171.70V173.30M345.10,45.39H346.70M473.91,171.70V173.30M345.10,41.98H346.70M477.34,171.70V173.30M345.10,39.20H346.70M480.15,171.70V173.30M345.10,36.84H346.70M482.52,171.70V173.30M345.10,34.81H346.70M484.57,171.70V173.30M345.10,33.01H346.70M486.38,171.70V173.30" stroke="#555" stroke-width="0.7" fill="none"/>
<text x="331.4" y="174.30" font-size="6.4" font-weight="bold" fill="#222" style="stroke-width:0.45px">10<tspan font-size="4.8" dy="-2.7">0</tspan></text>
<text x="341.80" y="184.70" font-size="6.4" font-weight="bold" fill="#222" style="stroke-width:0.45px">10<tspan font-size="4.8" dy="-2.7">0</tspan></text>
<text x="331.4" y="139.68" font-size="6.4" font-weight="bold" fill="#222" style="stroke-width:0.45px">10<tspan font-size="4.8" dy="-2.7">1</tspan></text>
<text x="377.20" y="184.70" font-size="6.4" font-weight="bold" fill="#222" style="stroke-width:0.45px">10<tspan font-size="4.8" dy="-2.7">1</tspan></text>
<text x="331.4" y="105.05" font-size="6.4" font-weight="bold" fill="#222" style="stroke-width:0.45px">10<tspan font-size="4.8" dy="-2.7">2</tspan></text>
<text x="412.60" y="184.70" font-size="6.4" font-weight="bold" fill="#222" style="stroke-width:0.45px">10<tspan font-size="4.8" dy="-2.7">2</tspan></text>
<text x="331.4" y="70.43" font-size="6.4" font-weight="bold" fill="#222" style="stroke-width:0.45px">10<tspan font-size="4.8" dy="-2.7">3</tspan></text>
<text x="448.00" y="184.70" font-size="6.4" font-weight="bold" fill="#222" style="stroke-width:0.45px">10<tspan font-size="4.8" dy="-2.7">3</tspan></text>
<text x="331.4" y="35.81" font-size="6.4" font-weight="bold" fill="#222" style="stroke-width:0.45px">10<tspan font-size="4.8" dy="-2.7">4</tspan></text>
<text x="483.40" y="184.70" font-size="6.4" font-weight="bold" fill="#222" style="stroke-width:0.45px">10<tspan font-size="4.8" dy="-2.7">4</tspan></text>
<path d="M344.9,194.1H485.9V334.8" fill="none" stroke="#777" stroke-width="1"/>
<path d="M344.9,194.1V334.8" fill="none" stroke="#333" stroke-width="1"/>
<path d="M342.4,334.8H485.9" fill="none" stroke="#111" stroke-width="1.3"/>
<path d="M342.40,334.80H345.20M344.90,334.50V337.30M343.60,324.21H345.20M355.51,334.50V336.10M343.60,318.02H345.20M361.72,334.50V336.10M343.60,313.62H345.20M366.12,334.50V336.10M343.60,310.21H345.20M369.54,334.50V336.10M343.60,307.43H345.20M372.33,334.50V336.10M343.60,305.07H345.20M374.69,334.50V336.10M343.60,303.03H345.20M376.73,334.50V336.10M343.60,301.23H345.20M378.54,334.50V336.10M342.40,299.62H345.20M380.15,334.50V337.30M343.60,289.04H345.20M390.76,334.50V336.10M343.60,282.84H345.20M396.97,334.50V336.10M343.60,278.45H345.20M401.37,334.50V336.10M343.60,275.04H345.20M404.79,334.50V336.10M343.60,272.25H345.20M407.58,334.50V336.10M343.60,269.90H345.20M409.94,334.50V336.10M343.60,267.86H345.20M411.98,334.50V336.10M343.60,266.06H345.20M413.79,334.50V336.10M342.40,264.45H345.20M415.40,334.50V337.30M343.60,253.86H345.20M426.01,334.50V336.10M343.60,247.67H345.20M432.22,334.50V336.10M343.60,243.27H345.20M436.62,334.50V336.10M343.60,239.86H345.20M440.04,334.50V336.10M343.60,237.08H345.20M442.83,334.50V336.10M343.60,234.72H345.20M445.19,334.50V336.10M343.60,232.68H345.20M447.23,334.50V336.10M343.60,230.88H345.20M449.04,334.50V336.10M342.40,229.28H345.20M450.65,334.50V337.30M343.60,218.69H345.20M461.26,334.50V336.10M343.60,212.49H345.20M467.47,334.50V336.10M343.60,208.10H345.20M471.87,334.50V336.10M343.60,204.69H345.20M475.29,334.50V336.10M343.60,201.90H345.20M478.08,334.50V336.10M343.60,199.55H345.20M480.44,334.50V336.10M343.60,197.51H345.20M482.48,334.50V336.10M343.60,195.71H345.20M484.29,334.50V336.10" stroke="#555" stroke-width="0.7" fill="none"/>
<text x="329.9" y="337.10" font-size="6.4" font-weight="bold" fill="#222" style="stroke-width:0.45px">10<tspan font-size="4.8" dy="-2.7">0</tspan></text>
<text x="340.30" y="347.50" font-size="6.4" font-weight="bold" fill="#222" style="stroke-width:0.45px">10<tspan font-size="4.8" dy="-2.7">0</tspan></text>
<text x="329.9" y="302.45" font-size="6.4" font-weight="bold" fill="#222" style="stroke-width:0.45px">10<tspan font-size="4.8" dy="-2.7">1</tspan></text>
<text x="375.55" y="347.50" font-size="6.4" font-weight="bold" fill="#222" style="stroke-width:0.45px">10<tspan font-size="4.8" dy="-2.7">1</tspan></text>
<text x="329.9" y="267.81" font-size="6.4" font-weight="bold" fill="#222" style="stroke-width:0.45px">10<tspan font-size="4.8" dy="-2.7">2</tspan></text>
<text x="410.80" y="347.50" font-size="6.4" font-weight="bold" fill="#222" style="stroke-width:0.45px">10<tspan font-size="4.8" dy="-2.7">2</tspan></text>
<text x="329.9" y="233.16" font-size="6.4" font-weight="bold" fill="#222" style="stroke-width:0.45px">10<tspan font-size="4.8" dy="-2.7">3</tspan></text>
<text x="446.05" y="347.50" font-size="6.4" font-weight="bold" fill="#222" style="stroke-width:0.45px">10<tspan font-size="4.8" dy="-2.7">3</tspan></text>
<text x="329.9" y="198.51" font-size="6.4" font-weight="bold" fill="#222" style="stroke-width:0.45px">10<tspan font-size="4.8" dy="-2.7">4</tspan></text>
<text x="481.30" y="347.50" font-size="6.4" font-weight="bold" fill="#222" style="stroke-width:0.45px">10<tspan font-size="4.8" dy="-2.7">4</tspan></text>
<rect x="206.4" y="117" width="55.4" height="51.3" fill="none" stroke="#000" stroke-width="1.6"/>
<rect x="205.8" y="278.7" width="55.2" height="52.4" fill="none" stroke="#000" stroke-width="1.6"/>
<line x1="405.7" y1="31.4" x2="405.7" y2="172" stroke="#000" stroke-width="1.6"/>
<line x1="346.4" y1="120.5" x2="488" y2="120.5" stroke="#000" stroke-width="1.6"/>
<line x1="403.4" y1="194.1" x2="403.4" y2="334.8" stroke="#000" stroke-width="1.6"/>
<line x1="344.9" y1="283.2" x2="485.9" y2="283.2" stroke="#000" stroke-width="1.6"/>
<text x="248.5" y="49.2" font-size="19" font-weight="bold" text-anchor="middle" >51.6</text>
<text x="249.2" y="212.8" font-size="19.5" font-weight="bold" text-anchor="middle" >41</text>
<text x="464.4" y="48.8" font-size="19" font-weight="bold" text-anchor="middle" >13.5</text>
<text x="462.3" y="212.8" font-size="19" font-weight="bold" text-anchor="middle" >28.8</text>
<text x="348.5" y="45.8" font-size="12.6" font-weight="normal" text-anchor="start" >6.24</text>
<rect x="348.5" y="159" width="27" height="12" fill="#fff"/>
<text x="349.5" y="169.2" font-size="12.6" font-weight="normal" text-anchor="start" >68.7</text>
<rect x="471" y="159" width="15.5" height="14" fill="#fff"/>
<text x="486.5" y="170.3" font-size="12.8" font-weight="normal" text-anchor="end" >12</text>
<text x="347.2" y="209" font-size="12.6" font-weight="normal" text-anchor="start" >10.4</text>
<rect x="347.5" y="323" width="27" height="11.5" fill="#fff"/>
<text x="348.2" y="333.3" font-size="12.6" font-weight="normal" text-anchor="start" >53.9</text>
<rect x="463" y="322" width="22.5" height="14" fill="#fff"/>
<text x="484" y="333.3" font-size="12.6" font-weight="normal" text-anchor="end" >7.6</text>
<path d="M102.4,284.4V40" stroke="#000" stroke-width="2"/>
<path d="M102.4,32L106.0,41.2L98.80000000000001,41.2Z" fill="#000"/>
<path d="M316.9,289.6V40.7" stroke="#000" stroke-width="2"/>
<path d="M316.9,32.7L320.5,41.900000000000006L313.29999999999995,41.900000000000006Z" fill="#000"/>
<path d="M165,360.2H276.5" stroke="#000" stroke-width="2"/>
<path d="M280.5,360.2L274.5,357.2L274.5,363.2Z" fill="#000"/>
<path d="M386,360H488" stroke="#000" stroke-width="2"/>
<path d="M492,360L486,357L486,363Z" fill="#000"/>
<text transform="translate(109.3,314.3) rotate(-90)" font-size="16.5" font-weight="normal" text-anchor="middle">CD62L</text>
<text transform="translate(322.5,321.5) rotate(-90)" font-size="17.5" font-weight="normal" text-anchor="middle">FoxP3</text>
<text x="114.2" y="365.8" font-size="17" font-weight="normal" text-anchor="start" >CD44</text>
<text x="335.6" y="365.3" font-size="17" font-weight="normal" text-anchor="start" >CD25</text>
<text x="-1.8" y="402.5" font-size="27" font-weight="normal" text-anchor="start" style="stroke-width:1.0px">B</text>
<line x1="100.2" y1="419.27000000000004" x2="100.2" y2="595.1" stroke="#000" stroke-width="1.8"/>
<line x1="94.9" y1="594.2" x2="217" y2="594.2" stroke="#000" stroke-width="1.8"/>
<line x1="94.9" y1="594.2" x2="100.2" y2="594.2" stroke="#000" stroke-width="1.6"/>
<text transform="translate(93.20,600.43) scale(1.07,1)" font-size="13.2" font-weight="bold" text-anchor="end" style="stroke-width:0.35px">0</text>
<line x1="94.9" y1="578.37" x2="100.2" y2="578.37" stroke="#000" stroke-width="1.6"/>
<text transform="translate(93.20,584.60) scale(1.07,1)" font-size="13.2" font-weight="bold" text-anchor="end" style="stroke-width:0.35px">1</text>
<line x1="94.9" y1="562.5400000000001" x2="100.2" y2="562.5400000000001" stroke="#000" stroke-width="1.6"/>
<text transform="translate(93.20,568.77) scale(1.07,1)" font-size="13.2" font-weight="bold" text-anchor="end" style="stroke-width:0.35px">2</text>
<line x1="94.9" y1="546.71" x2="100.2" y2="546.71" stroke="#000" stroke-width="1.6"/>
<text transform="translate(93.20,552.94) scale(1.07,1)" font-size="13.2" font-weight="bold" text-anchor="end" style="stroke-width:0.35px">3</text>
<line x1="94.9" y1="530.88" x2="100.2" y2="530.88" stroke="#000" stroke-width="1.6"/>
<text transform="translate(93.20,537.11) scale(1.07,1)" font-size="13.2" font-weight="bold" text-anchor="end" style="stroke-width:0.35px">4</text>
<line x1="94.9" y1="515.0500000000001" x2="100.2" y2="515.0500000000001" stroke="#000" stroke-width="1.6"/>
<text transform="translate(93.20,521.28) scale(1.07,1)" font-size="13.2" font-weight="bold" text-anchor="end" style="stroke-width:0.35px">5</text>
<line x1="94.9" y1="499.22" x2="100.2" y2="499.22" stroke="#000" stroke-width="1.6"/>
<text transform="translate(93.20,505.45) scale(1.07,1)" font-size="13.2" font-weight="bold" text-anchor="end" style="stroke-width:0.35px">6</text>
<line x1="94.9" y1="483.39000000000004" x2="100.2" y2="483.39000000000004" stroke="#000" stroke-width="1.6"/>
<text transform="translate(93.20,489.62) scale(1.07,1)" font-size="13.2" font-weight="bold" text-anchor="end" style="stroke-width:0.35px">7</text>
<line x1="94.9" y1="467.56000000000006" x2="100.2" y2="467.56000000000006" stroke="#000" stroke-width="1.6"/>
<text transform="translate(93.20,473.79) scale(1.07,1)" font-size="13.2" font-weight="bold" text-anchor="end" style="stroke-width:0.35px">8</text>
<line x1="94.9" y1="451.73" x2="100.2" y2="451.73" stroke="#000" stroke-width="1.6"/>
<text transform="translate(93.20,457.96) scale(1.07,1)" font-size="13.2" font-weight="bold" text-anchor="end" style="stroke-width:0.35px">9</text>
<line x1="94.9" y1="435.90000000000003" x2="100.2" y2="435.90000000000003" stroke="#000" stroke-width="1.6"/>
<text transform="translate(93.20,442.13) scale(1.07,1)" font-size="13.2" font-weight="bold" text-anchor="end" style="stroke-width:0.35px">10</text>
<line x1="94.9" y1="420.07000000000005" x2="100.2" y2="420.07000000000005" stroke="#000" stroke-width="1.6"/>
<text transform="translate(93.20,426.30) scale(1.07,1)" font-size="13.2" font-weight="bold" text-anchor="end" style="stroke-width:0.35px">11</text>
<line x1="129.05" y1="537.212" x2="129.05" y2="522.965" stroke="#000" stroke-width="1.6"/>
<line x1="121.53600000000002" y1="522.965" x2="136.56400000000002" y2="522.965" stroke="#000" stroke-width="1.6"/>
<rect x="114.6" y="537.21" width="28.900000000000006" height="56.99" fill="#fff" stroke="#000" stroke-width="1.7"/>
<line x1="157.8" y1="450.14700000000005" x2="157.8" y2="430.3595" stroke="#000" stroke-width="1.6"/>
<line x1="150.364" y1="430.3595" x2="165.23600000000002" y2="430.3595" stroke="#000" stroke-width="1.6"/>
<rect x="143.5" y="450.15" width="28.599999999999994" height="144.05" fill="#000" stroke="#000" stroke-width="1.7"/>
<line x1="126" y1="416.4" x2="160" y2="416.4" stroke="#000" stroke-width="1.4"/>
<text x="139.95" y="413.70" font-size="9" font-weight="bold" text-anchor="middle" style="stroke-width:0.15px">*</text>
<text x="146.05" y="413.70" font-size="9" font-weight="bold" text-anchor="middle" style="stroke-width:0.15px">*</text>
<text transform="translate(42.2,498) rotate(-90)" font-size="17.5" font-weight="normal" text-anchor="middle">Number of</text>
<text transform="translate(61.2,495.6) rotate(-90)" font-size="17" font-weight="normal" text-anchor="middle">FoxP3+ tg cells (x104)</text>
<text x="241.8" y="403.3" font-size="27.5" font-weight="normal" text-anchor="start" style="stroke-width:1.0px">C</text>
<line x1="320.3" y1="417.59999999999997" x2="320.3" y2="593.9" stroke="#000" stroke-width="1.8"/>
<line x1="315.0" y1="593" x2="438" y2="593" stroke="#000" stroke-width="1.8"/>
<line x1="315.0" y1="593.0" x2="320.3" y2="593.0" stroke="#000" stroke-width="1.6"/>
<text transform="translate(313.30,599.62) scale(1.07,1)" font-size="14.3" font-weight="bold" text-anchor="end" style="stroke-width:0.35px">0</text>
<line x1="315.0" y1="534.8" x2="320.3" y2="534.8" stroke="#000" stroke-width="1.6"/>
<text transform="translate(313.30,541.42) scale(1.07,1)" font-size="14.3" font-weight="bold" text-anchor="end" style="stroke-width:0.35px">1</text>
<line x1="315.0" y1="476.6" x2="320.3" y2="476.6" stroke="#000" stroke-width="1.6"/>
<text transform="translate(313.30,483.22) scale(1.07,1)" font-size="14.3" font-weight="bold" text-anchor="end" style="stroke-width:0.35px">2</text>
<line x1="315.0" y1="418.4" x2="320.3" y2="418.4" stroke="#000" stroke-width="1.6"/>
<text transform="translate(313.30,425.02) scale(1.07,1)" font-size="14.3" font-weight="bold" text-anchor="end" style="stroke-width:0.35px">3</text>
<line x1="349.5" y1="431.204" x2="349.5" y2="424.802" stroke="#000" stroke-width="1.6"/>
<line x1="341.7" y1="424.802" x2="357.3" y2="424.802" stroke="#000" stroke-width="1.6"/>
<rect x="334.5" y="431.20" width="30.0" height="161.80" fill="#fff" stroke="#000" stroke-width="1.7"/>
<line x1="378.7" y1="504.536" x2="378.7" y2="501.626" stroke="#000" stroke-width="1.6"/>
<line x1="371.316" y1="501.626" x2="386.084" y2="501.626" stroke="#000" stroke-width="1.6"/>
<rect x="364.5" y="504.54" width="28.399999999999977" height="88.46" fill="#000" stroke="#000" stroke-width="1.7"/>
<line x1="347.8" y1="412.6" x2="383.7" y2="412.6" stroke="#000" stroke-width="1.4"/>
<text x="363.15" y="406.10" font-size="8.5" font-weight="bold" text-anchor="middle" style="stroke-width:0.15px">*</text>
<text x="368.35" y="406.10" font-size="8.5" font-weight="bold" text-anchor="middle" style="stroke-width:0.15px">*</text>
<text transform="translate(271,504) rotate(-90)" font-size="17" font-weight="normal" text-anchor="middle">Ratio of tg</text>
<text transform="translate(292.7,504.5) rotate(-90)" font-size="17" font-weight="normal" text-anchor="middle">CD4 effmem/Treg</text>
<rect x="432.1" y="409.5" width="20.3" height="13.5" fill="#fff" stroke="#000" stroke-width="2.6"/>
<rect x="432.7" y="429.2" width="20.1" height="13.2" fill="#000" stroke="none" stroke-width="0"/>
<text x="459.6" y="420.1" font-size="14.3" font-weight="normal" text-anchor="start" >control Ig</text>
<text x="459.4" y="439.4" font-size="14.6" font-weight="normal" text-anchor="start" >RMT4-53</text>
<text x="-3.2" y="639.9" font-size="27" font-weight="normal" text-anchor="start" style="stroke-width:1.0px">D</text>
<text x="126.2" y="643.5" font-size="19.5" font-weight="normal" text-anchor="start" style="stroke-width:0.75px">IFN</text>
<text transform="translate(158,643.5) scale(0.8,1)" font-size="19.5" style="stroke-width:0.6px">&#947;</text>
<text x="292.7" y="643.5" font-size="19.5" font-weight="normal" text-anchor="middle" style="stroke-width:0.5px">IL4</text>
<text x="442.6" y="643.5" font-size="19.5" font-weight="normal" text-anchor="middle" style="stroke-width:0.5px">IL10</text>
<line x1="93.4" y1="682.0" x2="93.4" y2="841.6999999999999" stroke="#000" stroke-width="1.8"/>
<line x1="88.10000000000001" y1="840.8" x2="210.6" y2="840.8" stroke="#000" stroke-width="1.8"/>
<line x1="88.10000000000001" y1="840.8" x2="93.4" y2="840.8" stroke="#000" stroke-width="1.6"/>
<text transform="translate(86.40,846.95) scale(1.07,1)" font-size="13" font-weight="bold" text-anchor="end" style="stroke-width:0.35px">0</text>
<line x1="88.10000000000001" y1="821.05" x2="93.4" y2="821.05" stroke="#000" stroke-width="1.6"/>
<text transform="translate(86.40,827.20) scale(1.07,1)" font-size="13" font-weight="bold" text-anchor="end" style="stroke-width:0.35px">10</text>
<line x1="88.10000000000001" y1="801.3" x2="93.4" y2="801.3" stroke="#000" stroke-width="1.6"/>
<text transform="translate(86.40,807.45) scale(1.07,1)" font-size="13" font-weight="bold" text-anchor="end" style="stroke-width:0.35px">20</text>
<line x1="88.10000000000001" y1="781.55" x2="93.4" y2="781.55" stroke="#000" stroke-width="1.6"/>
<text transform="translate(86.40,787.70) scale(1.07,1)" font-size="13" font-weight="bold" text-anchor="end" style="stroke-width:0.35px">30</text>
<line x1="88.10000000000001" y1="761.8" x2="93.4" y2="761.8" stroke="#000" stroke-width="1.6"/>
<text transform="translate(86.40,767.95) scale(1.07,1)" font-size="13" font-weight="bold" text-anchor="end" style="stroke-width:0.35px">40</text>
<line x1="88.10000000000001" y1="742.05" x2="93.4" y2="742.05" stroke="#000" stroke-width="1.6"/>
<text transform="translate(86.40,748.20) scale(1.07,1)" font-size="13" font-weight="bold" text-anchor="end" style="stroke-width:0.35px">50</text>
<line x1="88.10000000000001" y1="722.3" x2="93.4" y2="722.3" stroke="#000" stroke-width="1.6"/>
<text transform="translate(86.40,728.45) scale(1.07,1)" font-size="13" font-weight="bold" text-anchor="end" style="stroke-width:0.35px">60</text>
<line x1="88.10000000000001" y1="702.55" x2="93.4" y2="702.55" stroke="#000" stroke-width="1.6"/>
<text transform="translate(86.40,708.70) scale(1.07,1)" font-size="13" font-weight="bold" text-anchor="end" style="stroke-width:0.35px">70</text>
<line x1="88.10000000000001" y1="682.8" x2="93.4" y2="682.8" stroke="#000" stroke-width="1.6"/>
<text transform="translate(86.40,688.95) scale(1.07,1)" font-size="13" font-weight="bold" text-anchor="end" style="stroke-width:0.35px">80</text>
<line x1="121.89999999999999" y1="686.3549999999999" x2="121.89999999999999" y2="685.17" stroke="#000" stroke-width="1.6"/>
<line x1="114.204" y1="685.17" x2="129.596" y2="685.17" stroke="#000" stroke-width="1.6"/>
<rect x="107.1" y="686.35" width="29.599999999999994" height="154.45" fill="#fff" stroke="#000" stroke-width="1.7"/>
<line x1="151.1" y1="722.3" x2="151.1" y2="715.9799999999999" stroke="#000" stroke-width="1.6"/>
<line x1="143.612" y1="715.9799999999999" x2="158.588" y2="715.9799999999999" stroke="#000" stroke-width="1.6"/>
<rect x="136.7" y="722.30" width="28.80000000000001" height="118.50" fill="#000" stroke="#000" stroke-width="1.7"/>
<line x1="120.4" y1="670.8" x2="153" y2="670.8" stroke="#000" stroke-width="1.4"/>
<text x="134.40" y="666.90" font-size="8" font-weight="bold" text-anchor="middle" style="stroke-width:0.15px">*</text>
<text x="139.00" y="666.90" font-size="8" font-weight="bold" text-anchor="middle" style="stroke-width:0.15px">*</text>
<line x1="243.8" y1="681.8800000000001" x2="243.8" y2="841.1" stroke="#000" stroke-width="1.8"/>
<line x1="238.5" y1="840.2" x2="360" y2="840.2" stroke="#000" stroke-width="1.8"/>
<line x1="238.5" y1="840.2" x2="243.8" y2="840.2" stroke="#000" stroke-width="1.6"/>
<text transform="translate(236.80,846.10) scale(1.07,1)" font-size="12.3" font-weight="bold" text-anchor="end" style="stroke-width:0.35px">0</text>
<line x1="238.5" y1="825.88" x2="243.8" y2="825.88" stroke="#000" stroke-width="1.6"/>
<text transform="translate(236.80,831.78) scale(1.07,1)" font-size="12.3" font-weight="bold" text-anchor="end" style="stroke-width:0.35px">1</text>
<line x1="238.5" y1="811.5600000000001" x2="243.8" y2="811.5600000000001" stroke="#000" stroke-width="1.6"/>
<text transform="translate(236.80,817.46) scale(1.07,1)" font-size="12.3" font-weight="bold" text-anchor="end" style="stroke-width:0.35px">2</text>
<line x1="238.5" y1="797.24" x2="243.8" y2="797.24" stroke="#000" stroke-width="1.6"/>
<text transform="translate(236.80,803.14) scale(1.07,1)" font-size="12.3" font-weight="bold" text-anchor="end" style="stroke-width:0.35px">3</text>
<line x1="238.5" y1="782.9200000000001" x2="243.8" y2="782.9200000000001" stroke="#000" stroke-width="1.6"/>
<text transform="translate(236.80,788.82) scale(1.07,1)" font-size="12.3" font-weight="bold" text-anchor="end" style="stroke-width:0.35px">4</text>
<line x1="238.5" y1="768.6" x2="243.8" y2="768.6" stroke="#000" stroke-width="1.6"/>
<text transform="translate(236.80,774.50) scale(1.07,1)" font-size="12.3" font-weight="bold" text-anchor="end" style="stroke-width:0.35px">5</text>
<line x1="238.5" y1="754.2800000000001" x2="243.8" y2="754.2800000000001" stroke="#000" stroke-width="1.6"/>
<text transform="translate(236.80,760.18) scale(1.07,1)" font-size="12.3" font-weight="bold" text-anchor="end" style="stroke-width:0.35px">6</text>
<line x1="238.5" y1="739.96" x2="243.8" y2="739.96" stroke="#000" stroke-width="1.6"/>
<text transform="translate(236.80,745.86) scale(1.07,1)" font-size="12.3" font-weight="bold" text-anchor="end" style="stroke-width:0.35px">7</text>
<line x1="238.5" y1="725.6400000000001" x2="243.8" y2="725.6400000000001" stroke="#000" stroke-width="1.6"/>
<text transform="translate(236.80,731.54) scale(1.07,1)" font-size="12.3" font-weight="bold" text-anchor="end" style="stroke-width:0.35px">8</text>
<line x1="238.5" y1="711.32" x2="243.8" y2="711.32" stroke="#000" stroke-width="1.6"/>
<text transform="translate(236.80,717.22) scale(1.07,1)" font-size="12.3" font-weight="bold" text-anchor="end" style="stroke-width:0.35px">9</text>
<line x1="238.5" y1="697.0" x2="243.8" y2="697.0" stroke="#000" stroke-width="1.6"/>
<text transform="translate(236.80,702.90) scale(1.07,1)" font-size="12.3" font-weight="bold" text-anchor="end" style="stroke-width:0.35px">10</text>
<line x1="238.5" y1="682.6800000000001" x2="243.8" y2="682.6800000000001" stroke="#000" stroke-width="1.6"/>
<text transform="translate(236.80,688.58) scale(1.07,1)" font-size="12.3" font-weight="bold" text-anchor="end" style="stroke-width:0.35px">11</text>
<line x1="272.5" y1="713.4680000000001" x2="272.5" y2="695.568" stroke="#000" stroke-width="1.6"/>
<line x1="264.804" y1="695.568" x2="280.196" y2="695.568" stroke="#000" stroke-width="1.6"/>
<rect x="257.7" y="713.47" width="29.600000000000023" height="126.73" fill="#fff" stroke="#000" stroke-width="1.7"/>
<line x1="301.75" y1="811.8464" x2="301.75" y2="806.8344000000001" stroke="#000" stroke-width="1.6"/>
<line x1="294.236" y1="806.8344000000001" x2="309.264" y2="806.8344000000001" stroke="#000" stroke-width="1.6"/>
<rect x="287.3" y="811.85" width="28.899999999999977" height="28.35" fill="#000" stroke="#000" stroke-width="1.7"/>
<line x1="272.4" y1="679.3" x2="305" y2="679.3" stroke="#000" stroke-width="1.4"/>
<text x="286.55" y="676.10" font-size="8" font-weight="bold" text-anchor="middle" style="stroke-width:0.15px">*</text>
<text x="290.85" y="676.10" font-size="8" font-weight="bold" text-anchor="middle" style="stroke-width:0.15px">*</text>
<line x1="393.6" y1="681.7" x2="393.6" y2="841.6999999999999" stroke="#000" stroke-width="1.8"/>
<line x1="388.3" y1="840.8" x2="512" y2="840.8" stroke="#000" stroke-width="1.8"/>
<line x1="388.3" y1="840.8" x2="393.6" y2="840.8" stroke="#000" stroke-width="1.6"/>
<text transform="translate(386.60,846.95) scale(1.07,1)" font-size="13" font-weight="bold" text-anchor="end" style="stroke-width:0.35px">0</text>
<line x1="388.3" y1="801.2249999999999" x2="393.6" y2="801.2249999999999" stroke="#000" stroke-width="1.6"/>
<text transform="translate(386.60,807.38) scale(1.07,1)" font-size="13" font-weight="bold" text-anchor="end" style="stroke-width:0.35px">5</text>
<line x1="388.3" y1="761.65" x2="393.6" y2="761.65" stroke="#000" stroke-width="1.6"/>
<text transform="translate(386.60,767.80) scale(1.07,1)" font-size="13" font-weight="bold" text-anchor="end" style="stroke-width:0.35px">10</text>
<line x1="388.3" y1="722.0749999999999" x2="393.6" y2="722.0749999999999" stroke="#000" stroke-width="1.6"/>
<text transform="translate(386.60,728.23) scale(1.07,1)" font-size="13" font-weight="bold" text-anchor="end" style="stroke-width:0.35px">15</text>
<line x1="388.3" y1="682.5" x2="393.6" y2="682.5" stroke="#000" stroke-width="1.6"/>
<text transform="translate(386.60,688.65) scale(1.07,1)" font-size="13" font-weight="bold" text-anchor="end" style="stroke-width:0.35px">20</text>
<line x1="422.95000000000005" y1="775.1054999999999" x2="422.95000000000005" y2="763.62875" stroke="#000" stroke-width="1.6"/>
<line x1="415.59200000000004" y1="763.62875" x2="430.30800000000005" y2="763.62875" stroke="#000" stroke-width="1.6"/>
<rect x="408.8" y="775.11" width="28.30000000000001" height="65.69" fill="#fff" stroke="#000" stroke-width="1.7"/>
<line x1="451.95000000000005" y1="703.8705" x2="451.95000000000005" y2="696.747" stroke="#000" stroke-width="1.6"/>
<line x1="444.22800000000007" y1="696.747" x2="459.672" y2="696.747" stroke="#000" stroke-width="1.6"/>
<rect x="437.1" y="703.87" width="29.69999999999999" height="136.93" fill="#000" stroke="#000" stroke-width="1.7"/>
<line x1="421.7" y1="683.3" x2="453.2" y2="683.3" stroke="#000" stroke-width="1.4"/>
<text x="437.45" y="679.30" font-size="8" font-weight="bold" text-anchor="middle" style="stroke-width:0.15px">*</text>
<text transform="translate(30.2,760) rotate(-90)" font-size="17" font-weight="normal" text-anchor="middle">% cytokine producing</text>
<text transform="translate(52,757) rotate(-90)" font-size="17" font-weight="normal" text-anchor="middle">(of tg cells)</text>
</svg></body></html>
